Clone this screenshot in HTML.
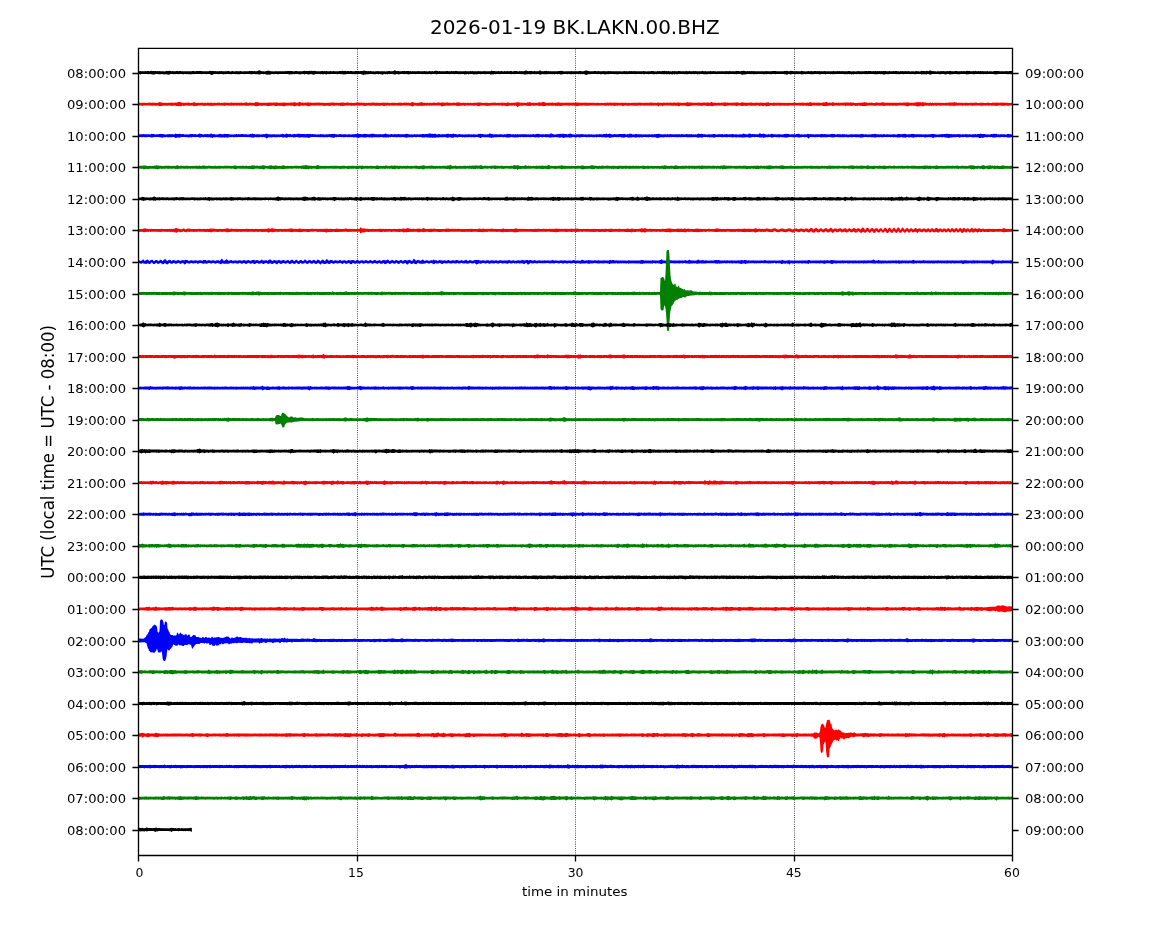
<!DOCTYPE html><html><head><meta charset="utf-8"><title>2026-01-19 BK.LAKN.00.BHZ</title><style>html,body{margin:0;padding:0;background:#fff;overflow:hidden;}svg{display:block;}text{font-family:'DejaVu Sans', 'Liberation Sans', sans-serif;fill:#000;}</style></head><body>
<svg width="1150" height="950" viewBox="0 0 1150 950">
<rect width="1150" height="950" fill="#fff"/>
<line x1="357.5" y1="855.5" x2="357.5" y2="48.4" stroke="#000" stroke-width="0.83" stroke-dasharray="0.83 1.37"/>
<line x1="575.5" y1="855.5" x2="575.5" y2="48.4" stroke="#000" stroke-width="0.83" stroke-dasharray="0.83 1.37"/>
<line x1="794.5" y1="855.5" x2="794.5" y2="48.4" stroke="#000" stroke-width="0.83" stroke-dasharray="0.83 1.37"/>
<g>
<path fill="#000000" d="M138.5 71.3l1-.1 1-.1 1 .1 1 0 1 0 1 .1 1-.2 1 .2 1-.3 1 0 1 .2 1-.2 1-.2 1 .3 1-.1 1 .1 1-.1 1 .2 1-.1 1 .2 1-.2 1 .2 1-.1 1 0 1 0 1 .2 1-.2 1-.2 1 0 1-.1 1-.1 1 .3 1 .2 1-.2 1 .1 1 0 1 .1 1-.2 1 0 1 .2 1-.2 1 0 1 .2 1 0 1 0 1-.1 1 0 1 0 1 0 1 .1 1-.1 1 0 1 0 1-.1 1 0 1 .1 1 0 1-.1 1 0 1-.1 1 0 1 .1 1 0 1 .1 1 0 1 0 1 0 1 0 1 0 1 .1 1-.3 1-.3 1 .2 1 0 1 .2 1 .1 1-.1 1 .2 1-.1 1 .1 1-.2 1 .1 1-.1 1 .1 1 .1 1-.1 1 0 1 0 1-.1 1 0 1 .2 1 .1 1-.2 1-.1 1 .1 1 .2 1-.1 1-.2 1 .2 1-.1 1 0 1-.2 1 .2 1 .2 1-.1 1-.1 1 0 1 .1 1 0 1 0 1-.2 1-.1 1 0 1 .1 1 .2 1-.2 1 .1 1 0 1-.1 1-.7 1-.1 1 .4 1 .5 1 .1 1-.1 1 .2 1-.1 1-.4 1-.2 1 .1 1 0 1 .4 1 .1 1 0 1 .1 1-.2 1 .1 1-.1 1 .1 1 0 1-.1 1 0 1 0 1 0 1 .1 1-.1 1-.2 1 .2 1-.2 1 0 1 0 1-.1 1 .2 1 0 1 .3 1-.1 1-.3 1 0 1 .3 1-.1 1 .1 1 0 1-.1 1 .1 1-.2 1-.3 1 .3 1-.2 1 0 1 .2 1-.3 1 .2 1-.2 1 .2 1-.1 1-.1 1 .3 1 .2 1 0 1-.1 1 .1 1 0 1-.2 1 0 1 .1 1-.1 1 .2 1-.4 1 .3 1 .1 1 0 1-.2 1 .1 1 .1 1-.2 1 .2 1 0 1 0 1-.1 1 0 1-.1 1-.2 1 .2 1-.4 1 .2 1 0 1-.1 1 .4 1-.1 1-.1 1 .2 1-.1 1 0 1 .2 1-.1 1 .1 1-.2 1 0 1-.1 1 .1 1 .2 1-.3 1 0 1 0 1-.3 1-.2 1 .4 1 .2 1 .1 1-.1 1 .1 1-.1 1 .2 1-.1 1 0 1 .2 1-.2 1 0 1-.1 1 .1 1 0 1 0 1 0 1 0 1 0 1 0 1 .2 1-.1 1 0 1-.2 1-.1 1 .3 1 0 1 0 1-.3 1-.7 1 .2 1 .7 1-.2 1 .1 1 .1 1 0 1 0 1-.1 1 0 1-.1 1 .2 1-.1 1-.1 1 0 1 .2 1-.1 1 .3 1-.5 1 .3 1 .1 1-.1 1 0 1 0 1-.2 1 .2 1 0 1 0 1 .1 1-.1 1-.1 1 .2 1-.1 1 .2 1-.2 1-.1 1 .1 1 0 1-.1 1 .3 1-.5 1-.2 1 .1 1 .1 1 .3 1-.1 1 .2 1-.1 1 0 1 .1 1-.1 1 .1 1-.2 1-.2 1 .4 1-.1 1 0 1-.2 1 .2 1-.2 1 .2 1-.1 1 0 1 .2 1 0 1-.1 1 0 1 0 1 0 1 .1 1-.1 1-.1 1 .1 1 0 1 0 1 0 1-.2 1 .2 1-.2 1 .2 1 0 1 .1 1 0 1 0 1-.2 1 .2 1-.1 1 0 1 .1 1-.1 1-.1 1 .1 1 0 1 0 1 .1 1-.1 1 0 1-.7 1 .6 1-.1 1-.1 1 .4 1 0 1 0 1-.4 1 .3 1 0 1-.2 1 .2 1 .2 1-.3 1 .1 1 0 1-.2 1 .2 1 .1 1-.4 1 .2 1 .3 1-.1 1-.2 1 0 1-.2 1 .3 1 .2 1-.3 1 .2 1-.2 1 .1 1 0 1-.2 1-.4 1 0 1 .5 1 .2 1-.2 1 0 1 0 1 .2 1-.1 1-.1 1 .1 1 0 1 .1 1 0 1-.9 1 .2 1 .6 1 .1 1-.1 1-.2 1-.1 1-.2 1 .5 1-.2 1 .2 1 0 1 0 1 .1 1 0 1 0 1-.1 1 .1 1-.1 1-.2 1 .1 1-.1 1-.2 1 .2 1 .2 1 .2 1-.2 1 .1 1-.1 1 0 1 .1 1-.1 1-.1 1 .1 1 0 1 .1 1 0 1-.1 1 .1 1-.1 1-.1 1 0 1 .1 1 0 1 0 1-.2 1-.6 1 .2 1 .2 1 .3 1 .1 1 0 1 .1 1-.1 1 .1 1-.3 1 0 1 .2 1 0 1-.2 1 .3 1-.1 1 0 1 .1 1-.2 1 .1 1 0 1 .1 1-.1 1-.1 1 .1 1-.1 1 .1 1 .1 1-.1 1 0 1 .1 1-.1 1 0 1 0 1 .1 1 0 1 .1 1-.1 1-.1 1-.1 1 .2 1 0 1 0 1-.1 1-.2 1 .2 1-.2 1 .2 1 0 1-.2 1 .3 1-.1 1 0 1 .1 1 0 1-.1 1 .1 1 0 1-.3 1 .2 1 0 1 .2 1-.2 1 .1 1-.1 1 0 1-.1 1 0 1-.1 1 .4 1-.2 1 .2 1-.3 1 .1 1-.1 1 .2 1-.1 1-.1 1-.2 1-.1 1 .5 1-.4 1 .3 1-.1 1 .2 1-.1 1 .2 1-.3 1 .1 1-.1 1 .1 1 0 1 .1 1-.4 1 .2 1 .2 1-.1 1 .1 1 0 1 0 1 0 1-.2 1 .2 1-.1 1-.1 1 .2 1 0 1-.1 1-.1 1 .1 1-.1 1 .2 1 0 1 0 1 0 1 0 1 0 1-.5 1 .5 1-.1 1-.1 1 .3 1-.2 1 .1 1 0 1-.3 1 .3 1-.1 1-.2 1 .3 1 0 1 .1 1-.2 1 .1 1 0 1 0 1-.1 1 .1 1-.1 1 .1 1-.1 1-.1 1 .1 1 0 1-.2 1 .2 1 0 1 .1 1 0 1 0 1 0 1-.2 1 0 1-.1 1 .2 1 .1 1-.4 1 0 1-.2 1 .2 1 .3 1 0 1-.1 1 .2 1-.2 1 .1 1-.2 1 .2 1-.2 1 .3 1-.1 1 0 1 0 1 .1 1-.1 1 0 1 0 1 .1 1-.1 1 .1 1-.1 1-.1 1 .1 1 .1 1-.1 1 0 1 0 1-.1 1-.1 1 .1 1 0 1 .1 1 0 1 0 1 0 1 0 1 .1 1 0 1-.1 1-.1 1-.1 1-.3 1 .3 1 .2 1 .1 1-.6 1 .3 1 .1 1 .2 1 0 1 0 1-.3 1 .2 1 0 1 0 1 0 1-.4 1 .1 1 .3 1 .1 1 .1 1-.1 1-.1 1-.1 1 .1 1 0 1-.1 1 .1 1 0 1-.3 1 .2 1 .1 1-.2 1 .2 1-.3 1 .4 1-.1 1 0 1 0 1-.1 1 .1 1 0 1 .1 1 0 1-.1 1 .1 1 0 1 0 1-.2 1 .1 1 0 1 0 1-.1 1 .2 1-.2 1 .1 1 .1 1-.3 1 .3 1 0 1 0 1 0 1-.1 1-.1 1 0 1 .1 1 .2 1-.2 1 0 1 .1 1 .1 1-.2 1 0 1-.1 1 .2 1-.1 1 0 1 0 1 0 1 0 1-.1 1 0 1 .1 1-.1 1 0 1 0 1 .2 1 0 1-.2 1 .1 1-.2 1 .2 1-.2 1 .3 1-.3 1 .2 1-.2 1 .3 1-.3 1 .1 1 0 1 .2 1 0 1 0 1-.3 1 .3 1-.1 1 .1 1-.3 1 .3 1-.2 1 0 1 .1 1 .1 1 .1 1-.3 1 .2 1-.2 1 .1 1 0 1-.2 1 .2 1 0 1-.1 1 .2 1 .1 1-.2 1 0 1 .1 1 .1 1-.2 1-.1 1 .1 1 0 1 .2 1-.2 1-.4 1 .2 1 .1 1 0 1 .1 1-.4 1 .2 1 .3 1-.7 1 0 1 .5 1 .1 1-.1 1 .1 1 0 1 .2 1-.2 1 0 1 0 1 0 1-.3 1 .3 1-.2 1 .3 1-.1 1 0 1-.1 1 .1 1-.3 1 .2 1 .2 1 0 1-.1 1 0 1-.2 1 0 1 .2 1 .1 1-.1 1 .1 1-.2 1 .2 1-.2 1 .1 1 0 1-.3 1-.2 1 .2 1 .2 1 .2 1 0 1-.1 1-.2 1 .3 1-.5 1 .5 1-.1 1-.2 1 .3 1-.2 1 .2 1-.2 1 .2 1 0 1 0 1 0 1-.4 1 .5 1-.1 1-.1 1 .1 1 .1 1-.2 1-.1 1-.2 1 .1 1 0 1 .1 1 .1 1 0 1 .1 1-.1 1 .1 1-.1 1 .1 1-.2 1 .2 1-.1 1-.2 1 0 1 .1 1 .1 0 2.8-1 .2-1 0-1-.2-1 .3-1 0-1-.4-1 .1-1 0-1 0-1 .1-1-.1-1 0-1 .1-1 0-1 .1-1 .1-1 .3-1-.4-1-.1-1 0-1-.1-1 0-1 .1-1-.1-1 .1-1 .1-1-.2-1 0-1 .2-1-.2-1 0-1 .2-1-.2-1 .1-1-.1-1 .1-1 0-1 .1-1 .1-1-.3-1 .1-1-.2-1 .1-1 .3-1 0-1 .2-1-.4-1 0-1 0-1-.1-1 0-1 0-1 .2-1 0-1 0-1-.2-1 0-1 0-1 0-1 .3-1-.1-1 .1-1 .2-1-.4-1-.1-1 .3-1 .1-1-.1-1-.3-1 0-1-.1-1 .3-1 0-1-.2-1 .1-1-.1-1 .1-1 0-1-.1-1 .1-1 .2-1 .4-1-.3-1-.4-1 .1-1 .4-1-.2-1-.1-1 0-1 0-1 .4-1-.5-1 0-1 0-1 0-1 0-1 .1-1 .1-1-.2-1-.1-1-.1-1 .4-1-.2-1 0-1-.2-1 .1-1 0-1-.1-1 .4-1-.2-1-.2-1 .2-1 .1-1 0-1-.2-1 .2-1-.2-1 0-1 .1-1-.1-1 .1-1-.1-1 .1-1 .2-1-.1-1-.2-1 .2-1 .3-1 .1-1-.4-1-.1-1 .1-1-.3-1 .2-1 .1-1 .1-1-.1-1 0-1-.2-1 .1-1 0-1-.1-1 0-1 0-1 .2-1-.1-1 .1-1-.1-1 0-1-.1-1 .2-1-.1-1 .1-1-.1-1 0-1 .1-1-.1-1-.1-1 .4-1-.4-1 .4-1-.3-1 .1-1-.2-1 .2-1-.1-1 .1-1 0-1-.2-1 .1-1-.1-1 .1-1-.1-1-.1-1 0-1 .1-1 .1-1 .1-1-.2-1 .2-1-.3-1 .4-1-.2-1 0-1 0-1-.1-1 .4-1-.3-1 0-1 0-1-.1-1 .2-1 .2-1-.3-1-.2-1 .2-1-.1-1 .1-1 .2-1-.1-1 0-1 0-1-.2-1 0-1 0-1 0-1 .2-1-.1-1 .2-1 0-1 .2-1-.4-1 0-1 .1-1-.2-1 .1-1 .1-1-.1-1-.1-1-.1-1 .4-1 .1-1-.3-1 0-1 .3-1 .4-1-.5-1-.1-1-.1-1 0-1-.1-1 .1-1-.1-1 0-1 .1-1-.1-1 .2-1-.1-1-.1-1 .1-1 .1-1-.3-1 .3-1-.1-1 0-1 .1-1-.1-1 .1-1 .1-1-.3-1 .1-1 0-1-.1-1 0-1 .1-1 .1-1-.2-1 .2-1 0-1-.3-1 .1-1 .2-1-.1-1-.1-1 .1-1 .2-1-.1-1 .4-1-.1-1 .2-1-.2-1-.4-1 0-1 0-1-.1-1 .2-1-.1-1 .2-1-.2-1-.1-1 .1-1 0-1 0-1 .1-1-.2-1 0-1 .2-1-.1-1 0-1-.1-1 .1-1-.1-1 .1-1-.1-1 .1-1 .1-1-.1-1 0-1 0-1 0-1 0-1 .2-1-.3-1 .1-1 .1-1 0-1 .1-1-.1-1 0-1-.3-1 .1-1 0-1 .2-1-.2-1 .4-1-.4-1 0-1 .2-1-.2-1 0-1 .2-1-.2-1 .1-1-.1-1 .2-1 .1-1-.2-1 .1-1-.2-1 .1-1-.1-1 0-1 0-1 .1-1 .1-1 .1-1-.3-1 .4-1-.4-1 .4-1-.1-1-.2-1 .3-1-.3-1 .1-1 0-1-.1-1 .2-1-.1-1-.1-1 .1-1-.2-1 0-1 0-1 0-1 .3-1-.2-1 .1-1 0-1-.2-1-.1-1 0-1 .2-1 .2-1-.2-1-.1-1 0-1 .2-1 0-1-.4-1 .4-1-.1-1-.1-1 .1-1-.1-1 .1-1 .1-1-.1-1-.1-1 .1-1 0-1-.2-1 0-1 .2-1 .1-1-.2-1 .3-1-.2-1-.1-1 .2-1-.2-1 0-1 0-1 .2-1 .1-1-.1-1-.2-1 .2-1-.2-1 .1-1-.1-1 0-1 .1-1 .1-1-.2-1 .2-1 0-1 .2-1-.4-1 .1-1 .2-1-.1-1-.1-1-.1-1 .2-1-.2-1 0-1 .1-1 0-1-.2-1 .2-1 .1-1 0-1-.2-1 .6-1 .4-1-.2-1-.5-1-.2-1 .1-1-.1-1 .1-1-.2-1 .2-1-.2-1 0-1 .1-1-.1-1 .2-1-.2-1 .2-1 0-1-.2-1 .1-1 .2-1-.2-1-.2-1 .1-1-.1-1 .4-1 .1-1 0-1-.3-1-.2-1 .3-1-.2-1 .1-1 .5-1-.7-1 .3-1-.2-1 .2-1-.1-1-.1-1 .2-1 .1-1 0-1-.1-1 .1-1-.2-1 .1-1 .5-1-.3-1-.4-1 .1-1 .1-1-.2-1 .2-1-.2-1 .1-1 .1-1 0-1 0-1-.1-1 .2-1 0-1 .2-1-.1-1-.1-1-.4-1 .3-1-.2-1 .1-1 0-1-.2-1 .1-1 0-1 .2-1-.2-1 0-1 .2-1-.1-1-.1-1 0-1 0-1 0-1 0-1 0-1 0-1 0-1 0-1-.1-1 .3-1-.1-1-.1-1-.1-1 .3-1-.1-1 .4-1-.3-1 .4-1-.2-1-.4-1 .1-1-.1-1 0-1 .2-1-.1-1 0-1 0-1 0-1 .1-1-.1-1-.1-1 .2-1 0-1 0-1 0-1 .2-1-.5-1 .1-1 0-1 .1-1 .3-1-.3-1 .1-1 0-1 .2-1-.4-1 0-1 .1-1 .1-1-.2-1 .2-1-.1-1 0-1 0-1 .2-1-.2-1-.1-1 .1-1 0-1 .1-1-.1-1 0-1-.2-1 .2-1 0-1 0-1-.2-1 .1-1 0-1 .1-1 0-1 0-1 .3-1-.3-1 0-1-.1-1 .1-1 .1-1 0-1-.1-1 0-1 .1-1-.2-1 .2-1-.1-1 0-1 .2-1-.3-1 0-1 .1-1 0-1-.1-1-.1-1 .4-1-.2-1 0-1-.1-1 .1-1 0-1 .1-1 .2-1-.1-1-.3-1-.1-1 .3-1-.1-1 0-1-.1-1 0-1 .2-1 .2-1-.4-1 0-1 .4-1 .1-1-.3-1-.1-1-.1-1-.1-1 .2-1 0-1 .3-1-.4-1 .3-1-.2-1 .1-1 .5-1-.5-1 0-1-.2-1 .2-1-.3-1 .2-1 .1-1 0-1 0-1-.2-1-.1-1 .1-1 0-1 .2-1 0-1 0-1 .2-1 0-1 .6-1-.6-1-.2-1-.1-1-.1-1 0-1 .1-1 0-1 .1-1 0-1-.1-1 .1-1-.2-1 0-1 .1-1 0-1 0-1-.1-1 .5-1-.2-1 .1-1-.2-1-.1-1 .1-1-.2-1 0-1 .2-1-.2-1 .1-1-.1-1 0-1 0-1 0-1 0-1 .2-1-.1-1-.1-1 .4-1-.2-1-.1-1 .1-1 0-1-.1-1 .1-1-.3-1 .2-1 0-1 0-1-.2-1 .5-1 .3-1-.3-1-.3-1 .2-1 0-1 .1-1-.2-1-.3-1 .2-1 .3-1-.3-1 0-1 0-1 .3-1-.2-1 .1-1-.3-1 0-1 .1-1 .1-1-.2-1 .2-1 0-1 0-1 .2-1-.1-1-.2-1 0-1-.1-1 0-1 .1-1 0-1-.1-1 0-1 0-1 .2-1 0-1-.1-1 0-1-.1-1 .2-1-.1-1 0-1 .4-1 .3-1-.2-1 .1-1-.2-1-.3-1-.1-1 .1-1-.2-1-.1-1 .3-1 .2-1 0-1-.3-1 .1-1 0-1-.1-1-.1-1 .3-1 0-1 0-1-.2-1 0-1 0-1 0-1-.1-1 .2-1-.2-1 0-1 .1-1 0-1 .2-1 0-1 0-1-.3-1 .2-1-.2-1 0-1 .1-1 .1-1-.1-1 .1-1-.2-1 0-1 0-1 .2-1-.1-1 .3-1-.3-1 0-1-.1-1 .1-1 .1-1-.2-1 .1-1-.1-1 0-1 .2-1 .5-1 .4-1-.5-1-.5-1 0-1 0-1 .1-1-.2-1-.1-1 .2-1-.1-1 .2-1-.1-1 0-1 0-1 0-1 0-1-.2-1 .2-1 .1-1-.1-1 .1-1 0-1 0-1 .1-1-.4-1 .3-1-.1-1 0-1 .1-1 .1-1-.2-1-.1-1 .1-1 .1-1-.3-1 .1-1 .2-1-.3-1 .3-1-.2-1 0-1 .1-1 .5-1 .1-1-.1-1-.4-1 0-1 .2-1-.2-1 0-1-.1-1 .2-1 0-1-.1-1-.2-1 .1-1 0-1 .4-1 .1-1-.1-1-.3-1-.2-1 .1-1 .1-1-.1-1 0-1 0-1 0-1 0-1 0-1-.1-1 .4-1-.5-1 .2z"/>
<path fill="#ff0000" d="M138.5 102.9l1-.3 1 .3 1-.2 1 0 1 .1 1 0 1-.1 1 .2 1-.2 1 .1 1-.2 1 .1 1 .1 1-.2 1 .1 1 0 1 0 1 .3 1-.3 1-.1 1-.6 1 .2 1 .4 1 .2 1-.1 1 .2 1-.1 1-.1 1 .2 1-.2 1 .1 1-.1 1-.1 1 .1 1 0 1 .1 1-.3 1 .3 1-.6 1-.1 1 0 1 .2 1 .2 1 .3 1 0 1 0 1 0 1 0 1 0 1-.4 1 .3 1 .2 1-.2 1 0 1-.3 1-.4 1 .8 1 .1 1-.1 1-.1 1 .2 1-.2 1 0 1-.1 1 .3 1-.2 1 .1 1 .1 1-.5 1 .3 1 .1 1 0 1-.2 1 .3 1-.2 1 0 1 .1 1 .1 1-.3 1 .1 1-.1 1 .3 1-.1 1 0 1 0 1-.4 1 .4 1-.1 1-.1 1 .3 1-.1 1-.1 1-.1 1 .2 1-.1 1 0 1 0 1 0 1 .1 1 0 1-.1 1 0 1-.1 1 .3 1-.1 1-.1 1-.3 1-.1 1 .5 1 .1 1-.5 1 .3 1 .1 1-.1 1 .2 1-.1 1-.7 1 .2 1-.4 1 .7 1 .1 1 .1 1 0 1 0 1-.1 1 .1 1 0 1 0 1-.1 1-.3 1 .3 1-.1 1 .2 1-.1 1-.1 1-.2 1 0 1 .1 1 0 1 .4 1-.1 1-.1 1-.3 1 .3 1-.2 1 0 1 .3 1 0 1 0 1-.1 1 .1 1-.2 1 0 1 0 1-.2 1-.4 1 .5 1 .2 1 .1 1-.4 1-.6 1 .4 1 .5 1-.2 1 .3 1-.1 1-.1 1 .1 1-.5 1 .2 1 .1 1 0 1 .2 1 .1 1 0 1-.1 1-.1 1 .2 1-.2 1 .1 1-.1 1 .1 1 .1 1 0 1 0 1 .1 1-.1 1 .1 1-.1 1-.1 1 .1 1 0 1-.2 1-.1 1 .1 1 .1 1 .1 1-.1 1 .1 1 .1 1-.2 1 0 1-.1 1 0 1-.2 1 .3 1 .2 1-.4 1 .1 1-.1 1 .4 1-.1 1-.1 1 .2 1 0 1-.2 1 .1 1-.2 1 .1 1-.1 1 0 1 .2 1-.3 1 .3 1 0 1-.1 1 .2 1-.1 1 .1 1-.1 1 0 1 0 1-.1 1-.1 1 0 1 .1 1 .1 1 0 1 0 1-.1 1 .2 1-.2 1 .1 1 0 1-.2 1 .1 1 .1 1-.1 1-.2 1 .4 1-.1 1 .1 1-.1 1 0 1-.1 1 .1 1-.1 1 .2 1 0 1-.3 1 .2 1-.2 1 .1 1 .2 1-.1 1-.3 1 .2 1-.2 1 .4 1-.3 1 .3 1-.1 1-.6 1-.1 1 .4 1 .2 1 .1 1 .1 1-.1 1-.1 1-.1 1-.2 1-.3 1 .4 1 .3 1 0 1 0 1 .1 1-.3 1 .3 1-.2 1 .1 1 .1 1-.2 1 0 1-.2 1 .2 1 .2 1-.3 1 0 1 0 1 .1 1-.1 1-.1 1 0 1 .2 1 .1 1-.6 1 .3 1 .3 1-.1 1 0 1 .2 1-.2 1 .1 1-.3 1 .4 1-.5 1-.2 1 .2 1 .1 1 .3 1 .1 1-.1 1 0 1 0 1 0 1 .1 1-.2 1 0 1 .2 1-.3 1 .3 1 0 1-.2 1 .1 1-.1 1 .1 1-.4 1 .1 1 0 1-.1 1 .4 1 0 1 .1 1-.2 1 0 1 0 1 0 1 .2 1 0 1-.2 1 .1 1-.1 1-.2 1 .3 1-.2 1 .3 1-.2 1 .1 1 0 1-.1 1 .1 1-.3 1 .2 1 .1 1-.1 1 .2 1-.6 1 .3 1 .2 1 .1 1-.1 1 0 1-.1 1 .1 1-.2 1 0 1-.4 1 0 1 .4 1 .1 1 .1 1-.1 1 0 1 0 1 .1 1 .1 1-.6 1 .2 1-.2 1-.1 1 .7 1-.1 1 0 1-.1 1 0 1 0 1 .1 1-.3 1-.3 1 .3 1 .1 1-.5 1-.1 1 .3 1 .2 1 .4 1-.1 1 0 1-.1 1 0 1 .1 1-.2 1 .1 1 .1 1-.1 1 0 1-.3 1-.1 1 .5 1-.1 1 .1 1 0 1 0 1-.1 1 0 1-.1 1 .2 1 0 1-.2 1 .1 1 0 1 .1 1-.2 1 .1 1-.2 1 0 1-.1 1 0 1 .4 1 0 1 0 1 0 1-.1 1 0 1-.1 1 .2 1-.1 1 0 1 0 1 .1 1-.1 1 0 1 0 1 0 1 .2 1-.2 1 0 1 0 1 .2 1 0 1-.2 1 .2 1 0 1-.2 1 .1 1 0 1-.2 1 .1 1 0 1-.1 1 .1 1 .1 1 0 1-.3 1 .2 1 .1 1-.1 1 0 1 .2 1-.2 1 .1 1 0 1 0 1-.1 1 .1 1-.1 1 .3 1-.2 1 0 1 .1 1-.2 1 .1 1-.1 1 0 1 .1 1 0 1 0 1 0 1-.2 1 .1 1 .1 1 0 1 .2 1-.2 1-.1 1 0 1 .1 1-.1 1 0 1-.1 1 0 1 .2 1-.1 1 .1 1 0 1 .1 1-.4 1 0 1 .2 1 .1 1 0 1 .1 1-.4 1 .3 1-.1 1 0 1-.1 1 .2 1 0 1-.2 1 .2 1-.1 1-.1 1 0 1 .2 1 0 1-.4 1 0 1 0 1 .3 1 0 1 .2 1-.1 1-.1 1 .1 1-.2 1-.5 1 .5 1-.1 1 0 1 .1 1 .1 1 .1 1 0 1 0 1-.1 1 .1 1-.2 1 .2 1 0 1-.1 1 0 1-.1 1 0 1 .2 1-.2 1-.1 1 0 1 .3 1-.4 1-.6 1 .7 1 .3 1-.2 1 .2 1 .1 1-.2 1 0 1 0 1 .2 1-.3 1 .1 1-.1 1-.1 1-.3 1 .6 1-.4 1 .4 1 0 1-.1 1 .1 1 0 1-.2 1 .1 1-.1 1-.2 1-.2 1 .5 1 .3 1-.3 1-.1 1-.3 1 .2 1 .2 1 .1 1 0 1 0 1-.1 1 0 1-.3 1 .1 1 .2 1 .2 1-.2 1 .1 1-.2 1 .2 1-.1 1 .1 1-.4 1 .4 1 0 1 0 1 .1 1-.2 1-.2 1-.1 1-.2 1 .7 1-.1 1-.1 1 .2 1-.3 1 .2 1-.1 1 .1 1 0 1 0 1 0 1 0 1-.1 1 .2 1-.1 1 0 1 .1 1-.2 1 .2 1-.2 1 .2 1-.1 1 .1 1-.2 1 .1 1-.2 1 .2 1 0 1 .1 1-.1 1-.1 1 .1 1 0 1-.3 1 .3 1-.1 1 .2 1-.1 1-.2 1 .1 1-.4 1-.1 1 .2 1 .3 1-.1 1 .2 1-.1 1 .1 1 0 1-.2 1 .2 1 0 1 0 1-.1 1-.5 1 .2 1-.2 1-.5 1 .7 1 .3 1-.2 1 .3 1 0 1-.5 1 0 1 .4 1 .2 1-.4 1 .4 1-.3 1 .2 1 0 1 0 1 0 1-.1 1-.1 1 0 1-.1 1 .1 1-.1 1 .2 1-.4 1 .4 1-.1 1 0 1 .3 1 0 1 .1 1-.1 1-.1 1-.1 1 0 1 0 1-.2 1 0 1-.4 1 .5 1-.1 1 .2 1 .2 1-.4 1 .2 1-.2 1 .3 1 .1 1 0 1-.1 1-.5 1 .4 1 0 1 .1 1 0 1-.2 1-.3 1 0 1 .5 1 0 1-.1 1 .1 1-.1 1 0 1 0 1 .1 1 0 1-.1 1 0 1 .1 1 0 1 .2 1-.2 1-.4 1 .3 1 0 1 .1 1-.2 1 0 1 0 1-.2 1-.1 1 .1 1 .3 1 .1 1 0 1-.1 1 .1 1-.2 1-.1 1-.2 1-.1 1-.3 1 .4 1 0 1 .4 1-.7 1 .3 1 .3 1 0 1 .2 1 0 1 .1 1-.1 1-.2 1 .3 1-.3 1 .3 1-.1 1-.1 1 .1 1 0 1 0 1-.1 1 0 1 0 1 .2 1-.2 1 .2 1-.2 1 0 1 .1 1 0 1-.5 1 .5 1-.2 1 0 1-.1 1-.5 1 .6 1 0 1 .3 1-.1 1 0 1-.1 1 0 1 0 1 .2 1-.2 1 .1 1-.1 1 0 1 .2 1-.2 1 0 1 .1 1-.1 1 .1 1 0 1-.2 1-.1 1 .4 1 0 1-.2 1 0 1 .1 1 0 1-.1 1 .2 1 0 1-.1 1 0 1-.2 1 .3 1 0 1 0 1-.3 1 .1 1 .1 1-.2 1 .2 1-.2 1 .2 1 0 1 0 1-.3 1 .2 1-.3 1 .4 1 0 1-.1 1 .1 1 .1 1 0 1 0 1-.2 1 .1 0 2.7-1 .1-1-.1-1 .1-1 .1-1 0-1-.1-1 0-1 .2-1 0-1 0-1 0-1-.2-1-.1-1 0-1 .3-1 .2-1-.3-1 0-1-.1-1 .1-1 0-1-.1-1 0-1 .1-1-.1-1-.1-1 .3-1-.2-1 0-1 .1-1 0-1 0-1-.1-1 0-1 0-1 0-1 0-1 .2-1-.2-1 .5-1-.5-1-.1-1 .1-1 0-1 .1-1-.2-1 .2-1-.2-1 .1-1 .1-1-.1-1 0-1-.1-1 .1-1 .2-1-.3-1 .3-1 .1-1-.1-1 0-1-.1-1 0-1 0-1-.1-1 0-1 .1-1-.2-1 .1-1 0-1 0-1 0-1 .1-1-.1-1-.1-1 0-1 .5-1-.4-1-.1-1 .2-1-.1-1 .3-1-.3-1 .1-1 0-1-.2-1 .2-1-.2-1 .3-1 .2-1 .4-1-.7-1 .1-1 .5-1 0-1 .1-1-.1-1-.6-1 0-1 .1-1-.2-1 .1-1-.1-1 .2-1 .2-1 .4-1-.5-1-.2-1-.1-1 0-1 0-1 0-1-.1-1 .1-1-.1-1 .2-1 0-1 0-1-.1-1 .1-1 .1-1-.3-1 .2-1 0-1-.1-1 .1-1-.1-1 .2-1-.1-1 .3-1-.2-1-.3-1 .2-1 0-1-.1-1-.1-1 .2-1 0-1 .1-1 0-1-.3-1 .1-1-.1-1 0-1 0-1 .3-1-.1-1 .2-1 .2-1 0-1-.1-1-.3-1 .2-1-.3-1 0-1 .3-1-.2-1 .2-1-.4-1 0-1 .2-1 .3-1-.3-1-.1-1 .2-1 0-1-.2-1 .6-1-.6-1 0-1 0-1 0-1 0-1 .1-1 0-1-.1-1-.1-1 .1-1 0-1 .4-1-.1-1-.3-1-.1-1 .2-1-.1-1 .3-1 .1-1 0-1 0-1-.1-1-.1-1-.2-1 0-1 .2-1 0-1-.2-1 .1-1-.2-1 .1-1 0-1 0-1 .3-1 .2-1-.3-1 .3-1-.5-1 .5-1-.5-1-.2-1 .3-1 0-1-.2-1 .2-1-.1-1 0-1 0-1 0-1-.1-1 .1-1 .1-1-.3-1 .1-1 .1-1-.1-1 .3-1-.1-1 0-1-.1-1 .1-1-.2-1 .2-1-.1-1 .1-1 0-1-.1-1 0-1 .2-1-.3-1 .2-1 .2-1-.4-1 0-1 .1-1 .2-1 .2-1 .1-1 .3-1-.6-1-.2-1 .4-1-.1-1-.4-1 .3-1 .1-1-.4-1 .1-1 0-1 .1-1 .1-1-.2-1 .1-1 0-1 0-1-.1-1 0-1 .1-1 0-1 .2-1-.3-1 .2-1 .3-1-.2-1-.3-1 0-1 0-1 .2-1 .5-1-.5-1-.2-1-.1-1 .3-1-.3-1 .1-1-.1-1 .1-1 .1-1 0-1 .4-1 .2-1-.6-1-.1-1-.1-1 .1-1 .1-1-.1-1-.1-1 .2-1-.1-1 .2-1-.1-1 .5-1-.1-1-.3-1 0-1 .2-1 0-1-.3-1 0-1-.1-1-.1-1 .2-1 .2-1-.4-1 .3-1-.1-1-.2-1 .1-1-.2-1 .2-1-.1-1 0-1 .2-1 0-1 .2-1 .4-1-.1-1-.2-1-.2-1-.3-1 0-1 .2-1-.2-1 .1-1 .3-1 .4-1-.5-1 0-1-.1-1-.1-1 .1-1 0-1 0-1-.1-1 0-1 0-1 0-1 0-1 0-1 0-1-.1-1 .7-1-.7-1 .3-1-.3-1 1-1-.7-1-.2-1-.1-1 .1-1 .1-1-.2-1 .2-1-.2-1 .2-1-.1-1 .1-1-.1-1-.1-1 .3-1-.3-1 0-1 .1-1 .1-1-.1-1 0-1 .1-1 0-1 0-1 .1-1-.2-1 .2-1-.3-1 .1-1 .1-1 0-1 0-1-.1-1 0-1 0-1 .3-1 0-1-.4-1 .1-1-.1-1 .1-1 .1-1-.2-1 .3-1 .1-1-.2-1-.1-1 .2-1-.4-1 .1-1 .2-1-.1-1 0-1 .4-1-.5-1 0-1 .1-1-.1-1 .1-1 0-1 .1-1-.2-1 .2-1-.1-1-.1-1 0-1 .1-1-.2-1 .2-1 0-1 .2-1 0-1 0-1 0-1-.3-1 .1-1 0-1 .1-1-.2-1 .2-1 0-1 .5-1-.2-1-.3-1 0-1-.1-1 .1-1-.1-1 0-1 .1-1 0-1-.2-1 0-1 .1-1-.1-1 .1-1 .1-1 0-1 .2-1-.2-1 0-1 .4-1-.3-1 .1-1-.3-1 .1-1 0-1 0-1-.1-1 .1-1 0-1-.1-1 0-1 .4-1 0-1 .3-1-.2-1-.4-1 .1-1 .1-1-.2-1-.1-1 0-1 0-1 .1-1 0-1-.1-1 0-1 .6-1-.4-1 .2-1-.2-1-.1-1-.2-1 .1-1 0-1 .1-1 0-1-.1-1 .2-1 .6-1 .9-1-1.3-1-.5-1 .2-1-.1-1 0-1 .1-1-.2-1 .2-1 0-1 .6-1-.4-1-.2-1 .1-1-.2-1 .3-1-.5-1 .1-1 .1-1-.1-1 .1-1 0-1 0-1-.1-1 0-1 .1-1-.1-1 .2-1 .1-1-.1-1 .2-1-.1-1-.1-1-.2-1 .1-1 0-1 0-1 0-1 .7-1-.2-1-.2-1-.3-1-.1-1 .2-1 0-1-.2-1 0-1 .1-1 0-1-.1-1 .1-1 0-1 0-1 .3-1-.3-1-.1-1 .2-1 .1-1 0-1 .1-1 0-1-.2-1-.1-1-.1-1 .1-1 0-1 0-1 .1-1-.1-1 .1-1-.1-1 0-1 .2-1 0-1 .1-1 .4-1 .2-1-.9-1 0-1 0-1 0-1 0-1 0-1 0-1-.2-1 .1-1 .3-1-.2-1 .2-1-.3-1 .1-1 .1-1-.1-1 .1-1 0-1 0-1 .4-1-.3-1-.1-1 .2-1-.2-1 0-1-.1-1 0-1 .3-1 .5-1-.3-1-.4-1 0-1-.1-1 0-1-.1-1 0-1 .1-1 0-1-.1-1 .2-1 .1-1-.2-1 .1-1-.1-1 0-1-.1-1 .2-1-.2-1 .3-1-.3-1 0-1 .2-1-.2-1 0-1 .3-1-.2-1 .3-1 0-1-.3-1 0-1 .1-1 0-1 0-1 0-1 0-1 0-1 0-1-.2-1 0-1 .2-1 0-1-.1-1 0-1-.1-1 .2-1 0-1 .3-1-.3-1-.1-1 0-1-.1-1 .2-1-.2-1 .1-1 0-1 0-1 .2-1-.1-1-.3-1 .5-1-.3-1 0-1-.1-1 .1-1-.1-1 0-1 .3-1 0-1 .3-1-.4-1 .3-1-.4-1 .1-1-.2-1 .1-1-.1-1 .3-1-.1-1-.1-1 0-1 .1-1 .2-1-.1-1-.2-1 .2-1-.1-1 0-1 .2-1-.3-1-.1-1 0-1 .1-1 0-1 0-1 0-1 0-1 .2-1-.3-1 .1-1 0-1 .2-1 .1-1 .3-1-.2-1-.3-1-.2-1 .1-1 .1-1 0-1-.1-1 .2-1 .5-1-.4-1-.3-1 .1-1 .3-1 .5-1-.5-1-.4-1 .1-1 .1-1-.2-1 0-1 .2-1-.2-1 .3-1 .3-1 .1-1-.4-1-.2-1 0-1 .2-1-.3-1 .3-1 0-1 0-1-.1-1-.3-1 .1-1 .1-1 0-1 .3-1-.1-1 0-1-.2-1-.1-1 .1-1-.1-1 .2-1-.1-1 .1-1-.3-1 .4-1 .2-1 .1-1 .1-1-.6-1-.1-1 .1-1-.2-1 0-1 0-1 .3-1-.1-1 .1-1 0-1-.2-1 0-1-.1-1 .2-1-.1-1 .2-1-.2-1-.1-1 .2-1-.2-1 .1-1 .2-1-.3-1 .3-1-.2-1 .1-1-.1-1 0-1-.1-1 0-1 .4-1-.3-1 .1-1-.2-1 .1-1-.2-1 .2-1 0-1-.1-1 0-1 .2-1 0-1 0-1 .2-1-.2-1 0-1 0-1-.1-1 .1-1-.2-1 .4-1-.2-1-.1-1 0-1 0-1-.1-1 .1-1 .1-1 .2-1-.2-1 .6-1-.3-1-.4-1 .1-1-.2-1 .2-1 .1-1-.3-1 .1-1 0-1 .1-1 .2-1-.3-1 .4-1 .2-1-.3-1 .4-1-.3-1 0-1-.3-1-.1-1 .1-1 0-1 .1-1-.1-1-.1-1 0-1 .2-1-.1-1-.2-1 .3-1-.2-1 .1-1 .2-1 .2-1-.2-1-.2-1-.1-1 .2-1-.1-1 0-1-.2-1 .2-1 .1-1-.3-1 .1-1 0-1-.1-1 .1-1 0-1 0-1-.1-1 .4-1-.3-1 0-1 0-1-.1z"/>
<path fill="#0000ff" d="M138.5 134.4l1-.2 1 .1 1 0 1-.1 1-.1 1 .2 1-.1 1 .1 1 0 1-.1 1 0 1 .2 1-.6 1 .3 1 0 1 .2 1 .1 1-.2 1 0 1 0 1-.1 1 0 1-.2 1 .2 1 .2 1-.1 1 .2 1 0 1-.2 1 0 1-.1 1 .1 1 .1 1-.3 1 .4 1-.2 1-.6 1 .3 1 .1 1-.1 1-.1 1 .3 1 .1 1-.1 1 0 1 .3 1 0 1-.1 1 .1 1 0 1-.1 1-.4 1 .2 1 0 1 .2 1-.1 1-.1 1 .3 1 0 1-.3 1-.5 1 .2 1 .3 1 .2 1 .1 1-.1 1-.2 1 .1 1-.1 1 .2 1-.1 1-.5 1-.2 1 .8 1-.3 1 .3 1 .2 1-.1 1 0 1-.1 1-.2 1-.4 1 .5 1 0 1 0 1-.5 1 .3 1 .1 1-.1 1 .1 1 .3 1-.1 1 .1 1 0 1 0 1-.1 1 0 1-.2 1 .3 1-.3 1 .1 1 .1 1-.2 1 0 1 .2 1 0 1 0 1 0 1 .1 1 0 1-.1 1-.3 1 0 1-.4 1 .3 1 .2 1 .3 1-.1 1 0 1 0 1 0 1 .1 1-.1 1 .1 1-.5 1 .4 1-.2 1-.5 1 .4 1 .3 1 0 1 0 1 .1 1-.1 1 0 1 0 1 .1 1-.1 1 .1 1-.2 1 .2 1-.2 1 .1 1-.5 1 .3 1 .3 1-.5 1-.5 1 .7 1 .2 1-.2 1 0 1 .3 1-.2 1 0 1-.5 1 .5 1 .1 1-.5 1 0 1-.1 1 .4 1 0 1-.1 1 0 1 0 1 .2 1-.1 1-.2 1 .1 1-.1 1 .2 1 .1 1-.1 1 .2 1 0 1-.1 1 .2 1 0 1-.2 1 .2 1-.3 1 .1 1 .1 1-.1 1 .2 1 0 1-.1 1 0 1-.1 1-.1 1 .2 1-.3 1 .1 1-.1 1-.2 1 .4 1 .1 1 .1 1-.2 1 .1 1-.2 1 .2 1 .1 1-.1 1-.1 1 .1 1 .1 1 0 1-.1 1 0 1 .1 1 0 1-.1 1 0 1-.1 1-.1 1-.1 1-.2 1-.1 1 .3 1 .1 1 .2 1 0 1-.2 1-.4 1 .2 1 0 1 .3 1 .1 1 0 1-.2 1-.4 1 .1 1-.1 1 .4 1 .2 1 0 1-.1 1 0 1 .1 1-.2 1 .4 1-.2 1 0 1-.2 1-.5 1 .4 1 .2 1 .1 1 .1 1-.1 1-.2 1 .2 1 .1 1-.3 1 .2 1-.1 1 .1 1-.3 1 .3 1 0 1-.1 1 0 1 .1 1-.1 1-.3 1-.2 1 .3 1 .2 1 .1 1 .2 1-.2 1 .1 1 0 1-.3 1 .3 1-.1 1 0 1 .1 1-.1 1 0 1-.1 1-.2 1 0 1 .3 1-.2 1 0 1-.1 1-.2 1-.2 1-.2 1 .4 1 0 1 .2 1-.2 1 0 1 .4 1 .2 1-.5 1 0 1 .5 1 0 1-.3 1 .2 1 0 1 0 1-.4 1-.2 1 0 1 .5 1-.2 1-.1 1 .1 1-.5 1 .6 1 0 1 .2 1 .1 1-.1 1-.2 1 .2 1 .1 1-.1 1 .1 1 0 1-.1 1 .1 1-.1 1 0 1-.1 1 .2 1-.1 1 .2 1-.2 1 0 1 .1 1 0 1 0 1-.7 1 .2 1-.1 1 .2 1 .1 1 .2 1 .2 1-.3 1 .3 1-.3 1 0 1-.6 1-.1 1 .4 1 .2 1 .3 1-.2 1 .1 1 0 1 0 1 .1 1-.1 1-.1 1 .1 1 .1 1 0 1-.1 1 0 1 0 1-.6 1 .3 1 0 1 .1 1 .4 1-.3 1 0 1 .2 1-.3 1 .3 1-.3 1 .4 1-.3 1 .1 1 0 1-.1 1 0 1 0 1 .1 1-.1 1 .2 1-.1 1 .1 1-.1 1 .1 1-.1 1-.2 1 .3 1-.1 1-.2 1-.4 1 .3 1 .1 1 .4 1-.3 1 0 1 0 1 .2 1-.3 1 .2 1 0 1 0 1 0 1-.7 1 0 1 .5 1 .1 1 .2 1 0 1-.2 1 0 1-.1 1-.2 1-.2 1 .2 1-.2 1 .1 1 .3 1-.2 1 .1 1 .4 1-.3 1-.4 1-.1 1 .5 1 .2 1 .1 1 0 1 0 1-.2 1 .1 1 0 1 0 1-.1 1-.3 1 .4 1 0 1 .1 1-.2 1 .3 1-.1 1-.2 1 .1 1 .1 1-.1 1 .1 1 0 1 0 1 0 1-.1 1 0 1 .1 1-.3 1 .2 1 0 1 .1 1-.3 1 0 1-.2 1-.3 1 .7 1-.2 1-.6 1 .5 1 .2 1 .2 1-.1 1-.2 1 .1 1 0 1 0 1 .1 1-.3 1 .1 1-.2 1 0 1 .1 1-.2 1 .4 1 .2 1-.4 1 .2 1-.4 1 0 1 0 1 .6 1-.1 1 .1 1-.4 1-.1 1 .4 1 0 1 0 1 0 1 0 1 .1 1-.1 1 .1 1-.2 1 0 1 .2 1-.2 1 .1 1 .2 1-.2 1 0 1 .1 1-.3 1 .2 1-.4 1 0 1-.2 1 .2 1 .3 1 .1 1 .2 1-.3 1 0 1 .1 1 .1 1-.3 1 .3 1-.1 1-.2 1 .1 1 .1 1 .1 1-.1 1 0 1 0 1-.1 1 .1 1 0 1 .1 1-.3 1 .1 1 .1 1 .1 1-.1 1-.2 1 .1 1 0 1 0 1 .1 1-.4 1 .5 1-.2 1 .2 1-.1 1 .2 1-.4 1-.5 1 .4 1 0 1-.2 1 .3 1 .2 1-.1 1 0 1 .2 1 .1 1-.2 1-.1 1 .2 1-.2 1 .1 1-.2 1-.2 1 .4 1 .1 1 .1 1-.4 1 .2 1 0 1-.1 1-.1 1 .3 1-.2 1 0 1-.1 1 .2 1 .1 1-.1 1-.1 1 0 1-.3 1 .4 1 .1 1-.2 1 0 1 .2 1 0 1-.1 1-.1 1 .3 1-.4 1-.7 1 .6 1 .3 1-.1 1 .2 1-.6 1-.2 1 .1 1 .5 1-.2 1 .2 1-.1 1 .2 1-.1 1 .1 1-.1 1-1 1 .3 1 .5 1 0 1-.5 1 .4 1 .4 1 .1 1 0 1-.3 1 .4 1-.2 1-.6 1 .2 1 .3 1 0 1 .1 1 .2 1-.2 1-.1 1 0 1 .1 1 .1 1 0 1-.1 1-.2 1 0 1-.3 1 .3 1-.1 1 .3 1 .1 1-.1 1 0 1 0 1 0 1 .1 1-.3 1-.1 1-.3 1 .3 1 .4 1-.2 1 .2 1 0 1-.1 1-.1 1 .3 1-.7 1 .2 1 .2 1-.2 1 .2 1 .1 1 0 1 .1 1-.1 1 0 1-.1 1 0 1 .1 1-.1 1-.3 1 .1 1 .3 1-.2 1 .1 1 .1 1 0 1 .1 1-.1 1 0 1-.4 1 0 1 .1 1 .1 1 .3 1 .1 1-.4 1 .2 1-.1 1 .1 1 .1 1-.3 1 .2 1 0 1 .1 1-.1 1 .1 1 0 1 0 1-.1 1-.1 1 .1 1 .1 1-.1 1-.1 1 0 1 .1 1 .1 1-.2 1 0 1-.2 1-.1 1 .4 1 .1 1-.2 1 .1 1 .1 1 0 1-.1 1 .1 1-.2 1-.2 1 .2 1-.4 1 .2 1 .2 1 .1 1 0 1 .1 1-.2 1 .1 1 .1 1-.4 1 .3 1 .1 1-.1 1 0 1 .1 1-.2 1 .2 1 0 1-.1 1 0 1-.1 1 .2 1 0 1-.1 1-.3 1 .1 1 .1 1 .1 1-.2 1-.2 1-.1 1 .2 1 .2 1 .2 1-.2 1 .1 1 0 1-.4 1 .1 1-.2 1 .4 1 0 1 .1 1-.1 1 0 1 .1 1-.1 1 .1 1 .1 1-.1 1 .1 1-.1 1-.1 1 .2 1-.2 1 .1 1 0 1-.3 1 0 1 .1 1 .2 1 0 1 .1 1 0 1 0 1-.1 1 0 1 0 1-.2 1 .1 1-.1 1 0 1-.3 1-.1 1 .2 1 0 1 .3 1-.2 1 .2 1 .1 1 0 1-.1 1 .1 1 0 1-.3 1 .3 1 0 1 .1 1-.1 1 0 1 .1 1-.3 1 .2 1 0 1 .1 1-.3 1 .3 1 0 1-.2 1 .1 1-.1 1-.1 1 .3 1-.3 1 0 1-.1 1-.5 1 .6 1-.1 1 0 1 0 1 .3 1 .1 1-.2 1 .2 1 .1 1-.2 1-.3 1 .2 1-.5 1 0 1 .2 1-.2 1 .7 1-.1 1 .2 1-.2 1-.1 1 .1 1-.1 1 .1 1 .1 1 0 1-.4 1-.1 1 .3 1-.1 1 .3 1 0 0 2.8-1-.1-1 .4-1-.1-1 0-1 0-1-.2-1-.1-1 .1-1 0-1-.2-1 0-1 .3-1 0-1 0-1-.2-1 .1-1 .3-1 .1-1 0-1-.2-1-.4-1 .2-1-.2-1 .1-1 .1-1 .1-1-.2-1 .1-1 .6-1 .2-1-.6-1 .7-1-.2-1-.5-1-.1-1 0-1 0-1 0-1 .1-1-.2-1 0-1-.1-1 0-1 .1-1 0-1 .2-1-.4-1 .1-1 0-1 .1-1-.2-1 .2-1 .5-1-.6-1 0-1 0-1 .1-1 0-1 .1-1 0-1 .3-1-.2-1 .4-1 .1-1-.2-1-.3-1 .1-1-.3-1-.1-1 .2-1-.1-1-.1-1 .1-1 0-1-.1-1 .1-1 .1-1-.1-1 .8-1-.3-1-.5-1 .1-1-.1-1-.1-1 .1-1 0-1 .2-1 0-1-.3-1-.1-1 .2-1-.2-1 .2-1-.1-1 0-1 .1-1 .1-1 0-1 .5-1-.4-1-.1-1-.1-1 0-1 .2-1-.4-1 .3-1 .4-1-.1-1-.1-1-.1-1-.3-1 .2-1 .2-1-.1-1 0-1-.2-1 0-1-.2-1 .4-1-.3-1 0-1 .1-1-.1-1 0-1 0-1 .1-1-.2-1 .1-1 .2-1 0-1-.1-1-.1-1 .2-1-.1-1-.2-1 .2-1 .3-1 0-1-.2-1-.1-1 0-1 0-1-.2-1 .2-1 .1-1-.2-1-.1-1 .1-1 .1-1 .3-1-.1-1 .3-1-.4-1-.1-1 0-1 0-1 .1-1-.2-1 0-1 .1-1 0-1 0-1-.2-1 .4-1-.2-1 0-1-.1-1 .1-1 .1-1-.1-1 .1-1-.1-1 .1-1 0-1-.2-1-.1-1 .1-1 .2-1 .3-1 0-1-.4-1 .1-1-.2-1-.1-1 .3-1 0-1-.1-1 .1-1 0-1 0-1 .2-1-.3-1-.1-1-.1-1 .3-1-.2-1 .1-1 0-1-.2-1 .2-1-.1-1 0-1 .3-1 1.4-1-1.2-1-.5-1 .1-1 0-1-.1-1 0-1 .1-1 .1-1 .2-1 .1-1-.4-1-.1-1 .2-1 0-1 0-1 0-1-.2-1-.1-1 .1-1 .1-1 .1-1 .4-1-.3-1 .1-1-.3-1 0-1 0-1-.1-1 .3-1-.2-1 0-1 0-1-.1-1-.1-1 .3-1 .1-1 .4-1-.7-1 0-1-.1-1 .2-1 .1-1 0-1 .1-1 .7-1-.8-1 .1-1 .2-1-.1-1-.5-1 .2-1-.2-1 .1-1 .2-1-.2-1-.1-1 .3-1 .3-1 .2-1-.3-1-.5-1 .2-1 0-1 .4-1-.1-1-.1-1 .1-1-.2-1 .1-1-.2-1 0-1 .3-1-.3-1 0-1 .1-1 .1-1-.1-1-.2-1 .1-1-.1-1 .2-1-.1-1 0-1-.1-1 .1-1 0-1 0-1-.2-1 .1-1 .2-1-.2-1 0-1 .2-1 .5-1-.3-1-.3-1 0-1 0-1 .2-1-.3-1 .1-1-.2-1 .1-1 0-1 0-1 .3-1 .3-1-.4-1 .1-1 .3-1-.3-1-.2-1-.1-1 .1-1-.2-1 .2-1 0-1 .1-1-.1-1 0-1 .1-1-.1-1-.1-1 0-1 .1-1-.1-1 .1-1 .1-1-.3-1 .3-1-.1-1 0-1-.1-1 .1-1-.1-1 0-1 .1-1-.1-1 .1-1 0-1-.1-1 .1-1-.2-1 .2-1 .2-1-.2-1 .1-1-.1-1 .4-1 .1-1 .2-1-.1-1-.5-1-.1-1 0-1 0-1 0-1-.1-1 0-1 .3-1-.3-1 .2-1-.2-1 0-1 0-1 .1-1 .2-1-.3-1 .3-1-.2-1 .1-1 .1-1 0-1 .1-1-.5-1 .2-1 .3-1-.1-1 .1-1 .2-1-.4-1-.2-1 .2-1 .1-1 .3-1-.2-1 0-1-.4-1 0-1 .1-1-.1-1 .2-1-.3-1 .1-1 .1-1 .1-1 .3-1-.2-1 .6-1-.7-1-.1-1 .4-1 0-1-.3-1 0-1-.1-1 0-1-.2-1 .2-1-.2-1 .1-1 .3-1-.3-1 .1-1 .1-1-.1-1-.2-1 .1-1 .1-1-.2-1 .2-1 0-1-.3-1 .2-1 0-1 0-1 .1-1 .1-1 .1-1-.2-1-.1-1 .3-1-.1-1-.1-1-.1-1-.1-1 .5-1 0-1 .3-1-.6-1 0-1 .2-1-.2-1 .6-1 .1-1-.3-1-.4-1 .4-1 .1-1-.4-1-.1-1 0-1-.1-1 .2-1-.1-1 .1-1 0-1 .4-1-.1-1-.4-1 .1-1-.1-1 .1-1-.3-1 .1-1 .3-1-.4-1 .1-1 .1-1 .3-1-.3-1 .1-1 .1-1-.2-1-.1-1 0-1 0-1 .1-1 0-1-.1-1 0-1 .1-1-.1-1 .1-1 .1-1-.3-1 0-1 .2-1-.1-1 .1-1 .2-1-.2-1 .2-1 0-1-.1-1-.1-1-.1-1 .1-1 .4-1-.2-1 .2-1 0-1-.3-1-.2-1 .1-1 0-1-.2-1 .1-1 .1-1-.1-1 .2-1-.1-1 0-1 0-1 .4-1 0-1 .5-1-.5-1 0-1-.3-1 0-1-.1-1 0-1 0-1 .1-1-.2-1 .3-1 .9-1-.9-1-.2-1-.1-1-.1-1 .1-1 .3-1-.2-1-.1-1 .1-1 0-1-.2-1 .2-1 0-1 .1-1-.1-1 .3-1-.4-1 .3-1-.3-1 0-1-.1-1 0-1 .4-1-.2-1 0-1-.2-1 .7-1 .1-1-.1-1-.5-1 0-1 .3-1 .3-1-.3-1-.2-1-.2-1 .2-1-.1-1 0-1 0-1 0-1 .2-1 0-1-.1-1 .4-1 0-1-.2-1 .2-1-.2-1 .2-1-.3-1 .1-1 .1-1-.3-1-.1-1 .2-1 .2-1-.1-1-.3-1-.1-1 .2-1-.2-1 0-1 .1-1 0-1-.1-1 0-1 .3-1-.2-1 0-1 0-1 0-1 .3-1 .2-1-.2-1-.3-1 0-1-.1-1 .1-1 .1-1 0-1-.2-1 .1-1 .1-1-.1-1-.1-1 .1-1-.1-1 0-1 .1-1-.1-1 .3-1-.2-1 .3-1 .1-1-.3-1 .1-1-.1-1-.3-1 .2-1 .1-1-.1-1 0-1 0-1 .1-1-.1-1 .1-1 .3-1-.2-1-.1-1 .1-1-.1-1-.3-1 .6-1-.2-1 .2-1 0-1-.4-1 0-1 0-1 .4-1 .5-1-.5-1 0-1-.4-1 .1-1 .1-1-.3-1 .1-1-.1-1 .1-1-.2-1 .2-1-.1-1 0-1 .2-1 0-1-.3-1 .2-1-.1-1 0-1 0-1 0-1 .2-1-.2-1 .5-1 .3-1-.3-1-.2-1-.1-1-.3-1 0-1 .2-1 0-1 0-1 .1-1-.1-1 .1-1-.2-1 .2-1-.1-1-.1-1 .1-1-.1-1 0-1 0-1 0-1 0-1 0-1 .1-1 .5-1 .2-1-.3-1-.2-1 .1-1 0-1-.1-1-.1-1-.1-1 .2-1 .2-1 0-1-.6-1 .1-1 .2-1 .1-1 0-1-.3-1 .1-1-.1-1 .1-1-.2-1 .4-1 .3-1-.3-1-.2-1 .3-1 .1-1-.5-1 0-1 .2-1-.2-1 .1-1 .1-1-.1-1 0-1-.1-1 .1-1 .2-1-.2-1 0-1 0-1 .8-1 .6-1-1-1-.4-1-.1-1 .1-1-.1-1 0-1 .2-1 0-1-.1-1 0-1-.1-1 .1-1 .6-1-.3-1 0-1-.3-1 0-1-.1-1 0-1 .2-1-.2-1-.1-1 .1-1-.1-1 .1-1 0-1 0-1 0-1-.1-1 .2-1-.2-1 .2-1 0-1-.1-1 .1-1-.1-1 .1-1 0-1 .5-1-.3-1-.1-1 .4-1-.4-1 .1-1 0-1 0-1-.2-1 0-1 .1-1-.2-1 .1-1 0-1 0-1 .7-1-.4-1 0-1-.3-1 0-1 0-1 .1-1-.2-1 0-1 .3-1-.3-1 .2-1 .1-1 0-1-.2-1-.1-1 0-1 .1-1-.1-1 0-1 0-1 .5-1-.4-1 .1-1 .1-1-.1-1-.2-1 .2-1-.3-1 0-1 .1-1-.1-1 .2-1 .6-1-.4-1 0-1 .3-1 .3-1-.7-1-.2-1 0-1 .1-1 0-1 0-1 0-1 0-1-.1-1 .2-1 0-1-.1-1 .5-1-.2-1-.2-1-.1-1-.1-1 0-1 0-1 0-1 0-1 .2-1 .3-1-.1-1-.3-1-.1-1-.1-1 0-1 .2-1 0-1 .1-1-.3-1 .2-1 0-1-.1-1 .2-1-.1z"/>
<path fill="#008000" d="M138.5 165.9l1-.1 1 0 1 0 1-.1 1-.2 1 0 1 .1 1 .2 1 .1 1 .1 1-.2 1 .1 1 .1 1-.2 1 .1 1-.4 1 .2 1-.5 1 .2 1 .1 1 .2 1 .1 1 0 1 .1 1 0 1-.2 1 .1 1 0 1 0 1-.1 1 0 1 .2 1 0 1-.2 1 .2 1-.1 1 .1 1-.3 1-.4 1 .5 1 .2 1-.1 1-.2 1 .3 1-.1 1 .1 1-.2 1 .1 1 0 1 .1 1 0 1 0 1 0 1 0 1-.2 1 .2 1-.1 1 0 1-.1 1 .2 1-.3 1 .3 1 0 1-.5 1 .1 1 .1 1 .3 1-.2 1 .2 1-.2 1 .1 1-.1 1 .2 1 0 1 0 1-.1 1 0 1 .1 1 .1 1-.2 1 0 1 .2 1-.3 1 .2 1 0 1-.1 1-.1 1 .1 1 0 1 0 1 .1 1-.1 1 .1 1 0 1-.2 1-.2 1 0 1 .3 1 .1 1 0 1-.1 1 0 1 .1 1-.4 1 .3 1 .1 1-.1 1-.1 1 .2 1 .1 1-.3 1 .2 1-.4 1-.3 1 .3 1 .1 1 .2 1 0 1-.2 1 .3 1-.1 1 0 1-.1 1-.5 1 0 1 .3 1 .2 1 .2 1 .1 1-.1 1-.6 1 .1 1-.2 1 .6 1-.1 1 0 1-.4 1 .4 1 0 1 .2 1-.1 1 .1 1-.1 1-.4 1-.2 1 .4 1 .3 1 0 1-.1 1 .1 1 0 1 .1 1-.2 1 .2 1-.1 1-.2 1 .1 1 0 1-.1 1 .1 1 .1 1-.2 1 .1 1-.2 1 0 1-.2 1-.5 1 .4 1 .1 1 0 1 .3 1 .1 1 0 1 .1 1 0 1-.2 1 .3 1-.6 1-.3 1 .2 1 .4 1 .1 1 .1 1 .2 1-.4 1 .2 1-.1 1 .1 1 0 1 0 1 0 1-.2 1 .1 1 .1 1-.2 1 .1 1-.1 1 0 1 .2 1-.1 1 .1 1 0 1-.2 1 0 1 .1 1 0 1 .1 1 0 1 0 1-.2 1 .1 1 .1 1-.1 1-.1 1 0 1 .2 1-.1 1 .1 1-.2 1 0 1 0 1 .1 1-.1 1-.1 1 .3 1 0 1-.1 1 .1 1-.2 1 .2 1 0 1-.1 1 0 1 .1 1 0 1 0 1 0 1-.4 1-.1 1 .4 1 .1 1-.2 1 .2 1 .1 1-.3 1 .3 1-.4 1 0 1 .4 1-.2 1 .1 1-.1 1-.2 1 .2 1 0 1-.3 1 0 1 .4 1-.3 1 .3 1-.2 1 .1 1 .2 1 0 1-.2 1 .2 1-.2 1 .1 1-.3 1 .4 1 0 1 0 1-.2 1 .1 1 .2 1-.4 1 .1 1-.2 1 .3 1 .2 1-.2 1-.1 1 0 1-.3 1-.2 1 .2 1 .4 1-.1 1 .1 1-.2 1 .1 1 0 1-.4 1 .4 1-.1 1 .2 1 0 1-.1 1 .1 1 0 1-.1 1 .1 1 0 1-.1 1-.1 1 0 1 .1 1 .1 1-.5 1 0 1 0 1-.6 1 .8 1 .3 1 0 1-.2 1-.2 1 .4 1 .1 1 0 1-.1 1-.2 1 .2 1 0 1-.1 1 0 1-.1 1 .3 1-.2 1 .1 1-.3 1 .2 1 0 1-.2 1 .2 1-.4 1 .2 1 0 1 0 1 .1 1-.3 1-.1 1-.1 1 .5 1 .2 1-.2 1-.1 1 .3 1-.1 1 .2 1-.2 1 .1 1-.4 1 .3 1 0 1-.2 1-.2 1 .3 1 0 1 .1 1 .2 1-.3 1 .1 1 0 1 .1 1 0 1-.1 1 .1 1-.1 1 .1 1 .2 1-.3 1 0 1 .1 1-.6 1-.2 1 .5 1-.1 1-.5 1 .5 1 .2 1 .2 1 0 1 0 1 0 1-.2 1-.6 1 .7 1 .1 1-.4 1 .4 1-.1 1 .1 1 0 1-.2 1 .2 1 0 1-.3 1 .4 1-.2 1 0 1 0 1-.1 1-.2 1 .2 1 .2 1-.1 1-.1 1-.3 1-.3 1 .1 1 .8 1-.2 1 .1 1 .1 1-.1 1-.2 1 .2 1 0 1-.1 1 0 1-.1 1-.4 1 .3 1 .2 1-.1 1 .1 1 .1 1 0 1-.2 1 .2 1 0 1-.1 1 .1 1 0 1 .1 1-.1 1 0 1-.1 1 0 1 .2 1-.2 1-.3 1 0 1 .1 1 .3 1 .1 1-.1 1 0 1 0 1 0 1-.4 1-.3 1 0 1 .4 1 .1 1 .1 1 0 1 .1 1 0 1-.2 1 .2 1-.1 1-.2 1 .1 1 .3 1-.3 1 0 1-.1 1 .1 1 .2 1-.1 1 .2 1-.2 1 0 1-.1 1 .2 1 0 1 0 1-.2 1 .1 1 0 1 0 1 .2 1-.2 1 0 1 0 1-.1 1 .1 1 .1 1-.1 1-.1 1 .2 1-.1 1 0 1 .1 1-.1 1 0 1 .1 1-.1 1 .1 1 0 1 0 1-.1 1-.2 1 .3 1 .1 1-.1 1-.1 1 0 1 .1 1 0 1-.1 1 .1 1 0 1 0 1 0 1 0 1-.2 1 .2 1 0 1 0 1-.2 1 0 1 .1 1-.6 1 .4 1 0 1 .3 1-.1 1 .1 1-.1 1-.1 1 .1 1 .1 1-.2 1-.4 1 .3 1 .2 1 .1 1 0 1 0 1 0 1-.1 1 0 1 .2 1-.4 1 .1 1 .2 1-.1 1-.3 1 .4 1-.1 1-.1 1 .1 1 0 1 .1 1-.1 1-.1 1 .1 1-.2 1 .3 1-.5 1 .1 1 .2 1 .1 1 0 1 0 1 0 1 0 1 0 1 0 1 .1 1-.2 1-.1 1 .3 1-.1 1 .1 1-.1 1 0 1 .1 1-.1 1-.3 1 .2 1-.4 1 0 1 .5 1-.1 1 .1 1 0 1 0 1 0 1 0 1 .1 1 0 1-.1 1 .1 1-.2 1 .3 1-.2 1 0 1 0 1 .1 1-.1 1 0 1-.1 1-.1 1 .4 1 0 1 0 1-.1 1 0 1-.1 1 .1 1-.1 1 0 1-.1 1 .1 1-.2 1 .1 1 .2 1-.3 1 .2 1 .1 1-.1 1 0 1 .1 1-.3 1 .2 1-.4 1-.1 1 .3 1 .2 1-.1 1 .2 1 0 1-.2 1 .1 1 .1 1 0 1-.1 1-.2 1-.1 1-.2 1 .1 1 .5 1 .1 1 0 1 0 1-.1 1 0 1-.3 1 .1 1 .2 1 0 1-.1 1 .1 1 0 1-.1 1 .1 1 0 1 0 1 0 1-.1 1 .2 1-.2 1 0 1 .1 1-.2 1 .3 1-.2 1-.1 1 .1 1 0 1 .1 1 .1 1-.1 1-.1 1 .1 1-.1 1 .2 1 0 1-.2 1-.1 1 .2 1-.1 1 .2 1 0 1-.1 1-.2 1-.1 1 .1 1 0 1 .1 1 0 1 .1 1-.2 1 .2 1-.2 1 .1 1 0 1 .1 1 .1 1-.2 1 0 1 .2 1-.3 1 .2 1 0 1-.1 1-.1 1-.1 1-.2 1 .2 1 0 1 .3 1-.2 1 0 1 .1 1 .1 1-.1 1-.1 1-.2 1 .3 1 0 1-.1 1 .2 1-.2 1-.5 1 .6 1 0 1 .1 1-.1 1 .1 1-.1 1 0 1 .1 1 0 1 .1 1-.1 1-.3 1 .2 1 .1 1-.1 1-.1 1-.3 1 .4 1 .2 1-.1 1-.2 1 0 1 .1 1 .1 1 0 1-.1 1-.2 1 .3 1 .1 1-.1 1-.1 1 0 1 .1 1-.2 1 0 1 .2 1 0 1 0 1-.2 1 .1 1 0 1 .2 1-.1 1-.1 1-.1 1 .1 1 0 1-.1 1 .2 1 0 1 0 1 0 1 0 1-.1 1 .1 1-.1 1-.2 1 0 1 .1 1-.1 1 .3 1-.3 1 .2 1 .1 1-.1 1 .1 1-.2 1 0 1-.3 1 0 1 .5 1 0 1 .1 1-.2 1 .1 1 0 1 .1 1-.1 1-.2 1 .1 1 0 1 0 1 .1 1-.1 1-.1 1 .1 1 .1 1-.2 1 .1 1-.2 1 .3 1 0 1 0 1-.1 1 0 1-.1 1 .2 1-.1 1 .1 1 0 1-.1 1-.2 1-.3 1 .1 1-.2 1 .3 1 .2 1 .3 1-.1 1-.1 1 0 1 .1 1 .1 1-.4 1-.1 1-.6 1 .5 1 .5 1-.1 1 0 1-.2 1-.1 1-.2 1 .5 1-.3 1 .4 1-.4 1 .3 1 .2 1-.4 1 .3 1 0 1 0 1-.3 1-.1 1 .1 1 .2 1 0 1 .1 1-.1 1 .1 1 .1 1-.2 1-.1 1 .3 0 2.8-1 0-1 .1-1-.2-1 .1-1-.1-1 0-1 0-1 .1-1 .1-1 .1-1-.1-1 0-1 0-1 .1-1-.2-1-.1-1 .2-1 .3-1-.4-1-.2-1 .2-1 .3-1 0-1 .3-1-.4-1-.4-1 .2-1 .2-1 .5-1-.6-1-.1-1 0-1-.1-1-.1-1 .4-1-.2-1-.1-1 .3-1 .5-1-.4-1 .5-1-.8-1 0-1-.2-1 .1-1 0-1 0-1 .1-1 0-1-.2-1 .2-1 0-1-.2-1 .3-1-.1-1-.1-1-.1-1 .2-1-.2-1 .1-1 0-1-.1-1 .2-1 0-1-.3-1 .2-1 .1-1-.1-1 0-1 .1-1-.2-1 .2-1-.1-1 .1-1 .2-1 .2-1-.2-1-.2-1 0-1-.2-1 .1-1 .2-1-.2-1 .3-1-.2-1 0-1 .3-1 .1-1-.2-1-.2-1-.1-1 0-1 0-1 .3-1-.2-1-.1-1 0-1 .1-1-.1-1 0-1 .1-1-.2-1 0-1 .2-1 0-1-.2-1 0-1 .1-1 0-1 .1-1-.2-1 .1-1-.1-1 .1-1-.1-1 .1-1-.1-1 .2-1-.1-1-.1-1 .1-1-.1-1 0-1 .1-1-.1-1 .2-1 .2-1 .3-1-.3-1-.2-1-.1-1 0-1 .1-1-.1-1 .1-1-.2-1-.1-1 .5-1-.1-1 0-1-.2-1 0-1 .1-1 .2-1-.1-1-.1-1 0-1-.2-1 .2-1-.1-1 .2-1-.1-1-.1-1 0-1 0-1 0-1-.1-1 .1-1 .3-1 .2-1-.4-1-.1-1 .1-1 0-1-.2-1-.1-1 .2-1 .1-1 0-1-.2-1 0-1 0-1 0-1 .2-1-.1-1 0-1-.2-1 .2-1 0-1 .1-1-.1-1 .2-1-.2-1 0-1 .2-1-.2-1-.1-1 .1-1-.1-1 .1-1-.1-1 .1-1 .2-1-.1-1-.1-1 0-1 0-1 .1-1-.1-1 .1-1 .1-1-.2-1-.2-1 0-1 .3-1-.1-1-.1-1 0-1 .1-1 .1-1-.1-1 0-1 0-1 0-1 0-1 .1-1-.1-1 .1-1-.1-1 .1-1-.1-1 .1-1-.1-1 .1-1 0-1-.1-1 .2-1-.2-1 .4-1 .1-1-.1-1-.4-1 0-1 0-1-.1-1 .1-1-.1-1 .1-1 0-1 .1-1 0-1 .5-1 0-1-.1-1 0-1-.5-1 .1-1 .1-1-.3-1 .2-1-.3-1 .3-1-.1-1 .2-1 .1-1 0-1-.1-1-.3-1 .3-1-.3-1 0-1 .3-1-.2-1 .1-1 .1-1 0-1-.2-1 .1-1-.1-1 0-1 0-1 .1-1-.2-1 .1-1 .1-1-.1-1 .1-1 0-1-.2-1 0-1 0-1 .1-1-.2-1 .3-1-.1-1 0-1 .2-1 .1-1 .1-1 .4-1-.9-1 .4-1-.3-1 .1-1-.2-1 .3-1-.3-1 .2-1 0-1 0-1 0-1 0-1-.2-1 .2-1 0-1 0-1-.1-1 .1-1-.1-1 .2-1 .2-1-.3-1 .2-1-.4-1 .1-1 .1-1 0-1 .1-1-.2-1 .1-1-.1-1-.1-1 .4-1-.2-1-.2-1 .1-1 0-1 0-1 .2-1-.2-1 .2-1-.1-1-.1-1 0-1 .2-1 .1-1 0-1 0-1-.1-1-.3-1 .3-1-.3-1 .3-1-.2-1 0-1 .1-1 .4-1-.1-1-.2-1-.2-1 0-1 .1-1 .1-1-.3-1 .1-1 0-1-.1-1 .2-1 0-1 0-1-.2-1 .2-1-.2-1 .3-1-.2-1 0-1 0-1 .2-1 0-1-.2-1-.1-1 0-1 .2-1 0-1-.1-1 .1-1 0-1-.1-1 .1-1 0-1-.1-1 0-1 .2-1-.1-1-.2-1 .2-1 .1-1-.3-1 .1-1 .2-1-.2-1-.1-1 .1-1 .2-1 .1-1-.3-1 0-1 .1-1 .3-1-.3-1 .1-1-.3-1 .2-1 0-1-.1-1 .1-1-.2-1 .2-1 0-1-.1-1 .2-1-.2-1 0-1 .2-1-.1-1-.1-1-.1-1 .4-1 0-1 .2-1-.1-1-.3-1 0-1-.1-1 0-1 .2-1-.2-1 .2-1 .3-1 .2-1-.1-1-.6-1-.1-1 .1-1 .1-1-.1-1 0-1 .1-1-.2-1 .2-1-.1-1 .1-1-.1-1 .1-1-.1-1 0-1 .1-1 .2-1-.3-1 .3-1 .2-1-.4-1 0-1-.2-1 .2-1-.1-1 .2-1-.2-1 0-1-.1-1 0-1 .1-1 .3-1 .5-1-.4-1 .1-1-.4-1-.1-1 .2-1 .2-1-.1-1-.2-1-.1-1 .1-1-.1-1 .2-1-.2-1 0-1-.1-1 0-1 .2-1 0-1 0-1-.1-1 .1-1 0-1 .1-1-.1-1-.1-1 0-1 0-1 .3-1-.1-1 .2-1 .8-1-1.2-1 .4-1-.1-1-.1-1-.3-1 .1-1 .1-1 0-1-.1-1-.1-1 0-1 0-1 .2-1 .1-1-.2-1 .1-1-.2-1 .1-1-.1-1 .1-1 .1-1 .2-1-.1-1-.3-1 0-1 .4-1-.4-1 0-1 0-1 .2-1-.1-1-.1-1 0-1 .1-1 .2-1 0-1 .2-1-.3-1-.2-1 .3-1-.3-1 .4-1 0-1-.1-1-.2-1 .2-1-.1-1-.1-1 .1-1-.3-1 .1-1 .3-1-.2-1 0-1 .1-1 0-1-.1-1 0-1 0-1 .1-1 .2-1-.3-1-.1-1 .1-1 .1-1 0-1 .8-1-.2-1-.6-1 .1-1 0-1-.1-1 0-1-.1-1-.1-1 .2-1 0-1-.1-1-.1-1 .2-1-.2-1 .3-1-.2-1 .1-1-.1-1 .1-1 0-1 0-1-.2-1 .1-1 0-1-.2-1 .4-1 .7-1-.3-1-.5-1-.1-1 .2-1 .1-1-.2-1-.1-1 0-1-.2-1 .1-1 .1-1 .1-1 0-1 0-1-.2-1 .1-1 .1-1-.1-1 .1-1-.2-1 .2-1-.1-1-.1-1 .3-1 .1-1-.2-1-.2-1 .4-1 .2-1-.3-1 .1-1-.3-1-.1-1 .3-1-.3-1 .2-1-.2-1 .2-1 .1-1-.4-1 .4-1-.3-1 .1-1 .1-1 .3-1 0-1 0-1-.3-1-.1-1-.1-1 .1-1 .1-1-.1-1-.1-1 .1-1 0-1 0-1-.2-1 .2-1 0-1 .2-1 .5-1-.8-1-.1-1 .4-1-.2-1 .2-1-.2-1-.2-1 .3-1-.1-1 0-1 .1-1 0-1 .1-1 0-1-.4-1 .1-1 .1-1 0-1 0-1 0-1 .2-1-.2-1 0-1-.1-1 .1-1 0-1 0-1 0-1 .1-1-.2-1 .2-1-.2-1 .1-1-.1-1 .1-1 .1-1-.1-1 0-1 .1-1 0-1 0-1 0-1 .4-1-.2-1 0-1-.2-1-.1-1-.1-1 .1-1 .2-1-.2-1 .1-1 .6-1-.4-1 .2-1 0-1-.2-1 .1-1-.3-1 .1-1-.3-1 0-1 .2-1-.2-1 .1-1-.1-1 0-1 0-1 .1-1 0-1 .1-1-.2-1 .1-1 .1-1-.1-1 0-1 .2-1 .1-1 .1-1-.2-1-.1-1 0-1 .1-1-.1-1 .1-1 .4-1 .1-1-.5-1-.1-1 .4-1 0-1-.2-1-.3-1 0-1-.1-1 0-1 .6-1 .2-1-.3-1-.2-1-.2-1 .2-1-.2-1-.1-1 .1-1-.1-1 .4-1 .2-1 0-1-.1-1-.1-1-.3-1 .2-1-.1-1-.1-1 .1-1-.1-1 .1-1 0-1-.1-1 .1-1 0-1-.2-1 0-1 .6-1 0-1-.2-1-.3-1-.1-1 .1-1 0-1-.1-1-.1-1 .1-1 .1-1-.1-1 0-1 .2-1-.2-1 0-1 .2-1 0-1-.1-1 .1-1 0-1 0-1 0-1-.1-1 0-1 0-1 0-1-.1-1 0-1 .2-1-.1-1 0-1 .2-1-.1-1 0-1 .1-1-.2-1 .1-1 .3-1-.3-1-.1-1 0-1-.1-1 .1-1 0-1-.1-1 .4-1-.5-1 .3-1-.1-1 .1-1 0-1-.1-1 0-1-.1-1 .2-1-.1-1 .1-1 0-1 .5-1-.5-1 .1-1-.2-1-.1-1 .1-1 0-1 .1-1-.3-1 .4-1-.2-1-.2-1 .2-1 0-1 0-1 0-1 .3-1-.4-1 .1-1 .2-1 .5-1-.5-1 0-1-.2-1 0-1 0-1 0-1 0-1 0-1 .2-1 0-1-.2-1 .2-1 .3-1 0-1-.4-1-.1-1 .1-1-.2-1 .3z"/>
<path fill="#000000" d="M138.5 197.5l1-.1 1 0 1-.1 1-.6 1 .2 1 .4 1 .1 1-.1 1 .1 1 0 1 0 1-.2 1 .3 1-.3 1-.5 1-.1 1 .4 1 .4 1-.1 1 .1 1-.4 1 .4 1-.1 1 0 1 0 1 .3 1-.1 1-.2 1 0 1 .2 1-.1 1 .2 1-.2 1-.2 1 .3 1-.3 1 .1 1-.2 1 .2 1 .1 1-.1 1 0 1-.2 1 .2 1-.2 1 .3 1 .1 1-.1 1 .1 1-.1 1 .1 1 0 1-.2 1 0 1 .1 1-.2 1 .3 1-.1 1 .1 1-.1 1 0 1-.2 1 .3 1-.1 1-.1 1 .1 1-.3 1 .3 1 0 1-.4 1 0 1 .4 1-.1 1 .2 1-.1 1 .1 1-.1 1-.1 1 .1 1 0 1-.1 1 .1 1 .1 1 0 1-.2 1 .3 1-.3 1 0 1 .1 1 0 1 0 1-.4 1-.1 1 .3 1 0 1 .3 1-.3 1 .2 1-.2 1 0 1 .1 1 0 1 .1 1 .1 1-.1 1 .1 1-.3 1 .2 1-.1 1-.3 1 .3 1 .1 1 0 1 0 1-.1 1 0 1 0 1 .1 1-.1 1 .2 1-.1 1 .1 1-.1 1 0 1 0 1 .1 1-.2 1 .2 1-.1 1 .1 1 0 1-.2 1 .1 1 0 1 0 1 .1 1-.1 1-.3 1-.3 1-.2 1 .4 1 .3 1-.1 1 .1 1 .1 1 0 1-.1 1 .1 1 0 1-.1 1 .1 1-.1 1 .1 1 0 1 0 1 0 1 0 1-.2 1 .2 1 .1 1 0 1 0 1-.1 1-.3 1-.4 1 0 1-.2 1 .6 1-.1 1 .5 1-.1 1 0 1-.2 1-.1 1-.3 1 0 1 .4 1 .2 1 0 1-.4 1 .2 1 .1 1 .1 1-.1 1-.1 1 .3 1-.2 1 .2 1-.1 1 0 1 0 1-.1 1 .1 1-.1 1-.2 1-.1 1-.1 1 .4 1 .1 1-.2 1 .2 1 0 1-.1 1 .1 1 0 1 0 1-.2 1 .2 1-.2 1 .2 1-.3 1 .2 1 0 1 .2 1-.1 1 0 1-.3 1-.1 1 .3 1 .1 1 0 1-.6 1 .2 1 .4 1-.1 1 .1 1-.1 1-.1 1 .2 1-.3 1 .3 1-.1 1-.3 1 .1 1-.1 1 .1 1 .1 1 .1 1 0 1 .2 1-.2 1 .1 1-.3 1 .3 1 0 1-.1 1 .1 1 0 1 0 1 .1 1-.1 1 .1 1-.2 1 .1 1-.4 1 0 1 .2 1 .1 1 .2 1-.3 1 .2 1-.6 1 .3 1-.1 1 0 1-.2 1 .3 1 .3 1 0 1-.1 1 0 1 .1 1 0 1 0 1 0 1 0 1-.1 1 .1 1-.1 1 .1 1-.1 1 .1 1-.1 1 .2 1-.3 1 .2 1 .1 1-.4 1-.3 1 .4 1 0 1 .2 1-.1 1-.1 1 .2 1 .2 1-.3 1 .1 1 .1 1-.1 1 0 1 0 1 0 1-.2 1-.1 1 .3 1 0 1-.1 1 .1 1 0 1 0 1-.1 1-.1 1-.6 1 .5 1 .1 1 .2 1 0 1-.2 1-.2 1 .1 1 0 1 .2 1 .2 1-.1 1 .1 1-.1 1 0 1 0 1-.2 1 .2 1 .1 1-.1 1 0 1 0 1-.1 1-.1 1 .2 1 0 1 .1 1-.2 1 0 1 .1 1 0 1-.3 1 0 1 .1 1 .2 1-.2 1-.5 1 .6 1 .1 1 0 1 .1 1-.1 1 .1 1-.1 1 .1 1 0 1 0 1 0 1 0 1 0 1-.1 1 .2 1-.1 1-.4 1-.3 1 0 1 .6 1-.1 1 0 1 0 1 .1 1-.3 1 .1 1 0 1 .3 1-.3 1 .2 1-.2 1 .3 1-.3 1 0 1 .4 1-.3 1 .1 1 .1 1-.3 1-.7 1 .5 1 .1 1-.3 1 .3 1 .3 1 .1 1-.2 1 0 1 0 1 .1 1 0 1 .1 1-.2 1 .2 1-.3 1 .3 1-.2 1 .1 1 .1 1-.1 1 .2 1-.4 1 0 1-.2 1-.2 1 .4 1-.1 1 .3 1-.5 1 .2 1 0 1 .2 1 .3 1-.4 1 .3 1 0 1-.2 1 .2 1-.2 1 0 1 .2 1-.1 1-.1 1 .1 1 0 1-.1 1 .2 1-.2 1 .2 1-.1 1 0 1-.5 1 .2 1-.4 1 .4 1 .4 1-.2 1 .2 1-.1 1 0 1-.6 1 .3 1-.1 1 .5 1-.1 1 .1 1 0 1-.2 1 .1 1-.2 1 .3 1-.1 1 0 1 .1 1-.2 1 .1 1 0 1 .1 1 0 1 .1 1-.1 1-.1 1 .1 1-.1 1-.1 1 .1 1-.2 1-.4 1 .2 1 .1 1 .1 1 .2 1-.1 1 0 1 .3 1-.2 1 .1 1 0 1-.1 1 0 1 0 1-.4 1 0 1-.3 1 .3 1 .4 1 0 1-.2 1-.6 1 .4 1 .4 1 .1 1-.3 1 .1 1 .1 1-.3 1 0 1-.5 1-.2 1 .5 1 0 1 .5 1 0 1-.1 1 0 1 .2 1-.1 1-.1 1 .1 1 0 1-.1 1 0 1 .1 1 0 1-.1 1 0 1 .1 1 .1 1-.2 1 0 1 .2 1-.1 1 0 1-.4 1 .4 1-.1 1 0 1 .1 1-.9 1 .8 1 0 1 .1 1-.2 1 .3 1-.1 1-.2 1 .1 1 .1 1 .2 1-.3 1 .1 1 .1 1-.1 1 0 1 0 1 .1 1 0 1-.1 1-.2 1 .2 1 .1 1 0 1-.2 1 .2 1-.2 1 .1 1 0 1 .1 1 0 1-.3 1 .2 1 0 1-.1 1-.2 1-.1 1 .2 1-.1 1-.1 1-.3 1 .6 1 .2 1-.2 1 0 1 0 1 .2 1-.7 1 .5 1-.3 1 .3 1-.3 1 .3 1 .1 1 .1 1-.2 1-.4 1 .1 1-.1 1 .6 1-.1 1 0 1 0 1-.2 1 .2 1 0 1-.3 1-.2 1-.2 1 .6 1 .2 1-.2 1-.4 1 .4 1-.1 1 .2 1 0 1 0 1 .1 1-.3 1-.2 1-.3 1 .3 1 .4 1-.1 1 .1 1-.3 1-.1 1 .3 1 .1 1-.1 1 .1 1 0 1 .1 1 0 1-.3 1 .2 1-.1 1-.2 1-.4 1 .3 1 .1 1 .1 1 .3 1-.1 1-.1 1 .1 1 .1 1-.2 1 .1 1-.1 1-.1 1 .1 1 .1 1-.4 1-.1 1 .4 1 .2 1-.1 1 0 1 0 1 .1 1-.2 1 0 1 0 1 .2 1-.1 1 0 1 0 1-.1 1 0 1 0 1-.1 1 .2 1-.2 1 0 1 0 1-.1 1-.1 1 .1 1 .3 1 0 1 0 1 0 1 0 1 0 1-.5 1 .4 1-.1 1 .3 1 .1 1-.3 1-.1 1-.3 1 .4 1-.1 1 .1 1 .2 1-.1 1-.2 1-.2 1 0 1 .3 1 0 1 .2 1-.1 1 0 1-.3 1-.3 1 .5 1-.1 1 .2 1 0 1-.3 1-.6 1 .4 1 .5 1-.1 1 0 1 .1 1 .1 1-.1 1 0 1 0 1 0 1 0 1-.1 1 0 1-.1 1 .2 1 0 1-.2 1 .3 1 0 1-.3 1 .2 1-.1 1 0 1 .1 1 .1 1-.2 1 .2 1-.1 1-.1 1 0 1 .2 1-.2 1 .1 1-.2 1 .3 1-.1 1-.4 1 .5 1-.2 1-.2 1 0 1 .4 1-.1 1-.1 1 0 1-.1 1-.1 1-.4 1 .4 1-.5 1 .4 1 .4 1-.2 1 0 1-.6 1 .4 1 .2 1 .2 1-.1 1 0 1 .2 1 .1 1-.2 1 0 1-.2 1 0 1-.5 1-.1 1 .3 1 .3 1 .2 1-.1 1 0 1 .2 1-.1 1-1 1 .4 1 .3 1 .2 1-.1 1 .1 1 .1 1 0 1-.2 1-.2 1 .1 1 0 1 .2 1 0 1 .2 1-.2 1 .1 1 0 1 0 1 .1 1-.1 1-.3 1 .3 1-.3 1 .4 1-.2 1-.3 1-.1 1 .2 1 .3 1-.2 1-.2 1 0 1 .4 1-.1 1 0 1 0 1-.4 1 0 1 .6 1-.4 1-.1 1 .5 1-.1 1 .1 1-.2 1-.5 1 .2 1 .2 1 .1 1-.1 1 .2 1 0 1-.3 1 .5 1-.2 1 0 1 0 1-.2 1 .2 1 .1 1-.1 1-.2 1 0 1 .3 1-.2 1 .1 1 0 1-.2 1 .3 1 0 1-.3 1 .1 1 .1 1-.1 1 0 1 0 1 0 1 .1 1-.1 1 .1 1-.1 1 .2 1-.3 1 .3 1-.1 0 2.8-1 .3-1-.2-1 0-1-.2-1 .1-1 .3-1-.1-1-.1-1-.1-1 .2-1-.2-1 0-1 .1-1 .1-1-.1-1-.1-1 0-1 .4-1-.4-1 0-1 .1-1 0-1-.1-1-.2-1 .2-1 .1-1-.1-1 .5-1-.4-1-.1-1 .2-1 0-1-.3-1 .1-1 .2-1 0-1 .3-1 .1-1 .7-1-1.2-1-.1-1 .2-1-.1-1 .1-1 .2-1-.2-1-.2-1 .5-1-.2-1-.2-1-.2-1 .1-1 .1-1 .2-1-.1-1-.1-1 .3-1-.2-1 .1-1-.1-1-.1-1-.1-1 .1-1-.1-1 .3-1-.3-1 .1-1-.1-1 0-1 0-1 .1-1 0-1-.1-1 .4-1 .1-1 .8-1-1.1-1-.2-1 .1-1-.1-1 0-1 .1-1 .5-1 .5-1-.5-1-.3-1-.4-1 .4-1 0-1-.3-1 .2-1 .1-1 .7-1-.2-1-.3-1-.4-1-.2-1 .2-1 0-1-.1-1 0-1 .1-1-.1-1 0-1 .4-1-.2-1 .2-1-.3-1 .1-1 .3-1-.2-1 .1-1 .2-1-.3-1-.1-1-.2-1 .2-1 .1-1 .2-1-.1-1 .4-1-.4-1-.4-1 .2-1-.2-1 .1-1 .1-1-.2-1-.1-1 0-1 .3-1-.2-1 0-1 .1-1 0-1-.2-1 .1-1 .1-1 .1-1-.1-1-.2-1 .3-1 0-1-.1-1 .2-1-.3-1 0-1 .1-1 .1-1-.1-1 0-1-.2-1 .2-1-.1-1 0-1 0-1 .2-1-.2-1 .2-1 .2-1 .1-1-.4-1-.1-1 0-1 .1-1-.1-1 .9-1-.3-1-.6-1-.1-1 .2-1 .1-1 0-1 .1-1 0-1 0-1-.1-1-.2-1 .1-1 .2-1-.1-1 0-1 0-1-.2-1 .2-1-.2-1 .2-1-.3-1 .2-1-.2-1 .4-1-.3-1 0-1 0-1 0-1 .1-1 .3-1 0-1-.2-1-.3-1 .1-1 0-1 .3-1-.3-1 0-1-.1-1 0-1 .1-1 .3-1-.1-1-.1-1-.1-1 .1-1 .1-1-.2-1 0-1 0-1 .1-1 .2-1 .2-1-.2-1-.1-1-.2-1-.1-1 .2-1 .1-1-.1-1-.1-1 .2-1 .1-1-.3-1-.1-1 .2-1-.1-1 .5-1-.2-1 0-1-.3-1 .1-1-.1-1 0-1 .1-1-.1-1 .1-1-.1-1 .3-1-.3-1 .1-1 .2-1-.3-1 0-1 .2-1 .1-1 .1-1 .1-1-.1-1-.3-1 0-1 0-1 .1-1 .1-1-.1-1 .1-1-.2-1-.2-1 .2-1 .1-1 .2-1-.4-1 .1-1 0-1 0-1-.1-1 .1-1 0-1 0-1 .3-1 .5-1-.4-1-.1-1-.5-1 .2-1 .1-1 .4-1-.4-1-.2-1 .1-1-.1-1 .1-1-.2-1 .4-1-.3-1 .3-1-.2-1 .3-1 .4-1-.7-1 .1-1 .6-1-.2-1-.4-1-.2-1 .1-1 .1-1-.1-1-.1-1 .1-1 0-1 .1-1-.2-1 0-1 .2-1 0-1-.2-1 .1-1 0-1 0-1 0-1 .1-1 0-1-.2-1 .2-1-.3-1 .1-1 .1-1-.1-1 0-1-.1-1 .1-1-.1-1 .1-1 0-1 .3-1 .2-1 .3-1-.5-1-.1-1-.2-1-.1-1 .2-1 0-1 .3-1-.4-1 .1-1 .1-1-.2-1 .1-1 0-1-.2-1 .2-1-.1-1 .2-1-.1-1 0-1-.1-1 0-1 0-1 0-1 .1-1-.1-1 .1-1 .2-1 .1-1 0-1 .3-1 .1-1-.5-1-.3-1 .1-1-.1-1 0-1-.1-1 .2-1 .4-1 .1-1-.4-1-.2-1 .1-1 .2-1 .3-1-.2-1-.3-1-.1-1-.1-1 .3-1-.1-1 0-1-.2-1 .1-1 0-1-.1-1 .2-1-.1-1 .2-1 .7-1-.3-1-.1-1-.4-1 0-1-.1-1 .1-1 .2-1-.1-1 .3-1-.5-1 .1-1-.2-1 .2-1-.1-1 0-1 0-1 0-1 0-1 .1-1 .1-1 .1-1-.4-1 .4-1-.1-1 .1-1-.3-1 .6-1-.5-1-.1-1 0-1-.1-1 .2-1-.2-1 .5-1 .1-1-.1-1 0-1-.3-1-.1-1 .1-1 0-1 0-1-.1-1 .1-1 0-1 .1-1-.1-1 0-1 0-1 0-1 0-1 0-1 0-1 .1-1-.2-1 .1-1 0-1 .4-1 .2-1-.4-1-.1-1 0-1 .2-1 .3-1-.2-1-.5-1 .3-1-.4-1 .4-1-.4-1 .1-1 0-1 .1-1 0-1-.2-1 .1-1 .1-1-.2-1 .3-1-.1-1-.1-1 .2-1-.1-1 0-1 .3-1 .2-1-.2-1 0-1 .2-1-.1-1-.5-1 0-1 0-1 0-1-.1-1 .2-1 0-1-.1-1 .1-1-.1-1 .1-1 0-1 .1-1 .3-1-.1-1-.4-1 0-1 0-1 .2-1 .1-1 .3-1-.2-1-.2-1-.3-1 .2-1-.2-1 .3-1-.2-1-.1-1 .2-1 0-1-.1-1 .1-1-.2-1 .2-1 .1-1-.1-1 .1-1 .3-1-.4-1-.1-1 0-1-.1-1 .1-1 0-1 0-1-.1-1 0-1 .2-1 0-1-.2-1 .1-1 .1-1-.1-1 0-1 .1-1-.2-1 .1-1 0-1 .1-1 .2-1-.2-1-.1-1 .2-1-.2-1 .1-1 .2-1 .3-1 .1-1-.3-1-.3-1-.1-1 .5-1 .5-1 .1-1-.9-1-.1-1 0-1 .1-1-.1-1-.2-1 .3-1-.2-1 0-1 0-1 .1-1 .2-1-.4-1 0-1 .2-1 .1-1-.2-1 .1-1-.2-1 .1-1 .4-1-.3-1 0-1-.1-1 .8-1-.7-1-.1-1 .1-1 0-1 .1-1-.1-1-.2-1 .2-1-.1-1 0-1-.1-1 .2-1-.2-1 .1-1 .1-1 .1-1 0-1-.4-1 .6-1-.3-1 .1-1-.2-1 .3-1-.1-1-.1-1 .4-1-.2-1-.1-1-.1-1-.1-1 .1-1 .6-1-.3-1 0-1-.4-1 .1-1-.2-1 .3-1-.2-1 .2-1 .1-1-.2-1 .1-1 0-1-.2-1 0-1 0-1 0-1 0-1 .1-1 .1-1-.2-1 .3-1 .4-1-.2-1-.1-1-.4-1 .1-1-.1-1 .1-1-.2-1 .2-1 0-1 0-1-.1-1 .6-1 .1-1-.4-1 0-1-.3-1 .8-1-.5-1-.1-1-.1-1-.1-1 0-1-.1-1 0-1 .4-1-.3-1 .1-1 0-1 .1-1 0-1 0-1-.1-1-.1-1 0-1 .1-1-.2-1 .1-1 .2-1 .8-1-.6-1-.3-1-.1-1 .1-1-.2-1 .1-1 .2-1-.2-1 0-1-.1-1 .1-1-.1-1 .3-1 .2-1 .1-1-.1-1-.1-1-.4-1 .5-1 .2-1-.2-1 0-1-.2-1-.2-1 0-1 .4-1-.2-1 .2-1 .1-1 .2-1-.2-1-.3-1-.2-1 0-1 0-1 .2-1-.2-1 .1-1 0-1 0-1 .1-1-.2-1 0-1 .2-1-.3-1 .2-1-.1-1 .1-1-.1-1 .4-1-.4-1-.1-1 .2-1 .1-1 .1-1 .4-1-.2-1-.2-1-.1-1-.2-1 0-1 0-1-.1-1 .1-1-.1-1 .3-1-.3-1 0-1 .1-1 0-1-.1-1 .2-1-.1-1 .3-1-.3-1 .1-1 0-1 0-1 .1-1-.2-1 .1-1 0-1 0-1-.1-1 .1-1 0-1 .1-1-.3-1 .1-1 .1-1 0-1 .1-1-.2-1 .1-1-.2-1 .1-1 .2-1-.3-1 .2-1-.1-1 .2-1 .1-1 .2-1-.1-1-.4-1 0-1 0-1 .1-1 .1-1-.2-1 0-1 0-1 .2-1 0-1-.1-1 0-1 0-1 .2-1-.4-1 .1-1 .2-1 0-1 0-1-.1-1 .6-1-.3-1 0-1-.4-1 .1-1 0-1 0-1-.2-1 .2-1 0-1 .1-1-.2-1 .2-1-.1-1-.1-1 .3-1-.3-1-.1-1 0-1 .2-1 0-1 0-1 0-1-.1-1 0-1 .1-1 0-1 .1-1-.2-1 .1-1 .1-1-.1-1-.2-1 .2-1-.1-1 .4-1-.2-1-.2-1 0-1 0-1 0-1 .3-1-.4-1 .2-1-.1-1 0-1 0-1 0-1-.1-1 .1-1 .2-1-.1-1 0-1 0-1 .4-1-.3-1 .3-1-.4-1-.1-1 .3-1-.1-1-.1-1-.2-1 .2-1 .1-1 .1-1 .4-1-.5-1 .2-1-.5-1 .2-1-.2z"/>
<path fill="#ff0000" d="M138.5 228.8l1 .3 1-.1 1 0 1 0 1-.6 1 0 1-.1 1 .5 1 .1 1 .1 1 0 1 0 1-.3 1 .2 1 0 1 .1 1-.1 1 .1 1 0 1-.1 1 .1 1-.1 1-.1 1 .1 1 0 1 0 1 0 1 .1 1 0 1 0 1-.3 1 .2 1-.1 1 .1 1-.2 1 0 1-.7 1 .1 .5 0 .5 .6 .5 0 .5 .1 .5-.1 .5 .2 .5 .1 .5 .3 .5-.1 .5 0 .5-.3 .5-.2 .5-.3 .5 0 .5 .2 .5 .2 .5 .4 .5 .2 .5-.1 .5-.3 .5-.1 .5-.5 .5 0 .5 .2 .5 0 .5 .1 .5 0 .5 .1 .5 .4 .5-.3 .5 0 .5 .1 .5-.1 .5 0 .5 .2 1-.2 1 0 1 0 1 0 1-.1 1 0 1 .2 1-.1 1 0 1-.1 1 .2 1-.1 1-.1 1 .2 1-.1 1-.3 1-.2 1 .2 1 .1 1-.2 1 .6 1-.2 1 .1 1 0 1-.1 1-.1 1 .2 1-.1 1 0 1 0 1-.1 1 0 1-.5 1 .1 1 .4 1 .2 1-.3 1-.1 1 .4 1-.1 1 0 1-.1 1 .1 1 0 1 .1 1-.1 1 0 1 .1 1-.1 1 0 1 0 1-.1 1 0 1 .2 1-.2 1 .1 1 .2 1-.3 1 .1 1 .2 1-.2 1-.2 1 .3 1 .1 1-.1 1 0 1 0 1-.3 1 .2 1 .1 1-.2 1 .1 1-.1 1-.3 1-.3 1 .5 1 0 1-.6 1 .5 1 .2 1-.1 1 .3 1 0 1 0 1 0 1 0 1-.2 1 .2 1-.1 1 0 1-.1 1 .2 1-.1 1-.1 1 0 1-.3 1 .1 1-.1 1 .2 1 .3 1-.3 1 .3 1 0 1-.1 1-.4 1 0 1 .4 1-.1 1 .1 1-.2 1 .2 1 .1 1 0 1 0 1 0 1-.1 1-.1 1-.1 1 .1 1 .1 1-.1 1 .2 1-.2 1 .3 1 0 1-.3 1 .1 1-.1 1 .2 1-.2 1-.1 1 0 1 .1 1-.1 1 .2 1-.2 1 .1 1 .1 1 0 1 .1 1-.1 1-.1 1-.4 1 .5 1-.1 1 .3 1-.1 1-.1 1 0 1 .2 1-.5 1 0 1 .2 1 .1 1 .1 1-.2 1 .2 1-.3 1 .2 1 .2 1-.1 1 0 1 0 1-.2 1 .1 .5 0 .5-1.4 .5 0 .5 0 .5 .4 .5 .6 .5 0 .5 0 .5 0 .5 0 1-.1 1 .4 1 0 1 0 1 .1 1 .1 1 0 1-.1 1-.1 1 .1 1 .1 1 0 1-.1 1 0 1-.1 1-.1 1 .1 1 .1 1-.1 1 .1 1 0 1-.1 1 .2 1 0 1-.2 1 .1 1 .1 1-.1 1 0 1-.1 1 .3 1-.1 1 0 1-.1 1-.2 1 0 1 .3 1-.2 1-.4 1 .2 1 .3 1-.2 1-.5 1-.1 1 .7 1-.2 1 .4 1-.1 1-.1 1 0 1 .1 1 .2 1-.3 1-.1 1-.2 1 .2 1 .3 1-.1 1-.9 1 .2 1 .6 1 .2 1-.1 1 0 1 0 1-.1 1-.1 1 0 1 .3 1-.4 1 .1 1 .3 1 0 1-.1 1 .2 1-.1 1 0 1 0 1-.1 1 0 1 .1 1-.5 1 .3 1-.4 1 .3 1 .1 1 .2 1-.2 1-.1 1 .2 1-.1 1 .2 1-.1 1-.1 1 0 1 .1 1 .1 1-.1 1 0 1 0 1 .1 1 0 1-.1 1 0 1-.1 1 .1 1-.1 1-.1 1 .3 1 0 1 0 1-.1 1 .1 1-.1 1-.4 1 .2 1 .1 1 .2 1-.5 1 .2 1 .3 1-.1 1-.1 1 .2 1-.2 1 .1 1-.3 1 .2 1 0 1 .2 1-.1 1 .1 1 0 1 0 1-.1 1 0 1 .1 1 0 1-.8 1 .5 1 .2 1-.2 1 .3 1 0 1 0 1-.1 1-.2 1 .2 1 .1 1-.1 1-.3 1-.4 1 .5 1 .1 1 .1 1-.1 1 .1 1-.1 1 .3 1-.3 1 .1 1 .1 1-.1 1 .1 1-.1 1 0 1 0 1 0 1 0 1 .1 1-.2 1 0 1 .2 1-.3 1 .1 1 .2 1-.1 1 .1 1-.2 1 0 1 .2 1-.2 1 .1 1 0 1-.1 1 0 1 .1 1 0 1-.1 1 .2 1-.3 1-.1 1 .1 1 0 1 .1 1 .2 1 0 1-.2 1 .1 1 .2 1-.5 1 .5 1-.3 1 .2 1 0 1-.2 1 0 1-.1 1 .1 1 .2 1-.2 1 0 1-.2 1 .2 1 .3 1-.1 1 0 1 0 1-.1 1-.1 1 .1 1 .1 1-.3 1 .3 1 0 1-.1 1 0 1 0 1-.2 1 .2 1-.1 1 .1 1 0 1 0 1 .1 1-.1 1 .2 1-.3 1 .1 1 .1 1-.3 1 .1 1 .2 1-.1 1-.1 1 .2 1-.5 1 .3 1 .1 1 .1 1-.1 1-.1 1 .2 1-.1 1-.1 1 0 1 .3 1-.1 1 .1 1-.3 1 .2 1-.1 1-.3 1 .2 1 0 1 .1 1-.2 1-.3 1 .4 1 .3 1-.1 1 0 1 .1 1-.2 1-.1 1 0 1-.3 1-.6 1 .8 1-.3 1-.4 1 .7 1 0 1 .2 1 .1 1-.4 1 .3 1 .1 1-.1 1 .1 1 0 1-.1 1 .1 1-.1 1 .1 1 .1 1 .1 1-.5 1 0 1 .2 1 .2 1-.2 1-.4 1 .2 1-.4 1 .2 1 .2 1 .1 1 .1 1 0 1 .1 1-.1 1-.2 1 .1 1-.2 1 .3 1-.4 1 .2 1 .3 1-.2 1-.5 1 .7 1 0 1-.4 1 .1 1 .3 1 0 1 0 1 0 1-.1 1 .1 1-.4 1 .2 1-.2 1 .3 1-.1 1 .1 1 0 1 0 1 0 1 .1 1 0 1-.1 1 .2 1-.5 1 .4 1-.1 1 .1 1 0 1 0 1 0 1-.7 1 .2 1 .1 1 .2 1 0 1 .2 1 0 1 0 1 0 1 .1 1-.2 1-.1 1 .2 1-.2 1 .1 1 0 1 .1 1-.1 1 .1 1 .1 1-.1 1 0 1-.2 1 0 1 .1 1 .1 1-.2 1 .1 1-.3 1 .2 1 0 1 .1 1-.1 1 0 1 0 1 .1 1-.1 1 .1 1-.2 1-.2 1-.6 1 1 1 .1 1-.2 1-.1 1 .2 .5 0 .5-.1 .5 0 .5 .1 .5 .2 .5-.3 .5 .1 .5 0 .5-.1 .5-.2 .5 0 .5 0 .5-.1 .5 .2 .5 0 .5 .4 .5 0 .5 0 .5 .2 .5 .1 .5-.3 .5 0 .5-.4 .5 0 .5-.5 .5 0 .5 .1 .5 .1 .5-.1 .5 .3 .5 .3 .5 .1 .5 .4 .5 .1 .5 0 .5-.2 .5-.1 .5-.1 .5-.3 .5-.2 .5-.1 .5-.1 .5 0 .5 .3 .5 .1 .5 .1 .5 0 .5 .5 .5-.2 .5 0 .5-.2 .5 0 .5-.2 .5-.2 .5-.1 .5-.3 .5 .3 .5 0 .5 0 .5 .3 .5 .4 .5 0 .5 .3 .5 0 .5-.4 .5 0 .5-.4 .5 0 .5-.1 .5-.1 .5 0 .5 .2 .5 .4 .5 .1 .5 0 .5-.1 .5-.1 .5-.4 .5 0 .5-.1 .5 0 .5 .2 .5 .1 .5 .3 .5 0 .5 .3 .5-.1 .5-.7 .5-.2 .5 0 .5 .1 .5 0 .5 .3 .5 .4 .5 .4 .5-.3 .5-.3 .5-.4 .5-.7 .5 0 .5 .2 .5 0 .5 .3 .5 .8 .5 .4 .5-.5 .5-.3 .5-.3 .5-.6 .5-.1 .5 .1 .5 .5 .5 .4 .5 .5 .5 .3 .5-.3 .5-.4 .5-.3 .5-.3 .5-.1 .5 0 .5 .6 .5 .5 .5 .2 .5 0 .5-.2 .5-.5 .5-.5 .5 0 .5 0 .5 0 .5 0 .5 1 .5 .2 .5-.2 .5-.2 .5-.6 .5-.3 .5-.4 .5 0 .5 .1 .5 .7 .5 .5 .5 .4 .5-.3 .5-.3 .5-.4 .5-.2 .5 .1 .5 .2 .5 0 .5 .6 .5 .3 .5-.4 .5-.3 .5-.2 .5-.1 .5-.4 .5 0 .5 .7 .5 0 .5 .8 .5-.2 .5-.4 .5-.3 .5-.3 .5 0 .5-.2 .5 0 .5 .4 .5 .5 .5 .3 .5 0 .5-.5 .5-.4 .5-.2 .5 0 .5 .3 .5 .2 .5 .5 .5 .3 .5-.4 .5-.5 .5-.2 .5-.6 .5 0 .5 .1 .5 .4 .5 .6 .5 .3 .5-.1 .5-.3 .5-.6 .5-.1 .5 0 .5 0 .5 .6 .5 .4 .5 .3 .5-.6 .5-.3 .5-.5 .5-.5 .5 0 .5 .1 .5 .5 .5 1 .5 .6 .5-.1 .5-.7 .5-.9 .5-.4 .5 0 .5 .2 .5 .1 .5 1.2 .5 .6 .5-.1 .5-.7 .5-.6 .5-.5 .5 0 .5 .1 .5 .4 .5 .3 .5 .9 .5-.3 .5-.6 .5-.4 .5-.1 .5 0 .5 0 .5 .4 .5 .4 .5 .9 .5-.7 .5-.3 .5-.6 .5 0 .5-.1 .5 0 .5 .7 .5 .8 .5 .2 .5-.5 .5-.7 .5-.7 .5-.3 .5 0 .5 .1 .5 .9 .5 .6 .5 .7 .5-.7 .5-1 .5-.4 .5-.2 .5 .2 .5 .4 .5 .6 .5 .9 .5 .1 .5-.9 .5-.6 .5-.4 .5-.2 .5 0 .5 .6 .5 .8 .5 .5 .5-.2 .5-.8 .5-.7 .5-.4 .5 0 .5 0 .5 1 .5 1 .5 .5 .5-.8 .5-.9 .5-.6 .5-.2 .5 0 .5 .8 .5 .4 .5 .9 .5 0 .5-.7 .5-.5 .5-.2 .5-.2 .5 0 .5 .4 .5 .5 .5 .6 .5-.4 .5-.4 .5-.3 .5-.2 .5 0 .5 .1 .5 .6 .5 .4 .5 0 .5-.4 .5-.2 .5-.5 .5-.3 .5 0 .5 .3 .5 .6 .5 0 .5 0 .5-.4 .5-.1 .5-.1 .5 .1 .5 .2 .5 .4 .5 .4 .5 0 .5-.3 .5-.4 .5-.3 .5-.1 .5 0 .5 .8 .5 .2 .5 .2 .5-.3 .5-.4 .5-.3 .5-.3 .5 0 .5 .5 .5 .5 .5 .3 .5-.2 .5-.5 .5-.5 .5-.1 .5 0 .5 .4 .5 .5 .5 .2 .5 .1 .5-.7 .5-.6 .5-.1 .5 0 .5 .1 .5 .4 .5 .3 .5 .5 .5-.5 .5-.4 .5 0 .5 0 .5 .2 .5 .4 .5 .3 .5 .2 .5-.4 .5-.5 .5-.1 .5-.1 .5 0 .5 .5 .5 .6 .5-.2 .5-.2 .5-.6 .5-.3 .5 0 .5 .4 .5 .4 .5 .4 .5 .2 .5-.6 .5-1 .5 0 .5 .2 .5 .4 .5 .3 .5 .7 .5-.3 .5-.4 .5-.7 .5-.2 .5 0 .5 .3 .5 .4 .5 1.2 .5-.7 .5-.5 .5-.4 .5-.2 .5 0 .5 .2 .5 .7 .5 .6 .5-.7 .5-.6 .5-.4 .5 0 .5 .4 .5 .2 .5 .6 .5 .5 .5-.5 .5-.6 .5-.2 .5 0 .5 .2 .5 .5 .5 .6 .5 0 .5-.8 .5-.4 .5-.7 .5 0 .5 .4 .5 .7 .5 .4 .5-.2 .5-.5 .5-.1 .5-.3 .5 .5 .5 .2 .5 .1 .5-.2 .5-.2 .5 0 .5-.3 .5 0 .5 .5 .5 .1 .5 .2 .5 0 .5 0 .5-.3 .5-.1 .5 0 .5 .5 .5 0 .5 .1 .5-.1 .5-.2 .5 .1 .5 0 .5 0 .5-.2 .5 0 .5 .1 .5 0 .5-.1 1 .2 1-.1 1-.1 1 .2 1 0 1 .1 1-.2 1 0 1-.2 1 .3 1 0 1-.1 1-.7 1 0 1 .2 1 .5 1 .2 1-.2 1 0 1 .1 1-.2 1 .2 .5 0 0 2.8-.5 0-1 0-1 0-1 .2-1-.3-1 .3-1-.1-1 .2-1 .3-1-.3-1 0-1-.5-1 .2-1-.1-1 .1-1 0-1-.1-1 .1-1 .1-1 .1-1-.3-1 0-1 0-.5 0-.5 .2-.5 0-.5 0-.5 0-.5 0-.5-.1-.5 0-.5 .2-.5 0-.5 0-.5 0-.5-.3-.5-.2-.5 .1-.5 .3-.5 0-.5 .3-.5 0-.5-.5-.5-.1-.5 .3-.5 .2-.5 .2-.5 .2-.5 0-.5-.5-.5-.3-.5-.2-.5 .1-.5 .5-.5 .5-.5-.1-.5 0-.5-.2-.5-.2-.5-.8-.5 .5-.5 .7-.5 .1-.5 0-.5-.4-.5-.6-.5-.4-.5 0-.5 .9-.5 .3-.5 0-.5 0-.5-.3-.5-.5-.5 .2-.5 .1-.5 .8-.5 .2-.5 0-.5-.1-.5-.7-.5-.6-.5-.5-.5 .5-.5 .6-.5 .4-.5 0-.5 0-.5-.7-.5-.7-.5 .1-.5 .4-.5 .7-.5 .2-.5 0-.5-.3-.5-.2-.5-.8-.5 0-.5 .3-.5 .8-.5 .2-.5 0-.5-.4-.5-.2-.5-.6-.5-.1-.5 .4-.5 .5-.5 .2-.5 .1-.5-.2-.5-.4-.5-.5-.5-.2-.5 .8-.5 .4-.5 0-.5 0-.5-.2-.5 0-.5-.8-.5-.1-.5 .5-.5 .6-.5 .2-.5 .2-.5-.2-.5-.4-.5 0-.5-.6-.5 .4-.5 .2-.5 .3-.5-.1-.5-.1-.5-.2-.5-.5-.5-.3-.5 .3-.5 .7-.5 .1-.5 .1-.5-.1-.5-.2-.5-.5-.5-.3-.5 .7-.5 .2-.5 .1-.5 .1-.5 0-.5-.4-.5-.4-.5-.3-.5 .1-.5 .4-.5 .3-.5 .2-.5 0-.5-.2-.5-.2-.5-.4-.5-.3-.5 .4-.5 .3-.5 .5-.5 .6-.5 0-.5-.8-.5-.3-.5 0-.5-.4-.5 .5-.5 .1-.5 .2-.5 .1-.5 0-.5-.3-.5-.8-.5-.2-.5 .6-.5 .4-.5 .7-.5 0-.5-.3-.5-.4-.5-.5-.5-.4-.5 0-.5 .9-.5 .4-.5 .2-.5 0-.5-.2-.5-.6-.5-.6-.5-.4-.5 .5-.5 .9-.5 .5-.5 0-.5 0-.5-.4-.5-.5-.5-.9-.5 .6-.5 .5-.5 .4-.5 .4-.5 0-.5-.4-.5-.6-.5-.4-.5-.7-.5 .5-.5 .8-.5 .6-.5 .4-.5 0-.5-.5-.5-.6-.5-.5-.5-.8-.5 1-.5 .9-.5 .3-.5 0-.5 0-.5-.5-.5-.2-.5-1-.5-.5-.5 .9-.5 .6-.5 .4-.5 0-.5-.1-.5-.1-.5-.8-.5-.5-.5 0-.5 .6-.5 .8-.5 .1-.5 0-.5-.1-.5-.4-.5-.6-.5-.5-.5 0-.5 .9-.5 .6-.5 .2-.5 .3-.5-.1-.5-.8-.5-.5-.5-.5-.5-.1-.5 .8-.5 .8-.5 .2-.5 0-.5-.2-.5-.5-.5-.6-.5-.7-.5 .7-.5 .4-.5 .7-.5 .1-.5 0-.5-.1-.5-.4-.5-.5-.5 .3-.5 0-.5 .6-.5 .2-.5 0-.5-.1-.5-.2-.5-.4-.5-.7-.5-.2-.5 0-.5 .5-.5 .6-.5 .1-.5 .4-.5 0-.5-.4-.5-.4-.5-.4-.5-.3-.5 .7-.5 0-.5 .2-.5 .1-.5 .1-.5-.3-.5-.4-.5-.6-.5 .2-.5 .4-.5 .4-.5 .1-.5 .2-.5 0-.5-.2-.5-.3-.5 0-.5-.2-.5-.3-.5 .7-.5 0-.5 .1-.5 .2-.5 0-.5-.3-.5-.6-.5-.3-.5 .1-.5 .4-.5 .4-.5 .2-.5 0-.5 0-.5-.2-.5-.5-.5-.3-.5 0-.5 .1-.5 .5-.5 .4-.5 .6-.5 0-.5-.6-.5-.5-.5 0-.5-.4-.5 0-.5 .4-.5 .3-.5 .3-.5 0-.5 0-.5-.4-.5-.4-.5-.4-.5 .2-.5 .1-.5 .4-.5 .5-.5 0-.5-.1-.5-.1-.5-.3-.5-.4-.5-.4-.5 .2-.5 .5-.5 .2-.5 .3-.5 .1-.5 0-.5 0-.5-.6-.5-.3-.5-.1-.5 0-.5 .4-.5 .9-.5 0-.5-.2-.5 0-.5 0-.5-.5-.5-.6-.5-.1-.5 .2-.5 .6-.5 .2-.5 .2-.5 0-.5-.3-.5-.2-.5-.1-.5-.5-.5-.1-.5 .1-.5 .4-.5 .4-.5 0-.5 .1-.5-.2-.5-.4-.5-.2-.5-.1-.5-.1-.5 .3-.5 .3-.5 .1-.5 .3-.5 0-.5 0-.5-.4-.5-.3-.5-.1-.5-.2-.5 .1-.5 .2-.5 .2-.5 .1-.5 .5-.5 .1-.5 .1-.5 0-.5-.4-.5-.3-.5-.1-.5-.4-.5 .1-.5 0-.5-.2-.5 .3-.5 .1-.5 .4-.5 0-.5 .1-.5 0-.5 0-.5-.2-.5-.1-.5 0-.5-.1-.5-.4-.5 0-.5 0-.5 0-.5 .2-.5 .2-.5 .2-.5 .3-.5 0-.5 0-.5-.2-.5 0-.5-.2-.5-.3-.5-.3-.5 0-.5 0-.5-.2-.5 .4-.5 .2-.5 .3-.5 0-.5 .1-.5 .1-.5 0-.5-.1-.5 0-.5 0-.5-.4-.5 0-.5-.2-.5 0-.5-.1-.5 .3-.5 0-.5 0-.5 .1-.5 .1-.5 0-.5-.1-.5 0-.5 0-.5 .1-.5 0-1-.1-1-.2-1 .5-1-.1-1 .4-1 0-1-.5-1-.2-1 0-1 .2-1 0-1 0-1 0-1-.2-1 .4-1 .1-1-.3-1 .2-1 0-1-.3-1-.1-1 .1-1 .1-1-.3-1 .2-1 .1-1-.1-1 .1-1-.1-1 .2-1-.2-1-.1-1-.1-1 .1-1 0-1 .2-1-.1-1 0-1 .2-1-.3-1 .1-1 0-1 .1-1 .1-1 .1-1-.1-1-.3-1 0-1 0-1-.1-1 .2-1 0-1-.2-1 0-1 .3-1 0-1-.3-1 .2-1 .2-1-.3-1 .3-1 .2-1-.3-1 .3-1-.1-1-.1-1-.1-1 .1-1-.2-1 0-1 0-1 .1-1-.1-1 0-1 .5-1 .1-1-.3-1-.2-1 .1-1-.1-1 .2-1 .2-1-.2-1-.1-1-.2-1 .1-1-.1-1 .2-1-.3-1 .7-1-.1-1-.2-1 0-1 .1-1-.1-1-.1-1-.3-1 .1-1-.1-1 0-1 .2-1-.2-1-.1-1 .3-1-.2-1 .1-1 0-1-.2-1 .4-1-.2-1 0-1-.1-1 0-1 0-1 .3-1 .8-1-.5-1-.3-1 .4-1-.2-1-.6-1 .1-1 .1-1-.2-1 .4-1-.1-1 0-1-.1-1 .6-1-.1-1-.2-1-.2-1 .1-1 0-1-.1-1 0-1-.2-1 .1-1 0-1 0-1 0-1 .2-1-.2-1 0-1 0-1-.1-1 .1-1-.1-1 .4-1-.1-1 .1-1-.1-1-.4-1 .2-1 0-1 .1-1 .1-1-.3-1 .1-1 .1-1 0-1 .1-1-.2-1-.2-1 .4-1-.3-1 .2-1 0-1-.1-1 .2-1-.3-1 .1-1 0-1-.1-1 .1-1-.1-1-.1-1 .1-1 .2-1-.3-1 .2-1 0-1 0-1 .3-1 0-1-.4-1 .1-1 0-1 .1-1 0-1-.2-1 0-1 .1-1 .1-1 .1-1-.3-1 0-1 .1-1-.1-1 .1-1-.1-1 0-1 .3-1 0-1 .4-1-.5-1 .1-1-.1-1-.2-1 .2-1-.2-1-.1-1 .2-1-.2-1 .4-1-.2-1 0-1-.1-1 .1-1 0-1 0-1 0-1 0-1 .1-1-.1-1 .1-1 .1-1-.2-1 .2-1-.2-1 0-1 0-1 0-1-.1-1 0-1 0-1 0-1 .1-1-.1-1 .1-1-.1-1 .1-1 .3-1 .1-1 0-1 .1-1 .1-1-.6-1 .1-1-.1-1 .1-1-.1-1 .1-1 .1-1 0-1-.2-1 .4-1 0-1 0-1-.3-1-.1-1-.1-1 .1-1 .2-1-.2-1-.1-1 0-1 .1-1-.1-1 0-1 .1-1-.2-1 .2-1 .2-1-.2-1 .1-1-.1-1 .6-1-.5-1 0-1 .2-1-.1-1 .1-1-.4-1 0-1 .1-1-.1-1 .1-1 .3-1-.1-1-.2-1 0-1 .1-1-.1-1-.1-1 .2-1-.2-1 .2-1 0-1-.2-1 .1-1 0-1 0-1-.1-1 0-1 0-1 .1-1-.1-1 0-1 .1-1 0-1 .2-1-.2-1 .3-1-.2-1-.1-1 0-1 0-1 0-1 .2-1-.1-1 0-1 0-1-.2-1 0-1 0-1 .1-1 0-1 .2-1 .2-1-.2-1-.1-1-.1-1 0-1 0-1 .2-1 .2-1-.1-1-.4-1 0-1 .5-1 0-1 0-1-.5-1 0-1 .1-1 0-1 .2-1-.2-1 .1-1-.1-1 .1-1 .2-1 .2-1-.1-1-.3-1 .5-1-.2-1-.5-1 0-1 .3-1 0-1-.2-1 .2-1-.2-1 0-1 0-1-.2-1 .3-1 .1-1-.4-1 .2-1 0-1-.1-1 0-1 .2-1-.2-1-.1-1 .6-1-.2-1-.1-1-.2-1 .1-1 0-1-.1-1 .1-1 .2-1-.4-1 .4-1-.2-1 0-1 .1-1 0-1-.2-1 .1-1 .4-1 .3-.5-.2-.5 .1-.5 0-.5-.1-.5 .7-.5 .3-.5 0-.5 0-.5-1.7-.5 .2-1 0-1-.1-1 0-1 0-1 .1-1 0-1-.2-1 .4-1-.2-1 .1-1-.1-1 .1-1-.3-1 .2-1 0-1-.1-1 0-1 .3-1-.2-1 .1-1 0-1 .2-1-.1-1-.1-1-.1-1-.1-1 .4-1-.1-1-.1-1 0-1 .1-1 .5-1-.1-1-.3-1-.2-1 0-1-.1-1 .2-1-.3-1 .1-1 .2-1-.3-1-.1-1 0-1 0-1 .2-1-.1-1-.1-1 .2-1 .1-1 0-1 0-1-.2-1 .1-1 0-1 0-1 .1-1 0-1 .3-1-.3-1 0-1-.1-1 .2-1-.3-1 .1-1 .2-1 .2-1-.1-1-.2-1-.2-1 0-1 .1-1 .2-1-.2-1-.1-1 0-1 .2-1-.2-1-.1-1 .4-1-.3-1 .1-1 0-1 0-1 .1-1 .4-1-.1-1-.4-1 .2-1 .5-1-.1-1-.7-1 0-1 .2-1-.1-1 .1-1 0-1-.1-1-.1-1 .1-1 .2-1-.2-1-.1-1 .1-1 .1-1-.1-1 0-1 0-1 0-1-.1-1 .2-1-.2-1 .1-1 0-1-.1-1 0-1 0-1 .2-1-.2-1 .1-1 0-1 .1-1-.1-1-.1-1 .1-1-.2-1 .1-1 .1-1 .1-1 .1-1 .3-1 .1-1-.7-1 .1-1-.1-1 .1-1 .3-1-.4-1 0-1 0-1 .4-1-.2-1-.1-1-.1-1 0-1 0-1 .3-1 .6-1-.5-1-.2-1 0-1-.1-1 .1-1 0-1-.1-1-.1-1 .1-1 0-1 0-1 0-1-.2-1 .3-1-.1-1-.1-1 .2-.5 0-.5-.2-.5 .1-.5-.1-.5 .1-.5 0-.5 0-.5 0-.5 .2-.5 0-.5-.2-.5-.2-.5 0-.5 .3-.5 .3-.5 0-.5-.1-.5-.2-.5 0-.5-.3-.5-.3-.5 0-.5 .6-.5 .1-.5 0-.5-.1-.5 .3-.5 0-.5-.3-.5-.3-.5 .2-.5 .1-.5 .3-.5 0-.5 .8-1-.7-1 .1-1-.7-1 .2-1-.1-1 .1-1-.2-1 .1-1 .2-1-.2-1-.1-1 0-1-.1-1 .2-1 0-1 .2-1-.2-1 .3-1-.4-1 .1-1 0-1 0-1-.1-1 0-1 0-1 .2-1-.3-1 .3-1-.1-1 0-1 .3-1 .1-1 0-1-.4-1-.1-1 .1-1 .2-1-.3z"/>
<path fill="#0000ff" d="M138.5 259.9l.5 0 .5 .4 .5 .4 .5 .1 .5 .1 .5-.4 .5-.1 .5-.6 .5-.2 .5 0 .5 .4 .5 .7 .5 .2 .5-.1 .5-.7 .5-.1 .5-.5 .5 0 .5 .3 .5 .4 .5 .5 .5 .2 .5 0 .5-.8 .5 0 .5-.4 .5 .1 .5 0 .5 .5 .5 .8 .5 .2 .5-.4 .5-.4 .5-.6 .5 0 .5 0 .5 .1 .5 .4 .5 .6 .5 .1 .5-.4 .5-.4 .5-.3 .5-.3 .5 0 .5 .4 .5 .5 .5 .4 .5-.1 .5-.6 .5-.8 .5-.1 .5-.3 .5 .4 .5 0 .5 .7 .5 .7 .5 0 .5-.4 .5-.3 .5-.4 .5 0 .5 .1 .5 .2 .5 .4 .5 .7 .5-.5 .5-.1 .5-.5 .5 0 .5 .1 .5 0 .5 0 .5 .5 .5 .4 .5-.6 .5-.1 .5-.2 .5-.1 .5 0 .5 .1 .5 .4 .5 .2 .5 .1 .5-.5 .5-.1 .5-.1 .5-.1 .5 .1 .5 .1 .5 0 .5 .1 .5-.4 .5 0 .5 .1 .5-.1 .5 0 .5 .1 .5 .3 .5 .3 .5 .2 .5-.1 .5-.4 .5-.2 .5 0 .5 0 .5 0 .5 .2 .5 .3 .5 .1 .5-.2 .5-.1 .5-.3 .5 0 .5 .2 .5 .1 .5 0 .5 0 .5 .2 .5-.2 .5-.2 .5 0 .5 .1 .5-.1 .5 0 .5 .2 .5 .2 .5 0 .5-.5 .5-.3 .5 0 .5 0 .5 0 .5 .1 .5 .1 .5 .7 .5-.1 .5-.2 .5-.1 .5-.4 .5 .2 .5 .1 .5 .1 .5 .2 .5 .2 .5-.3 .5-.1 .5-.1 .5 0 .5 0 .5 0 .5 .4 .5 0 .5 0 .5 .1 .5-.5 .5 0 .5-.1 .5 0 .5 .1 .5 .3 .5 .2 .5-.1 .5-.6 .5-.5 .5-.8 .5 0 .5 .5 .5 1 .5 .1 .5 .5 .5-.3 .5-.2 .5-.5 .5-.3 .5-.4 .5 0 .5 .9 .5 0 .5 .6 .5 0 .5-.1 .5-.4 .5 0 .5-.1 .5 0 .5 .4 .5 .2 .5 0 .5-.1 .5-.1 .5-.1 .5 0 .5-.2 .5 .2 .5 .1 .5 .2 .5 0 .5-.1 .5-.2 .5-.2 .5 0 .5 0 .5 .2 .5 .2 .5 .1 .5-.1 .5-.2 .5 0 .5-.2 .5-.2 .5 0 .5 .4 .5 .1 .5 .3 .5-.2 .5-.2 .5-.1 .5-.3 .5 0 .5 .3 .5 .1 .5 .3 .5 0 .5 0 .5-.1 .5-.5 .5-.2 .5 0 .5-.1 .5 0 .5 .5 .5 .3 .5-.1 .5-.2 .5-.3 .5 0 .5 0 .5 .5 .5 .1 .5 .2 .5 .1 .5-.2 .5-.2 .5-.4 .5-.3 .5 0 .5 .1 .5 .5 .5 0 .5 0 .5 .1 .5-.2 .5-.1 .5 0 .5 .1 .5 .1 .5 .4 .5 0 .5-.8 .5-.2 .5-.2 .5 0 .5 0 .5 .1 .5 .8 .5 .1 .5 .5 .5-.4 .5-.5 .5-.2 .5 0 .5 .1 .5 .3 .5 .2 .5 0 .5 0 .5-.2 .5-.2 .5-.2 .5 0 .5 .1 .5 .3 .5 .4 .5-.2 .5 0 .5-.1 .5-.3 .5-.2 .5 0 .5 0 .5 .5 .5 .3 .5 .1 .5-.1 .5-.2 .5-.4 .5-.3 .5 0 .5 .1 .5 .7 .5 .3 .5 0 .5-.4 .5-.5 .5-.4 .5 0 .5 .1 .5 .4 .5 .5 .5 .3 .5 .2 .5-.6 .5-.7 .5-.1 .5 0 .5 .1 .5 .5 .5 .5 .5 .3 .5-.2 .5-.6 .5-.4 .5-.1 .5 0 .5 0 .5 .5 .5 .5 .5 .2 .5-.4 .5-.3 .5-.7 .5-.1 .5 0 .5 .7 .5 .3 .5 .3 .5 0 .5-.1 .5-.6 .5-.2 .5-.1 .5 0 .5 .4 .5 .3 .5 .4 .5-.1 .5-.5 .5-.3 .5-.2 .5 0 .5 .2 .5 .4 .5 .3 .5 .3 .5-.2 .5-.8 .5-.3 .5 0 .5 0 .5 0 .5 .6 .5 .5 .5 .3 .5-.4 .5-.6 .5-.4 .5-.3 .5 .2 .5 .1 .5 .6 .5 .5 .5 .1 .5-.8 .5-.4 .5-.9 .5 0 .5 .9 .5 .4 .5 .3 .5 .1 .5 0 .5-.4 .5-.1 .5-.1 .5 0 .5 .3 .5 0 .5 .5 .5 .2 .5-.4 .5-.1 .5-.3 .5 0 .5 0 .5 .2 .5 .2 .5 0 .5 .4 .5-.3 .5-.4 .5-.4 .5 0 .5 .2 .5 .4 .5 .2 .5 .4 .5-.5 .5 0 .5-.3 .5-.1 .5 0 .5 .1 .5 .3 .5 .1 .5 .2 .5-.1 .5-.3 .5-.3 .5-.1 .5 0 .5 .2 .5 .2 .5 .1 .5-.1 .5-.4 .5 0 .5-.1 .5 .1 .5 0 .5 .2 .5 .3 .5 .4 .5 0 .5-.6 .5-.2 .5-.1 .5-.1 .5 0 .5 .4 .5 .4 .5 .2 .5-.3 .5-.2 .5-.3 .5 0 .5 0 .5 0 .5 .3 .5 .3 .5 0 .5 0 .5-.2 .5-.5 .5-.2 .5 .4 .5 0 .5 .5 .5 .1 .5 0 .5-.2 .5-.4 .5-.2 .5 0 .5 .1 .5 .4 .5 .1 .5 .2 .5-.2 .5-.3 .5-.3 .5 0 .5 0 .5 0 .5 .3 .5 .4 .5 .1 .5-.2 .5-.2 .5-.1 .5-.3 .5 0 .5 .3 .5 .1 .5 .4 .5 0 .5-.3 .5-.4 .5-.2 .5 0 .5 0 .5 0 .5 .5 .5-.2 .5-.1 .5 0 .5-.1 .5-.5 .5 0 .5 .4 .5 .5 .5 .4 .5 0 .5-.1 .5-.3 .5-.6 .5 0 .5 .2 .5 0 .5 .5 .5 .3 .5 .2 .5-.6 .5-.3 .5-.2 .5 .1 .5 0 .5 .3 .5 .3 .5 .1 .5 .1 .5-.3 .5-.3 .5-.4 .5 0 .5 .1 .5 .5 .5 .4 .5 .2 .5-.4 .5-.4 .5-.2 .5 0 .5 0 .5 0 .5 .3 .5 .2 .5 0 .5-.3 .5 0 .5-.6 .5 0 .5 .3 .5 .2 .5 .6 .5 .1 .5 .1 .5-.6 .5-.3 .5-1 .5-.1 .5 0 .5 .8 .5 .4 .5 .5 .5-.1 .5-.3 .5-.2 .5 0 .5 0 .5 .2 .5 0 .5 .5 .5 0 .5-.3 .5-.3 .5-.3 .5-.4 .5 0 .5 .5 .5 .6 .5 .1 .5 .3 .5-.5 .5-.3 .5 0 .5 .1 .5-.1 .5 .4 .5 .2 .5 .1 .5-.2 .5-.1 .5-.2 .5-.1 .5 0 .5 0 .5 .2 .5-.2 .5-.9 .5 0 .5 .8 .5 0 .5 .1 .5 0 .5 0 .5 .2 .5 .4 .5-.2 .5-.1 .5-.4 .5-.1 .5 0 .5 .2 .5-.1 .5 .2 .5 .1 .5 0 .5 0 .5-.1 .5-.2 .5 0 .5 0 .5 .2 .5 .3 .5 0 .5 0 .5-.4 .5-.2 .5 0 .5 .1 .5 .3 .5 .1 .5 .2 .5 0 .5-.2 .5-.2 .5-.3 .5 .2 .5 0 .5 .3 .5 0 .5 0 .5 0 .5-.5 .5 0 .5-.1 .5 .1 .5 .3 .5 .2 .5 0 .5 .1 .5 0 .5-.3 .5-.2 .5-.1 .5 .2 .5 .2 .5 .3 .5 .1 .5-.4 .5-.1 .5-.2 .5-.3 .5-.1 .5 0 .5 .6 .5 .3 .5 .2 .5-.1 .5-.3 .5-.5 .5 0 .5 .3 .5 .2 .5 .1 .5 .2 .5-.1 .5 0 .5-.3 .5-.2 .5 0 .5-.1 .5 0 .5-.2 .5 0 .5 .2 .5-.1 .5 0 .5-.2 .5 .5 .5 0 .5 .3 .5 0 .5 0 .5 0 .5-.2 .5-.1 .5 0 .5-.1 .5 .2 .5 .1 .5 .3 .5 0 .5-.2 .5-.3 .5 0 .5-.1 .5 0 .5 .1 .5 .2 .5 .3 .5 0 .5-.2 .5-.3 .5 0 .5-.1 .5 0 .5 .3 .5 0 .5 0 .5 .3 .5-.3 .5-.2 .5 0 .5 0 .5 .1 .5 .2 .5 .3 .5-.1 .5-.3 .5-.3 .5 0 .5 .1 .5 0 .5 .2 .5 0 .5 .1 .5 .1 .5-.2 .5-.2 .5 .1 .5 0 .5 0 .5 .2 .5-.2 .5 0 .5 .2 .5-.2 .5-.3 .5 0 .5 .2 .5 0 .5 .1 .5 .4 .5 0 .5-.3 .5 0 .5-.3 .5 0 .5 .3 .5 0 .5 .2 .5 0 .5 0 .5-.3 .5 0 .5-.1 .5 0 .5 0 .5 .3 .5 0 .5 0 .5-.1 .5-.1 .5-.3 .5 0 .5 0 .5 0 .5 .1 .5 .2 .5 0 .5 .1 .5-.2 .5-.2 .5 0 .5-.1 .5-.1 .5 .4 .5 .2 .5-.2 .5-.4 .5 0 .5 .2 .5 0 .5 .2 .5 .2 .5 .2 .5-.2 .5-.1 .5 0 .5-.3 .5 0 .5 .3 .5 .1 .5 .2 .5 0 .5-.2 .5 0 .5-.1 .5-.2 .5 0 .5 .2 .5 .1 .5 .2 .5-.1 .5-.1 .5 0 .5 0 .5 0 .5-.1 .5-.1 .5 0 .5 .3 .5-.2 .5 0 .5 .1 .5-.1 .5-.1 .5 .2 .5 .1 .5 .2 .5-.2 .5-.1 .5-.1 .5 0 .5-.4 .5 0 .5 .3 .5 .1 .5 .2 .5 0 .5-.1 .5-.2 .5 .1 .5 0 .5 .2 .5 0 .5 .1 .5 0 .5 0 .5-.3 .5 .1 .5 0 .5-.2 .5 0 .5 .3 .5 0 .5 0 .5-.1 .5 0 .5-.2 .5 0 .5 .1 .5 0 .5 0 .5 .3 .5 0 .5-.2 .5 0 .5-.1 .5 0 .5 0 .5 .2 .5 .2 .5-.1 .5-.2 .5-.1 .5-.4 .5-.1 .5 0 .5 .4 .5 .1 .5 .3 .5 0 .5-.1 .5-.1 .5 0 .5-.1 .5 0 .5 .1 .5 0 .5 .2 .5 0 .5-.4 .5-.3 .5-.2 .5 0 .5 .2 .5 .2 .5 .3 .5 .2 .5-.2 .5 0 .5-.1 .5-.1 .5 0 .5 .1 .5 0 .5-.4 .5 0 .5 .2 .5 .2 .5-.1 .5-.1 .5 .2 .5 0 .5 0 .5 0 .5 .3 .5-.4 .5 0 .5-.1 .5 0 .5 .4 .5 0 .5 0 .5-.1 .5-.2 .5-.1 .5 0 .5 .3 .5 0 .5 0 .5 0 .5 .1 .5 0 .5-.1 .5-.1 .5 0 .5-.1 .5 0 .5 .3 .5-.1 .5 0 .5-.1 .5 0 .5 .1 .5 0 .5-.1 .5 0 .5-.3 .5 0 .5 0 .5 .2 .5 0 .5-.1 .5-.2 .5 0 .5 .1 .5 0 .5 .3 .5 0 .5 0 .5 0 .5-.2 .5 0 .5 .4 .5 0 .5-.1 .5 0 .5 0 .5-.1 .5 0 .5 .1 .5 .1 .5 0 .5-.2 .5 0 .5 .1 .5 .1 .5-.2 .5 0 .5 .1 .5 0 .5 .2 .5-.2 .5 .2 .5-.2 .5-.2 .5 0 .5 .1 .5 .1 .5 0 .5 .1 .5 0 .5 0 .5 0 .5 0 .5-.1 .5 0 .5-.1 .5 0 .5 .1 .5 .1 .5 0 .5 0 .5 0 .5-.1 .5 0 .5 0 .5-.1 .5 0 .5-.2 .5 0 .5-.2 .5 0 .5 0 .5 .1 .5 .2 .5 .2 .5-.1 .5 0 .5 .1 .5 0 .5 0 .5 .1 .5 0 .5 0 .5 0 .5-.1 .5 0 .5 .1 .5-.2 .5 0 .5 .1 .5 .2 .5-.6 .5 0 .5 .3 .5 0 .5 .1 .5-.2 .5 .3 .5-.1 .5 0 .5 0 .5 0 .5 .1 .5-.1 .5-.1 .5-.1 .5-.2 .5 0 .5-.1 .5-.8 .5 0 .5 1 .5 0 .5 .3 .5 0 .5 0 .5 0 .5 .1 .5-.1 .5-.1 .5 0 .5 0 .5 0 .5-.1 .5-.4 .5 .4 .5-.1 .5 0 .5 .1 .5 0 .5 .2 .5 0 .5 0 .5 0 .5-.2 .5 .1 .5 .1 .5 0 .5-.1 .5 0 .5 .1 .5 0 .5 0 .5 0 .5-.2 .5 .1 .5 0 .5 0 .5 0 .5 .1 .5-.1 .5 0 .5 .2 .5-.2 .5 0 .5 0 .5-.3 .5 0 .5 .4 .5 0 .5 0 .5 .2 .5-.3 .5-.1 .5-.5 .5 0 .5 .4 .5 0 .5 0 .5 .3 .5 0 .5 0 .5 0 .5 0 .5-.1 .5 0 .5 .3 .5-.2 .5 0 .5 0 .5-.2 .5-.4 .5-.3 .5 0 .5 .6 .5 0 .5 0 .5 .4 .5-.3 .5-.1 .5 0 .5-.3 .5 .1 .5 .3 .5 .1 .5 .1 .5 0 .5-.3 .5 0 .5 0 .5 .2 .5 0 .5 .2 .5 0 .5 .1 .5-.2 .5 0 .5 .1 .5 0 .5-.1 .5 0 .5 .1 .5 0 .5-.2 .5 0 .5-.1 .5-.2 .5 0 .5 .1 .5-.1 .5-.1 .5 .2 .5-.2 .5 0 .5 0 .5 .3 .5 .1 .5 0 .5 .1 .5 .1 .5 0 .5 0 .5-.2 .5 0 .5-.1 .5 0 .5 .2 .5 0 .5 .1 .5 0 .5-.3 .5 0 .5 .1 .5 .2 .5-.1 .5 0 .5 0 .5 0 .5-.1 .5-.1 .5 0 .5 .1 .5 0 .5 .1 .5 0 .5 0 .5 0 .5 .1 .5 0 .5-.1 .5-.1 .5 0 .5 .1 .5-.3 .5 0 .5 .2 .5 0 .5-.2 .5 0 .5-.3 .5 0 .5 .4 .5 .2 .5-.1 .5-.3 .5 0 .5 0 .5 0 .5 .2 .5 0 .5 .3 .5 0 .5-.1 .5-.2 .5 0 .5 .1 .5 0 .5 0 .5 0 .5 .1 .5 0 .5 0 .5-.2 .5 0 .5 .1 .5 .2 .5-.1 .5 0 .5 0 .5 0 .5 0 .5 0 .5 0 .5 0 .5 .1 .5-.1 .5 0 .5 0 .5-.2 .5 .1 .5 .1 .5 .1 .5-.2 .5 0 .5 .2 .5-.5 .5 0 .5 .1 .5 .2 .5 0 .5 0 .5 0 .5 .1 .5-.1 .5 .1 .5 0 .5 0 .5 0 .5 0 .5 0 .5 0 .5-.1 .5 0 .5 .2 .5 0 .5-.2 .5 .2 .5 0 .5 0 .5 0 .5 .1 .5-.1 .5-.2 .5 0 .5 .2 .5 0 .5 0 .5-.1 .5 0 .5-.3 .5-.1 .5 0 .5 .1 .5 .3 .5-.1 .5 0 .5 .3 .5 0 .5 0 .5-.1 .5-.1 .5-.1 .5-.1 .5 0 .5-.3 .5 .2 .5 .2 .5 .1 .5-.1 .5 0 .5 0 .5 .1 .5 .1 .5 .1 .5-.1 .5-.1 .5 0 .5-.1 .5 0 .5 .1 .5 0 .5 0 .5 .2 .5-.1 .5 0 .5 0 .5 0 .5 0 .5 0 .5 0 .5 0 .5-.2 .5 0 .5 .1 .5 0 .5 .1 .5-.2 .5-.1 .5 .3 .5-.1 .5-.1 .5 0 .5-.4 .5 0 .5 .1 .5 0 .5 .4 .5 .1 .5 0 .5 .1 .5-.2 .5 0 .5 0 .5 0 .5 0 .5-.1 .5 0 .5 0 .5-.1 .5 .2 .5 0 .5-.1 .5 .1 .5 0 .5 0 .5 .1 .5 0 .5-.3 .5 0 .5 .2 .5-.1 .5 0 .5 .2 .5-.1 .5-.3 .5 0 .5 0 .5 .2 .5 0 .5 .1 .5-.4 .5 0 .5 .4 .5 0 .5-.1 .5 0 .5 .2 .5-.3 .5-.2 .5-.1 .5 0 .5 .2 .5-.1 .5 0 .5 .3 .5-.2 .5 0 .5 .3 .5 0 .5 .1 .5-.2 .5 0 .5 .1 .5-.1 .5 0 .5 .2 .5-.1 .5 .1 .5-.1 .5 .1 .5 0 .5-.3 .5 0 .5 .1 .5 .2 .5-.2 .5 0 .5 .1 .5-.1 .5 0 .5 .2 .5-.2 .5 0 .5 .1 .5 0 .5 .1 .5-.1 .5 0 .5 0 .5-.1 .5 .1 .5 0 .5 0 .5 .1 .5-.1 .5-.1 .5 0 .5-.1 .5 .1 .5 .1 .5 .2 .5-.1 .5-.1 .5 0 .5 0 .5 0 .5 0 .5 0 .5 .1 .5 0 .5 0 .5-.1 .5-.1 .5 0 .5-.1 .5 0 .5 .1 .5 .2 .5 0 .5 0 .5-.1 .5 0 .5-.2 .5 0 .5 .3 .5 0 .5 0 .5 0 .5-.3 .5 0 .5 .1 .5-.3 .5-.5 .5 0 .5 .3 .5 0 .5 .5 .5 .1 .5-.1 .5 0 .5 0 .5 0 .5-.2 .5-.1 .5 0 .5 .4 .5 0 .5 .1 .5-.1 .5-.1 .5 0 .5 0 .5 0 .5 .1 .5-.1 .5 0 .5 0 .5 .1 .5 .1 .5 .1 .5 0 .5 0 .5-.1 .5-.1 .5 0 .5 0 .5 0 .5 0 .5 0 .5 0 .5 0 .5-.1 .5-.1 .5 .2 .5 0 .5-.1 .5 0 .5-.1 .5 0 .5 .2 .5-.1 .5 0 .5 0 .5-.2 .5 0 .5 .2 .5 0 .5 0 .5 0 .5 0 .5 0 .5-.1 .5 .2 .5 .1 .5 0 .5-.1 .5-.1 .5 0 .5 0 .5 .1 .5-.1 .5 0 .5 .3 .5-.1 .5 0 .5 0 .5 0 .5-.1 .5-.1 .5 0 .5 0 .5-.4 .5-.1 .5 .1 .5 0 .5 .2 .5 .2 .5 0 .5 .2 .5 0 .5 .1 .5-.1 .5 0 .5-.1 .5 .1 .5-.1 .5 0 .5 0 .5 .1 .5-.1 .5 0 .5 .1 .5-.2 .5-.3 .5 0 .5 .4 .5 0 .5 0 .5 0 .5 0 .5 0 .5 0 .5 0 .5 0 .5-.1 .5 0 .5 0 .5 0 .5 .1 .5 0 .5-.1 .5 0 .5 .1 .5 0 .5 0 .5 .1 .5-.1 .5 0 .5 0 .5 0 .5 0 .5 .1 .5-.3 .5 0 .5 .2 .5 0 .5-.1 .5 0 .5 0 .5 0 .5 0 .5 .1 .5 0 .5 0 .5 0 .5 0 .5 .1 .5 0 .5-.1 .5 0 .5 0 .5-.2 .5 .3 .5-.2 .5 0 .5 .1 .5-.1 .5 .2 .5 0 .5-.1 .5 0 .5-.2 .5 .1 .5 .2 .5-.1 .5 0 .5 .1 .5-.2 .5 0 .5 .1 .5 0 .5 0 .5 .1 .5 .1 .5-.1 .5 0 .5-.1 .5 0 .5 .1 .5-.3 .5 0 .5 .2 .5-.1 .5 0 .5-.2 .5 0 .5 .1 .5 0 .5 0 .5 0 .5 .2 .5 0 .5 0 .5 0 .5 .1 .5-.1 .5 0 .5 0 .5-.1 .5 .2 .5 0 .5-.1 .5-.2 .5 0 .5-.1 .5 0 .5 .4 .5-.1 .5 0 .5 0 .5-.2 .5 0 .5 .1 .5 .1 .5-.1 .5 0 .5 .1 .5 .2 .5-.1 .5 0 .5-.2 .5 0 .5 .1 .5 0 .5 0 .5 .1 .5 0 .5-.1 .5-.1 .5 0 .5 .2 .5 0 .5 0 .5 0 .5 0 .5 0 .5-.2 .5 0 .5 0 .5 .1 .5-.3 .5-.8 .5 0 .5 .6 .5 0 .5 .5 .5-.1 .5 0 .5 0 .5 .1 .5 .1 .5 0 .5-.1 .5 0 .5 0 .5 0 .5 .1 .5 .1 .5 0 .5-.2 .5 0 .5-.3 .5 0 .5 .4 .5 0 .5-.1 .5 0 .5 .1 .5-.1 .5-.1 .5 0 .5 .1 .5 0 .5 0 .5 0 .5-.1 .5 0 .5-.2 .5 0 .5 0 .5 .2 .5 .2 0 2.7-.5 .2-.5 0-.5 .1-.5 0-.5 0-.5-.3-.5 0-.5 0-.5 0-.5 0-.5-.1-.5 0-.5 .1-.5 0-.5 0-.5 0-.5 0-.5-.1-.5 0-.5 .1-.5 .3-.5 0-.5-.2-.5 0-.5-.3-.5 .2-.5 0-.5 .1-.5 0-.5-.1-.5 .1-.5 0-.5-.1-.5-.1-.5 0-.5 .1-.5 .3-.5 .1-.5 .5-.5 .2-.5 0-.5-.6-.5-.3-.5-.1-.5 0-.5-.1-.5 0-.5 0-.5 0-.5 0-.5 .1-.5 0-.5-.2-.5 0-.5 .4-.5 0-.5-.3-.5 0-.5 .1-.5-.1-.5 0-.5-.1-.5 0-.5 .1-.5 0-.5 0-.5 0-.5 0-.5 0-.5 .1-.5 0-.5-.2-.5 .1-.5 0-.5 .1-.5 0-.5 0-.5-.2-.5 .2-.5 0-.5 0-.5 0-.5 0-.5-.1-.5-.2-.5 .1-.5 .3-.5 0-.5-.2-.5 .1-.5 0-.5 0-.5-.1-.5 .1-.5 .2-.5 0-.5 0-.5 .3-.5 0-.5-.2-.5 0-.5-.5-.5 .1-.5 0-.5-.1-.5 .1-.5 .1-.5-.1-.5 0-.5-.1-.5 0-.5 .1-.5 0-.5 .1-.5 0-.5 0-.5 0-.5-.1-.5-.1-.5-.1-.5 .4-.5 0-.5 0-.5 0-.5-.2-.5-.1-.5 0-.5 0-.5 .2-.5 0-.5-.1-.5 .3-.5 0-.5-.4-.5 0-.5 .2-.5 0-.5-.1-.5 0-.5 0-.5 .1-.5 0-.5-.2-.5 0-.5 .1-.5 0-.5-.1-.5 .1-.5 0-.5 .1-.5 0-.5-.2-.5 0-.5 .1-.5 0-.5 .3-.5 0-.5-.2-.5 0-.5 .1-.5-.2-.5 0-.5-.1-.5 .2-.5 0-.5-.1-.5 0-.5 .1-.5 .1-.5 0-.5-.2-.5-.1-.5 .1-.5 0-.5 0-.5 .1-.5-.1-.5 0-.5-.1-.5 0-.5 0-.5 .1-.5 .1-.5 0-.5-.1-.5 0-.5 0-.5 0-.5 0-.5-.2-.5 .2-.5 .2-.5 0-.5-.2-.5-.2-.5 .4-.5 .3-.5 0-.5-.2-.5-.1-.5-.1-.5-.1-.5 0-.5 0-.5 0-.5 0-.5-.1-.5 .2-.5 0-.5 0-.5-.1-.5 0-.5 .2-.5 0-.5-.2-.5 0-.5 0-.5 0-.5 0-.5 0-.5 .2-.5 0-.5-.1-.5 .1-.5 0-.5 .2-.5 0-.5-.2-.5 0-.5-.2-.5-.1-.5 .3-.5 0-.5-.2-.5 0-.5 0-.5-.1-.5 0-.5 0-.5 .1-.5 0-.5-.1-.5 .1-.5 .3-.5 0-.5-.3-.5 0-.5 0-.5 .1-.5 0-.5-.2-.5 .2-.5 0-.5-.2-.5 0-.5 .1-.5 .1-.5 0-.5 .1-.5 0-.5-.2-.5 .4-.5 0-.5-.4-.5 .2-.5 0-.5 .1-.5 0-.5-.1-.5 0-.5-.2-.5 0-.5 .2-.5 0-.5-.1-.5 0-.5 .2-.5 0-.5 0-.5-.2-.5-.1-.5 0-.5 0-.5 0-.5-.1-.5 .1-.5 0-.5-.1-.5 0-.5 0-.5 .1-.5 .2-.5-.1-.5 0-.5-.1-.5 0-.5 .1-.5 0-.5 0-.5-.1-.5 0-.5 0-.5 .1-.5-.2-.5 .1-.5 .1-.5 .1-.5 0-.5-.2-.5 0-.5 0-.5 .2-.5 0-.5-.2-.5 0-.5 0-.5 .2-.5 0-.5-.1-.5 0-.5-.1-.5-.1-.5 .1-.5-.1-.5 0-.5 .2-.5 .1-.5 0-.5-.1-.5 0-.5-.2-.5-.1-.5 .2-.5 0-.5 0-.5 0-.5 0-.5 .2-.5 0-.5-.3-.5 .1-.5 0-.5 0-.5 .1-.5 0-.5-.1-.5 0-.5-.1-.5 .1-.5 0-.5 .2-.5 0-.5-.1-.5 0-.5-.1-.5-.1-.5 .1-.5 .3-.5 0-.5 .5-.5 0-.5-.2-.5-.3-.5-.1-.5-.1-.5-.1-.5 0-.5 0-.5 0-.5 0-.5-.1-.5 0-.5 .1-.5 .3-.5 .1-.5 0-.5 .4-.5-.6-.5-.1-.5-.2-.5 0-.5 0-.5 0-.5 .1-.5 .1-.5 .2-.5 0-.5-.3-.5-.1-.5 0-.5 .1-.5 .1-.5 0-.5-.1-.5-.1-.5 .1-.5 0-.5 0-.5 0-.5-.1-.5 0-.5 .1-.5 0-.5 .1-.5-.2-.5 .1-.5 0-.5 .6-.5 0-.5-.5-.5 0-.5 0-.5 0-.5 0-.5 0-.5-.1-.5 0-.5 0-.5 .1-.5 0-.5 0-.5 0-.5 0-.5-.3-.5 .1-.5 .1-.5 .2-.5-.1-.5-.1-.5-.1-.5 .1-.5 0-.5 0-.5 0-.5-.1-.5 .2-.5 0-.5 .1-.5 0-.5-.1-.5 0-.5-.3-.5 .2-.5 .1-.5 .3-.5 .7-.5 0-.5-.9-.5 .2-.5 0-.5-.4-.5 0-.5 .3-.5 .2-.5 0-.5-.4-.5 .1-.5 0-.5-.2-.5 .6-.5 0-.5 0-.5 0-.5-.6-.5 0-.5 0-.5 0-.5 0-.5-.1-.5 .1-.5 0-.5 .1-.5 0-.5 0-.5-.3-.5 0-.5 0-.5 .2-.5 0-.5 0-.5 0-.5 0-.5-.1-.5 .2-.5 0-.5-.2-.5 .2-.5 0-.5 0-.5-.1-.5-.1-.5 .1-.5 0-.5 0-.5 0-.5-.1-.5 .1-.5 0-.5 0-.5 0-.5-.2-.5 0-.5 .1-.5 0-.5 .2-.5-.2-.5 0-.5 0-.5 .1-.5 0-.5-.1-.5 .4-.5 0-.5-.3-.5-.1-.5 .2-.5 0-.5-.1-.5-.2-.5 .1-.5 0-.5 0-.5 0-.5 .1-.5 0-.5 0-.5 0-.5 0-.5 .2-.5 0-.5-.2-.5 .1-.5 .5-.5 0-.5-.2-.5-.1-.5 0-.5-.2-.5-.1-.5 .5-.5 0-.5 .1-.5 0-.5-.1-.5 0-.5-.2-.5 0-.5-.3-.5 .1-.5-.1-.5 0-.5 .1-.5 .1-.5 0-.5-.2-.5 0-.5 0-.5 0-.5 .1-.5 0-.5 0-.5-.2-.5 .1-.5 0-.5 0-.5 .2-.5 0-.5-.4-.5 0-.5 .1-.5 .2-.5 0-.5-.1-.5 .1-.5-.1-.5-.2-.5 .2-.5 0-.5 0-.5 0-.5 .1-.5 0-.5 0-.5-.1-.5 .4-.5 0-.5-.4-.5 .3-.5 0-.5 .2-.5 0-.5-.3-.5 .1-.5 0-.5-.2-.5-.1-.5 0-.5 0-.5 0-.5 0-.5 0-.5 0-.5 0-.5-.1-.5 0-.5 .1-.5 0-.5 0-.5 0-.5-.1-.5 .1-.5 0-.5 .1-.5 0-.5 0-.5 .1-.5-.1-.5 0-.5 .1-.5 .1-.5-.1-.5 0-.5-.1-.5-.2-.5 .3-.5 0-.5 .1-.5-.1-.5 .2-.5 0-.5 0-.5 0-.5-.4-.5 0-.5 .1-.5 0-.5-.2-.5 0-.5 .2-.5 0-.5 0-.5 .2-.5 0-.5-.1-.5 .3-.5 0-.5 0-.5-.2-.5 0-.5-.1-.5 0-.5 0-.5-.3-.5 .2-.5-.2-.5-.1-.5 0-.5 .2-.5 .1-.5 0-.5-.1-.5 0-.5 0-.5 0-.5 0-.5 .1-.5 0-.5 0-.5-.1-.5 0-.5-.1-.5 0-.5 .2-.5 0-.5-.1-.5 .2-.5 0-.5-.2-.5 0-.5 0-.5-.1-.5 .1-.5 0-.5 0-.5 .3-.5 .2-.5 0-.5 0-.5-.3-.5-.1-.5-.1-.5 0-.5 0-.5 .1-.5 0-.5-.2-.5 .1-.5 0-.5 0-.5 .3-.5 .3-.5 .2-.5-.2-.5 0-.5-.4-.5 0-.5-.1-.5 0-.5-.2-.5 0-.5 0-.5 0-.5 .2-.5 0-.5 0-.5-.3-.5 .2-.5-.2-.5 .3-.5 .1-.5 0-.5-.1-.5 0-.5 .1-.5 0-.5-.2-.5 .1-.5 0-.5-.1-.5 0-.5 .2-.5 0-.5-.2-.5 0-.5 .1-.5 0-.5 0-.5 0-.5 .4-.5 0-.5-.1-.5 0-.5 0-.5 .1-.5 0-.5-.2-.5-.4-.5 .3-.5 0-.5-.1-.5 0-.5 0-.5-.1-.5 .1-.5 0-.5-.1-.5 .1-.5 0-.5-.2-.5 .1-.5 .1-.5-.1-.5 .2-.5 0-.5-.2-.5 0-.5 .4-.5 0-.5-.4-.5 0-.5 .1-.5 0-.5 0-.5 0-.5-.1-.5 0-.5 .2-.5 0-.5-.2-.5 0-.5 0-.5 .2-.5 0-.5-.3-.5 .1-.5 .1-.5 0-.5 0-.5 0-.5 0-.5 0-.5-.3-.5 .1-.5 .4-.5 0-.5 0-.5-.3-.5 .1-.5 0-.5-.1-.5 .1-.5 0-.5 0-.5 .1-.5 .4-.5 0-.5-.2-.5-.3-.5 .2-.5 0-.5-.3-.5 0-.5 0-.5 0-.5 0-.5 0-.5 .2-.5 0-.5-.3-.5 .3-.5 0-.5-.3-.5 0-.5 0-.5 .2-.5 0-.5 .1-.5 .1-.5-.1-.5 0-.5 0-.5-.2-.5-.2-.5 .2-.5 0-.5-.2-.5 .1-.5 .1-.5 0-.5 .1-.5 .1-.5 0-.5-.3-.5 .1-.5 .5-.5 0-.5 0-.5 0-.5 0-.5-.2-.5-.3-.5 0-.5-.2-.5 .3-.5 0-.5 .1-.5 0-.5-.1-.5 .2-.5-.1-.5 0-.5 .1-.5 0-.5 .1-.5 0-.5-.1-.5-.3-.5 0-.5-.1-.5 0-.5 0-.5 .3-.5 .1-.5-.2-.5 0-.5-.2-.5-.1-.5 0-.5 0-.5 .2-.5 .1-.5 .1-.5 .1-.5 0-.5-.3-.5-.2-.5 0-.5 .2-.5 .1-.5 0-.5 .1-.5 0-.5-.3-.5 0-.5-.1-.5 .2-.5 .2-.5 .1-.5 0-.5-.2-.5 0-.5-.3-.5 0-.5 0-.5 .1-.5 .2-.5 0-.5 0-.5-.1-.5 0-.5-.2-.5 0-.5 0-.5 0-.5 .2-.5 .2-.5 0-.5-.1-.5-.2-.5 0-.5 0-.5 .1-.5 0-.5 .1-.5 0-.5 0-.5-.1-.5 0-.5-.2-.5 0-.5 0-.5 .1-.5 .1-.5 0-.5 0-.5-.1-.5 0-.5 0-.5 0-.5 .2-.5-.1-.5 0-.5 0-.5-.1-.5 .1-.5-.1-.5-.2-.5 .2-.5 0-.5 .3-.5 0-.5 0-.5-.2-.5 0-.5-.1-.5-.1-.5 .1-.5 .2-.5 0-.5 .1-.5 0-.5-.3-.5-.1-.5 0-.5 .4-.5 .3-.5 .1-.5 .5-.5 0-.5 0-.5-.8-.5-.6-.5 0-.5 .1-.5 .5-.5 .3-.5 0-.5 0-.5-.3-.5-.2-.5-.2-.5 0-.5 .1-.5 .2-.5 0-.5 0-.5-.1-.5-.1-.5-.2-.5 .2-.5 .2-.5 0-.5-.1-.5-.1-.5 .3-.5 0-.5-.4-.5-.2-.5 0-.5 .3-.5 .1-.5 0-.5 .1-.5-.1-.5-.2-.5-.1-.5 0-.5 .3-.5 .2-.5 .1-.5 0-.5-.1-.5-.1-.5-.3-.5 0-.5 0-.5 0-.5 .3-.5 0-.5 0-.5 0-.5-.2-.5-.3-.5-.1-.5 .2-.5 .1-.5 .3-.5 .2-.5-.1-.5-.1-.5 0-.5-.3-.5-.2-.5-.1-.5 .4-.5 .2-.5 .1-.5 0-.5-.1-.5-.3-.5 .1-.5-.1-.5 .1-.5 .2-.5 .1-.5 .1-.5 0-.5-.3-.5-.3-.5-.2-.5 .4-.5 0-.5 .2-.5 0-.5-.1-.5-.1-.5-.1-.5-.1-.5 0-.5 0-.5 .2-.5 .2-.5 .3-.5 0-.5 0-.5-.6-.5 .1-.5 .1-.5 .6-.5 0-.5 .4-.5 0-.5-.4-.5-.2-.5-.5-.5-.2-.5 0-.5 .3-.5 0-.5 .2-.5 0-.5-.1-.5-.2-.5-.4-.5 .2-.5 .2-.5 0-.5 .3-.5 .1-.5 0-.5-.3-.5 0-.5 0-.5-.1-.5 0-.5 .3-.5 0-.5 0-.5 0-.5-.3-.5-.3-.5 0-.5 0-.5 .3-.5 .1-.5 .1-.5 .1-.5-.2-.5 0-.5-.4-.5-.1-.5 .5-.5 0-.5 0-.5 0-.5 0-.5-.1-.5-.2-.5 .1-.5 0-.5 .2-.5 .1-.5 .1-.5 0-.5-.2-.5-.2-.5 0-.5-.1-.5 .2-.5 0-.5 .1-.5 .1-.5 0-.5 .1-.5-.4-.5-.1-.5 .1-.5 0-.5 .5-.5 .4-.5 0-.5-.1-.5-.4-.5-.3-.5-.2-.5-.1-.5 .3-.5 .1-.5 .1-.5 0-.5 0-.5-.1-.5-.2-.5-.3-.5 .8-.5 0-.5 .6-.5 0-.5-.5-.5-.2-.5-.4-.5-.1-.5 0-.5 0-.5 .5-.5 0-.5 0-.5 0-.5-.2-.5-.3-.5 0-.5-.3-.5 .4-.5 .2-.5 .2-.5 0-.5-.1-.5 .2-.5 0-.5 0-.5 .1-.5 0-.5 0-.5 0-.5-.1-.5-.2-.5 0-.5-.7-.5 0-.5 .4-.5 .3-.5 .7-.5 0-.5-.2-.5 0-.5-.3-.5-.1-.5-.5-.5 .1-.5 .6-.5 .1-.5 .1-.5 0-.5-.6-.5-.4-.5-.1-.5 .1-.5 .8-.5 .7-.5 0-.5-.3-.5 0-.5-.7-.5-.5-.5-.1-.5 .3-.5 .2-.5 .4-.5 0-.5-.1-.5-.1-.5-.5-.5-.3-.5 0-.5 .3-.5 .6-.5 .2-.5 0-.5-.1-.5-.4-.5-.3-.5-.4-.5 .3-.5 .4-.5 .4-.5 0-.5-.1-.5-.2-.5-.2-.5-.2-.5-.4-.5 .6-.5 .2-.5 .3-.5 .2-.5 0-.5-.4-.5-.4-.5-.5-.5 .3-.5 .3-.5 .5-.5 .1-.5 .4-.5-.3-.5-.1-.5-.5-.5-.4-.5 0-.5 .7-.5 0-.5 .1-.5 0-.5-.1-.5-.3-.5-.4-.5-.2-.5 .4-.5 .3-.5 .2-.5 0-.5-.1-.5-.2-.5-.2-.5-.2-.5 0-.5 .3-.5 .1-.5 .1-.5 .2-.5 0-.5-.5-.5 0-.5-.2-.5 0-.5 .3-.5 .3-.5 0-.5-.1-.5 0-.5-.1-.5-.4-.5 0-.5 .1-.5 .2-.5 .3-.5 0-.5 .2-.5 0-.5-.5-.5-.3-.5-.2-.5 .2-.5 .3-.5 .4-.5 .1-.5 0-.5-.3-.5-.5-.5-.2-.5 .1-.5 .3-.5 .5-.5 .1-.5 0-.5 0-.5-.6-.5-.3-.5 0-.5 .3-.5 .7-.5 0-.5 .4-.5 0-.5-.6-.5-.3-.5-.5-.5 0-.5 .4-.5 .2-.5 .2-.5 .1-.5 0-.5-.1-.5-.4-.5-.5-.5 .4-.5 .1-.5 .2-.5 .6-.5 0-.5-.6-.5-.2-.5-.2-.5-.2-.5 .2-.5 .2-.5 .2-.5 .1-.5 0-.5-.2-.5-.1-.5-.2-.5-.1-.5 .3-.5 .1-.5 .4-.5 0-.5-.1-.5-.3-.5-.1-.5-.2-.5 0-.5 .5-.5 .2-.5 .2-.5 .1-.5 0-.5-.6-.5-.2-.5 .2-.5 0-.5 0-.5 .4-.5 .2-.5 0-.5-.1-.5-.3-.5-.3-.5 0-.5-.5-.5 .7-.5 1-.5 0-.5-.4-.5-.4-.5-.3-.5-.5-.5-.3-.5 .5-.5 .4-.5 .3-.5 0-.5 0-.5-.3-.5-.2-.5-.7-.5 .2-.5 .4-.5 .5-.5 0-.5 0-.5 0-.5-.6-.5-.1-.5-.4-.5 .1-.5 .6-.5 .3-.5 .2-.5 0-.5-.2-.5-.3-.5-.7-.5-.1-.5 .6-.5 .3-.5 .1-.5 .2-.5 0-.5 0-.5 0-.5-1-.5 .1-.5 .1-.5 .9-.5 0-.5 .1-.5 .1-.5-.5-.5-.5-.5-.5-.5 .4-.5 .5-.5 .2-.5 .2-.5 0-.5-.1-.5-.4-.5-.5-.5 0-.5 .3-.5 .6-.5 0-.5 .2-.5 0-.5-.3-.5-.5-.5-.3-.5-.1-.5 .1-.5 .7-.5 .1-.5 0-.5-.1-.5 0-.5-.4-.5-.2-.5-.1-.5 .4-.5 .4-.5 .1-.5 .1-.5 0-.5-.5-.5 0-.5-.7-.5 .4-.5 .2-.5 .9-.5 .1-.5 0-.5-.4-.5-.5-.5-.4-.5 0-.5 0-.5 .4-.5 .3-.5 .2-.5 0-.5-.2-.5 0-.5-.8-.5 .5-.5 0-.5 .2-.5 .4-.5 0-.5-.4-.5-.1-.5-.5-.5 0-.5 0-.5 .3-.5 .2-.5 .5-.5 0-.5 0-.5-.5-.5-.1-.5-.3-.5 .1-.5 .2-.5 0-.5 .3-.5 0-.5 0-.5-.4-.5-.2-.5-.1-.5 0-.5 .5-.5 .3-.5 .3-.5 0-.5-.2-.5-.3-.5 0-.5-.7-.5 .4-.5 .1-.5 .3-.5 0-.5-.1-.5-.1-.5-.4-.5-.3-.5 .2-.5 .2-.5 .3-.5 .4-.5 0-.5-.1-.5 0-.5-.7-.5-.2-.5 .2-.5 .2-.5 .4-.5 0-.5 0-.5-.1-.5-.3-.5-.3-.5-.2-.5 .6-.5 0-.5 .2-.5 .1-.5-.2-.5-.1-.5 0-.5-.3-.5-.2-.5 .4-.5 .2-.5 0-.5 .1-.5-.1-.5-.2-.5-.1-.5-.2-.5 0-.5 .2-.5 .2-.5 .1-.5 .2-.5 0-.5 0-.5 0-.5 0-.5-.2-.5 .3-.5 0-.5 0-.5-.1-.5-.1-.5-.2-.5-.1-.5 .3-.5 .1-.5 .5-.5 0-.5-.5-.5-.1-.5-.1-.5-.1-.5-.5-.5 .1-.5 .2-.5 .1-.5 .4-.5 0-.5-.1-.5-.1-.5-.3-.5-.2-.5 .1-.5 0-.5 .3-.5 .1-.5 0-.5-.1-.5-.1-.5-.2-.5 0-.5 0-.5 .2-.5 .2-.5 .2-.5 0-.5-.1-.5-.2-.5 .1-.5 .1-.5 0-.5 .1-.5 0-.5-.1-.5 0-.5-.3-.5-.2-.5 0-.5-.1-.5 0-.5 .4-.5 .2-.5 .2-.5 0-.5-.3-.5-.4-.5-.1-.5 .3-.5 0-.5 0-.5 .3-.5 0-.5-.1-.5-.1-.5-.3-.5-.1-.5-.1-.5 .3-.5 .2-.5 .3-.5-.1-.5 0-.5-.2-.5-.3-.5 0-.5 0-.5 .6-.5 .2-.5 .5-.5 0-.5-.4-.5-.6-.5-.3-.5 0-.5 .2-.5 .2-.5 .1-.5 .5-.5 0-.5-.6-.5-.4-.5-.2-.5-.1-.5 .4-.5 .2-.5 .3-.5 0-.5 0-.5-.2-.5-.3-.5-.1-.5-.2-.5 .3-.5 .5-.5 0-.5 .1-.5 0-.5-.4-.5-.4-.5 0-.5 0-.5 .7-.5 0-.5 .8-.5 0-.5-.4-.5-.3-.5-.3-.5-.5-.5 .2-.5 .9-.5 0-.5 .2-.5 0-.5-.3-.5-.5-.5-.4-.5-.2-.5 .1-.5 .4-.5 .2-.5 .4-.5 0-.5-.3-.5-.5-.5-.5-.5 .2-.5 .3-.5 .5-.5 .3-.5 .1-.5 0-.5-.4-.5-.6-.5-.5-.5 0-.5 .6-.5 .4-.5 .5-.5 0-.5-.1-.5-.6-.5 0-.5-.2-.5 .3-.5 .5-.5 0-.5-.2-.5 0-.5-.1-.5-.1-.5 0-.5-.4-.5 0-.5 .1-.5 .4-.5 0-.5 0-.5-.3-.5-.1-.5-.3-.5 0z"/>
<path fill="#008000" d="M138.5 291.8l1 .2 1-.1 1 0 1 .1 1 0 1 0 1 0 1 0 1 0 1 .1 1 0 1-.2 1 0 1 .2 1-.1 1-.2 1 .2 1 0 1 0 1 0 1-.1 1 .3 1-.3 1 0 1 .1 1 0 1 .1 1-.1 1 0 1-.1 1 .1 1 0 1 0 1 0 1-.5 1 .1 1 .1 1 .3 1-.1 1 .1 1 0 1 .1 1 0 1-.1 1-.4 1-.2 1 .4 1 .1 1 .1 1-.1 1 .1 1-.1 1 .1 1 0 1 .2 1-.1 1-.2 1 0 1 .2 1 0 1 0 1-.4 1 .4 1 .1 1-.2 1-.1 1 .2 1-.1 1-.1 1 0 1 .1 1-.1 1-.1 1 .3 1 0 1-.2 1 .1 1 0 1 0 1-.2 1 .2 1 0 1 0 1 .1 1-.1 1 .1 1-.2 1 .3 1-.2 1-.2 1 .1 1 .2 1-.3 1 .2 1-.1 1 0 1 .1 1 .1 1-.1 1 0 1 0 1 0 1-.1 1 .1 1-.2 1 .2 1-.1 1 .2 1-.1 1-.1 1-.1 1 .2 1-.2 1-.2 1 0 1 .3 1 .2 1-.5 1 .1 1-.5 1 .6 1 0 1 .2 1 0 1 0 1-.1 1 .1 1 0 1 .1 1-.2 1 .3 1-.1 1-.1 1-.1 1 .2 1-.1 1 0 1-.1 1 .2 1-.1 1 .1 1-.3 1 .3 1-.1 1 .2 1-.1 1-.1 1 0 1 .1 1-.2 1 .1 1 0 1 0 1 0 1 0 1 .2 1-.3 1-.1 1 0 1 .1 1 .2 1 0 1 0 1 0 1-.2 1 .2 1-.1 1 0 1-.3 1 .5 1-.2 1 .1 1 0 1-.1 1 0 1 .1 1-.1 1 .1 1-.3 1 .3 1-.1 1-.1 1 0 1 .1 1 .1 1-.1 1 .1 1-.1 1-.1 1 .1 1 .1 1-.1 1 .2 1-.9 1 .8 1 0 1 .1 1-.1 1-.2 1 .2 1-.2 1-.1 1 .1 1 .2 1-.1 1-.2 1-.4 1-.1 1 .6 1 .1 1-.1 1 .1 1 0 1 0 1 .1 1-.3 1 .2 1 .1 1-.2 1 0 1 0 1 0 1 0 1 .3 1-.1 1-.1 1 0 1 .1 1 0 1-.3 1 .3 1-.1 1-.2 1 .3 1-.2 1 .2 1 0 1 0 1-.1 1 0 1 .2 1-.2 1-.3 1-.3 1 .6 1-.2 1 .1 1 .1 1 0 1-.2 1 .2 1-.2 1 .3 1 0 1 0 1-.2 1-.1 1 .1 1 .1 1 .1 1 0 1-.1 1 0 1 .1 1-.4 1 .3 1 .1 1 0 1 0 1-.2 1 .1 1 0 1-.1 1 .2 1-.2 1-.1 1 .1 1 .2 1 0 1 0 1-.1 1-.1 1 .3 1-.2 1 0 1 0 1 .1 1-.3 1 0 1-.1 1 .4 1-.2 1 .3 1-.2 1 .1 1-.2 1 0 1 .1 1 0 1-.3 1 .4 1-.5 1-.3 1 0 1 .5 1 0 1 .1 1-.1 1 .3 1 0 1 0 1 0 1-.1 1 0 1 .1 1-.1 1 .1 1-.1 1 0 1-.1 1 0 1 .3 1-.1 1-.2 1 0 1 0 1 .2 1 0 1-.1 1 0 1 .1 1-.2 1 .1 1 0 1 .1 1 0 1-.1 1 0 1-.1 1 .1 1 0 1 .1 1 0 1-.1 1-.3 1 .3 1 .1 1-.1 1 .1 1 0 1-.1 1 .1 1-.1 1 .1 1-.1 1 .1 1-.1 1 0 1 .1 1-.3 1 .2 1 0 1 0 1-.1 1 0 1 .2 1 0 1-.1 1 0 1 0 1 .1 1 0 1-.1 1-.1 1 .1 1 0 1 .2 1-.2 1 .1 1-.1 1 .1 1-.3 1 .2 1 0 1 0 1-.2 1 .1 1 0 1 .1 1 0 1 .1 1 0 1-.1 1 .1 1-.2 1 .2 1-.2 1 .2 1 0 1 0 1-.2 1 .2 1 .1 1-.1 1-.1 1-.2 1 .3 1-.3 1 .3 1 0 1 0 1 0 1-.1 1-.2 1 .2 1 .1 1-.3 1 .3 1-.2 1 .2 1-.1 1 .1 1-.2 1 .2 1 0 1-.1 1 0 1 0 1-.2 1 .1 1 .2 1-.1 1-.1 1 0 1-.1 1-.6 1 0 1 .8 1 .1 1-.3 1 .3 1 0 1 0 1-.1 1 .1 1 0 1-.1 1 .1 1-.2 1 0 1 .1 1 .1 1-.2 1-.1 1 .2 1 .1 1-.1 1 .1 1 0 1 0 1-.1 1-.2 1 .1 1 .2 1-.3 1 .3 1-.1 1 .1 1-.2 1 .1 1 .1 1-.1 1 .1 1-.1 1 .1 1-.2 1 .1 1 .2 1-.3 1 .2 1-.2 1 0 1-.2 1 .3 1-.1 1 .1 1-.1 1 .1 1-.3 1 .3 1 .1 1 0 1-.1 1-.2 1-.1 1-.3 1 .6 1-.1 1 .2 1-.2 1-.1 1 .1 1 .3 1-.4 1 .3 1-.2 1 .1 1-.1 1 .1 1-.1 1-.1 1 .4 1-.1 1 0 1-.1 1-.2 1 .3 1-.1 1 .1 1 0 .5-.1 .5 0 .5-.1 .5-13.8 .5-.1 .5-.3 .5-.7 .5 0 .5 0 .5 .5 .5 .6 .5 1.5 .5 1.8 .5-7.6 .5-11.4 .5-11.3 .5-.6 .5-.4 .5-.1 .5 0 .5 0 .5 6.2 .5 11 .5 7.9 .5 4.1 .5 1.8 .5 2 .5 .6 .5 .7 .5 .5 .5 .4 .5-1.4 .5 0 .5 0 .5 2.6 .5 .2 .5 0 .5 .8 .5-1.7 .5 0 .5 0 .5 2 .5 0 .5 0 .5 .3 .5 .3 .5 .6 .5 .2 .5 0 .5 .7 .5-.6 .5 0 .5 0 .5 1 .5 .3 .5 0 .5-.2 .5 0 .5 0 .5 .2 .5 .1 .5 0 .5 0 .5-.3 .5 0 .5 0 .5 .8 .5 0 .5 .1 .5 .2 .5 0 .5 0 .5 .2 .5 0 .5 0 .5 .1 .5 0 .5 0 .5 .3 .5 .1 .5 0 .5-.6 .5 .3 .5 0 .5 0 .5 .2 1 .1 1-.2 1 .1 1 0 1-.1 1 0 1 .1 1-.4 1 .1 1 0 1 .5 1-.2 1 .1 1-.1 1 0 1 0 1 .2 1-.1 1-.1 1-.1 1 .1 1-.1 1 0 1 .2 1-.1 1 .1 1-.1 1 .2 1-.1 1-.2 1 .2 1 0 1-.2 1 .1 1 .1 1-.3 1 .2 1 0 1-.1 1 0 1-.1 1 .3 1-.1 1 .1 1-.1 1 0 1 .1 1 0 1-.2 1 0 1 .1 1 .1 1-.1 1-.1 1-.1 1 .4 1-.2 1 0 1 .1 1-.1 1-.1 1 .1 1 0 1 0 1-.1 1 .2 1-.1 1 .1 1-.1 1 0 1 0 1 0 1 .1 1-.1 1 0 1 0 1-.1 1 0 1 .1 1-.1 1 0 1 0 1-.1 1 .2 1 .1 1 0 1-.1 1 0 1-.3 1 .2 1-.1 1 .3 1 0 1-.1 1-.1 1 .2 1-.2 1 .2 1-.1 1 .2 1 0 1-.2 1 0 1-.1 1 0 1 .1 1 0 1-.2 1 .1 1 .1 1-.1 1 0 1 .1 1 .2 1-.2 1 0 1 .1 1-.1 1-.1 1 .2 1-.2 1 .2 1 0 1-.1 1 0 1 0 1-.1 1 .2 1 0 1-.3 1 .3 1 0 1-.1 1 .1 1 0 1-.1 1 .1 1 0 1-.1 1-.4 1-.3 1 .3 1 .4 1 0 1 0 1-.4 1-.3 1 0 1 .5 1-.1 1-.1 1 .3 1 .3 1-.2 1-.1 1 0 1 0 1 .1 1 0 1 0 1 .1 1-.2 1 .1 1-.1 1 .2 1-.2 1 .1 1 .2 1 0 1-.3 1 .2 1-.2 1 0 1 0 1 .2 1 0 1-.1 1 0 1 .1 1 0 1-.1 1-.3 1 .4 1-.4 1 .1 1 .2 1 0 1 0 1 .1 1-.2 1 .1 1-.1 1 .2 1-.1 1 0 1 .2 1-.2 1 0 1-.2 1 .2 1 0 1 0 1 0 1 0 1 .1 1-.1 1 0 1 .2 1-.3 1 .1 1 0 1 0 1 0 1 0 1-.2 1-.2 1 .3 1 .3 1-.2 1 0 1-.1 1 .1 1 0 1 .1 1 0 1 0 1-.1 1 0 1-.1 1-.6 1 .6 1 0 1 .1 1-.5 1 .2 1 .4 1-.4 1 .2 1 0 1 .3 1-.2 1-.3 1 .4 1 .1 1-.3 1 .1 1-.1 1 .2 1-.2 1 .1 1-.1 1 .2 1-.4 1 0 1 .2 1-.2 1 .4 1 .2 1-.3 1 .1 1-.1 1 0 1 .1 1-.1 1 .1 1 0 1-.3 1 .3 1 0 1-.1 1 .1 1 0 1 .1 1-.2 1 0 1 .1 1 0 1-.3 1 .2 1 0 1-.1 1 .2 1 0 1-.2 1 .3 1-.1 1-.1 1 .1 1-.1 1 .1 1 0 1 0 1-.1 1-.1 1-.1 1 .2 1-.1 1-.2 1 .3 1-.2 1 .1 1-.1 1 .3 1-.1 1 0 1 .1 1-.1 1 .1 1-.1 1 0 1 0 0 2.8-1 0-1 .1-1-.1-1 0-1 .1-1-.1-1 .1-1 0-1 .1-1-.2-1 .1-1 0-1 .2-1 .4-1-.6-1 0-1 0-1 0-1 .1-1 0-1-.3-1 .2-1 0-1-.1-1 .1-1-.2-1 .3-1-.1-1-.2-1 .1-1-.1-1 .1-1 0-1 .2-1-.3-1 .2-1-.1-1-.1-1 .1-1 0-1 0-1 .1-1 .1-1-.1-1 0-1-.2-1 .3-1-.1-1 0-1-.1-1 .1-1 .1-1-.1-1 0-1-.1-1 .1-1 0-1 0-1-.1-1-.1-1 .2-1-.2-1 .3-1-.1-1 0-1-.2-1 .1-1 .2-1-.2-1 .1-1-.1-1 .3-1-.3-1 .1-1-.2-1 .4-1-.2-1-.1-1 0-1 .4-1 .1-1-.3-1-.2-1 0-1 0-1 .1-1 .1-1 .1-1-.1-1-.2-1 .1-1 .1-1 .1-1-.2-1 0-1-.2-1 .2-1 0-1-.1-1 .2-1-.3-1 .2-1 .1-1-.2-1 .1-1 .1-1 0-1-.2-1 0-1 0-1 0-1 0-1 .1-1 .3-1-.2-1-.1-1-.1-1 .1-1-.1-1 .1-1-.2-1 .2-1-.1-1 .1-1-.1-1 .3-1-.2-1 .1-1-.2-1 .1-1-.1-1 .1-1 0-1-.1-1 .2-1-.2-1 .1-1 .2-1-.3-1 .1-1-.1-1 .2-1-.2-1 .1-1-.1-1-.1-1 .2-1 .1-1-.2-1 .2-1-.2-1 0-1 0-1 .1-1-.1-1 .1-1 .1-1-.1-1 .6-1 0-1-.4-1 .2-1 .3-1 .1-1-.6-1-.1-1-.1-1 .1-1 .5-1 .2-1-.5-1-.4-1 .1-1 .2-1-.4-1 .2-1 0-1-.1-1 .1-1-.1-1 .2-1-.3-1 .4-1-.3-1-.1-1 .2-1 0-1-.1-1 .2-1-.1-1-.1-1 0-1 0-1 .1-1 .1-1-.3-1 .3-1-.1-1-.1-1 0-1 0-1 0-1 .3-1-.2-1-.1-1 0-1 .2-1-.1-1 .1-1-.1-1-.2-1 .2-1 0-1 0-1 0-1 0-1-.1-1 .3-1-.2-1-.1-1-.2-1 .4-1-.2-1 .1-1 .1-1-.1-1 0-1-.1-1-.1-1 .1-1 .2-1-.1-1-.1-1 .1-1 .1-1 .1-1-.3-1 .1-1 .3-1-.5-1 .1-1 0-1 .1-1-.1-1 0-1 0-1 .1-1-.2-1 .2-1 0-1-.1-1 .3-1-.3-1 0-1 .3-1-.2-1 0-1-.2-1 .4-1-.3-1 .1-1-.2-1 .2-1-.3-1 .4-1-.3-1 .3-1 0-1-.1-1 0-1 .1-1-.1-1-.1-1 0-1 0-1 .1-1 0-1-.2-1 .2-1-.1-1 0-1 .1-1 0-1 0-1-.1-1 0-1 .1-1 0-1 .2-1-.1-1-.1-1 0-1 .1-1-.1-1 0-1 .1-1-.1-1 0-1-.1-1 .3-1 .1-1 .2-1-.4-1 .2-1-.4-1 .2-1-.1-1 .1-1 0-1-.1-1 .2-.5-.2-.5 0-.5-.1-.5 .4-.5 0-.5 0-.5-.4-.5 0-.5 0-.5 .1-.5 0-.5 .1-.5 0-.5 .2-.5 0-.5 0-.5 .2-.5 .2-.5 0-.5 0-.5 0-.5 0-.5 .2-.5 0-.5 .1-.5 0-.5 .2-.5 0-.5 0-.5 .4-.5 .2-.5 .9-.5 0-.5 0-.5-.6-.5 .1-.5 0-.5 .2-.5 .3-.5 .5-.5 0-.5 0-.5 .2-.5 0-.5 .5-.5 0-.5 .8-.5 .1-.5 0-.5 .1-.5 .5-.5 .2-.5 .5-.5 .7-.5 0-.5 2.3-.5 0-.5 1.6-.5 0-.5 .3-.5 3.1-.5 1.7-.5 3.4-.5 8.1-.5 7.5-.5 1.4-.5 0-.5 0-.5-1-.5-10.2-.5-7.2-.5-4.3-.5-2.3-.5-.9-.5 1.6-.5 3.4-.5 0-.5 .2-.5 0-.5 0-.5-.5-.5-1.1-.5-13.7-.5-.3-.5 0-.5 0-1 0-1 .1-1 .1-1 0-1 0-1-.1-1 .1-1-.2-1 .3-1-.2-1-.1-1 .1-1-.1-1 .2-1-.1-1-.1-1 0-1 .1-1 .1-1-.1-1-.1-1 .1-1 .2-1 0-1 .2-1-.3-1 .1-1-.3-1 .1-1 .1-1 0-1-.1-1 .1-1-.1-1 .4-1-.3-1-.3-1 .5-1-.5-1 .3-1-.1-1 0-1 .2-1-.3-1 .2-1 .2-1-.4-1-.1-1 .1-1 0-1 .1-1 0-1 .2-1-.4-1 0-1 .1-1 .1-1 0-1 0-1 .1-1-.1-1 .3-1-.5-1 .2-1 0-1-.2-1 0-1 .1-1 0-1-.1-1 .2-1 0-1-.1-1 0-1 0-1 .1-1 0-1 0-1 .1-1-.1-1 0-1 .1-1 .3-1-.2-1-.1-1-.3-1 .2-1-.1-1 0-1 .1-1-.1-1 0-1 .1-1 .1-1 .1-1-.1-1-.1-1 .1-1 0-1-.2-1 .1-1-.1-1 .4-1-.2-1 .1-1 0-1-.1-1-.2-1 0-1-.1-1 .4-1-.2-1-.3-1 .1-1 .4-1-.3-1 .2-1-.2-1 0-1 .2-1 .1-1-.4-1 .2-1-.1-1 .2-1-.2-1 0-1 .2-1-.1-1 .1-1-.2-1 .1-1 0-1 .1-1-.3-1 .4-1 .1-1-.4-1 0-1 .2-1 0-1-.1-1 0-1-.2-1 .2-1 0-1 .1-1 0-1-.1-1 .3-1-.4-1 0-1 .1-1 0-1 0-1 0-1 0-1-.1-1 .2-1-.3-1 .1-1 0-1 .6-1-.5-1 0-1-.1-1 0-1 0-1-.1-1 .2-1 0-1 .1-1-.2-1 .2-1 .3-1 0-1-.3-1-.2-1-.1-1 .1-1 .2-1-.1-1 0-1 0-1 .2-1-.2-1 0-1 .2-1-.1-1-.1-1 .1-1-.1-1 0-1 .3-1-.3-1-.1-1 0-1 .2-1-.3-1 .1-1 0-1-.1-1 .3-1 0-1 .3-1-.6-1 .2-1-.1-1 .2-1-.1-1-.1-1 .1-1-.1-1 .2-1 .1-1 .1-1 .2-1-.3-1-.2-1-.1-1 .2-1 .1-1-.4-1 .1-1 .2-1-.1-1-.1-1 .1-1 0-1 .3-1 0-1-.1-1 .1-1-.2-1 0-1-.1-1-.1-1 .1-1 0-1 0-1-.1-1 .1-1 .3-1-.2-1 .1-1-.1-1-.1-1 0-1-.1-1-.2-1 .3-1-.1-1 0-1 .1-1-.1-1 0-1 0-1 .2-1-.2-1 .1-1-.1-1-.1-1 .3-1-.1-1-.1-1 .1-1 0-1-.2-1 0-1 0-1 .1-1-.1-1 .4-1-.3-1 0-1 .5-1 0-1-.3-1-.2-1 0-1 .1-1 0-1 .1-1-.3-1 .1-1 0-1 .2-1-.2-1 0-1 .1-1-.1-1 0-1 0-1 0-1 0-1 .1-1-.1-1 0-1 0-1 .3-1-.3-1 0-1 .2-1 0-1 0-1-.2-1 .2-1-.2-1 .1-1 .2-1 0-1 0-1 0-1-.1-1-.1-1 0-1 0-1 0-1-.1-1 .1-1 .1-1 .1-1-.3-1 0-1 .4-1-.4-1 .1-1-.1-1 .1-1 0-1 0-1-.1-1 .2-1-.1-1 0-1 0-1 .2-1-.2-1 0-1-.1-1 .3-1-.5-1 .3-1 0-1-.2-1 0-1 .5-1-.2-1-.1-1 0-1 .1-1-.1-1-.1-1 .1-1-.2-1 .1-1 .1-1-.2-1 .3-1-.1-1-.1-1 .2-1-.1-1 0-1 0-1 0-1 0-1-.1-1 .1-1 .1-1-.2-1 .2-1-.2-1-.1-1 .2-1-.2-1 .1-1 .1-1 0-1-.1-1 .1-1-.1-1 .2-1 0-1-.1-1 0-1 .1-1-.2-1 .1-1 .3-1-.2-1 .1-1-.4-1 .2-1 .1-1 0-1-.1-1 .1-1 .5-1 0-1-.4-1 0-1-.1-1 .1-1 .1-1 .1-1-.1-1 0-1-.4-1 .1-1 0-1-.1-1 .1-1-.2-1 .1-1 .2-1-.2-1-.1-1 .4-1-.1-1 0-1 0-1-.1-1 0-1 .2-1-.2-1 .2-1-.3-1 0-1 .2-1-.1-1-.1-1 0-1 .1-1 .1-1-.2-1 .1-1 .2-1-.2-1 .1-1 .1-1-.4-1 .4-1-.3-1-.1-1 .3-1-.1-1 0-1-.1-1 .5-1-.5-1 0-1 .1-1-.2-1 0-1 .2-1 .1-1-.1-1-.1-1 .2-1 0-1 0-1 0-1-.1-1 .2-1-.2-1 0-1-.1-1 .1-1-.1-1 0-1 0-1 .5-1 .1-1-.2-1-.1-1 0-1-.3-1 .3-1-.2-1 0-1-.1-1 .1-1 .4-1 .2-1-.5-1-.3-1 .2-1 0-1-.2-1 .2-1 0-1 0-1 0-1 .2-1-.1-1-.1-1-.1-1 .1-1 .1-1-.1-1 .1-1-.2-1-.1-1 .3-1-.2-1 .2-1-.2-1 .2-1-.2-1 .3-1-.2-1-.2-1 .1-1 .1-1-.1-1 .1-1 0-1-.1-1 .1z"/>
<path fill="#000000" d="M138.5 323.7l1 0 1-.2 1-.1 1-.6 1-.6 1 1.1 1-.2 1 .7 1 0 1-.2 1-.2 1 .2 1 0 1 .1 1 0 1-.1 1 .2 1-.2 1 0 1-.2 1-1 1 .8 1 .4 1 .2 1-.5 1-.2 1-.1 1 .4 1 .3 1-.1 1 0 1 0 1-.2 1 .3 1 .1 1-.1 1 0 1-.1 1 .1 1 0 1 .1 1-.1 1 0 1-.1 1 .3 1-.3 1 .1 1-.1 1-.2 1 .2 1-.1 1 .1 1 .1 1 0 1-.1 1-.2 1-.1 1 0 1 .2 1 .2 1-.2 1 .3 1-.1 1-.1 1 .1 1 0 1 0 1-.2 1 .1 1 0 1 0 1-.4 1-.1 1 0 1 .6 1-.3 1-.6 1 0 1-.4 1 .7 1 .2 1 .5 1-.2 1 .1 1-.1 1 .2 1-.1 1 0 1-.4 1 0 1 .4 1-.1 1 0 1-.5 1-.6 1 .7 1 .3 1 0 1 .2 1-.3 1 0 1-.2 1-.2 1 .7 1-.2 1 .2 1 0 1 0 1 0 1-.1 1-.5 1 .1 1 .4 1 .1 1-.2 1 .3 1-.2 1 0 1 .1 1 0 1-.1 1-.1 1-.5 1 .2 1-.6 1 .3 1 .2 1 .2 1-.4 1 .4 1 .3 1-.1 1 .2 1-.1 1 .2 1-.2 1 0 1 0 1 .1 1-.1 1 .1 1-.1 1 0 1 0 1-.5 1 0 1 .1 1 .3 1 .1 1 .1 1-.2 1-.1 1-.5 1 .4 1 .1 1 .3 1-.1 1 .2 1-.2 1 .1 1 0 1 .1 1-.2 1 .1 1 0 1 0 1-.3 1-.3 1 .3 1 .2 1 .1 1-.2 1 .3 1 0 1-.1 1 0 1-.2 1 .3 1-.1 1-.1 1 .1 1-.1 1-.1 1 .1 1-.8 1 0 1-.3 1 .9 1 .3 1-.1 1 .1 1 0 1 0 1 .1 1-.5 1 .2 1 .2 1 0 1-.6 1-.1 1 .4 1 .2 1-.1 1 0 1-.5 1 .2 1 0 1 .4 1-.4 1-.3 1 .6 1 0 1-.3 1-.3 1 .6 1 .2 1-.1 1 .1 1 0 1 .1 1 0 1-.2 1 0 1 .2 1-.1 1-.5 1-.9 1 .9 1 .4 1-.2 1 .2 1 0 1 .1 1 .1 1-.2 1 0 1 0 1 .1 1 0 1 0 1 0 1 0 1-.2 1-.6 1-.1 1 .8 1 .1 1 0 1-.2 1 .2 1 .1 1-.4 1 .3 1 .1 1-.2 1 .1 1 0 1 0 1 0 1 0 1-.1 1-.1 1 .1 1 .1 1 0 1 .1 1-.3 1-.1 1 .3 1-.3 1 .2 1 .1 1-.1 1-.3 1 0 1 .3 1-.1 1-.1 1 0 1 .2 1-.3 1 0 1-.1 1 .3 1 .2 1 0 1-.2 1 .2 1-.1 1 .1 1-.1 1 .2 1-.2 1-.1 1 .2 1-.2 1 .1 1 0 1 .1 1-.1 1 .1 1 0 1 .1 1-.2 1 .2 1-.1 1 .1 1-.2 1 .1 1-.1 1 .1 1 0 1-.1 1 0 1 .1 1 0 1 .1 1-.2 1 .1 1-.1 1 .1 1-.3 1 .3 1 0 1-.1 1 .1 1-.5 1-.1 1-.1 1 .5 1-.5 1-.2 1 0 1 .6 1-.2 1-.2 1-.6 1 .7 1 0 1 .5 1-.1 1 .2 1 0 1 .1 1-.1 1 0 1 0 1-.2 1-.2 1 .4 1 0 1-.1 1-.6 1-.4 1 .1 1 .7 1 0 1 .3 1-.1 1-.2 1-.2 1 .3 1 .1 1 0 1 .2 1-.2 1 0 1 0 1-.1 1 .1 1-.2 1 .3 1-.2 1-.1 1-.2 1 .2 1 .3 1-.1 1 .1 1 0 1-.1 1 0 1 0 1-.1 1-.3 1 .1 1 .1 1-1.2 1 .8 1 .2 1-.3 1 0 1 .5 1 .3 1 0 1-.5 1-.2 1-.2 1 .8 1 0 1-.4 1-.5 1 .9 1 0 1-.6 1 .3 1 .1 1 .1 1-.7 1 .7 1 .2 1 .1 1-.2 1 .1 1-.3 1-.5 1 .4 1 .3 1 0 1 .1 1 0 1 0 1 0 1 .1 1-.1 1-.1 1-.5 1 .1 1 .5 1 0 1-.2 1 .1 1-.5 1-.5 1 .3 1 .6 1-.2 1-.2 1 .4 1 .2 1-.7 1 .1 1-.2 1 0 1 .5 1 .3 1 0 1 0 1 .1 1-.1 1-.1 1 .1 1-.6 1-.3 1-.4 1 .6 1 .5 1 .1 1 0 1 .1 1-.2 1 .1 1 .1 1 .1 1-.4 1-.5 1-.1 1 .4 1 .5 1-.2 1-.1 1-.9 1 .6 1 .6 1-.1 1 0 1 0 1-.1 1 .2 1 0 1 0 1-.1 1 0 1-.4 1-.8 1 .8 1 .4 1 0 1 0 1 0 1 .1 1 0 1 0 1 0 1-.4 1-.4 1 .6 1 .2 1 0 1-.3 1 .3 1 0 1 0 1 0 1 0 1 0 1 .1 1-.5 1 .3 1 0 1-.1 1-.1 1 .2 1 .1 1 0 1 0 1-.1 1 .1 1 0 1-.1 1-.5 1-.2 1 .1 1 .4 1 .2 1 .2 1-.1 1-.3 1-.1 1-.2 1 .1 1 0 1 .2 1 .1 1-.4 1 .3 1 .3 1-.1 1 .1 1 0 1 0 1 0 1-.3 1-.2 1 .3 1 .1 1 .1 1-.1 1 .1 1 0 1 0 1 0 1-.2 1 .1 1 .1 1 0 1-.2 1 .2 1-.1 1-.8 1-.1 1 .2 1 .4 1 .3 1-.5 1 0 1 .2 1 .3 1 0 1 .1 1 .1 1-.2 1 .1 1-.1 1 .2 1-.1 1-.1 1-.1 1 .1 1 .2 1-.1 1-.6 1 .1 1-.6 1 .6 1 0 1-.7 1 .2 1 .7 1 .1 1 .1 1 0 1-.1 1 .2 1-.2 1 .1 1 .1 1-.3 1-.5 1 .4 1 .3 1-.1 1 .3 1-.1 1 .1 1-.1 1-.1 1-.2 1-.1 1-.6 1 .5 1 .3 1-1.2 1 .8 1-.3 1 .1 1 .8 1-.1 1 .1 1 0 1 .1 1 0 1-.2 1 .2 1-.2 1 0 1-1.1 1 .5 1 .7 1 0 1 0 1-.1 1 .1 1 0 1 0 1-.2 1 .2 1 .1 1-.2 1 .1 1 0 1 0 1-.1 1 .1 1 .1 1-.2 1 0 1 .1 1-.1 1-.2 1 .3 1 .1 1-.2 1-1.1 1 .5 1 .7 1 0 1-.2 1 .2 1-.1 1 .2 1-.2 1 .1 1 0 1 .1 1-.2 1 0 1 .1 1 0 1-.1 1-.1 1-.7 1-.4 1 1.3 1 0 1-.1 1 0 1 .1 1 0 1 0 1 .1 1-.6 1-.7 1 .4 1 .2 1 .1 1-.2 1 .5 1 .2 1 0 1-.1 1 0 1 .1 1 0 1 0 1 0 1-.1 1 .1 1-.3 1-.3 1-.1 1 .2 1 .4 1 0 1 .1 1-.2 1 .2 1 0 1-.1 1 .1 1 0 1-.1 1-.4 1-.2 1-.1 1 .6 1-.2 1-.5 1 .4 1 .1 1-.9 1 .2 1 1.1 1-.1 1-.3 1 .3 1 0 1 0 1 0 1 .1 1-.2 1 .3 1-.4 1-.4 1 .2 1 .4 1 .2 1-.1 1-.1 1 .1 1-.1 1 .2 1-.1 1-.1 1 .2 1-.1 1-.1 1 .1 1 0 1-.2 1 .1 1-.1 1-1 1 .3 1-.1 1-.2 1 .8 1 .3 1-.6 1 .2 1 .1 1 .3 1 0 1 0 1-.3 1-.2 1 .5 1 .2 1 0 1-.1 1 0 1 0 1 .1 1-.2 1 .1 1 0 1 .1 1 0 1 0 1-.1 1 0 1-.1 1-.1 1 .1 1 0 1 .1 1 0 1-.2 1-.6 1 .5 1 .3 1-.1 1 0 1 .1 1-.1 1 .2 1 0 1-.3 1 .2 1-.1 1 .2 1-.2 1-.1 1 .3 1-.2 1 .1 1-.1 1 .1 1-.2 1 .2 1 0 1 .1 1-.1 1 0 1-.2 1-.3 1-.4 1 .6 1 .3 1-.1 1 .1 1-.2 1 .2 1-.1 1 .2 1-.1 1-.1 1 .2 1-.2 1 0 1 .1 1-.1 1-.4 1-.3 1 .1 1 .4 1 .2 1 .1 1 0 1-.1 1 0 1 .1 1-.2 1 0 1 .3 1-.5 1-.3 1 .5 1 .1 1 .1 1-.2 1 .2 1 0 1-.1 1-.4 1 .2 1 .3 1 0 1 0 1 0 1-.1 1 .2 1-.1 1 0 1 0 1 .1 1-.3 1 .1 1 .1 1 0 1-.2 1-.4 1-.3 1 .5 0 3.6-1-.4-1 .5-1-.5-1-.2-1-.1-1 .1-1 .1-1-.1-1 0-1 .1-1-.1-1 .3-1-.3-1 .1-1-.1-1 0-1 0-1 .4-1-.1-1-.3-1 .2-1-.2-1 0-1 .1-1-.1-1 .2-1 .1-1 0-1-.3-1-.1-1 .3-1-.2-1 .1-1 .1-1-.3-1 0-1 .3-1 .2-1 .1-1 .3-1-.4-1-.3-1-.1-1 0-1 .1-1-.2-1 .2-1 0-1-.1-1 0-1-.1-1 .1-1 0-1 0-1 .1-1 .2-1 .4-1-.4-1-.1-1-.2-1 0-1 0-1 0-1 0-1 0-1-.1-1 .2-1 0-1-.1-1 .1-1-.2-1 .1-1-.1-1 .1-1 0-1 .1-1 0-1-.2-1 0-1 .3-1-.3-1 .1-1 .1-1 .4-1 .3-1-.7-1-.1-1-.1-1 .1-1 0-1 0-1 0-1 .1-1 0-1 .1-1-.1-1-.1-1 .2-1-.1-1-.2-1 0-1 .2-1 0-1-.1-1 0-1 0-1-.2-1 .6-1 .2-1-.7-1 .3-1-.1-1 .3-1 0-1 0-1-.3-1 .8-1-.1-1-.3-1 .2-1 .3-1-.8-1-.1-1-.2-1 .1-1 0-1 0-1 .4-1-.4-1 .2-1-.3-1 .1-1-.1-1 .1-1 0-1 .1-1 .2-1-.3-1 .4-1 .2-1-.4-1-.2-1 .1-1-.1-1 0-1 0-1 0-1 .1-1-.2-1 .1-1 .2-1 1.1-1-.6-1-.2-1 .3-1 .2-1-.4-1 0-1 .1-1 0-1 .6-1-1.2-1-.1-1 0-1-.1-1 0-1-.1-1 .3-1-.1-1 0-1 0-1 .4-1 .1-1-.1-1-.3-1-.1-1-.1-1 0-1 0-1 .1-1 .2-1-.1-1-.1-1-.1-1 .1-1 .3-1-.1-1 .3-1 .2-1 .4-1 .4-1-.6-1-.8-1-.1-1 0-1 .1-1 0-1-.2-1 0-1 .1-1 .8-1-.1-1-.5-1-.2-1 0-1 0-1 .1-1 0-1-.2-1 .1-1 0-1 0-1 .1-1 0-1 0-1 .2-1-.4-1 .1-1 .3-1 .3-1-.3-1-.2-1-.2-1 .3-1-.3-1 0-1 .2-1-.2-1 .2-1-.2-1 .1-1-.1-1 0-1 .2-1 0-1 0-1-.1-1 .1-1 0-1-.2-1 .1-1 0-1 .1-1-.2-1 .3-1 .8-1 .2-1-.6-1-.6-1-.1-1 .1-1 0-1 .2-1-.3-1 .1-1 0-1-.2-1 .5-1 .2-1 .9-1-.8-1-.4-1 .4-1 .3-1-.2-1-.5-1-.3-1 .1-1 0-1 0-1 .1-1 0-1-.1-1 .6-1 .4-1-.7-1-.3-1 .2-1-.3-1 .1-1 0-1 .1-1-.1-1 .1-1 .5-1 .1-1 .1-1-.6-1 0-1 1-1-.3-1-.2-1-.8-1 .1-1 .1-1-.1-1 .1-1-.1-1-.1-1 .1-1-.1-1 .2-1 0-1-.1-1-.1-1 .2-1 .2-1 .2-1 .1-1 0-1-.3-1 .1-1 .7-1-.1-1-.7-1-.3-1 0-1 0-1 .2-1 0-1-.3-1 .2-1-.1-1 0-1 0-1 0-1-.1-1 .2-1 .2-1 .1-1-.2-1-.2-1 0-1 0-1-.1-1 .2-1 0-1 .3-1 .1-1 .1-1-.3-1 .4-1 .2-1-.7-1 .3-1-.1-1-.2-1 0-1-.1-1 .5-1-.1-1 .8-1-1.1-1-.3-1 .1-1-.2-1 .2-1-.1-1 .3-1-.3-1 0-1 0-1 0-1 .1-1 .5-1 0-1-.4-1-.1-1 0-1 0-1 0-1-.1-1 0-1 0-1 .1-1 0-1 0-1 .4-1 0-1-.5-1 .2-1-.1-1 .1-1-.2-1 .1-1-.1-1 .2-1 .6-1-.1-1-.1-1-.4-1-.2-1 0-1 .1-1 0-1 0-1 .1-1-.2-1 .1-1 .2-1 .2-1 .1-1 .6-1-1-1-.2-1 .3-1 .3-1 0-1 .2-1-.6-1-.2-1 .1-1 .1-1-.1-1-.1-1 .1-1 .2-1 .2-1 .6-1 .2-1-.6-1-.4-1-.2-1-.1-1 .2-1 0-1 0-1-.1-1 .3-1 .5-1-.4-1 .3-1-.6-1-.1-1 .1-1 .2-1 .3-1 .2-1-.1-1-.3-1 .4-1-.8-1 0-1-.1-1 .4-1 .4-1-.3-1-.3-1-.1-1 .1-1 0-1 0-1-.1-1 0-1 0-1 .3-1 .3-1 .9-1-1.3-1-.2-1 .3-1-.2-1-.2-1 .2-1 .1-1-.1-1 .3-1 .2-1-.2-1-.3-1 .2-1 .4-1-.2-1-.4-1 .1-1 .7-1 .3-1-.6-1-.4-1-.1-1 .5-1-.2-1 .3-1 0-1 .3-1-.4-1-.2-1 0-1-.1-1-.3-1 .1-1 0-1-.2-1 0-1 .1-1 0-1 .2-1 .2-1 .1-1 .8-1-1.3-1 .2-1 0-1-.2-1 0-1-.1-1 0-1 .2-1-.1-1 0-1 .1-1 .2-1 .6-1-.7-1-.1-1-.1-1-.1-1 .1-1 .7-1 .4-1-.4-1-.8-1 .2-1 0-1 .3-1 0-1-.4-1 0-1-.1-1 0-1 0-1 .2-1-.2-1 .2-1 0-1 .9-1-.2-1 .1-1-.6-1-.2-1 .9-1 .1-1-.4-1 .1-1-.1-1-.1-1-.4-1-.3-1 0-1 .1-1-.1-1 .3-1-.2-1 .1-1-.1-1 0-1 0-1-.1-1 .1-1 .1-1-.1-1 0-1-.1-1 0-1 .1-1 0-1 .1-1-.1-1-.1-1 .1-1 0-1 .1-1-.1-1 0-1-.1-1 0-1 .1-1 0-1 0-1 .1-1 0-1-.1-1 .1-1-.1-1-.1-1 .1-1-.1-1 .1-1 .1-1-.2-1 .3-1 .4-1 .1-1-.5-1 .3-1-.2-1 .2-1-.6-1 .7-1 .3-1-.5-1-.4-1-.1-1 .1-1 .1-1-.2-1 0-1 .1-1 0-1 0-1 .1-1-.2-1 .3-1-.1-1-.2-1 .2-1-.1-1-.1-1 .1-1 .2-1-.2-1 0-1-.1-1 .1-1 0-1 0-1-.1-1 .2-1 .7-1-.3-1-.4-1-.1-1-.1-1 .1-1 0-1-.1-1 0-1 .3-1-.2-1-.1-1 .2-1-.2-1 .2-1-.1-1 .1-1 .4-1 .5-1-.8-1-.1-1 0-1-.2-1 .1-1-.1-1 .2-1-.2-1 .1-1-.1-1 .2-1 0-1 .4-1-.1-1-.1-1-.2-1 .8-1-.4-1-.2-1 0-1 .6-1-.5-1 0-1-.4-1-.1-1 .3-1 .5-1-.2-1-.5-1-.1-1 .2-1-.1-1 0-1 .1-1 0-1-.2-1 .1-1 .1-1 .4-1 .6-1-.3-1 0-1-.7-1 0-1-.2-1 .2-1-.1-1 .1-1 .2-1-.3-1 .1-1 0-1-.2-1 .5-1-.3-1 0-1-.1-1 .6-1 .1-1-.6-1-.2-1 .1-1-.1-1 0-1 .1-1-.1-1 .1-1-.1-1 .1-1 .2-1-.1-1 .1-1 .6-1 .2-1-.3-1-.5-1-.3-1 .3-1-.1-1 .5-1-.2-1 .2-1-.4-1-.1-1-.1-1 0-1-.1-1 .1-1-.1-1 .1-1 .1-1-.1-1 0-1 .1-1 .1-1-.1-1 0-1 .7-1 .3-1-.4-1-.1-1 .1-1-.3-1 .2-1 0-1-.4-1-.2-1 0-1 0-1-.1-1 .1-1-.1-1 .1-1 0-1 .3-1 .4-1-.6-1 0-1-.1-1 0-1 .1-1 0-1-.2-1 .3-1 .2-1 .3-1-.5-1-.1-1-.2-1 .2-1 .4-1 0-1 .2-1-.6-1-.2-1 .1-1 .6-1 .1-1-.7-1 .2-1-.3-1 .2-1 0-1 .1-1-.2-1 .1-1 .6-1 .6-1-.5-1-.2-1-.5-1 0-1 .6-1-.5-1 .2-1-.3-1 0-1-.2-1 0-1 .2-1 0-1-.1-1 0-1 .2-1-.3-1 .1-1 0-1 0-1 .5-1 .1-1-.3-1-.2-1 0-1 0-1-.1-1 0-1-.1-1 .1-1 .1-1-.1-1 0-1 .1-1 0-1-.1-1-.1-1 .1-1 0-1 .2-1-.3-1 .1-1 0-1 .1-1-.2-1 .3-1-.3-1 .1-1 .1-1-.1-1 .2-1 .6-1-.4-1-.1-1-.3-1 0-1 .4-1 .3-1-.5-1-.1-1 0-1-.1-1-.1-1 .4-1-.3-1 0-1 0-1 0-1 0-1 0-1-.1-1 .2-1 .6-1 .4-1-.3-1-.5-1-.2-1-.1-1 0z"/>
<path fill="#ff0000" d="M138.5 355.2l1-.1 1-.2 1 .3 1-.2 1 .1 1 .1 1-.1 1-.1 1-.1 1 .2 1 0 1 0 1 0 1 0 1 .1 1 .1 1-.3 1 0 1-.1 1 0 1 .3 1 0 1-.1 1-.1 1-.3 1 .4 1 0 1-.1 1 .2 1-.1 1-.2 1 .2 1-.2 1 0 1 .1 1-.1 1 .2 1-.1 1 0 1 .1 1-.1 1 .1 1-.1 1 .1 1-.2 1 .2 1 0 1 .1 1-.2 1 .1 1 0 1 0 1 .1 1-.1 1 0 1-.1 1 .1 1-.3 1 .3 1 0 1 .1 1 .1 1-.1 1-.1 1-.1 1 .1 1 0 1 .1 1-.1 1 0 1-.1 1 .1 1 0 1 .1 1 0 1-.6 1 .4 1 .1 1 .1 1-.3 1 .1 1-.1 1 .2 1 0 1 0 1 0 1-.1 1 .3 1-.4 1-.1 1 .3 1-.2 1 0 1 0 1 .2 1-.1 1 .1 1-.1 1 .2 1-.1 1-.2 1 0 1 .3 1 0 1-.1 1 .1 1-.1 1 .1 1-.1 1-.1 1 0 1 .1 1 0 1-.1 1 0 1 0 1 .1 1 0 1-.2 1 .2 1-.1 1 .2 1-.1 1 0 1 0 1 0 1-.1 1 .2 1-.2 1-.1 1 .3 1-.4 1-.1 1 .3 1 .2 1-.1 1 .1 1 0 1-.1 1 0 1-.2 1 .1 1 0 1 0 1 .2 1-.1 1 0 1-.1 1-.1 1 0 1 .1 1 .2 1-.2 1 0 1 .1 1 0 1 0 1 0 1-.4 1 0 1 .1 1 0 1 .1 1-.1 1 .1 1 .2 1 0 1-.2 1 .3 1-.2 1 0 1 .2 1-.2 1-.2 1-.2 1 .7 1-.3 1 .2 1-.3 1 .2 1 0 1 0 1-.2 1-.2 1-.9 1 .9 1 .4 1 .1 1-.1 1 .1 1-.2 1 0 1 .1 1 0 1 .1 1-.1 1 .1 1-.1 1-.1 1 .2 1-.2 1 .2 1 0 1 0 1-.1 1 .1 1 0 1-.2 1 0 1 .1 1 .1 1-.1 1 .1 1-.5 1 .2 1 .2 1 0 1 .2 1-.3 1-.1 1 .3 1 0 1-.2 1 0 1-.1 1 .2 1 .1 1 0 1-.1 1-.1 1 .2 1-.1 1-.1 1 .1 1 0 1 .1 1-.2 1 .2 1-.3 1 .2 1 0 1 .1 1-.1 1 .1 1-.2 1 .1 1 0 1-.1 1-.2 1 .2 1 .3 1-.2 1 0 1-.4 1 .3 1 .2 1-.2 1-.1 1 0 1 0 1 .3 1-.3 1 .2 1-.1 1 .2 1-.1 1 0 1 .2 1-.1 1 0 1-.3 1 .2 1 .1 1-.2 1-.1 1 .2 1-.2 1 .3 1-.1 1 .1 1-.2 1 0 1 .1 1-.4 1 .1 1 .4 1-.1 1 0 1 0 1-.3 1 .4 1 0 1 0 1-.1 1 0 1-.1 1 .1 1 0 1 0 1 0 1-.1 1 0 1 .1 1-.1 1 .2 1 0 1 .1 1-.2 1-.2 1 .2 1-.2 1 .1 1 .1 1-.2 1 .3 1-.1 1 .1 1-.1 1 0 1-.1 1-.1 1 .3 1-.1 1 .1 1-.2 1 .3 1-.3 1 .2 1-.2 1 .2 1 .1 1-.1 1-.2 1-.1 1-.1 1 .3 1 .1 1-.2 1 .1 1-.2 1 .2 1-.2 1 .2 1-.3 1 .2 1 0 1 .1 1 .1 1-.4 1 .3 1-.1 1 0 1 .2 1-.2 1 .1 1-.1 1 .1 1 0 1-.1 1-.1 1 .3 1 0 1-.1 1-.1 1 .1 1 .1 1-.2 1 .2 1-.1 1 .1 1-.2 1 .2 1-.3 1 .2 1-.1 1 0 1 .2 1-.1 1 0 1 0 1-.1 1-.1 1 .3 1-.1 1-.1 1 .1 1 0 1-.1 1 .2 1-.1 1 .1 1-.1 1-.1 1 .2 1-.1 1 0 1-.2 1-.3 1 0 1-.1 1 .5 1 0 1 .1 1-.2 1 0 1 0 1 .3 1-.1 1-.9 1 .6 1 .3 1 0 1 0 1-.1 1 .1 1 0 1-.1 1 0 1 .2 1-.1 1 .1 1 0 1 0 1-.1 1 .1 1-.1 1-.3 1-.1 1 0 1 0 1 .1 1 .3 1 0 1 .1 1-.1 1-.2 1 .2 1 .1 1-.1 1-.5 1 .2 1-.2 1 .3 1 .2 1-.1 1 .2 1-.1 1-.2 1 .3 1 0 1-.1 1 0 1 0 1-.1 1 .1 1 0 1 .1 1 0 1-.3 1 0 1 .1 1 .1 1-.1 1 .2 1-.1 1 0 1 0 1 0 1 .1 1-.5 1-.1 1-.1 1 .2 1 .4 1-.2 1 .1 1 0 1 0 1-.2 1 .3 1 0 1 0 1 0 1-.3 1-.2 1-.2 1 .5 1 .3 1-.3 1 0 1 .4 1-.3 1 0 1 .1 1 .1 1-.2 1 .1 1 0 1-.1 1 .2 1-.2 1 .1 1 .1 1-.2 1 .1 1 .1 1-.1 1 .1 1-.1 1 .2 1-.3 1 0 1 0 1 .1 1-.2 1 .2 1 0 1 .1 1-.1 1-.2 1 .1 1 .1 1 0 1 .1 1-.1 1 .1 1-.2 1 .2 1-.3 1 .1 1-.1 1 .3 1-.1 1 .1 1-.2 1 0 1 0 1-.2 1 .3 1 .1 1-.1 1 0 1-.2 1 .2 1-.5 1 .1 1 .4 1 0 1-.1 1 .1 1-.1 1 .2 1-.1 1-.1 1 .3 1-.4 1 .2 1 0 1 0 1-.1 1 .1 1 0 1-.1 1-.3 1 .2 1 .1 1 0 1 .3 1-.4 1 .3 1 0 1-.4 1 .3 1-.1 1 .1 1-.2 1-.2 1 .4 1 0 1 0 1-.3 1 .4 1-.2 1 .1 1 0 1-.2 1 .3 1-.1 1-.1 1 .1 1 .1 1-.1 1 0 1 0 1-.4 1 .4 1 0 1 0 1 0 1-.2 1 0 1 .4 1-.2 1 0 1-.1 1 .2 1-.1 1 .1 1-.3 1 .1 1 .1 1 0 1 0 1-.2 1 .1 1 0 1 .1 1-.4 1 .4 1-.2 1 0 1 .3 1 0 1-.2 1 0 1 0 1 .1 1-.1 1 .1 1 .1 1-.2 1 .1 1-.1 1 .1 1-.1 1 .2 1-.1 1 0 1 .1 1-.1 1 .1 1-.3 1 .3 1-.1 1-.4 1 0 1-.1 1 .2 1 .2 1 0 1 .1 1-.1 1 .1 1 0 1 .1 1 0 1-.5 1-.4 1 .4 1 .2 1 .1 1 .2 1-.3 1 0 1 .2 1-.1 1-.2 1 .2 1 0 1 .2 1-.1 1 0 1 .1 1 0 1-.1 1-.1 1 0 1 .1 1 0 1-.1 1 .2 1 .1 1-.2 1 .1 1-.1 1-.1 1 .1 1 .1 1 0 1-.1 1 .1 1-.1 1 .1 1 0 1-.1 1 0 1 0 1-.2 1-.1 1 .1 1 0 1 0 1 .3 1-.2 1 0 1 .2 1 0 1-.1 1 .1 1-.3 1 .1 1 .2 1 .1 1-.3 1 .2 1-.1 1-.2 1 .1 1-.1 1 .2 1-.2 1 .2 1 0 1-.1 1-.1 1 0 1 0 1 .1 1 .1 1 0 1 .1 1-.2 1 .3 1-.4 1 .2 1-.1 1 0 1 0 1-.2 1 .2 1 .1 1 .2 1-.3 1 .1 1 0 1 0 1 0 1 .1 1-.1 1 0 1 .1 1-.2 1 .2 1 0 1-.1 1-.2 1-.7 1 .4 1 .2 1 .1 1 .2 1-.1 1-.2 1 .3 1 0 1-.2 1 0 1 .3 1 0 1-.3 1-.6 1 .4 1 .2 1 .2 1-.3 1 .2 1 .2 1-.1 1 .1 1-.2 1 .1 1 0 1 0 1-.1 1 .2 1-.1 1-.1 1 .1 1 0 1-.1 1 .1 1-.1 1 0 1 .1 1 0 1 .1 1-.2 1 0 1 .3 1-.2 1-.2 1 .2 1 0 1-.1 1 .1 1 0 1 0 1 0 1 0 1 .1 1-.1 1 .1 1-.1 1 .1 1-.1 1 .1 1-.1 1-.1 1 .1 1-.3 1 0 1 .1 1 .2 1-.2 1 .3 1-.1 1 .2 1-.1 1 0 1-.2 1 0 1 .2 1-.1 1 .1 1-.1 1-.1 1 0 1 .1 1 0 1 .1 1-.1 1 0 1 0 1-.1 1 0 1 .2 1-.3 1 .4 1-.4 1 .3 1-.2 1 .2 1-.1 1 .1 1-.3 1 .2 1-.1 1 .1 1 0 1 .1 1-.1 1-.2 1 .1 1 0 1 0 1 .1 1-.1 1 .1 1-.4 1 .5 1-.1 1 0 1-.1 1 .2 0 2.8-1-.1-1 0-1-.1-1 .1-1 .2-1-.1-1-.1-1 .1-1 0-1 .1-1-.1-1-.1-1 .2-1-.1-1 .1-1-.2-1 0-1 .1-1-.1-1 .2-1-.2-1 0-1 .1-1 .1-1 0-1 0-1-.1-1 .1-1-.3-1 .2-1-.1-1 0-1 .1-1-.2-1 .2-1-.1-1 0-1 .1-1 .1-1-.2-1 .2-1 0-1 .1-1-.4-1 .1-1 .2-1-.3-1 .1-1-.1-1 0-1 .2-1 .2-1-.1-1 .3-1 0-1-.5-1 .2-1-.2-1 .1-1 0-1 .1-1-.2-1 .2-1-.2-1 .2-1-.2-1 0-1 .1-1 .1-1-.2-1 .1-1 0-1 0-1-.1-1 0-1 .1-1 0-1 .1-1 0-1-.2-1 .2-1-.2-1 .1-1-.1-1 .1-1 .1-1 0-1-.2-1 0-1 .1-1 0-1-.2-1 .1-1-.1-1 .1-1 .4-1-.4-1 0-1 .2-1-.1-1 .2-1 .2-1 .1-1-.1-1-.1-1-.4-1 0-1 0-1 .1-1-.1-1 .2-1-.1-1 0-1-.1-1 .4-1 .2-1-.2-1-.3-1-.1-1 0-1 .2-1 .2-1-.2-1-.3-1 .1-1 .1-1 0-1-.1-1 0-1 0-1 0-1 .1-1 .3-1 0-1-.2-1 .1-1-.3-1 .1-1 0-1 0-1 0-1-.1-1 .3-1-.2-1 .1-1-.2-1 .1-1-.1-1 .1-1 .1-1-.1-1 0-1 .1-1-.1-1 0-1 .2-1-.1-1-.1-1-.1-1 .1-1-.2-1 .1-1 0-1 .1-1 0-1 0-1 0-1-.1-1 0-1 .1-1-.1-1 .3-1-.3-1 .7-1-.3-1-.2-1 0-1 0-1 .3-1-.4-1 0-1-.2-1 .2-1 .3-1-.2-1-.1-1-.1-1 .2-1-.1-1 0-1-.1-1 0-1 .1-1 .1-1-.3-1 0-1 0-1 .2-1 0-1 0-1-.1-1 0-1 0-1 .2-1-.2-1 .2-1-.1-1 0-1-.1-1 .1-1 0-1-.1-1 .2-1 .3-1 .2-1-.3-1-.1-1-.2-1 .1-1 0-1-.2-1 0-1 0-1 0-1 .4-1-.2-1 .2-1 .1-1-.4-1 0-1 .1-1-.2-1 .3-1 0-1-.1-1-.2-1 0-1 .1-1-.1-1 .1-1-.1-1 0-1 .2-1-.1-1-.1-1 0-1 .2-1-.2-1-.1-1 .2-1-.1-1 0-1 0-1 .1-1-.1-1 .1-1 .2-1-.3-1 .1-1 0-1-.1-1 0-1 .1-1-.1-1 .1-1-.1-1 .1-1 .1-1-.2-1 .1-1 0-1-.1-1 .1-1-.1-1 .1-1-.2-1 .3-1 0-1 0-1-.3-1 .1-1 .1-1 0-1 .3-1-.5-1 .4-1-.2-1 0-1-.1-1 0-1 .1-1-.1-1 0-1 .2-1-.1-1 0-1 0-1-.1-1 0-1 0-1 0-1 .1-1 0-1 0-1 0-1 0-1 0-1 .4-1-.1-1 .1-1-.5-1 .3-1-.1-1-.1-1-.2-1 .2-1-.2-1 .1-1 .1-1 0-1 0-1-.2-1 .1-1 0-1 0-1 0-1 .3-1 .5-1-.6-1-.2-1 0-1 .2-1-.2-1 0-1 0-1 0-1 0-1 0-1 .1-1 .1-1-.3-1 .2-1-.1-1 0-1 .1-1-.1-1 0-1 .1-1-.1-1 .4-1-.4-1 .1-1-.1-1-.1-1 .1-1-.1-1 .1-1 0-1 .1-1-.2-1 .3-1 0-1 0-1-.2-1 .1-1 .1-1-.2-1 .3-1-.3-1 0-1 0-1 .2-1-.1-1 .1-1-.1-1 0-1 0-1 0-1 .1-1 .1-1-.3-1 .2-1-.1-1 0-1-.1-1 .1-1 .1-1 .4-1 .1-1-.4-1-.2-1-.1-1 .1-1 0-1 0-1-.1-1 .3-1-.3-1-.1-1 .2-1 .2-1 .4-1-.4-1-.2-1 0-1 .1-1-.3-1 .1-1 .2-1-.2-1 .2-1 .1-1-.1-1-.2-1 .1-1 0-1-.2-1 .4-1-.2-1 0-1 0-1 0-1 0-1-.1-1-.1-1 .2-1 0-1 0-1 0-1-.1-1 .2-1 .5-1 0-1 .2-1-.5-1-.5-1 .3-1-.2-1 .3-1-.4-1 .3-1-.1-1 .5-1-.3-1 .2-1-.1-1-.4-1 .1-1-.1-1 .1-1-.1-1 0-1 0-1 .2-1-.2-1 0-1 .1-1-.2-1 .2-1-.2-1 .2-1 0-1 0-1 .1-1 .3-1-.3-1-.2-1 .3-1-.3-1 .1-1-.2-1 .3-1 .2-1-.3-1 .5-1-.5-1 .4-1-.2-1-.2-1-.1-1 0-1 0-1 .1-1 .1-1-.1-1-.1-1 .1-1 .1-1-.2-1 .2-1-.1-1-.1-1 .2-1 0-1-.1-1 .2-1-.2-1-.2-1 .4-1-.2-1-.1-1 .2-1-.1-1-.1-1 0-1 0-1-.1-1 0-1 .1-1 .4-1-.1-1-.2-1-.2-1 .3-1-.2-1 .1-1 .1-1-.3-1 .3-1-.2-1 0-1 .5-1-.6-1 .1-1 .1-1 0-1-.1-1-.1-1 .1-1 .1-1-.1-1 .1-1 .1-1 .1-1-.4-1 .3-1-.1-1-.1-1 .4-1-.1-1-.1-1-.2-1 .1-1 0-1 .1-1 0-1-.1-1-.1-1 0-1 0-1 0-1 .1-1 .3-1-.3-1-.1-1-.1-1 .1-1 0-1 .2-1-.1-1 .1-1-.1-1 0-1-.1-1 .1-1 0-1 0-1-.1-1-.2-1 .3-1-.1-1-.1-1 .1-1 .1-1-.1-1 0-1 0-1 .2-1-.2-1 0-1 .1-1-.1-1 .2-1-.1-1 0-1-.1-1 .2-1-.2-1 .5-1 .1-1-.2-1-.4-1 0-1 .1-1 .1-1-.2-1 .1-1 0-1 .1-1-.2-1 .2-1 .1-1-.2-1 0-1 0-1 .1-1-.3-1 .2-1-.1-1 .1-1 0-1 0-1 .1-1-.1-1 0-1 .1-1-.1-1 0-1-.2-1 0-1 .2-1 .1-1-.2-1 .1-1 .6-1-.6-1-.2-1 .2-1 .2-1 0-1-.1-1 .2-1-.3-1-.1-1 .2-1 .1-1 0-1-.2-1 0-1 0-1 0-1 0-1-.1-1 0-1 0-1 .3-1-.3-1 .2-1-.2-1 .1-1-.1-1 .1-1 0-1 0-1-.1-1 .3-1-.3-1 0-1 .3-1 0-1-.2-1-.1-1 0-1 .2-1-.1-1-.1-1 .1-1-.1-1 0-1 0-1 0-1 .1-1-.1-1 0-1 .2-1-.2-1-.1-1 .1-1 .2-1-.1-1 0-1 .1-1 0-1-.1-1-.1-1 .1-1-.2-1 .9-1-.2-1-.2-1-.3-1-.1-1 .2-1-.2-1 0-1 .4-1-.4-1 .1-1 .5-1-.2-1-.2-1 0-1-.3-1 .1-1-.1-1 .1-1 0-1 .2-1-.1-1 .6-1-.5-1-.1-1 .2-1 .4-1-.7-1 .2-1-.1-1 0-1-.1-1 .1-1 0-1 0-1 .1-1-.2-1 0-1-.1-1 .2-1 .1-1-.2-1 0-1 .1-1 .1-1-.3-1 .1-1 .1-1-.3-1 .2-1 .2-1-.1-1 .1-1 .2-1-.1-1-.3-1 .3-1-.2-1-.1-1 .1-1-.1-1 .1-1 .3-1-.2-1-.3-1 0-1 .1-1 .1-1 .2-1-.3-1 .1-1-.1-1 .1-1 0-1-.1-1 .1-1 0-1-.1-1 0-1 .1-1-.1-1 0-1 0-1 0-1-.1-1 .1-1 0-1-.1-1 .2-1-.2-1 .2-1 0-1 0-1 0-1-.2-1 .1-1 0-1 .3-1-.3-1 .2-1-.2-1 0-1 .1-1 0-1-.1-1 .1-1-.1-1 0-1 .2-1 .1-1-.3-1 0-1 0-1 0-1 .1-1 0-1 .1-1-.2-1 .1-1-.2-1 .2-1 .3-1-.4-1 .1-1 0-1 0-1 .1-1-.3-1 .1-1 0-1 .1-1-.1-1 .1-1-.1-1-.1-1 .1-1-.1-1 .4-1-.3-1 0-1 .3-1-.3-1 .2-1 .1-1 0-1-.4-1 .1-1 0-1 .1-1 .6-1 .2-1-.2-1-.6-1 0-1-.1-1-.1-1 .2-1 0-1 .1-1 .1-1-.2-1-.2-1 .2-1-.1-1 .2-1-.2-1 .1-1 .1-1-.1-1 .1-1-.1-1 .2-1-.4-1 .2-1-.1-1 0-1-.1-1 .2-1 0-1 0-1-.2-1 .2-1 .1-1 .1-1-.1-1-.1-1-.2z"/>
<path fill="#0000ff" d="M138.5 386.6l1 .1 1-.1 1 .1 1 .1 1-.1 1-.1 1 0 1 0 1-.1 1-.1 1 0 1-.4 1 .6 1 0 1 .1 1 0 1 0 1 .1 1-.2 1 .1 1-.1 1 0 1 .1 1-.1 1 0 1-.1 1 .1 1 0 1-.3 1 .1 1 .2 1 .1 1-.1 1-.1 1 .2 1 0 1-.1 1-.1 1 .2 1-.3 1 0 1-.2 1 .1 1 .2 1 .2 1-.1 1-.1 1 .2 1-.1 1-.2 1 0 1-.1 1 .4 1 .1 1-.3 1 .1 1 .1 1 .1 1-.4 1 .3 1 0 1 0 1-.2 1 .2 1-.1 1-.1 1 .1 1 .1 1-.2 1 .1 1 0 1-.2 1 .2 1 .1 1 .1 1-.2 1 .1 1 0 1-.1 1 .1 1 .1 1-.1 1 .1 1-.2 1 .1 1-.1 1 0 1-.2 1 .3 1 .1 1-.1 1-.1 1 0 1 .1 1-.1 1 .2 1-.1 1-.2 1 .2 1 0 1 0 1 0 1-.3 1 .4 1-.2 1 .1 1-.3 1 .3 1-.1 1 .1 1 0 1-.2 1-.1 1 .1 1-.6 1 .5 1 .2 1-.1 1 .1 1-.1 1 .3 1-.2 1-.3 1-.7 1 1 1 0 1 .1 1-.1 1-.3 1 .1 1 .3 1 0 1 0 1-.2 1 .1 1 .2 1 0 1-.3 1-.1 1-.2 1 0 1 .5 1 0 1-.1 1-.3 1 .3 1 .1 1 .1 1 0 1-.4 1 .2 1 .1 1-.1 1 0 1 .2 1-.3 1 .3 1-.2 1 0 1-.1 1 0 1 .1 1 .1 1-.1 1 0 1 0 1 0 1-.1 1 0 1-.3 1 .2 1-.3 1 .5 1 .1 1 0 1-.1 1 .2 1-.3 1 .2 1 0 1 0 1-.1 1-.2 1 .2 1 .1 1-.2 1 0 1-.3 1 .4 1-.1 1 .1 1 .1 1-.1 1-.1 1 0 1 .1 1 0 1 0 1 .1 1-.2 1 0 1 .2 1-.1 1 .2 1-.3 1 0 1 .1 1-.1 1-.5 1 0 1 .1 1 .3 1 .3 1 0 1 .1 1-.1 1 .1 1 0 1-.3 1 .1 1-.6 1-.1 1 .3 1 .3 1 0 1 0 1 .2 1 0 1-.2 1 .1 1 .1 1 0 1-.2 1 .2 1-.1 1-.1 1-.2 1 .1 1 .3 1-.2 1 .3 1-.1 1 0 1-.3 1-.2 1 .6 1-.1 1 0 1 0 1-.2 1 .3 1-.2 1 .2 1-.3 1 0 1 .3 1-.2 1 .2 1-.3 1 .1 1 0 1 0 1 0 1 .1 1-.2 1 .2 1-.1 1 0 1 0 1 .1 1 0 1-.4 1-.1 1-.1 1 .2 1 .4 1 0 1 0 1-.1 1 0 1 .1 1-.2 1-.1 1 .1 1 .2 1-.2 1 .2 1-.2 1 .1 1-.1 1 .2 1-.1 1 0 1 .1 1-.3 1 .2 1-.1 1 .2 1 0 1-.1 1 .1 1-.2 1 0 1 .2 1-.1 1 .1 1 0 1 .1 1-.2 1 .1 1 0 1 0 1-.1 1-.1 1 .3 1 0 1-.1 1-.2 1 .2 1-.1 1-.1 1 .3 1 0 1-.3 1 0 1 0 1 .1 1 .1 1-.1 1-.6 1 .1 1 .3 1 .2 1 0 1 0 1 .1 1-.1 1 .1 1-.1 1 0 1-.1 1 .1 1 .1 1-.1 1 .1 1 .1 1-.2 1 0 1 .1 1 0 1 0 1-.2 1 .2 1-.3 1 .3 1 0 1-.1 1-.1 1 .2 1-.1 1 0 1 0 1 .2 1-.1 1-.3 1 .2 1 0 1 .1 1-.1 1 .1 1-.1 1 .2 1-.1 1-.1 1 .1 1 0 1-.1 1 .1 1-.1 1 .1 1-.1 1-.1 1-.2 1 .4 1-.1 1 0 1 0 1 .2 1-.2 1 .1 1 0 1-.2 1 .2 1-.1 1 .1 1-.1 1 0 1 0 1 0 1 .1 1-.1 1 .1 1-.1 1 0 1-.1 1 .3 1-.2 1 .1 1-.1 1 0 1-.5 1-.1 1 .2 1 .4 1 0 1-.4 1 .5 1-.1 1 0 1 0 1 .1 1-.1 1 .1 1-.1 1 0 1 0 1-.3 1-.2 1 .3 1 0 1 .2 1 .1 1-.1 1 .1 1-.1 1 .1 1-.2 1 .3 1-.2 1-.1 1 .2 1 0 1-.1 1 0 1 0 1 0 1 0 1-.1 1 0 1-.3 1 .1 1 .1 1 .2 1 0 1 0 1 .1 1 0 1 0 1-.1 1-.1 1 .1 1 0 1 .1 1-.1 1 .1 1 0 1 0 1-.3 1 .2 1-.2 1 .1 1-.4 1 .1 1-.2 1 .6 1 .1 1-.1 1-.3 1 .2 1 0 1 .2 1 0 1-.1 1 0 1 .1 1 0 1-.1 1 0 1 .1 1-.1 1 .2 1-.2 1-.3 1-.2 1 .1 1 .2 1 .3 1 0 1-.2 1 .2 1-.2 1 .2 1-.2 1-.1 1 .2 1-.1 1-.3 1 .1 1 .2 1 .3 1-.1 1-.1 1 .1 1-.5 1-.1 1 .2 1 0 1-.2 1 .1 1 .1 1 .2 1 .2 1 0 1-.1 1 0 1 0 1 .2 1 0 1-.4 1 .2 1 .1 1 .1 1-.1 1-.3 1 .2 1 .1 1-.2 1-.1 1-.1 1 .3 1 .1 1 0 1 0 1-.1 1 0 1 .1 1-.3 1 .3 1 0 1 .1 1-.4 1 .2 1 .1 1-.1 1 0 1-.1 1-.2 1 .1 1 .4 1-.1 1-.1 1-.2 1-.2 1 0 1-.1 1 .4 1 .2 1-.3 1 .1 1-.1 1 .3 1-.1 1-.1 1 .2 1 0 1 .1 1-.1 1-.1 1 0 1 .1 1 0 1-.1 1-.2 1 0 1 .2 1 0 1 .1 1 0 1 0 1-.2 1 .3 1 0 1-.3 1 .1 1-.2 1-.3 1 0 1 .1 1 .2 1 .3 1-.1 1 .1 1-.1 1 .1 1-.1 1-.4 1-.5 1 .5 1 .4 1 .1 1 .1 1-.2 1-.1 1 0 1-.4 1 .5 1-.2 1 .2 1-.3 1-.1 1 .2 1 .1 1 .1 1 0 1-.1 1 0 1 .1 1 0 1 0 1 .1 1-.1 1 0 1 0 1 .1 1-.3 1 .1 1-.5 1 .7 1-.1 1 .1 1-.2 1 0 1-.3 1-.1 1 .4 1 0 1 .1 1 0 1 .2 1-.2 1-.2 1-.4 1 .8 1-.4 1 .1 1 .1 1-.1 1 .3 1-.2 1 0 1 0 1 0 1 0 1 .1 1-.7 1 .2 1 .4 1 0 1 0 1 0 1 .2 1-.1 1 0 1-.3 1 .2 1 .1 1 0 1 0 1-.1 1 .1 1 0 1-.1 1 .1 1-.2 1-.1 1-.1 1-.3 1 .3 1 .3 1 .1 1-.1 1 .1 1-.2 1 .2 1 .1 1-.1 1 0 1-.1 1 0 1 0 1 0 1 0 1-.2 1-.6 1 1 1-.1 1 0 1-.1 1 .2 1-.2 1 0 1 .1 1 0 1-.2 1 0 1-.3 1 0 1 0 1 0 1 .2 1-.3 1 .6 1 0 1 0 1-.1 1 0 1-.2 1 .3 1 0 1-.3 1-.3 1 .3 1 .1 1 .2 1-.1 1 0 1 0 1-.3 1-1 1 .8 1 .4 1 .1 1 .1 1 0 1-.1 1-.5 1 0 1 .3 1-.1 1-.1 1 .2 1 .1 1-.1 1-.1 1 .1 1-.1 1 .3 1-.2 1 .3 1-.1 1-.1 1 .2 1-.3 1 .4 1-.1 1 0 1-.1 1 0 1 .2 1-.3 1-.1 1 .2 1 .2 1-.3 1 .2 1-.2 1 .2 1-.2 1 0 1 .1 1 0 1 0 1-.1 1-.1 1-.2 1 .4 1-.1 1-.3 1-.1 1 .4 1 .2 1-.1 1-.3 1 0 1-.7 1 .4 1 .4 1 .2 1-.3 1 .4 1-.6 1 .1 1 .4 1 .1 1 0 1 0 1-.3 1 .3 1 0 1-.1 1-.1 1 0 1 .3 1-.1 1-.2 1 .2 1-.1 1-.1 1 .1 1 0 1 0 1 .1 1 0 1-.1 1 0 1 0 1 .1 1-.1 1 .2 1-.2 1-.2 1-.3 1 .2 1 .5 1-.1 1-.1 1 .1 1 0 1 0 1-.2 1 .1 1-.1 1 0 1-.1 1-.2 1 .1 1-.3 1 .1 1 .5 1-.1 1-.1 1 .2 1-.1 1 .2 1 0 1-.2 1 .1 1 .1 1-.1 1 .1 1 0 1-.1 1-.1 1-.3 1-.1 1 .1 1 .1 1 .2 1 .1 1 .1 1-.1 1-.1 1-.2 1 .4 0 2.8-1 0-1 0-1 0-1-.1-1 0-1 .1-1 .3-1 0-1-.1-1-.2-1 .2-1-.3-1 .2-1 .2-1-.3-1 0-1 0-1 0-1-.1-1 .1-1 .1-1 .1-1-.1-1 .1-1 0-1-.2-1 .3-1 .2-1-.1-1-.4-1-.1-1 0-1 .2-1-.2-1 .2-1 .1-1-.2-1 0-1 0-1-.1-1 .3-1 .2-1-.4-1 0-1 0-1 .2-1-.2-1 .1-1-.1-1 .3-1-.4-1 0-1 .1-1-.1-1 .1-1 .1-1 .1-1-.3-1 .1-1 0-1 .1-1-.1-1 0-1-.2-1 .2-1 0-1-.1-1 0-1 .1-1 .1-1 .2-1 .1-1 0-1-.3-1-.1-1 .1-1 .1-1 .7-1-.1-1-.3-1 0-1-.5-1 0-1 .1-1 .5-1-.2-1-.1-1-.2-1 .2-1 .2-1-.2-1-.3-1 0-1 .1-1-.1-1-.1-1 .1-1-.1-1 .1-1 0-1 .4-1-.4-1 .1-1 .1-1-.4-1 .2-1-.1-1 .3-1-.2-1-.1-1 .1-1-.1-1 .2-1-.2-1 0-1 0-1 .2-1 .1-1 .2-1-.2-1 .2-1-.4-1 .2-1 .7-1-.7-1 .2-1 .3-1-.1-1-.5-1-.1-1 0-1 0-1 .3-1 .4-1-.2-1-.4-1-.2-1 .3-1 0-1-.1-1 0-1 .3-1 0-1-.2-1-.2-1 0-1 .1-1-.2-1 .2-1-.1-1 .1-1 0-1 .4-1 0-1 .1-1-.3-1 .2-1-.2-1-.1-1-.2-1 0-1 0-1 .1-1-.1-1 .1-1 .1-1-.1-1-.1-1 .2-1 .6-1-.4-1-.1-1-.3-1-.1-1 .1-1 .1-1-.2-1 .2-1-.1-1 0-1 .2-1-.1-1 0-1-.1-1 0-1 .2-1 0-1 .3-1-.1-1-.3-1 .1-1 0-1-.2-1 .1-1-.2-1 .1-1 .1-1-.2-1 .3-1-.2-1-.1-1 .3-1-.3-1 .4-1-.3-1 .1-1-.2-1 .2-1 .2-1-.3-1-.1-1 .2-1-.2-1 .3-1-.3-1 .3-1-.1-1 0-1-.2-1 .2-1 0-1 .2-1 0-1-.2-1 0-1-.1-1 0-1-.1-1 .4-1 .5-1-.1-1-.5-1-.3-1 .2-1-.1-1 0-1 .8-1-.7-1 .3-1-.4-1 .1-1-.2-1 .2-1-.1-1-.1-1 .1-1 .1-1-.1-1-.1-1 .4-1-.3-1 .1-1 0-1 .5-1-.2-1-.3-1 0-1-.1-1 .3-1 .3-1-.5-1-.2-1 .4-1-.4-1 .1-1 .2-1 .5-1-.4-1-.1-1-.2-1 .2-1-.3-1 0-1 0-1 .1-1 .1-1 .5-1-.1-1-.2-1-.4-1 0-1 .1-1 0-1 .1-1 .1-1-.1-1-.2-1 .1-1-.1-1 .1-1 0-1 .1-1-.1-1 .3-1-.3-1 0-1 .2-1-.2-1 0-1 .2-1 0-1-.2-1 .1-1-.1-1 .1-1-.2-1 .3-1-.1-1 .3-1 .4-1-.3-1-.1-1-.5-1 .1-1 .1-1 .1-1 0-1-.1-1-.1-1-.1-1 0-1 .1-1 0-1-.1-1 0-1 0-1 0-1 .1-1 0-1 .1-1 0-1-.1-1 0-1-.1-1 0-1 .1-1-.1-1 .1-1-.1-1 0-1 .2-1 0-1 0-1-.2-1 0-1 .2-1 0-1-.1-1 0-1-.1-1 .2-1-.1-1-.1-1 .9-1-.5-1 0-1 0-1-.3-1 .5-1-.2-1-.2-1 .1-1-.2-1-.1-1 .1-1 .4-1 .1-1-.3-1-.1-1-.1-1 .1-1-.2-1 .2-1 .2-1-.4-1 .3-1-.1-1 .3-1 0-1 0-1-.2-1 0-1-.3-1 0-1 .1-1 0-1 0-1 .4-1-.5-1 0-1 .3-1-.2-1 0-1 0-1 .1-1 .3-1-.5-1 .2-1 0-1 .2-1 0-1 .8-1-1-1-.2-1 .2-1-.1-1-.1-1 .3-1-.1-1-.2-1 0-1 .1-1 0-1-.1-1 .1-1 .1-1 .1-1-.1-1-.1-1 0-1 .4-1 .5-1-.2-1-.3-1-.2-1-.3-1 .1-1-.1-1 .3-1 .1-1-.5-1 .3-1-.2-1 .2-1 0-1-.3-1 .2-1 0-1 0-1 .1-1-.1-1 0-1 0-1 .1-1 .3-1 .1-1-.2-1-.4-1 0-1 .1-1 .1-1 0-1-.2-1 0-1 .1-1-.1-1 0-1 .4-1-.4-1 .2-1 .3-1-.2-1 0-1-.2-1 0-1 0-1 0-1 .2-1-.2-1 0-1 0-1-.1-1 .2-1-.2-1 0-1 .1-1 0-1 0-1 .1-1 0-1-.2-1 .1-1 .1-1 0-1-.2-1 .1-1-.1-1 .1-1-.1-1 .2-1 0-1 0-1-.2-1 .2-1-.1-1-.1-1 .2-1-.3-1 .1-1 .1-1 0-1 0-1 .1-1-.1-1 0-1 0-1 0-1 0-1 0-1 .1-1-.1-1 0-1-.1-1 .3-1-.2-1 .1-1 0-1 .1-1-.3-1 .5-1-.4-1 .1-1-.2-1 .1-1 0-1 .1-1-.2-1 .1-1 .1-1 .1-1-.3-1 .2-1 0-1 0-1-.2-1 0-1 .2-1 0-1-.1-1-.1-1 .1-1 0-1 .3-1 .1-1-.3-1-.1-1 0-1 0-1-.1-1 .3-1 0-1-.2-1 0-1 0-1 0-1 0-1-.1-1 .1-1 .2-1-.4-1 .3-1-.1-1-.1-1 .1-1 0-1-.1-1 0-1 0-1 .1-1-.1-1 .2-1 .1-1 0-1-.1-1-.1-1-.1-1 0-1 .1-1 0-1 0-1-.3-1 .2-1 .1-1-.1-1 0-1 0-1 .1-1 0-1 0-1 .1-1 .2-1-.3-1-.1-1 .1-1-.1-1-.1-1 .3-1 0-1 .2-1 .1-1 0-1-.4-1 0-1 .1-1 0-1-.1-1-.2-1 0-1 .1-1 0-1 0-1 .3-1 0-1-.3-1 0-1 .2-1-.2-1 .1-1-.1-1 .1-1 0-1 0-1 .1-1 .2-1-.2-1-.1-1-.3-1 .5-1-.2-1 0-1 .1-1-.1-1 0-1 .2-1-.3-1 .3-1 0-1 .1-1-.4-1 .2-1-.1-1-.1-1 .1-1-.1-1 .2-1-.1-1-.1-1 .1-1 .1-1 0-1 .4-1 .3-1-.8-1 0-1 .1-1-.3-1 .3-1 0-1 0-1 0-1 0-1 .1-1 .6-1-.3-1-.1-1-.4-1 0-1-.1-1 0-1 .1-1 0-1 0-1-.1-1 .1-1 .1-1-.1-1 0-1 .1-1-.1-1-.2-1 0-1 .4-1 .1-1 .2-1-.4-1 .2-1-.2-1-.2-1 .1-1-.1-1 .1-1 0-1-.1-1 .2-1 0-1-.1-1-.1-1 .2-1-.3-1 .3-1-.1-1 .3-1 .8-1-.7-1-.3-1-.1-1 0-1 .1-1-.1-1 .3-1-.1-1-.3-1 .2-1-.1-1 0-1 0-1-.1-1 .2-1-.1-1-.1-1 .1-1-.2-1 .3-1 .1-1-.2-1 0-1 .3-1-.3-1 .1-1-.1-1-.1-1 .1-1 .4-1-.2-1 0-1-.2-1-.1-1 .2-1-.2-1 0-1 0-1 .1-1 .4-1 0-1 .1-1-.1-1-.4-1 .1-1 .3-1 .5-1-.8-1-.2-1 .2-1 0-1-.1-1-.1-1 .3-1 .3-1-.2-1-.1-1-.1-1 .1-1-.2-1 0-1-.1-1 .1-1-.1-1 .2-1-.1-1 0-1-.1-1 .2-1 0-1-.1-1 .1-1 .1-1-.1-1-.1-1-.1-1 0-1 .1-1 .1-1-.2-1 .2-1-.2-1 .1-1 .1-1-.1-1 .1-1 0-1-.1-1-.1-1 .1-1 0-1-.1-1 .1-1 0-1 .2-1-.2-1-.1-1 .2-1-.1-1 .1-1-.1-1 .1-1-.1-1-.1-1 .2-1-.2-1 .2-1-.2-1 .1-1 0-1 .1-1-.1-1 0-1 .1-1 0-1 0-1-.1-1 0-1 .1-1 0-1-.1-1-.1-1 .1-1-.2-1 .3-1 0-1 .1-1 0-1 .2-1 0-1-.5-1 .2-1-.1-1 .2-1-.2-1 0-1-.1-1 0-1 .1-1 0-1 0-1-.1-1 .2-1-.1-1-.2-1 .2-1 .3-1-.3-1 0-1 0-1 0-1 0-1 .1-1 .1-1-.3-1 .1-1 0-1 0-1 .1-1 .5-1-.3-1-.2-1 0-1-.2-1 .1-1 .1-1-.3-1 .1-1 .2-1-.1-1-.1z"/>
<path fill="#008000" d="M138.5 418.2l1-.1 1 0 1 0 1 0 1 0 1 .1 1 0 1 .1 1-.5 1 .1 1 0 1 .4 1-.4 1 .2 1 0 1 .1 1 .1 1-.2 1 0 1 .1 1 .1 1-.5 1 .4 1-.1 1 .1 1-.1 1 .1 1 0 1 0 1 0 1-.1 1 .1 1 0 1-.1 1 0 1 .2 1-.3 1 .1 1 .2 1-.1 1-.1 1-.1 1 0 1 .2 1 0 1-.1 1 0 1 .2 1-.2 1 0 1 0 1 0 1 .1 1-.1 1 .2 1-.1 1 0 1 .1 1-.3 1 .1 1 .2 1-.1 1-.2 1 .2 1 0 1 0 1-.1 1 .2 1-.1 1-.2 1 .2 1-.2 1 .2 1-.2 1 .1 1-.2 1 .2 1-.1 1 .2 1-.1 1 .2 1-.2 1 .3 1-.3 1 .1 1-.4 1 .4 1-.1 1-.3 1-.3 1 .4 1 .1 1 .2 1-.1 1 0 1 0 1-.3 1 .5 1-.2 1-.2 1 .1 1 .2 1 .1 1-.3 1 0 1 .2 1 .1 1-.2 1 .1 1 0 1 0 1 0 1-.1 1-.1 1 .2 1 0 1 0 1 0 1-.1 1 0 1 .1 1 0 1 0 1 0 1-.3 1 .3 1 0 1 .1 1-.1 1 .1 1-.4 1 .2 1-.4 1 .1 1 .2 1 .1 .5-.1 .5-1.8 .5-.7 .5-.3 .5-.1 .5-.1 .5 0 .5 0 .5 .1 .5 .3 .5 .3 .5 .3 .5-.1 .5-1.7 .5-.9 .5-.5 .5 0 .5 0 .5 .4 .5 .2 .5 .3 .5 .5 .5 .5 .5 .7 .5 .7 .5 .4 .5 .3 .5 .4 .5 .2 .5-.1 .5-.3 .5-.5 .5 0 .5 0 .5 0 .5 .3 .5 .4 .5 .2 .5 0 .5 0 .5-.1 .5 0 .5 0 .5 .5 .5 .1 .5-.1 .5-.1 .5 0 .5 0 .5-.1 .5-.1 .5-.1 .5 0 .5 0 .5 0 .5 0 .5 .2 .5 .2 .5 .2 .5 .2 .5 0 .5 0 .5-.1 1 .1 1 0 1 .1 1-.1 1 .1 1-.2 1 0 1 .1 1 .1 1-.1 1-.1 1 0 1 .2 1-.1 1 .1 1-.1 1 .1 1-.1 1 .1 1-.2 1 .1 1 0 1-.1 1 .1 1-.1 1 .2 1-.2 1-.1 1 .2 1 0 1-.3 1 .4 1-.2 1 .2 1 0 1-.1 1 0 1-.2 1-.7 1 .1 1 .7 1 .1 1 0 1-.2 1 .1 1 0 1 .1 1 0 1 0 1 0 1 0 1 .1 1 0 1-.1 1 .1 1-.1 1 0 1-.1 1 0 1-.1 1-.7 1 .5 1 .2 1 .1 1-.4 1 .2 1 .2 1 0 1 0 1 0 1 0 1 .1 1 0 1-.1 1 .1 1 .1 1-.1 1 0 1 .1 1 0 1-.1 1 0 1 0 1-.2 1 .2 1-.2 1 .2 1 0 1 .1 1-.1 1 .1 1-.1 1 0 1 0 1-.1 1 .1 1-.1 1-.1 1 .2 1-.1 1 0 1 .1 1 0 1-.2 1 .3 1-.1 1 0 1 0 1-.1 1 0 1 0 1-.7 1 .8 1 0 1 0 1-.2 1 .2 1 .1 1-.1 1 .1 1-.5 1 .1 1 .1 1 .2 1 0 1-.1 1 .1 1-.1 1 .2 1-.1 1 0 1 0 1 0 1-.1 1-.1 1 .1 1 .2 1-.2 1 .2 1-.3 1 .2 1-.1 1 .2 1-.1 1 .1 1-.1 1-.1 1 .1 1-.1 1 .1 1 .1 1 0 1-.2 1 .1 1 0 1 .1 1-.3 1-.1 1 .4 1-.4 1 .4 1 0 1-.1 1 .1 1 0 1-.2 1 .1 1-.3 1 .3 1-.2 1 0 1 .2 1 .1 1 0 1-.2 1 .2 1-.2 1-.1 1 .3 1 0 1-.1 1-.3 1 .4 1-.2 1-.1 1 .1 1 .1 1 0 1 0 1 0 1 .1 1-.2 1 0 1 .1 1-.1 1-.1 1 .1 1 .1 1-.1 1 .2 1-.1 1 .1 1 0 1-.1 1-.1 1 .1 1 .1 1 0 1-.3 1 .2 1 .1 1-.1 1 0 1-.1 1 .1 1 0 1 .2 1-.3 1 .1 1 0 1 .2 1-.2 1-.1 1 .1 1-.1 1 0 1 .2 1-.3 1 .3 1-.3 1 0 1 .3 1 0 1 0 1-.2 1-.2 1 .3 1 .1 1-.2 1 .4 1-.6 1 .3 1-.2 1-.6 1 .3 1 .1 1 .3 1 0 1 .1 1 0 1 0 1 .1 1-.1 1-.1 1 .1 1-.2 1-.2 1-1 1 .8 1 .5 1 .2 1-.1 1-.1 1 .1 1 .1 1-.1 1 0 1 .1 1-.2 1 .1 1 0 1 .1 1-.2 1 .1 1 .1 1 0 1-.3 1 .3 1-.1 1-.1 1 .1 1 0 1 0 1-.3 1 .3 1 0 1 .1 1-.1 1 .1 1-.1 1-.1 1 .2 1-.1 1-.1 1 .1 1 0 1 0 1-.1 1 .2 1-.1 1-.2 1 .1 1 .1 1 0 1-.2 1 .3 1-.2 1 .2 1 0 1-.1 1 0 1 0 1-.2 1 .2 1 0 1-.1 1-.2 1 0 1-.2 1 .3 1 .3 1-.2 1 .1 1 .1 1 0 1-.3 1 0 1 .1 1 0 1-.2 1 .3 1 .1 1-.2 1 .2 1-.2 1 .1 1-.1 1 0 1 .2 1-.2 1 .1 1 0 1-.1 1 0 1 .1 1 0 1-.1 1 .1 1 .1 1-.2 1 .1 1-.3 1 .3 1 0 1-.2 1 .2 1-.1 1-.2 1 .3 1 0 1-.1 1 0 1-.1 1 .3 1-.3 1 .1 1 0 1 0 1 .1 1-.1 1 .1 1-.3 1 .2 1 .2 1-.1 1-.1 1 .1 1-.1 1 0 1 .2 1-.4 1 .4 1-.2 1 .1 1 .1 1-.2 1 .2 1-.4 1 .3 1-.1 1 0 1 0 1-.2 1 .3 1-.2 1 .2 1 0 1 0 1 0 1 .1 1-.3 1 .3 1-.1 1 0 1-.1 1 .2 1 0 1-.1 1 0 1-.2 1 .3 1-.2 1 .1 1 0 1-.1 1-.2 1 0 1 .2 1 0 1 .1 1 0 1 .1 1 0 1 0 1 0 1-.2 1-.1 1 .1 1 .1 1-.1 1 0 1 0 1-.1 1 0 1 .2 1-.1 1 .1 1-.1 1-.1 1 .1 1 .1 1 .1 1-.2 1-.3 1 .3 1 0 1 .2 1-.1 1-.2 1 .1 1-.3 1 .3 1-.2 1 0 1 .1 1 .1 1 0 1 0 1 .1 1-.2 1 .1 1 .1 1 0 1-.1 1 0 1 0 1 .1 1 0 1 .1 1-.2 1-.2 1 .3 1 .1 1-.2 1 .2 1-.1 1 0 1-.2 1 .2 1 0 1-.2 1-.1 1 .1 1 .2 1-.1 1-.2 1 .3 1 .1 1-.1 1-.4 1 .3 1 .3 1-.3 1 .1 1-.3 1 .3 1 0 1 .1 1-.5 1 .3 1 .2 1-.1 1 0 1-.1 1 .1 1 0 1 0 1 0 1-.2 1 0 1 .3 1 0 1-.2 1-.1 1 .2 1 0 1-.1 1-.1 1 0 1 0 1 .1 1-.3 1 .1 1 .2 1 .1 1 0 1-.1 1-.1 1 .3 1-.3 1 .3 1-.3 1 .3 1-.2 1 .1 1-.2 1 .1 1 0 1-.1 1 0 1 0 1-.2 1-.1 1 .5 1-.2 1 .2 1 0 1 0 1 0 1 0 1 0 1 .1 1-.2 1 .1 1-.3 1 .2 1 .1 1 .1 1 0 1 0 1-.2 1 0 1 0 1 .2 1-.3 1 .2 1 .1 1-.2 1 0 1-.2 1 .4 1-.4 1 0 1-.2 1 .4 1-.1 1-.2 1 .4 1-.1 1 .2 1 0 1-.1 1-.1 1 .1 1-.2 1 .2 1-.1 1 .1 1 .1 1-.2 1 .1 1-.5 1-.2 1-.2 1 .9 1 0 1-.2 1 .2 1 0 1 .1 1-.4 1 .1 1 .2 1 0 1 0 1-.2 1 .3 1 0 1-.1 1-.1 1 0 1 .1 1 0 1 0 1 0 1-.1 1 .1 1-.1 1 .2 1-.1 1 .1 1 0 1-.2 1 .1 1 0 1-.4 1-.1 1-.4 1 .9 1-.1 1 0 1 0 1 .1 1 .1 1-.1 1-.1 1 .1 1-.1 1 .1 1 0 1 .1 1-.2 1 .1 1 0 1 .1 1 .1 1-.2 1-.3 1-.3 1 .4 1-.2 1 .1 1 .1 1-.5 1 .4 1 .1 1 .3 1-.3 1 .1 1 0 1-.3 1-.1 1 .3 1 .2 1 .1 1-.1 1-.5 1 .1 1 0 1 .3 1 .1 1 .2 1-.1 1-.1 1-.1 1 0 1 0 1 .1 1 .1 1-.2 1 .2 1-.1 1 .1 1-.2 1-.2 1 .4 1-.1 1 .2 1-.3 1 .2 1-.1 1-.1 1 .1 1 .1 1 0 1-.2 1 0 1 .1 1 0 1 0 1-.2 1 0 1-.2 1 .4 1 .1 1 0 .5 0 0 2.6-.5 .2-1 .2-1-.2-1 .2-1-.1-1 0-1-.1-1-.2-1 .4-1-.3-1 .2-1-.2-1 0-1 .1-1 0-1 0-1-.1-1 .1-1-.2-1 .2-1 .1-1-.2-1 0-1 .1-1 0-1-.1-1 .3-1-.1-1-.1-1 .1-1-.1-1-.1-1 .2-1-.2-1 .3-1-.3-1 .1-1 .4-1-.2-1-.3-1 .2-1-.3-1 .2-1 .3-1 .4-1-.6-1 0-1-.3-1 0-1 .2-1 .2-1 0-1 .7-1-.8-1 .2-1 0-1 .3-1 .1-1-.3-1-.4-1 0-1-.1-1 0-1 .1-1-.3-1 .3-1 0-1 .2-1-.3-1 .1-1-.2-1 .1-1 0-1 0-1 .2-1-.2-1-.1-1 .6-1-.1-1 .3-1-.5-1-.2-1 .1-1-.2-1 .1-1 .1-1-.1-1 0-1 .2-1-.2-1 .1-1 0-1 0-1-.2-1 .3-1 0-1-.1-1 0-1-.1-1 0-1 .1-1-.2-1 .3-1-.2-1-.1-1 .2-1-.1-1 0-1 0-1 0-1 .4-1 0-1 .2-1-.1-1-.4-1 0-1 0-1 0-1 .2-1 0-1-.3-1 0-1 .1-1 .2-1-.2-1 0-1-.1-1 .4-1-.4-1 0-1 0-1 0-1 .3-1 .1-1-.2-1-.1-1 0-1 .1-1-.2-1 .1-1-.2-1 .1-1-.1-1 .1-1-.1-1 .2-1-.1-1-.1-1 .1-1 .4-1-.3-1-.2-1 .4-1-.4-1 .3-1-.1-1-.1-1 .1-1-.1-1-.1-1 .1-1 0-1 0-1 .4-1 0-1 0-1-.4-1-.1-1 0-1 .1-1 0-1 0-1-.1-1 .1-1-.1-1 .2-1 0-1 .1-1-.1-1 .1-1-.3-1 .1-1 0-1 0-1 0-1 .1-1 .2-1-.2-1-.1-1-.1-1 .1-1 0-1-.1-1 0-1 .1-1 .1-1-.1-1 .1-1-.1-1 .1-1-.1-1 .1-1 .1-1 0-1-.3-1 .2-1 0-1 .1-1-.3-1-.1-1 .3-1 0-1 0-1 .1-1-.1-1 .1-1 .1-1 0-1-.2-1 .2-1-.3-1-.1-1-.1-1 .3-1 0-1 .2-1-.2-1-.1-1 0-1 .2-1 0-1-.3-1 .1-1 .2-1-.2-1 .1-1 0-1 0-1-.1-1 .2-1-.1-1-.1-1 .1-1-.1-1 0-1 0-1 .1-1 0-1 0-1-.1-1 0-1 .3-1 .1-1 .4-1-.6-1 .1-1 0-1-.3-1 .1-1 .1-1 0-1-.2-1 .2-1-.2-1-.1-1 .2-1-.2-1 0-1 .2-1-.2-1 .1-1 0-1 .1-1-.1-1 0-1 0-1 0-1 .3-1-.2-1-.2-1 .1-1 .1-1-.1-1 .1-1 0-1 0-1 0-1-.2-1 .3-1-.1-1 .5-1-.3-1 0-1-.3-1 .2-1-.2-1 .1-1 0-1 0-1 0-1 0-1 .2-1-.2-1 .1-1-.1-1 .1-1-.3-1 .1-1 .1-1 0-1 0-1-.1-1 .2-1-.1-1 0-1 0-1 0-1-.2-1 .1-1 .1-1-.2-1 .1-1 .1-1 .2-1-.1-1-.1-1 .1-1-.3-1 .3-1-.1-1 0-1-.1-1 0-1 .4-1-.2-1-.1-1-.1-1 .1-1-.1-1-.1-1 0-1 .1-1 0-1 .2-1-.1-1 .1-1-.1-1 .1-1 0-1-.2-1 .1-1 0-1-.1-1-.1-1 .2-1-.2-1 0-1 .5-1-.1-1-.3-1-.1-1 .3-1-.3-1 .3-1-.2-1 0-1 0-1-.1-1 .1-1 .1-1 .1-1 .1-1-.3-1 .1-1-.2-1 .1-1-.1-1 0-1 .2-1 0-1 0-1-.2-1 .2-1 0-1-.1-1 .4-1-.3-1 .2-1 .4-1-.2-1-.4-1 0-1-.1-1 0-1 0-1 .2-1-.2-1 .2-1 0-1-.2-1 .1-1-.1-1 0-1 0-1 0-1 0-1 .1-1-.1-1 0-1 0-1 0-1 .1-1 0-1 0-1-.1-1-.1-1 .1-1 .2-1-.1-1 0-1 .3-1-.4-1-.1-1 .2-1 0-1-.1-1 .2-1-.2-1 0-1-.1-1 .2-1-.1-1 .3-1-.3-1 0-1 0-1-.1-1 .2-1-.1-1 0-1 .3-1-.1-1-.1-1-.1-1 .1-1 0-1 .3-1 .3-1 .1-1-.4-1-.3-1 .2-1-.1-1-.2-1-.1-1 .1-1 .4-1-.2-1-.1-1 0-1 .2-1 .3-1 0-1 0-1-.5-1 0-1 0-1-.1-1 0-1-.1-1 .3-1 0-1-.1-1 .1-1-.2-1 .1-1 .2-1-.3-1 0-1 0-1-.1-1 .1-1 .1-1-.1-1-.1-1 .3-1-.2-1 .1-1-.1-1 0-1 .2-1-.1-1 .3-1-.5-1 .2-1-.2-1 .1-1 0-1 .1-1-.3-1 .2-1 .2-1-.2-1 .1-1-.1-1-.1-1 .3-1-.2-1 .2-1-.2-1 0-1 0-1-.1-1 .2-1 .1-1-.3-1 0-1 .1-1 .3-1-.4-1 .2-1-.1-1 0-1 .1-1 .2-1-.1-1-.2-1 .1-1-.2-1 .1-1 0-1 .1-1-.1-1 .1-1-.2-1 .1-1 0-1 0-1-.1-1 0-1 .2-1-.1-1 .1-1 0-1 0-1-.2-1 0-1 .2-1 0-1 0-1 0-1-.1-1 .1-1-.1-1 .1-1-.2-1 .3-1-.1-1 .1-1-.1-1-.1-1 .2-1 .1-1-.3-1 0-1 0-1 .1-1 0-1-.1-1 .3-1-.4-1 .2-1 .1-1-.2-1 0-1 .2-1-.2-1 .2-1-.2-1-.1-1 0-1 .1-1 .1-1 .1-1 .2-1 .4-1-.9-1 .1-1 0-1 .3-1-.1-1-.2-1 .1-1 0-1 .4-1-.1-1-.4-1 0-1 0-1 .1-1-.1-1 0-1-.1-1 .1-1 .1-1 0-1 0-1-.3-1 .6-1-.4-1 0-1-.1-1 0-1 .2-1-.1-1 0-1 .4-1-.4-1 .1-1 .1-1-.2-1 0-1 0-1 .1-1 .1-1-.3-1 .2-1-.2-1 0-1 .1-1 0-1 .2-1-.2-1 .2-1-.1-1-.1-1 0-1 0-1 .1-1-.1-1 .2-1 0-1 0-1 .3-1 0-1 .7-1-.5-1-.3-1-.5-1 .3-1-.2-1 .1-1 0-1 .1-1-.2-1 .1-1 0-1-.1-1 .1-1-.1-1 0-1-.1-1 .2-1 .2-1-.3-1 0-1 .4-1 0-1-.1-1-.3-1 0-1 .1-1 .1-1-.2-1 .3-1-.2-1-.1-1 .1-1-.2-1 .2-1-.1-1-.1-1 0-1 .1-1 .1-1-.2-1 .2-1-.1-1-.1-1 .4-1-.3-1 0-1 0-1-.1-1 .1-1-.1-1 .2-1-.1-1 .1-1 .3-1-.3-1 .2-1-.3-1 .2-1-.1-1-.1-1 0-.5 0-.5 0-.5 0-.5 .1-.5 0-.5 .1-.5 0-.5 0-.5-.1-.5 0-.5 .1-.5 .1-.5 0-.5 .1-.5 .1-.5 0-.5 0-.5 .1-.5 .1-.5 0-.5 0-.5 0-.5 .1-.5 0-.5 .1-.5 .2-.5 .2-.5 .2-.5 .1-.5 0-.5 0-.5-.1-.5 0-.5 0-.5-.1-.5 .1-.5 .1-.5 .2-.5 .1-.5 .5-.5 .5-.5 .5-.5 1.8-.5 1-.5 .4-.5 0-.5 0-.5-1.4-.5-1.5-.5-.7-.5-.4-.5 .1-.5 .3-.5 .1-.5 .1-.5 .1-.5 .1-.5 0-.5 0-.5-.1-.5-.4-.5-2.9-.5 0-1 0-1 .4-1-.1-1 0-1-.1-1-.1-1 0-1 0-1 .2-1-.2-1-.1-1 .2-1-.2-1 0-1 0-1-.1-1 .3-1-.2-1 .1-1-.1-1 .2-1-.1-1-.2-1 0-1 0-1 .1-1 0-1 .2-1-.2-1 0-1 0-1 .1-1-.1-1 .1-1 .1-1-.2-1 0-1 .1-1-.1-1 .1-1-.1-1 .1-1-.1-1 0-1 .2-1 .6-1-.2-1 0-1-.5-1-.1-1 0-1 .1-1-.2-1 .2-1 0-1-.1-1 0-1-.2-1 .2-1 .1-1 .2-1-.3-1 0-1 .1-1 0-1 .1-1 0-1-.3-1 .2-1-.1-1 .1-1 .2-1 0-1-.1-1-.2-1 0-1 .2-1-.1-1 .1-1 .1-1-.4-1 .2-1-.1-1 .2-1-.1-1-.2-1 .3-1-.2-1 0-1 .2-1-.1-1 .1-1-.1-1-.1-1 .1-1-.1-1 .1-1 0-1-.1-1 .1-1-.1-1 .2-1-.2-1 0-1 .1-1-.2-1 0-1 .2-1-.2-1 .1-1 .1-1-.1-1-.1-1 .1-1 0-1 .1-1 0-1-.2-1 .1-1-.1-1 .1-1 0-1 0-1 0-1 .3-1 .3-1-.6-1 .2-1-.2-1 .1-1 0-1-.1-1 .2-1-.2-1 .1-1-.2z"/>
<path fill="#000000" d="M138.5 449.9l1-.4 1-.3 1 .1 1-.6 1 .7 1-.3 1 .3 1-.1 1 .2 1-.2 1-.1 1 .2 1 0 1 0 1 .2 1 0 1-.2 1 0 1 .1 1 .1 1 0 1 .2 1-.2 1 .2 1 0 1-.1 1-.1 1-.1 1 .2 1 .2 1-.3 1 .2 1-.3 1-.3 1 0 1 .1 1 .1 1 .4 1 0 1-.2 1 0 1 0 1 0 1 0 1 .3 1-.1 1-.2 1 .2 1-.1 1 .1 1-.1 1 .1 1-.1 1 0 1 0 1-.1 1 .2 1-.3 1-.4 1-.1 1-.4 1 .3 1 .7 1 0 1-.4 1 .1 1 .4 1-.2 1 .1 1 .1 1 .1 1-.2 1 .1 1-.5 1 .3 1 .3 1-.1 1 .1 1-.1 1 0 1 .1 1 0 1-.2 1 0 1 .1 1 0 1-.1 1 .2 1-.2 1 .1 1 0 1 0 1 0 1 .1 1-.2 1 .1 1 0 1-.2 1-.1 1 0 1 .5 1-.2 1 .1 1-.1 1 0 1 .1 1-.1 1 0 1-.1 1 .2 1 .1 1-.1 1 0 1-.3 1 .1 1-.2 1 .2 1-.1 1 .2 1 0 1 0 1 .1 1-.3 1 .3 1 0 1-.1 1 .1 1 0 1-.2 1 .1 1-.1 1-.4 1 .3 1-.1 1 .4 1-.2 1 .1 1 .1 1 0 1-.2 1 .2 1-.1 1 0 1 0 1 .1 1-.2 1 .2 1-.2 1 .3 1-.5 1 .3 1-.4 1-.3 1 .1 1 .6 1 0 1 .1 1 0 1-.1 1 0 1-.1 1 0 1 .2 1-.1 1 .1 1-.1 1 .1 1 0 1-.2 1 .2 1 0 1-.1 1-.1 1 .2 1-.2 1 0 1 0 1-.1 1-.3 1 .3 1 0 1-.4 1 .7 1 0 1-.1 1 .1 1-.2 1 .2 1-.1 1 .1 1-.1 1-.2 1 .1 1-.4 1-.2 1 .2 1 .2 1 .1 1 .1 1-.1 1 .2 1 .1 1 0 1-.3 1 .4 1-.2 1 .1 1-.2 1-.3 1 .1 1 .3 1 0 1 0 1 .1 1-.4 1 .4 1 0 1 .1 1-.2 1 .2 1-.3 1 .1 1 .2 1-.4 1 .3 1 0 1 0 1-.1 1 .1 1 0 1 0 1-.1 1-.2 1 .3 1 0 1-.2 1-.2 1 0 1 .3 1-.2 1 .1 1 .1 1 0 1 0 1-.1 1-.1 1-.5 1-.2 1 .5 1-.2 1 .5 1 0 1 0 1-.6 1 .1 1 .1 1 .4 1 .1 1 0 1-.3 1-.2 1 .3 1 .2 1-.1 1 .2 1 0 1-.1 1-.2 1 .2 1 .1 1 .1 1-.2 1 .1 1-.1 1 0 1 0 1 0 1 0 1 .1 1 0 1 0 1-.1 1-.1 1 .1 1 0 1-.2 1 .3 1-.1 1 0 1 .1 1-.9 1 .5 1-.1 1 .1 1 .1 1-.1 1 .2 1 0 1 0 1 .1 1-.1 1-.1 1 .2 1 .1 1-.2 1 .2 1 0 1 0 1-.1 1 0 1 0 1 .1 1-.1 1 .1 1-.3 1 .1 1 0 1 0 1 .2 1-.1 1-.1 1-.2 1-.1 1 .1 1 .2 1 0 1 .1 1 0 1-.1 1-.1 1 .2 1-.3 1 .4 1-.1 1 0 1 .2 1-.3 1 0 1 .2 1 0 1 .1 1-.1 1-.2 1 0 1-.1 1 .3 1-.2 1-.2 1 .3 1-.1 1 .2 1-.1 1-.1 1 .2 1-.1 1 0 1-.4 1 .1 1 .2 1-.1 1 0 1 .2 1-.1 1 .1 1 0 1 .1 1-.1 1 0 1 .1 1-.2 1 0 1-.2 1 .3 1 .1 1-.2 1 0 1 .2 1-.3 1 .2 1 .1 1 .1 1-.1 1 0 1 0 1-.2 1 0 1 .3 1-.1 1 0 1 0 1-.1 1-.2 1 .3 1 0 1-.1 1 .1 1-.2 1 .2 1-.2 1 .1 1 0 1-.2 1 .2 1 0 1 .1 1-.1 1-.1 1 .1 1-.1 1 .1 1 .1 1-.1 1-.2 1 .3 1-.3 1 .2 1 0 1-.1 1-.2 1 .5 1-.4 1-.1 1-.5 1 .5 1 .4 1-.1 1 0 1 0 1-.1 1 .1 1-.4 1 0 1 .3 1-.4 1 .1 1-.1 1-.1 1 .5 1-.5 1 .2 1 .2 1 0 1 .2 1-.1 1 .1 1 .1 1-.1 1 .1 1-.2 1 0 1 .1 1 0 1 .1 1-.2 1-.3 1-.3 1 .2 1 .5 1 .2 1-.2 1 .1 1-.1 1 0 1-.1 1 .1 1 .2 1-.1 1-.1 1-.3 1 0 1-.1 1 .3 1 .2 1-.3 1 .4 1-.1 1-.2 1 .1 1-.1 1-.2 1 .3 1 .1 1-.4 1-.2 1 .5 1-.1 1 0 1 .1 1 0 1 0 1-.2 1 .2 1-.5 1 0 1 .5 1 .1 1-.1 1-.1 1 0 1 .1 1 0 1 .1 1-.2 1 0 1 .2 1-.4 1 .1 1 0 1 .2 1-.4 1-.3 1-.1 1 .6 1 .1 1 0 1 0 1 .1 1 .1 1-.1 1-.1 1 .1 1 0 1 .1 1 0 1-.1 1 .1 1-.2 1 0 1 .2 1-.1 1 0 1 0 1-.1 1 0 1 .1 1-.1 1-.2 1 .1 1 .2 1 .1 1-.2 1 .2 1 0 1-.1 1 0 1-.1 1 0 1 0 1 0 1 .2 1-.3 1 .1 1 .3 1-.1 1 0 1-.2 1 .2 1-.2 1-.4 1 .5 1 0 1 .2 1-.1 1 0 1 0 1-.5 1 .5 1-.1 1-.1 1 .1 1 .1 1-.2 1-.5 1 .3 1 .1 1 .3 1-.1 1-.1 1 .2 1-.3 1 .2 1 .1 1 0 1 0 1-.2 1 .2 1-.1 1 0 1-.3 1-.1 1 0 1 .3 1 0 1 .2 1 .1 1-.1 1-.2 1 0 1 .2 1-.2 1 .2 1 0 1 0 1 0 1-.1 1 0 1 .1 1-.1 1 .1 1 0 1-.1 1 0 1 .2 1-.1 1 .1 1-.1 1-.2 1 .2 1 0 1-.2 1 .2 1-.1 1-.1 1-.1 1 .2 1 .2 1 0 1-.2 1-.4 1-.2 1 .3 1 .2 1 .1 1 0 1 .1 1-.4 1 .5 1-.3 1 0 1 0 1 .1 1-.1 1 .1 1 .1 1-.1 1 0 1-.1 1 .2 1-.2 1 .3 1-.1 1 0 1 0 1 0 1 0 1 0 1 0 1-.1 1 0 1 .1 1-.1 1-.1 1 .1 1 0 1 .1 1 0 1 .1 1-.1 1-.1 1-.2 1 .3 1-.1 1 0 1-.3 1 .2 1 .1 1 .1 1 0 1 0 1 0 1-.2 1 .1 1 .1 1 0 1-.3 1 .3 1-.3 1 .2 1-.1 1 0 1 .2 1-.2 1-.1 1-.4 1 .5 1-.2 1 .2 1 .1 1 .1 1 0 1 0 1 .1 1-.2 1-.1 1 0 1 .1 1 0 1 .1 1-.4 1 .3 1 0 1 0 1 0 1-.2 1 .3 1 0 1-.1 1 .1 1-.3 1 .1 1 .1 1 .1 1-.2 1 .1 1-.1 1 .1 1-.2 1 0 1-.4 1 .3 1 .2 1-.1 1 .4 1-.3 1 .2 1-.2 1 0 1 .2 1 0 1-.1 1 0 1 0 1 0 1 0 1-.1 1 .2 1 0 1-.4 1 .3 1 .1 1 0 1-.2 1 .2 1-.1 1-.1 1 .1 1-.1 1-.1 1 .3 1-.1 1-.2 1 .2 1-.1 1 .2 1-.2 1 .1 1 .1 1 0 1 0 1-.1 1 .1 1-.2 1 .2 1 0 1-.1 1-.2 1 .2 1-.1 1-.3 1 .2 1 .1 1 0 1 .1 1-.3 1 .2 1 .2 1 0 1-.1 1 0 1 .1 1-.1 1-.2 1 .4 1-.3 1 .2 1-.1 1 0 1 0 1-.3 1 0 1 0 1 .2 1 .3 1-.4 1 .3 1 0 1 0 1 0 1-.7 1 .5 1-.2 1 .2 1 .2 1-.1 1-.1 1 .1 1-.1 1 0 1 .3 1-.2 1 .1 1 .1 1-.3 1 .1 1-.2 1-.2 1 0 1 .4 1 0 1-.1 1 .1 1-.1 1-.1 1 .3 1-.3 1-.5 1-.5 1 1.1 1 .1 1 .1 1-.2 1-.5 1 .3 1 0 1 .2 1-.2 1 .2 1 .1 1-.1 1 .2 1-.3 1 .2 1 .2 1-.3 1 .1 1 .1 1-.2 1-.2 1 .4 1 0 1 0 1 0 1-.1 1 0 1 0 1 0 1 0 1-.1 1-.3 1 0 1 .1 1-.3 1 .3 1 .2 0 2.8-1 .7-1 0-1 0-1-.1-1-.1-1-.3-1 .1-1 0-1-.1-1-.1-1 .1-1 0-1 .2-1-.3-1 .2-1-.2-1 .1-1-.1-1 0-1 .3-1-.4-1 .1-1 0-1 .1-1 0-1-.1-1 0-1 .4-1-.1-1 .1-1 0-1-.2-1 .1-1-.2-1 0-1 .5-1-.2-1 0-1 .2-1-.6-1 .2-1-.1-1-.1-1-.1-1 .1-1 .3-1 .5-1-.4-1-.1-1-.2-1-.1-1 0-1 .2-1 0-1-.1-1 .1-1 .1-1-.3-1 .3-1-.3-1 .2-1-.2-1 .2-1 .5-1-.4-1-.3-1 0-1 .1-1-.1-1 0-1 .2-1-.1-1 .2-1 .5-1-.1-1-.5-1-.2-1-.1-1 .2-1 0-1 0-1 0-1-.1-1 .1-1-.1-1 .1-1-.2-1 .1-1 .2-1 0-1-.2-1 0-1 .1-1 .2-1 0-1-.1-1-.2-1 0-1 .4-1-.2-1 0-1 .1-1-.3-1 .1-1 0-1 0-1-.2-1 .1-1 .1-1 0-1-.1-1 .2-1 0-1-.2-1 .1-1 0-1 0-1 .1-1-.2-1 .1-1 .1-1 0-1-.1-1-.1-1 .2-1-.2-1 .1-1-.1-1 .1-1 0-1-.1-1 .2-1-.1-1-.1-1 .1-1 .2-1-.1-1-.1-1 0-1-.1-1 0-1 .1-1 .2-1 .1-1 .4-1-.3-1-.5-1 0-1 0-1-.1-1 .2-1 .2-1-.3-1 .1-1 .1-1-.1-1 0-1 .1-1-.1-1-.1-1 .4-1-.2-1 .1-1-.2-1 .1-1-.2-1 .1-1-.1-1 .1-1 .3-1-.2-1 .1-1-.1-1 .2-1-.3-1-.1-1 0-1 .2-1 .2-1-.1-1-.1-1-.2-1 0-1 0-1 .3-1 .3-1-.1-1-.4-1 .1-1 0-1-.1-1 0-1 0-1 0-1 0-1 0-1-.1-1 .1-1-.2-1 .1-1 .1-1 0-1 0-1-.1-1 .3-1-.3-1 0-1 .1-1-.2-1 .1-1 0-1 .1-1 .1-1-.2-1 .1-1-.1-1 .1-1-.2-1 .2-1-.1-1 .1-1 .1-1 0-1-.2-1 .4-1-.3-1 0-1 0-1 0-1 0-1 .2-1-.2-1 .1-1-.1-1 .2-1-.2-1 0-1-.1-1 0-1 .1-1-.1-1 .3-1 .1-1 .1-1-.1-1 0-1-.4-1 .1-1 0-1 0-1 .2-1-.2-1-.1-1 0-1 0-1 .1-1-.1-1 .1-1-.2-1 .1-1 .2-1-.2-1 .1-1 0-1-.1-1 0-1-.1-1 .3-1 0-1-.2-1 0-1 .1-1 0-1 0-1 0-1 0-1 0-1 0-1 .1-1 0-1-.1-1-.2-1 .2-1 .3-1-.4-1 0-1 .1-1-.1-1 .1-1 0-1-.1-1 .2-1-.3-1 .3-1-.3-1 .2-1 0-1 .1-1 .3-1-.1-1 .1-1-.3-1-.2-1 .1-1 0-1 0-1 0-1 0-1 .1-1 0-1-.1-1 0-1-.1-1 0-1 .2-1-.2-1 .1-1 .1-1 .1-1-.2-1-.1-1-.1-1 .3-1-.1-1 .1-1 0-1 .1-1-.1-1 0-1 0-1-.1-1 .3-1-.4-1 .2-1 0-1 .2-1 .1-1-.4-1-.1-1 0-1 .1-1 0-1 .2-1-.2-1 .3-1-.3-1 .1-1-.2-1 .2-1-.1-1-.1-1 .3-1 0-1-.1-1 0-1-.1-1 .1-1-.1-1 .2-1-.3-1 .5-1 .2-1-.1-1-.2-1-.3-1 .1-1 .3-1-.2-1 .1-1-.3-1 0-1 .1-1-.1-1 0-1 0-1 .1-1-.3-1 .4-1-.1-1 .5-1-.1-1-.6-1 0-1 .1-1-.1-1 0-1 .3-1-.2-1 .2-1 .1-1 .2-1-.4-1 .1-1-.2-1 0-1 .1-1-.1-1 0-1 0-1-.1-1 0-1 .1-1 .2-1 .5-1-.5-1-.1-1 0-1-.2-1 0-1 0-1 .1-1 .1-1-.3-1 .1-1 .1-1 0-1 .3-1 .2-1-.4-1 0-1-.1-1 0-1 0-1 0-1 .1-1 0-1-.2-1 .1-1-.1-1 0-1-.1-1 .4-1 0-1 .6-1-.3-1-.2-1 0-1 .1-1 0-1-.2-1 .4-1-.3-1 .3-1-.7-1 .3-1 0-1-.3-1 0-1 0-1 .3-1 .3-1-.3-1-.3-1 0-1 0-1 0-1 .2-1-.1-1 .1-1-.2-1 .1-1-.1-1 .2-1-.1-1 0-1 .2-1-.4-1 .1-1 .3-1-.3-1 0-1 .1-1 0-1 0-1 0-1 .1-1-.1-1-.2-1 .3-1 .1-1-.1-1-.1-1-.1-1 .2-1-.1-1-.1-1 .3-1-.3-1 .1-1 0-1 .1-1 .2-1 0-1-.5-1 .3-1-.1-1-.1-1 .1-1-.2-1 .1-1 0-1 0-1 .2-1 .1-1-.3-1 .3-1-.3-1-.1-1 .2-1-.1-1 .2-1-.1-1 .1-1-.3-1 .6-1 0-1 0-1-.1-1-.3-1-.2-1 .2-1 0-1-.1-1 .1-1-.1-1 .1-1 .1-1-.1-1 .1-1 .1-1-.3-1 .2-1-.2-1-.1-1 .1-1 .4-1-.4-1 0-1 0-1 .2-1-.2-1 .1-1-.1-1 0-1 .2-1-.2-1 .3-1 .1-1-.1-1 .1-1-.1-1-.1-1-.2-1 .1-1-.1-1 0-1 .5-1-.4-1 .1-1-.1-1-.1-1 .2-1 0-1 0-1-.2-1 .1-1 0-1 0-1 .1-1-.3-1 .2-1-.1-1 .2-1-.2-1 .1-1-.1-1 .1-1 0-1-.1-1 .4-1-.2-1 .8-1-.3-1-.7-1 .2-1-.1-1 0-1 0-1 .1-1-.2-1 0-1 .1-1 .3-1-.3-1 0-1-.1-1 0-1 .1-1 0-1-.1-1 .2-1-.1-1 .1-1-.2-1 .2-1 0-1-.2-1 0-1 .1-1 .1-1-.2-1 .4-1 .1-1-.1-1-.2-1-.1-1 0-1 .3-1 .1-1 0-1 .1-1-.5-1 .2-1 .2-1 0-1 .5-1-.5-1-.3-1 0-1 0-1-.1-1-.2-1 .2-1-.2-1 .2-1 .6-1 .2-1-.7-1-.1-1 .2-1-.4-1 .2-1 .1-1-.2-1 .2-1-.2-1 0-1 .2-1-.2-1 .2-1 .1-1-.2-1 0-1 .2-1-.1-1 .1-1-.1-1 0-1-.2-1 .1-1 .1-1-.2-1 0-1 .2-1-.1-1 .1-1 .1-1-.2-1 .2-1-.2-1-.1-1 0-1 .2-1-.1-1 .6-1-.5-1 0-1 .2-1 .8-1-.8-1-.4-1 .1-1-.2-1 .1-1 .1-1-.1-1 .3-1-.2-1 0-1 0-1-.1-1 .7-1-.4-1 .3-1-.1-1-.2-1-.3-1 .1-1-.2-1 .1-1 .1-1 .1-1 0-1-.1-1-.1-1 0-1 .1-1 0-1-.1-1 0-1 0-1-.1-1 .1-1 .1-1-.1-1 0-1 .2-1 .1-1 .1-1-.2-1 .3-1 .4-1-.7-1 0-1-.1-1 0-1 0-1 0-1-.1-1 .1-1-.2-1 .3-1-.3-1 .2-1 0-1-.1-1 0-1 .3-1 0-1 .1-1-.1-1 .4-1-.3-1-.1-1-.1-1 .1-1-.3-1 0-1 .1-1-.1-1 0-1 0-1 .2-1-.1-1 .2-1 .2-1-.1-1 .3-1-.3-1-.2-1-.1-1-.1-1 0-1 .3-1-.3-1-.1-1 .3-1-.1-1 0-1 .1-1-.2-1 0-1 .1-1-.1-1 .2-1-.3-1 .3-1-.2-1 0-1 .1-1-.2-1 .2-1-.1-1 .2-1 0-1-.2-1 0-1 .2-1 0-1-.1-1-.2-1 .2-1 .2-1-.4-1 .2-1 0-1-.2-1 .3-1 .2-1-.2-1-.2-1 0-1 .1-1 .3-1-.5-1 .1-1 .2-1 .6-1-.5-1-.2-1 .2-1 .1-1 .7-1-.8-1 .3-1-.5-1 0-1-.1-1 .2-1-.2-1-.1-1 .1-1 .2-1-.2-1 .2-1-.2-1 .1-1 .1-1 .1-1-.3-1 .1-1 0-1 0-1 .1-1-.2-1-.1-1 .4-1 .1-1 .3-1-.1-1 .2-1-.5-1-.2-1 0-1 0-1 0-1 .1-1-.1-1 0-1-.1-1 0-1 0-1 .3-1 .2-1-.4-1 .2-1-.4-1 .2-1 0-1 0-1 0-1 .1-1 .5-1-.4-1 .1-1-.1-1 .8-1-.9-1 .1-1 .3-1 .5-1-.6-1-.2-1-.4z"/>
<path fill="#ff0000" d="M138.5 481.4l1-.1 1 0 1-.2 1 .3 1-.2 1 0 1 0 1 .2 1-.2 1 .2 1-.2 1-.4 1 .1 1-.1 1-.1 1 .7 1-.3 1-.1 1 .4 1 0 1-.1 1 0 1-.2 1-.6 1 .6 1 .1 1-.1 1 0 1-.1 1 .3 1 0 1-.1 1 0 1-.4 1-.1 1 .4 1 .1 1 0 1-.1 1 .1 1 .1 1 0 1-.2 1 .1 1-.2 1 .3 1 0 1 .1 1-.1 1 0 1 0 1-.1 1 0 1 .2 1-.2 1 0 1 .1 1-.1 1 0 1 .2 1-.1 1-.2 1 .2 1-.2 1 0 1 .3 1-.2 1 .2 1-.3 1 .2 1 .1 1-.1 1 0 1-.1 1 0 1 0 1 .2 1 0 1-.1 1-.1 1-.1 1-.3 1 0 1 .3 1 .2 1-.3 1 .2 1-.1 1 .3 1-.3 1 .2 1-.2 1 .3 1-.2 1-.1 1 0 1 .3 1-.1 1 0 1-.2 1 0 1 .2 1 0 1-.3 1 .2 1 .1 1-.3 1-.1 1 0 1 .2 1 .1 1 0 1 .1 1 0 1 0 1 0 1 .1 1-.2 1-.5 1 .3 1 .3 1-.4 1 .1 1-.1 1-.2 1 .4 1 0 1-.2 1 .5 1-.3 1-.4 1 .4 1 0 1-.5 1 .1 1 .5 1 .1 1 0 1-.1 1-.1 1 .1 1 .1 1 0 1 .1 1-.8 1 .2 1 .4 1 .1 1 0 1-.1 1 .1 1 0 1-.3 1-.3 1 .3 1 0 1 .2 1 .1 1-.1 1 0 1 .2 1-.2 1-.1 1 .3 1-.4 1-.1 1-.3 1 .3 1 .3 1 0 1 .1 1 0 1 .1 1-.2 1 0 1 .1 1 0 1-.2 1 .1 1 .1 1 .1 1-.1 1 0 1-.4 1-.2 1 0 1 .4 1-.2 1 .2 1 .1 1-.1 1 .2 1-.2 1-.3 1-.1 1 .5 1 .1 1-.1 1-.9 1 .5 1 .6 1-.4 1 .1 1 0 1-.1 1 .4 1 0 1-.2 1-.1 1 .2 1 0 1-.1 1 0 1-.1 1-.1 1 0 1 .1 1 .1 1 0 1 0 1-.4 1 .2 1 .2 1 0 1 0 1 0 1-.1 1-.5 1 .2 1-.1 1 .5 1-.1 1 .1 1-.1 1 .3 1-.4 1 .2 1-.1 1 .3 1-.1 1-.1 1 .1 1 0 1-.1 1-.3 1-.6 1 .8 1 0 1 .1 1 0 1 0 1-.3 1 .3 1-.2 1 .4 1-.2 1 0 1-.1 1 .2 1-.2 1 .1 1 0 1 .1 1 0 1 .1 1-.3 1 .3 1-.1 1 0 1-.2 1 .1 1 0 1 0 1 .1 1 0 1 0 1 0 1-.1 1 .2 1-.2 1 .1 1-.1 1-.2 1-.2 1 .5 1 0 1-.5 1 .1 1 .1 1 .3 1-.1 1 .2 1-.1 1-.4 1 .5 1-.3 1 .1 1 0 1 .1 1 0 1-.1 1-.1 1 .1 1 .2 1-.3 1-.2 1 .2 1 0 1 .3 1-.1 1-.1 1 .2 1-.2 1-.1 1 0 1 .3 1 0 1-.3 1 .1 1 .1 1-.1 1 .2 1-.2 1-.1 1-.1 1 .1 1 0 1 .1 1-.1 1 .3 1-.2 1 .1 1-.3 1-.1 1 .1 1 .4 1-.1 1-.1 1 0 1 0 1 .1 1-.1 1 .2 1 0 1-.1 1-.1 1 0 1 .1 1 .1 1 0 1-.2 1 .1 1 .1 1-.2 1 0 1 0 1 .1 1-.5 1 0 1 .3 1 .3 1-.1 1 0 1-.4 1-.3 1 .1 1 .6 1 0 1-.2 1 .3 1 0 1-.2 1 0 1 0 1 .2 1-.2 1-.1 1 0 1 .3 1-.2 1 .2 1-.1 1-.1 1 .2 1-.1 1 0 1 .1 1-.2 1 .1 1-.2 1 .3 1-.2 1 .1 1-.2 1 0 1 .2 1 0 1-.3 1 .2 1 .1 1-.1 1 .1 1-.1 1 0 1-.1 1 .2 1-.1 1 0 1 0 1-.1 1-.1 1-.4 1-.3 1 .8 1 0 1 0 1 .1 1 0 1 0 1-.2 1 .4 1-.3 1 .2 1-.5 1-.3 1-.4 1 .8 1 .4 1 0 1 0 1 0 1 0 1 0 1-.3 1 .1 1 .1 1 0 1 .1 1 0 1 0 1 0 1 0 1-.1 1-.4 1 0 1-.3 1 .2 1 .3 1 .2 1 .1 1 0 1-.1 1 0 1 .2 1-.2 1-.1 1 .1 1 .2 1 0 1-.2 1 .1 1 0 1-.1 1 0 1-.3 1-.1 1 .2 1 .3 1-.1 1 .2 1-.3 1 .1 1 .1 1 .1 1-.1 1 0 1-.1 1 .2 1-.2 1 0 1 0 1 0 1 .1 1-.1 1 0 1 .1 1 .1 1-.3 1 .3 1 0 1-.1 1-.2 1 .1 1 .1 1-.1 1-.5 1 .6 1 0 1-.1 1 0 1 0 1 0 1 .2 1-.3 1 .1 1 .1 1-.1 1 0 1 .1 1 .1 1-.2 1 0 1 .1 1-.1 1-.3 1-.3 1 .4 1-.1 1 .5 1-.2 1 .1 1-.2 1 0 1 .2 1-.1 1 .1 1 0 1 0 1 0 1-.3 1 .4 1-.1 1 0 1-.1 1-.3 1-.3 1 .4 1 0 1 .2 1-.1 1-.1 1-.1 1 .1 1-.1 1 .2 1 .3 1-.2 1-.2 1 .2 1-.4 1 .1 1 .2 1 .2 1-.2 1 .2 1-.1 1 .1 1 0 1 0 1-.1 1-.1 1 .2 1-.2 1 .1 1 .1 1-1 1 .1 1 .6 1 0 1 .1 1-.8 1 .5 1 .2 1 .2 1-.7 1-.1 1 .1 1 .5 1 .1 1 .2 1-.3 1-.2 1-.1 1 0 1 .4 1 .1 1 0 1-.3 1 .4 1-.1 1 0 1-.1 1 .1 1 .2 1-.1 1-.1 1-.4 1 0 1 .3 1 .2 1-.1 1 .1 1-.1 1 .1 1 .1 1-.1 1-.1 1 0 1-.1 1 .1 1-.4 1 .3 1 .2 1 0 1 0 1-.1 1 0 1 .1 1-.2 1 .2 1-.2 1 .1 1 0 1 .1 1 0 1-.1 1-.2 1 .3 1-.1 1 0 1 .2 1-.1 1-.1 1 .1 1 0 1-.1 1 .2 1-.1 1 .1 1-.3 1 .3 1-.1 1-.1 1 .1 1-.1 1 .1 1 .1 1-.3 1 .2 1 0 1 0 1-.1 1-.2 1-.1 1-.1 1 .5 1 0 1 0 1 .1 1-.1 1-.1 1 .2 1 0 1-.1 1 .1 1-.1 1-.2 1 .1 1 .2 1-.4 1 .3 1-.1 1 0 1 0 1 .2 1-.2 1 0 1 .1 1-.1 1-.2 1 .2 1-.2 1 .1 1 0 1-.3 1 .3 1 0 1 .2 1 0 1-.1 1-.1 1 0 1-.4 1 .2 1 .4 1-.1 1 0 1 0 1 .1 1-.1 1 .1 1 0 1-.1 1-.1 1-.2 1 .5 1-.1 1-.1 1 0 1 .2 1-.3 1 .3 1-.2 1 0 1 0 1-.2 1 .3 1-.2 1 0 1 .2 1-.1 1-.1 1 .1 1 0 1 .1 1 0 1-.2 1 .2 1 .1 1-.3 1-.1 1 .2 1-.3 1-.2 1 .1 1 .2 1 .2 1 0 1 .1 1 0 1 0 1-.2 1 .2 1-.1 1 .1 1 0 1-.1 1-.1 1 .2 1-.2 1 .2 1-.1 1-.7 1 .4 1 .3 1 0 1-.6 1-.3 1 .8 1 .2 1 .1 1-.1 1-.1 1-.2 1 .2 1 .1 1 0 1-.1 1 .1 1 .1 1-.3 1 0 1 .2 1-.2 1 .1 1-.4 1-.3 1 .8 1 0 1 0 1 .1 1-.2 1 0 1-.1 1-.2 1 .1 1 .2 1 0 1-.1 1 .1 1 .1 1 0 1-.1 1 0 1 .1 1-.1 1-.1 1 .2 1-.2 1 0 1 .2 1-.2 1 .3 1-.1 1-.2 1 .2 1 0 1 0 1-.2 1 .3 1-.2 1 .1 1-.1 1 .1 1 0 1-.1 1 .1 1 .1 1 0 1-.1 1 0 1-.1 1 0 1 .2 1-.1 1-.2 1-.1 1 .1 1 0 1 .3 1-.2 1 .1 1-.1 1-.1 1 .2 1 0 1 0 1 0 1-.3 1-.2 1 .4 1 0 1 0 1 .1 1 .1 1-.4 1 .1 1-.1 1 .2 1-.2 1 .3 1-.2 1 .2 1-.2 1 .3 1-.1 1-.2 1 .2 1 .1 1 0 1 0 1-.1 1 0 1-.1 1-.2 1 .3 1 0 1 0 1-.2 1 .2 1 0 1-.3 1 .4 1 .1 0 2.5-1 .2-1 0-1 0-1 0-1-.1-1 .1-1 0-1 .1-1-.2-1 .1-1-.2-1 .4-1-.2-1 .1-1-.3-1 .1-1-.1-1 .3-1-.1-1 .1-1-.2-1 .3-1-.2-1 .1-1-.2-1 .2-1 .1-1-.3-1 .1-1-.1-1 .2-1-.2-1 .3-1 .2-1-.3-1-.2-1 .2-1-.1-1 .1-1-.2-1 0-1 .2-1-.2-1 .1-1-.2-1 .8-1-.1-1-.5-1 0-1-.1-1 0-1 .1-1-.2-1 0-1 .1-1-.1-1 .1-1-.1-1 .1-1 .1-1 0-1 0-1-.2-1 .4-1-.4-1 .3-1-.1-1-.2-1 .1-1 .1-1-.1-1-.1-1 .3-1-.2-1 0-1 .1-1 0-1 .1-1-.1-1-.1-1-.1-1 .2-1-.2-1 .3-1-.2-1 0-1 .4-1 0-1-.3-1-.2-1 0-1 .1-1 0-1-.1-1 .1-1 0-1 .6-1 0-1-.4-1 0-1-.3-1 .1-1 0-1 0-1 .1-1 0-1 0-1-.1-1-.1-1 .2-1 0-1-.1-1 0-1 .2-1 .2-1-.2-1 0-1 0-1 .1-1 .6-1-.6-1-.2-1 0-1-.2-1 .1-1 0-1 .1-1-.1-1 0-1 .1-1 0-1-.2-1 .1-1 .3-1-.2-1-.1-1 .4-1 .2-1 .2-1-.2-1-.4-1 .1-1-.4-1 .1-1 .1-1-.1-1 0-1 0-1-.1-1 .2-1-.2-1 .1-1 0-1-.2-1 .4-1-.1-1 0-1 0-1-.2-1 0-1 .3-1-.3-1 .1-1 0-1-.1-1 .1-1 0-1 .1-1-.1-1 0-1 .1-1-.2-1 .2-1 0-1 .1-1-.1-1 0-1-.2-1 0-1 .5-1 .3-1-.4-1-.2-1-.3-1 .3-1-.3-1 .2-1 .3-1 .1-1-.4-1 0-1 .2-1 .1-1-.2-1-.1-1 0-1-.1-1 .1-1 0-1-.1-1 .1-1 0-1 .3-1-.2-1-.1-1 .2-1-.3-1 .1-1 0-1 0-1-.1-1 .1-1-.1-1 .1-1-.1-1 .1-1 0-1 .1-1 .3-1 .4-1-.6-1-.1-1 0-1 0-1-.2-1 .2-1-.1-1-.1-1 .1-1-.1-1 .2-1 .1-1-.2-1 .2-1-.3-1 .1-1-.1-1 .1-1 0-1 0-1 .2-1-.2-1 .2-1-.2-1 .1-1 0-1-.1-1-.1-1 .1-1 .1-1 0-1-.1-1 0-1 .1-1-.1-1 0-1 0-1 .1-1-.2-1 .2-1-.1-1 .2-1 0-1-.1-1-.1-1 .2-1-.3-1 .2-1-.1-1 .3-1-.2-1-.2-1 .1-1 .1-1 .2-1 .3-1-.3-1-.2-1 .2-1-.3-1 .3-1-.2-1 .1-1-.3-1 .2-1-.1-1 .1-1 0-1 0-1 .1-1 .2-1 0-1 .2-1-.5-1 .1-1 .1-1 .2-1-.2-1-.1-1 .3-1-.1-1-.3-1 .2-1 .5-1-.5-1-.3-1 .5-1-.2-1-.1-1-.2-1-.2-1 .1-1 .1-1-.1-1 .1-1 .1-1-.1-1-.1-1 0-1 .1-1-.1-1 .2-1 0-1 .1-1-.2-1-.1-1 .2-1 .3-1-.4-1 0-1 .5-1 0-1 .1-1-.2-1-.4-1 .1-1 .1-1 .4-1-.3-1-.3-1 .2-1-.2-1 0-1-.1-1 .1-1-.1-1 .3-1-.2-1 0-1 .2-1-.2-1 .1-1-.1-1 .1-1 0-1-.1-1 .9-1-.6-1 .3-1-.4-1-.1-1-.1-1 0-1 .1-1-.1-1 .1-1 0-1 0-1-.1-1 0-1 .1-1-.1-1 .2-1-.3-1 .2-1-.3-1 .4-1 .2-1 0-1-.2-1-.1-1-.2-1 0-1 .1-1 0-1 0-1-.1-1 .2-1 0-1-.2-1 0-1 .2-1 0-1 0-1-.1-1 0-1 .1-1 0-1-.1-1 .2-1 0-1-.3-1 .2-1-.2-1 .3-1 0-1 .3-1-.5-1 .4-1-.3-1-.1-1 .1-1 0-1-.1-1 .1-1-.1-1 0-1-.1-1 0-1 .1-1 .1-1 0-1-.1-1 .3-1-.3-1 .2-1 .3-1 0-1-.1-1-.2-1 .2-1-.3-1-.1-1-.2-1 .3-1-.1-1-.2-1 .5-1-.4-1 .3-1-.1-1 0-1-.1-1 0-1 0-1 .1-1 .4-1 0-1-.4-1 0-1-.1-1 .1-1 .1-1 .2-1-.2-1-.1-1-.2-1 .1-1 0-1 .4-1-.1-1 .2-1-.1-1-.4-1 0-1-.1-1 .2-1-.1-1 .2-1 0-1-.2-1 .1-1-.1-1 0-1 0-1 0-1 .1-1 0-1 .1-1-.3-1 .1-1-.1-1 .1-1 .1-1-.2-1 .2-1-.2-1 .1-1 .3-1-.2-1 0-1-.1-1-.1-1 .1-1 0-1 .1-1 .1-1-.2-1-.1-1 0-1 .3-1-.2-1 .1-1 0-1-.2-1 .2-1 0-1 .2-1 .6-1-.6-1-.3-1-.1-1 .5-1-.4-1 .3-1 .4-1-.5-1-.2-1-.1-1 .2-1 .1-1-.3-1 .3-1-.2-1-.1-1 .1-1 0-1 .1-1-.1-1 0-1 .1-1-.2-1 0-1 .1-1 .2-1-.1-1-.1-1 0-1 .1-1 .3-1-.4-1 .1-1-.1-1 0-1 .1-1-.2-1 .1-1 .2-1-.2-1 0-1-.1-1 0-1 .1-1 0-1 0-1 .2-1-.1-1-.2-1 .3-1 .3-1-.4-1 0-1 0-1-.1-1 0-1 .2-1 .1-1 .5-1-.5-1-.1-1-.2-1 .2-1-.1-1 0-1-.1-1 0-1 0-1-.1-1 .3-1 0-1-.3-1-.1-1 .1-1 .1-1 .1-1 .5-1-.5-1-.2-1 .1-1 0-1 .4-1-.3-1 0-1-.2-1 .2-1-.1-1 0-1-.1-1 .1-1 .2-1-.2-1-.1-1-.1-1 .2-1 .1-1 .1-1-.2-1 .5-1-.5-1-.2-1 .2-1-.1-1 .1-1-.1-1 0-1 .3-1-.2-1-.1-1 0-1 .2-1 .2-1 .2-1-.3-1-.1-1 0-1 0-1 .2-1 .5-1-.2-1-.5-1-.1-1-.1-1 .1-1 .1-1 .1-1 0-1-.4-1 .2-1 0-1-.1-1 .1-1 0-1 .3-1 0-1 .9-1-.5-1-.5-1-.1-1 0-1-.1-1 .2-1 .1-1-.1-1-.1-1 0-1-.1-1 .1-1 .4-1-.2-1-.1-1 .2-1-.3-1 0-1-.2-1 .1-1 0-1 0-1-.1-1 .4-1 .3-1-.4-1-.3-1 .3-1 0-1 .1-1-.1-1-.2-1 .2-1 .3-1 .2-1 .1-1-.7-1-.2-1 0-1 .2-1 0-1 .1-1 .2-1 .1-1-.2-1-.3-1 0-1 0-1 0-1 0-1 .1-1 .1-1-.1-1-.1-1 .1-1-.1-1-.1-1 .2-1-.1-1 .1-1 .4-1 .3-1 0-1-.3-1-.3-1-.2-1 0-1 .4-1-.5-1 .4-1-.2-1-.3-1 .5-1 .1-1-.3-1 .1-1-.2-1 .1-1 .1-1-.2-1 0-1 .1-1 .2-1 .3-1-.3-1-.2-1 0-1-.1-1 0-1 .1-1 0-1 0-1 .3-1 0-1 0-1-.1-1-.2-1 .2-1-.1-1-.3-1 .2-1-.2-1 .3-1 .1-1 .5-1-.3-1-.4-1-.1-1 .1-1 .2-1-.3-1 0-1 .1-1-.1-1 .2-1-.2-1-.1-1 .4-1 0-1 .1-1-.1-1 .1-1-.3-1-.2-1 .1-1 .1-1 0-1-.1-1 0-1 .1-1-.1-1 .1-1 .1-1 0-1-.3-1 .2-1 .2-1-.3-1 0-1 .1-1 .1-1-.2-1-.1-1 .2-1 0-1 .1-1 .3-1-.2-1-.3-1 .2-1-.3-1 .2-1 0-1-.1-1 .1-1-.1-1 .1-1 0-1 0-1-.2-1 0-1 .2-1 .1-1-.1-1-.1-1 0-1 .1-1 0-1-.1-1 .1-1-.2-1 .1-1 0-1 .3-1-.2-1 .1-1-.1-1-.1-1 0-1 0-1 0-1-.2-1 .2-1 0-1 .1-1-.1-1 0-1 .2-1-.3-1 .1-1 .1-1-.2-1 .4-1 .2-1 .1-1-.4-1-.2-1-.1-1 .2-1-.1-1 .6-1-.3-1-.1-1 .2-1 .2-1 0-1-.5-1-.1-1 .2-1 0-1-.2-1 .2-1-.2-1 0-1 .2-1 .4-1-.4-1-.1-1 0-1-.1-1 0-1-.1-1 .1-1-.1-1 .2-1 .1-1-.2-1-.1-1 .3z"/>
<path fill="#0000ff" d="M138.5 513l1-.1 1-.2 1 .1 1-.1 1-.4 1 .5 1-.1 1 0 1 .1 1 0 1-.2 1 .1 1 0 1 .2 1-.2 1 .2 1-.2 1 .1 1 .1 1 0 1-.1 1 0 1-.2 1 .1 1 0 1 .1 1-.1 1 0 1 .2 1-.1 1 0 1 .1 1-.1 1 0 1-.3 1-.2 1 .1 1 .5 1-.1 1 .1 1-.1 1 .1 1-.3 1 .3 1-.3 1 .3 1-.3 1 .2 1 .1 1 0 1-.1 1 .1 1-.7 1 .2 1 .2 1 .3 1-.2 1-.2 1 .2 1 0 1 0 1 0 1 .1 1 0 1 .1 1-.2 1 .1 1 0 1 .1 1-.3 1 .2 1 0 1-.1 1 .1 1 0 1 .1 1 0 1-.1 1-.1 1 0 1 0 1 0 1-.2 1 .3 1-.2 1 .3 1-.1 1-.1 1 .3 1-.3 1 .1 1 0 1-.2 1 .1 1 .1 1 0 1 0 1 0 1-.1 1 0 1-.6 1 .6 1 0 1 0 1-.2 1 0 1 .2 1 0 1 0 1-.3 1 .2 1 .1 1 0 1 .2 1-.1 1-.1 1 .3 1-.2 1 0 1-.1 1 0 1 .2 1 0 1 .1 1-.2 1-.2 1 .1 1 0 1 .1 1 .1 1-.1 1 0 1-.2 1 .2 1 0 1 0 1 .1 1 .1 1-.2 1-.2 1 .2 1 .1 1-.1 1 0 1 .1 1-.2 1 .1 1 .1 1-.3 1 .3 1-.1 1-.2 1 .3 1 0 1-.2 1 0 1 .1 1 .1 1 0 1-.2 1 0 1-.1 1 .1 1 .1 1 0 1 0 1 0 1 .1 1-.1 1 0 1-.1 1 .1 1-.1 1 .1 1-.1 1 .1 1-.1 1 .1 1 0 1 .1 1-.1 1-.1 1 .2 1 0 1-.1 1 0 1 0 1-.2 1 .3 1-.3 1 .2 1 .1 1 0 1-.1 1 0 1 0 1 0 1 .2 1-.4 1 .3 1-.2 1 0 1 .2 1-.1 1 0 1 0 1 .2 1-.4 1 0 1-.1 1 0 1 .4 1-.1 1 0 1 0 1-.5 1-.3 1 .8 1 .1 1 0 1-.2 1 .2 1-.3 1 .2 1 .1 1-.3 1 .3 1-.1 1 0 1 0 1 .1 1-.2 1 .2 1-.2 1 .1 1 0 1 .1 1-.1 1 0 1 .1 1-.2 1 0 1 .1 1-.3 1 .1 1 .2 1-.1 1 0 1 .2 1-.1 1-.1 1 .2 1-.1 1 0 1 .1 1 0 1-.6 1 .6 1-.1 1 0 1 0 1 0 1 0 1 0 1 0 1 0 1 .2 1-.2 1 0 1 .1 1-.1 1-.1 1 .1 1 .2 1-.7 1 0 1 0 1 0 1 .3 1 .3 1-.2 1 .2 1-.2 1 0 1-.1 1 .2 1-.1 1-.1 1 .2 1 0 1 .1 1 0 1-.1 1 0 1 .2 1-.5 1-.1 1-.3 1 .6 1 .1 1 .1 1-.1 1 0 1 0 1 .1 1-.5 1 .1 1 0 1-.2 1 .2 1 .2 1-.1 1 .3 1-.1 1 .1 1-.1 1 .1 1-.3 1 .3 1-.2 1 0 1 0 1 0 1 .3 1-.2 1-.1 1 .2 1 0 1-.2 1 .2 1-.1 1 .1 1-.1 1 .1 1-.1 1 0 1 0 1-.1 1 .1 1 .1 1-.4 1 .3 1-.2 1 .2 1 .1 1-.2 1 0 1 .1 1 .2 1-.4 1 .2 1-.2 1 .2 1 0 1-.1 1 .2 1-.1 1 0 1 0 1 .2 1-.1 1-.1 1 .1 1 0 1-.1 1-.1 1 .1 1 .1 1-.1 1 0 1-.1 1 .1 1-.2 1 .1 1-.1 1 0 1 .2 1 .1 1-.3 1 .1 1-.2 1 .3 1 .1 1 0 1 0 1-.1 1 0 1 0 1 0 1 .1 1 0 1-.3 1 .2 1-.1 1 .1 1 0 1 .1 1-.2 1 .2 1-.1 1-.4 1 .1 1 .3 1 0 1 .1 1-.1 1-.1 1 .1 1-.1 1 .1 1-.2 1 .1 1 .1 1-.4 1 0 1 0 1-.1 1 .5 1-.1 1 .1 1 0 1-.2 1 .3 1-.1 1 0 1 .1 1-.2 1 .2 1 0 1-.1 1 0 1-.2 1-.2 1 .1 1-.2 1 .4 1-.1 1 .2 1-.1 1 .2 1-.1 1 0 1 0 1-.7 1 .3 1 .3 1 .2 1-.2 1 .1 1-.3 1 .2 1 0 1 .1 1-.2 1 .3 1-.1 1-.3 1 .3 1 .1 1 0 1-.2 1 0 1 .2 1-.1 1-.5 1 0 1 .3 1 0 1 0 1 .3 1-.2 1 .1 1 .1 1-.1 1-.1 1 .2 1 .1 1-.2 1-.1 1 .1 1 .1 1-.1 1 .2 1-.2 1-.3 1 .2 1 .2 1-.2 1 .2 1-.2 1-.1 1 .2 1 0 1-.1 1 .1 1 0 1 .1 1-.1 1 0 1-.2 1 0 1 .2 1-.2 1 .3 1-.1 1-.2 1 .2 1 0 1 0 1-.2 1 0 1 0 1 .3 1-.1 1 0 1 0 1 0 1 0 1 .2 1-.3 1-.3 1-.2 1 .6 1-.2 1 .3 1-.2 1 .1 1 .1 1-.1 1-.1 1-.1 1 .2 1 0 1-.1 1 0 1 .2 1-.1 1 .2 1-.3 1 .1 1 0 1 0 1 0 1 0 1 0 1 0 1 0 1 .1 1 0 1-.2 1 .2 1-.1 1 .1 1 .1 1 0 1-.3 1 .2 1 0 1-.1 1 0 1 0 1-.1 1 .2 1 0 1-.1 1-.5 1 .6 1 0 1-.2 1 0 1 .2 1-.1 1-.1 1 .1 1 .2 1-.2 1-.2 1-.2 1 .5 1 0 1-.1 1-.2 1 .1 1 .1 1-.2 1 .3 1-.2 1-.3 1 .3 1 .2 1-.1 1 0 1 0 1 0 1 0 1 0 1 .2 1-.1 1-.3 1 0 1 .4 1-.5 1-.3 1 .6 1 .1 1-.1 1-.1 1 .2 1-.1 1-.1 1 .2 1-.4 1 .3 1 0 1-.1 1 .1 1-.2 1 0 1-.4 1 .4 1 .2 1 0 1 .2 1-.2 1-.2 1 .2 1-.1 1 0 1 .1 1 0 1 0 1 0 1 .2 1-.2 1-.2 1 0 1 .4 1-.1 1-.1 1-.1 1 .3 1 0 1-.3 1 .2 1 0 1-.2 1 0 1 0 1 .1 1-.2 1 .2 1 .1 1-.3 1 .3 1-.1 1-.4 1-.1 1 .2 1-.1 1 .2 1 .2 1-.3 1 .4 1 0 1-.1 1 0 1 0 1-.1 1 .1 1 0 1 0 1-.1 1 0 1 0 1 0 1 .2 1-.1 1 0 1 .1 1-.2 1-.1 1 .2 1-.1 1 0 1 .1 1 .1 1-.1 1 0 1 .1 1-.1 1-.1 1 .1 1-.1 1 .2 1-.1 1-.2 1 0 1 .1 1 0 1 .2 1 0 1-.3 1-.3 1 .4 1 .1 1 .2 1-.1 1-.1 1 .1 1 0 1-.4 1 0 1 .2 1-.1 1 .1 1 .1 1 .2 1-.3 1 .2 1 0 1 .1 1-.4 1 .2 1 0 1-.1 1 .1 1-.2 1 .2 1-.1 1 .1 1 0 1 0 1-.1 1-.1 1 .1 1-.1 1 .2 1-.2 1 .2 1-.2 1 .1 1 .2 1-.1 1 0 1 .1 1 0 1-.1 1-.2 1 .4 1-.4 1 0 1 .2 1 .1 1 0 1 0 1-.4 1 .4 1-.2 1-.1 1 .2 1 .1 1 0 1-.2 1 0 1 0 1 .2 1-.1 1 0 1 0 1 0 1 0 1 0 1 0 1-.1 1 .1 1 0 1-.2 1 .1 1-.3 1 .3 1-.8 1 .1 1 .6 1 .2 1-.2 1 .1 1 0 1 .1 1-.1 1 .3 1-.2 1-.1 1 .2 1-.4 1 .2 1 .2 1-.3 1 .1 1-.1 1 0 1 .1 1 .1 1 0 1 0 1 0 1-.1 1 .2 1-.3 1-.6 1 .6 1 .1 1-.1 1 0 1 0 1-.2 1 0 1 .3 1 .1 1-.1 1 .3 1-.2 1 0 1 0 1 0 1 0 1 0 1 0 1 0 1 0 1 .1 1-.1 1 0 1-.3 1 .4 1-.1 1 .2 1-.3 1 .1 1 .2 1-.4 1 .2 1 .2 1-.2 1 0 1 .1 1 .1 1-.1 1-.1 1-.1 1-.1 1 .2 1 .2 1-.1 1-.1 1-.1 1 0 1-.1 1 .1 1 .3 1-.2 1 .1 1 0 1-.1 1-.1 1 .2 1 0 1-.1 1-.1 1-.1 1 .2 1-.1 1 .1 1 .1 1 0 0 2.9-1-.1-1 .1-1-.2-1 .2-1-.2-1 .1-1 0-1 0-1 0-1-.2-1 .3-1 0-1-.2-1 .2-1 0-1-.1-1 0-1 .1-1 0-1-.1-1-.1-1 .3-1-.2-1 .1-1-.2-1 .1-1 .1-1 0-1 0-1-.2-1 .1-1 0-1 .1-1 .1-1-.2-1 .2-1-.2-1 .1-1-.2-1 .1-1 0-1 0-1 .3-1-.4-1 .2-1 .1-1-.3-1 0-1 .1-1 0-1 0-1-.1-1 .2-1-.2-1 .1-1 0-1 .4-1 0-1-.4-1 0-1 .2-1 .1-1-.2-1 .3-1-.1-1 .1-1-.3-1-.3-1 .2-1 0-1 .2-1-.1-1-.2-1 0-1 .2-1-.1-1 0-1 .1-1-.1-1 0-1 0-1 0-1-.1-1 .2-1 0-1-.1-1-.1-1-.1-1 .1-1 .2-1 .3-1 .4-1-.5-1-.3-1 .2-1 0-1 .1-1-.3-1-.1-1 .3-1-.1-1-.2-1 .1-1-.1-1 .2-1-.3-1 .2-1 .3-1-.3-1-.1-1 0-1 .1-1-.2-1 .1-1 .1-1-.1-1 0-1 0-1 .1-1-.1-1 .1-1 .2-1-.2-1-.1-1 .2-1-.2-1 .1-1-.1-1-.1-1 .2-1 0-1 0-1 .2-1-.1-1 .1-1-.2-1 0-1-.1-1-.1-1 .2-1 0-1-.1-1 0-1 0-1 .1-1 .2-1-.3-1 0-1-.1-1 0-1 .1-1 .1-1 0-1 0-1 .1-1-.1-1-.1-1 .1-1-.1-1-.1-1 .1-1 .2-1-.2-1 0-1-.1-1 0-1 .4-1 0-1-.3-1 .2-1 .2-1-.2-1-.3-1 .2-1 0-1-.2-1 .2-1-.1-1 .1-1-.2-1 .2-1 0-1 0-1-.1-1 .3-1-.3-1 .1-1-.1-1 0-1-.1-1 .3-1-.1-1 .1-1-.1-1-.1-1 .2-1-.1-1-.1-1 .3-1-.3-1 .1-1 0-1 0-1-.1-1 0-1 .1-1 0-1-.1-1 .1-1 0-1 0-1 .1-1-.3-1 .2-1 .3-1 .3-1-.2-1-.4-1-.2-1 .1-1 .1-1 0-1-.2-1 .3-1 0-1-.1-1 0-1-.1-1 .1-1 .2-1-.3-1 .2-1-.2-1 0-1 .1-1-.1-1 .1-1 .1-1-.3-1 .1-1 0-1 .1-1-.2-1 .2-1-.2-1 .1-1 .2-1-.1-1 0-1 0-1 .3-1-.5-1 .2-1 .5-1-.1-1-.2-1-.1-1-.2-1 .1-1-.1-1-.1-1 .1-1 .1-1-.1-1 .1-1 .2-1-.2-1 .2-1-.3-1 .1-1 .3-1 0-1-.2-1-.1-1-.2-1 .1-1 .1-1 0-1 .1-1 0-1 .1-1-.2-1 .1-1 0-1 0-1 .4-1-.4-1 0-1-.1-1 0-1 .2-1-.2-1-.1-1 .4-1-.4-1 0-1 0-1 0-1 .1-1 0-1 0-1-.1-1 0-1 .1-1 .1-1-.2-1 .1-1 0-1 0-1 .1-1-.2-1 .1-1-.1-1 .1-1 .1-1-.1-1-.1-1-.1-1 .1-1 .2-1-.3-1 .3-1-.3-1 .1-1 .2-1 0-1-.2-1 .2-1 0-1 .1-1-.2-1 0-1 .1-1 0-1-.2-1 0-1 .1-1 0-1 0-1-.1-1 .1-1-.1-1 0-1-.1-1 .2-1-.2-1 .2-1 0-1 0-1-.2-1 .3-1 .6-1-.6-1-.1-1 0-1 0-1 0-1-.1-1 .1-1 0-1 .1-1-.1-1-.2-1 .2-1-.2-1 .2-1 0-1 0-1 .1-1-.2-1 0-1 .1-1 .2-1 .3-1-.3-1-.1-1 0-1-.3-1 .3-1-.2-1-.1-1 .1-1 .1-1 0-1 .1-1-.1-1 0-1-.2-1 .2-1 0-1-.1-1 .1-1 0-1 .1-1 0-1-.1-1-.1-1 0-1 0-1 0-1 .1-1 .1-1-.2-1 0-1 .2-1 0-1 .3-1 0-1-.4-1 0-1-.1-1 0-1 .3-1-.2-1 0-1-.1-1 .4-1-.4-1 0-1 .1-1 0-1 0-1 0-1-.1-1-.1-1 .2-1 0-1-.1-1 .4-1 .4-1-.8-1 0-1 .2-1-.1-1-.1-1 .2-1 .1-1-.1-1 .3-1 .6-1-.8-1-.1-1 0-1-.2-1 .2-1-.2-1 0-1 .1-1 0-1 .3-1-.4-1 .1-1 0-1 .1-1 0-1-.1-1 .4-1-.1-1 0-1-.1-1 0-1-.3-1 .2-1-.3-1 .3-1-.1-1 0-1 0-1-.1-1 .2-1-.2-1 .7-1 0-1-.7-1 0-1 .1-1 0-1-.1-1 0-1 0-1 .1-1-.1-1 0-1 0-1 0-1 .1-1-.2-1 .1-1 .2-1-.2-1 .1-1-.1-1 .1-1 0-1-.2-1 .1-1 .1-1 .1-1-.2-1-.1-1 0-1 0-1 .2-1-.2-1 .2-1 0-1 0-1-.1-1 .2-1-.1-1-.1-1 .1-1 0-1 0-1 .1-1-.2-1 0-1 .1-1-.1-1-.1-1 .3-1-.2-1 0-1 .1-1-.1-1 0-1-.1-1 0-1 .2-1 .1-1-.2-1-.1-1 .1-1 .3-1-.1-1 .1-1-.2-1 0-1 0-1 0-1 .1-1-.2-1 0-1 .2-1-.2-1 .2-1-.3-1 .2-1 0-1-.2-1 .1-1 .4-1-.3-1 0-1-.1-1 .1-1 0-1 .1-1 .2-1-.3-1-.2-1 .1-1 .2-1 0-1 .5-1-.2-1-.1-1 .1-1-.5-1 .1-1 0-1 0-1 0-1 .2-1-.4-1 .8-1 .1-1-.8-1 .1-1 .1-1-.3-1 .1-1 .2-1 0-1-.1-1-.2-1 .4-1 0-1-.3-1 .2-1-.1-1 0-1-.1-1 0-1-.1-1 .7-1 0-1-.1-1-.4-1 .1-1-.2-1 .2-1-.2-1-.1-1 .3-1-.2-1-.1-1 .1-1 0-1 .1-1-.2-1 .2-1-.2-1 .1-1 .1-1 0-1 0-1-.1-1 .1-1 .1-1-.1-1-.2-1 .2-1-.2-1 .1-1 .2-1-.2-1 0-1 .2-1-.2-1 .2-1 0-1-.2-1 .1-1 0-1 0-1-.1-1 .1-1-.1-1 .1-1-.2-1 .3-1-.2-1 0-1 .1-1-.3-1 .2-1 .1-1 .1-1-.2-1 .3-1-.3-1 .1-1-.1-1 .2-1-.2-1 .8-1-.3-1-.4-1 .2-1-.3-1 .2-1 .2-1 .1-1-.3-1-.2-1 .1-1 0-1-.1-1 .1-1 .1-1 0-1 0-1-.1-1 0-1-.2-1 .2-1-.1-1 .2-1-.3-1 0-1 .2-1-.1-1 .2-1-.2-1 .1-1 0-1-.1-1 .1-1 .3-1-.5-1 .2-1 .2-1 0-1-.3-1 0-1 0-1 0-1 0-1 .2-1 0-1 .1-1-.3-1 .1-1 0-1-.2-1 0-1 .1-1 .1-1 .2-1-.4-1 .2-1-.1-1-.1-1 .2-1-.1-1 .2-1-.3-1 0-1 .2-1-.1-1 0-1 .2-1-.2-1 .3-1-.2-1-.2-1 .2-1 .1-1-.1-1-.1-1 .1-1 0-1-.1-1 .1-1 0-1 0-1-.1-1-.1-1 .5-1-.2-1-.3-1 .3-1 0-1 0-1 0-1 0-1 0-1-.2-1 .1-1 .1-1-.2-1 .3-1-.3-1 0-1 .3-1-.1-1-.3-1 .2-1 .1-1 .2-1-.2-1 .1-1 .2-1-.3-1-.1-1 .3-1 .1-1 0-1-.2-1-.1-1 .1-1 .4-1-.4-1-.3-1 0-1 0-1 .3-1 .1-1-.4-1 .3-1-.2-1-.1-1 .4-1-.2-1-.1-1-.1-1 0-1 .2-1-.1-1-.1-1 0-1 .2-1-.1-1 .2-1-.3-1 .3-1-.3-1-.1-1 .1-1 .1-1 .3-1-.3-1-.1-1 0-1 0-1 .1-1-.1-1 .2-1-.2-1 .1-1 0-1 0-1 .1-1 .1-1-.1-1 0-1-.1-1 .1-1 0-1 .4-1 0-1 0-1-.3-1-.4-1 0-1 .1-1 .2-1-.1-1 .1-1-.1-1 0-1-.1-1 0-1 .1-1-.1-1 .4-1 .2-1-.1-1-.2-1-.1-1-.1-1-.1-1 .1-1 .1-1-.2-1 .2-1-.2-1 0-1 .2-1-.2-1 .1-1 .2-1-.2-1 .1-1-.1-1 .3-1-.4-1 .1-1 .1-1-.3-1 .2-1 0-1-.1-1 .2-1 0-1-.2-1 .2-1 .1-1-.1-1-.1-1 .1-1-.1-1-.1z"/>
<path fill="#008000" d="M138.5 544l1 .1 1 .2 1-.3 1-.6 1 .7 1 .1 1 .1 1 0 1 .1 1-.1 1-.4 1 .3 1-.2 1 .1 1 .2 1 0 1-.2 1-.2 1 .2 1-.2 1 .3 1 0 1 .2 1 0 1 .1 1-.2 1 .2 1-.5 1 .3 1-.7 1 .2 1 .2 1 .3 1 .1 1-.2 1 .1 1 .2 1-.1 1-.1 1-.2 1 .4 1-.1 1-.7 1 .2 1 .2 1 .1 1-.4 1 .3 1 .3 1-.1 1 .1 1 0 1 0 1 0 1-.1 1 .2 1-.3 1 .1 1-.2 1 0 1 .3 1-.1 1 .1 1-.2 1 .2 1-.1 1 .1 1 0 1 0 1 .1 1-.2 1-.1 1 0 1 .2 1 0 1-.4 1 .2 1 .1 1 0 1 .2 1-.1 1 0 1-.2 1 .3 1-.3 1 .2 1 0 1 0 1-.1 1-.1 1 0 1 0 1 .1 1-.1 1 .2 1 .1 1-.4 1 0 1 .2 1-.1 1-.1 1-.3 1 .7 1-.1 1 0 1 0 1-.1 1 .2 1-.2 1 0 1 .1 1 0 1 .1 1-.3 1-.3 1-.2 1 .6 1-.3 1 .3 1 .2 1-.2 1-.2 1 .2 1 0 1-.1 1 .1 1-.5 1 .3 1 .3 1 .1 1-.1 1 0 1 0 1-.3 1 .1 1-.2 1 .1 1 .2 1 0 1 .1 1 0 1 0 1-.2 1-.5 1 0 1 .3 1 .4 1-.2 1 .2 1-.1 1 .1 1-.1 1 0 1 .1 1 0 1 0 1-.1 1-.5 1 .2 1-.5 1 .6 1 0 1 0 1 .1 1-.3 1-.3 1 .5 1 0 1-.6 1 .5 1-.1 1 .2 1-.2 1-.2 1 .2 1 .4 1 0 1-.2 1 .1 1 .1 1-.1 1-.1 1-.4 1 0 1 .4 1 .2 1 .1 1 0 1 0 1-.3 1 0 1-.2 1 .2 1 .3 1 .1 1-.1 1 .1 1-.2 1-.4 1 .1 1-.1 1-.6 1 .8 1-.3 1 .1 1 .3 1 .1 1 0 1 .1 1 0 1-.3 1 .2 1 0 1 .1 1 0 1 0 1-.1 1 0 1-.1 1-.3 1 0 1 0 1-.3 1 .7 1-.2 1 0 1 0 1 .1 1 0 1 .1 1 0 1 .1 1 .1 1-.2 1 .2 1-.2 1 .2 1-.4 1 .2 1 0 1 .1 1 0 1 0 1-.2 1-.1 1 .3 1 0 1-.1 1 .1 1-.3 1 0 1-.2 1 .5 1-.2 1 .1 1 0 1 .2 1-.2 1 .2 1-.2 1 0 1 .1 1-.1 1-.4 1 0 1 .1 1 .4 1 0 1 0 1 0 1 .1 1-.1 1-.2 1-.2 1-.1 1 .2 1 .1 1-.2 1 .2 1 .3 1-.1 1-.2 1 .1 1 .1 1-.3 1 .1 1 .3 1-.1 1-.1 1 .2 1-.4 1 .4 1-.2 1 .2 1-.2 1 0 1-.1 1 .1 1 0 1-.2 1-.3 1 .4 1 .2 1-.1 1 .2 1-.2 1-.1 1 .1 1-.2 1 .1 1 .1 1-.4 1-.1 1 .3 1 .3 1 .1 1-.3 1 .1 1 0 1-.6 1 .3 1 .2 1 0 1 .2 1 0 1 0 1-.2 1 .1 1-.2 1 0 1-.2 1 .4 1 .1 1 0 1-.1 1 0 1 .1 1 .1 1 0 1-.1 1-.2 1 0 1 .2 1-.1 1-.2 1 .2 1 0 1-.2 1-.2 1 .2 1-.1 1 .4 1-.1 1 .1 1-.2 1 .1 1 .1 1-.6 1 .3 1 0 1 .3 1-.2 1 0 1 .2 1-.2 1 .1 1 .1 1 .1 1-.1 1 .1 1-.3 1 .3 1-.1 1-.3 1 .4 1-.2 1-.1 1 .2 1 0 1 .1 1-.1 1-.2 1 .3 1-.3 1 .1 1 .2 1-.1 1-.1 1-.1 1-.4 1-.3 1 .2 1 .4 1 .1 1 .3 1-.2 1 .1 1-.2 1 0 1 0 1-.1 1-.2 1-.1 1 .6 1 .1 1-.1 1-.4 1 0 1 .1 1-.1 1 .4 1-.1 1 0 1 0 1-.2 1 .2 1 .2 1-.4 1 .1 1 .1 1-.1 1 0 1 .2 1-.2 1-.3 1 .3 1 0 1 .2 1-.1 1-.1 1-.1 1 .2 1-.3 1 .4 1 0 1-.1 1 .1 1-.1 1 .1 1-.4 1 .1 1 .1 1 .1 1-.1 1-.3 1 .5 1 0 1-.1 1 .1 1 .1 1 0 1-.1 1 0 1-.3 1 .3 1 0 1-.1 1-.3 1 .3 1 0 1 .1 1-.2 1-.2 1 .2 1 0 1 .2 1-.2 1 .2 1 0 1-.1 1 .1 1 .1 1-.4 1 .3 1 0 1-.1 1 0 1-.1 1-.5 1 .1 1 .1 1 .5 1-.1 1 .1 1-.5 1 .2 1 .2 1-.2 1-.5 1 .1 1 .6 1 0 1-.1 1 .1 1 0 1-.2 1 .2 1 .1 1-.1 1-.1 1 .2 1-.1 1-.1 1-.9 1 .5 1 .3 1 .3 1-.8 1 .6 1 0 1 .2 1-.2 1 .1 1 .1 1-.1 1 0 1 .1 1-.1 1-.5 1 .2 1 .4 1-.2 1-.5 1 .2 1 .4 1 .2 1-.1 1-.2 1 0 1-.6 1 .6 1 .1 1 .1 1-.2 1 .2 1-.3 1 .1 1-.2 1-.1 1 .4 1 .1 1-.2 1 .4 1-.3 1-.1 1-.1 1-.4 1 .5 1-.1 1 .1 1 .1 1 .1 1-.1 1 .1 1 .1 1 0 1-.2 1 0 1 .1 1-.5 1 .5 1-.1 1-.1 1 .2 1-.2 1-.1 1 .2 1 .1 1 0 1 0 1-.2 1-.2 1 0 1 .1 1 .4 1-.1 1-.2 1 .1 1-.1 1 .1 1 .1 1 0 1 0 1 .1 1-.3 1 .1 1 .1 1-.1 1 .1 1-.2 1 .1 1-.6 1 .3 1 .4 1-.1 1 .2 1-.2 1 .1 1-.2 1 .2 1-.3 1 .4 1-.1 1-.2 1-.1 1-.3 1 .6 1 0 1 0 1-.6 1-.5 1 .8 1-.2 1 0 1 .2 1 .3 1-.2 1 0 1 .1 1-.1 1 .2 1-.2 1 .1 1 0 1-.1 1-.5 1-.3 1 .7 1 .2 1 0 1 0 1 .1 1-.2 1-.1 1 .2 1-.2 1-.1 1-.5 1 .2 1 .2 1 .2 1 .2 1-.1 1 0 1-.2 1-.4 1 .3 1 .3 1 .2 1 .1 1 0 1-.1 1 0 1 0 1 .1 1-.1 1 .1 1 0 1-.1 1 0 1 .1 1 0 1-.3 1 .2 1-.1 1-.9 1 .5 1 .3 1 .1 1 0 1-.1 1 0 1 .2 1-.1 1 .1 1-.4 1-.2 1-.1 1 .1 1 .4 1 0 1 .1 1 .1 1 .1 1-.2 1 0 1-.2 1 .2 1 0 1 0 1 .1 1-.3 1 .2 1 .1 1 0 1 0 1-.1 1 .1 1-.2 1 .1 1 .1 1-.1 1-.1 1-.2 1-.2 1 .5 1-.1 1 0 1-.2 1-.2 1-.1 1 .3 1 .3 1 .1 1-.4 1 .1 1 .1 1-.5 1 .2 1 .1 1-.2 1 .3 1 .2 1 .1 1-.4 1 .3 1-.1 1 0 1-.2 1 .1 1-.1 1 0 1 .2 1 .2 1-.1 1 .1 1 0 1 0 1 0 1-.2 1 .1 1-.2 1 .3 1-.4 1 .4 1-.1 1 .1 1-.1 1-.1 1 .1 1-.2 1-.3 1 .3 1 .1 1 .2 1-.3 1 .1 1 .1 1-.1 1 .3 1-.1 1 0 1-.1 1 0 1 0 1-.1 1 0 1 0 1 .1 1-.8 1 .1 1 .4 1 0 1 .2 1-.1 1 .2 1-.5 1 .3 1-.1 1 .1 1 .3 1-.2 1 .2 1-.2 1 .1 1 .1 1 0 1 0 1 0 1-.2 1 .1 1-.3 1 .3 1-.1 1 0 1 .1 1-.1 1 0 1-.2 1 .3 1 .2 1-.2 1 .2 1-.4 1 0 1 0 1-.2 1 .4 1 .2 1-.2 1-.1 1 .1 1-.1 1 .3 1-.1 1-.1 1 .1 1-.1 1-.1 1 0 1 0 1 .1 1-.2 1 .2 1 .1 1-.2 1 .1 1-.2 1-.4 1 .5 1-.1 1 0 1 .1 1-.1 1 .2 1-.2 1 .4 1-.1 1-.1 1 0 1 0 1 .1 1 0 1 0 1 0 1 0 1 0 1 0 1 .1 1-.1 1-.1 1-.3 1 .3 1 0 1 0 1-.5 1-.2 1 .5 1-.5 1 .3 1 .2 1 .3 1 .1 1-.1 1-.1 1 .1 1 0 1-.3 1 .4 1-.2 1 0 1-.2 1 .1 1 .3 0 2.8-1 .4-1-.2-1-.2-1-.1-1 0-1 .1-1 0-1-.3-1 .1-1 .1-1 0-1 .2-1 .1-1 0-1 .2-1 0-1 .1-1 .1-1-.6-1 .2-1-.4-1 .2-1 .2-1-.2-1-.1-1-.1-1 .1-1-.1-1 .1-1-.1-1 .1-1 0-1 0-1 .2-1-.3-1 .3-1-.2-1 0-1 0-1 .1-1 .1-1 .5-1-.4-1 .1-1 .4-1-.3-1-.3-1 0-1 .1-1-.3-1 0-1 0-1-.1-1-.1-1 .1-1-.1-1 .1-1 .1-1 .3-1-.4-1 .3-1-.2-1 0-1 .1-1 0-1 .2-1-.1-1 .2-1-.4-1-.1-1 .2-1 .1-1-.2-1 .1-1 .5-1 .1-1-.6-1 0-1-.2-1 .2-1-.2-1-.1-1 .5-1-.4-1-.1-1 .6-1-.5-1 0-1 .1-1 .1-1-.2-1 0-1 .1-1 0-1 0-1 .4-1 .1-1-.2-1-.3-1 .2-1 .5-1 0-1 .3-1-.8-1-.2-1 .1-1 0-1-.1-1 0-1 0-1-.1-1 .1-1 0-1-.1-1 0-1 .1-1 .2-1-.2-1 0-1 .2-1 .1-1 .3-1 0-1-.4-1-.1-1-.1-1 .6-1-.4-1 0-1-.2-1-.1-1 .2-1-.2-1 0-1 .2-1-.1-1 0-1 .2-1-.1-1-.1-1 .2-1 .2-1 .3-1-.4-1 .3-1-.4-1-.2-1 .2-1-.3-1 .1-1 .1-1 .4-1 .1-1-.4-1 .3-1-.2-1-.1-1-.3-1 .3-1-.1-1 .1-1 .4-1 .1-1 .1-1-.5-1-.2-1 0-1 .2-1 .5-1-.2-1-.3-1-.2-1-.1-1 0-1 0-1-.2-1 .1-1 0-1 .1-1 .1-1-.1-1-.1-1 .2-1-.2-1-.1-1 .3-1-.1-1 .1-1 0-1 0-1-.1-1 .1-1 .1-1 0-1 .3-1-.1-1 .3-1-.4-1-.2-1-.1-1 0-1-.1-1 .1-1 0-1 0-1 .2-1 .2-1 .4-1-.2-1-.2-1-.3-1-.1-1 0-1-.1-1 .3-1-.3-1 .1-1 0-1 0-1 .1-1-.1-1 .2-1-.1-1-.1-1 .1-1 0-1 .5-1 .1-1-.4-1-.1-1-.3-1 .2-1-.1-1 .1-1 .3-1 .2-1 0-1-.4-1 0-1-.4-1 .3-1-.2-1 0-1 .2-1 .2-1 .1-1 .1-1-.1-1-.1-1-.2-1 .1-1-.3-1 .1-1 0-1-.2-1 .1-1 .2-1 .3-1 0-1-.1-1 .1-1 .1-1-.2-1 0-1-.2-1-.1-1 0-1 .2-1 .2-1-.5-1 0-1 .1-1 .1-1 .3-1-.4-1 0-1 .1-1-.3-1 .3-1-.1-1 .3-1-.2-1-.2-1 0-1 0-1 .2-1 .1-1-.2-1-.1-1 .1-1 .1-1-.1-1 0-1-.1-1 .2-1-.1-1 0-1-.1-1 .3-1 .1-1 .2-1-.1-1-.3-1 .1-1-.2-1 0-1-.1-1 .2-1-.1-1-.1-1 .1-1 .1-1-.2-1 .1-1 0-1 .1-1 .1-1-.2-1 .2-1-.2-1-.1-1 .2-1-.2-1 .4-1-.1-1-.2-1 .4-1 0-1-.4-1 .1-1 .2-1-.2-1-.1-1 .2-1 .2-1-.3-1-.2-1 0-1 0-1 .1-1 .1-1 .2-1-.1-1 .5-1-.4-1 .1-1 0-1-.4-1 .2-1 .1-1 0-1-.3-1 0-1 .3-1 .1-1-.4-1 0-1 0-1 .3-1-.1-1-.3-1 0-1 .1-1 0-1 .4-1 0-1-.5-1 .3-1 .4-1 .2-1-.6-1 0-1-.1-1 .1-1-.1-1 0-1-.1-1 .1-1-.1-1 0-1-.2-1 .2-1 .2-1 .2-1 .3-1-.2-1-.5-1 .4-1 0-1-.2-1-.2-1 0-1 0-1 .5-1 .2-1-.4-1-.2-1 0-1-.2-1 .2-1 0-1-.2-1 0-1 .2-1 .1-1-.3-1 0-1 .1-1 0-1 .1-1 .1-1 .1-1-.2-1 .2-1-.3-1 0-1-.1-1 .3-1-.2-1 0-1 .1-1-.2-1 .1-1-.1-1 .1-1 0-1-.1-1 0-1 .3-1 .1-1-.2-1 .1-1 0-1 .4-1-.6-1-.1-1 .1-1 0-1 .1-1 .1-1 0-1 .1-1-.1-1 .2-1-.1-1-.4-1 .4-1-.1-1 .5-1-.5-1 0-1-.2-1 0-1 0-1 0-1 0-1 .1-1-.1-1 .2-1 0-1-.3-1 .1-1 0-1-.1-1 .3-1 .6-1-.5-1-.3-1 .2-1-.1-1 .2-1 .1-1-.1-1-.4-1 .1-1 .2-1 .1-1-.4-1 .1-1 .2-1 .1-1 .1-1 .8-1-.8-1-.1-1-.1-1-.2-1-.1-1 0-1 .2-1 .4-1-.4-1-.2-1 .2-1-.3-1 .3-1-.1-1 .1-1-.1-1 .1-1 0-1 0-1-.1-1-.1-1 .1-1-.1-1 .2-1-.2-1 .2-1-.1-1 0-1 0-1 .2-1 .2-1 .1-1-.1-1-.4-1 0-1 0-1 .1-1-.1-1 0-1 .1-1 .3-1 .4-1-.6-1-.1-1 .2-1-.2-1 .1-1-.3-1 .4-1-.3-1 0-1-.2-1 .2-1-.1-1 .4-1-.2-1-.1-1 .2-1-.1-1 .5-1 .1-1-.7-1-.1-1 .1-1 0-1 .1-1 0-1 0-1 .4-1-.2-1 .4-1-.7-1-.1-1 .1-1 .1-1-.1-1 .2-1 0-1 0-1 .1-1-.2-1-.1-1 .1-1 0-1-.1-1 0-1 .2-1-.3-1 .3-1 .1-1 .1-1-.2-1-.2-1 .1-1-.1-1 0-1 0-1 .1-1-.2-1 .1-1-.2-1 .1-1-.1-1 .4-1-.2-1 .1-1-.3-1 .3-1-.1-1-.1-1 .1-1 .1-1 0-1 .1-1-.1-1 .2-1 0-1-.1-1-.1-1-.1-1 0-1-.1-1 .2-1-.2-1 .1-1 .7-1-.4-1-.1-1-.1-1-.2-1 .1-1 0-1-.1-1 .2-1-.1-1-.2-1 .3-1 0-1 .1-1 .1-1-.4-1 .3-1 0-1-.2-1 .1-1-.2-1 .1-1-.1-1 .1-1 0-1 .1-1-.1-1 .3-1-.2-1 .2-1-.2-1-.1-1-.1-1 .1-1-.1-1 .1-1 .2-1 .1-1 .1-1-.2-1-.2-1 0-1 .8-1-.1-1-.4-1 .5-1-.6-1-.3-1 .1-1 0-1 0-1 .1-1 0-1 .2-1 0-1-.1-1-.2-1 0-1 0-1 .4-1 .4-1-.2-1-.3-1 0-1 .3-1-.1-1-.3-1-.2-1-.1-1 .2-1 0-1-.1-1 .1-1 0-1 .4-1-.6-1 0-1 .1-1 0-1 0-1 .2-1 .9-1-.3-1-.7-1 .2-1 .2-1-.2-1-.2-1-.2-1 .2-1 .2-1 .1-1 .1-1 .1-1 .1-1-.3-1 .2-1 0-1-.4-1 .4-1-.1-1-.3-1 .2-1 .2-1-.1-1-.3-1 .4-1-.3-1-.2-1-.2-1 .1-1 .1-1-.2-1 .2-1-.1-1 0-1-.1-1 .1-1 0-1 .5-1 0-1 .1-1-.5-1-.1-1 0-1 0-1 .2-1 0-1-.1-1 0-1 .1-1-.2-1 .3-1-.4-1 .2-1-.2-1 .2-1 .3-1 .5-1-.7-1 .1-1-.1-1-.1-1-.1-1-.2-1 .2-1 .1-1-.1-1 0-1 .8-1-.3-1-.3-1 0-1-.2-1 0-1-.1-1 0-1 .1-1-.2-1 .3-1 0-1-.1-1 .1-1 .3-1 .1-1-.2-1-.1-1 .3-1-.3-1-.1-1-.2-1 .3-1-.2-1 .1-1 0-1-.2-1 .2-1-.2-1 .1-1 .1-1-.1-1 0-1 .2-1-.1-1-.2-1 .2-1-.1-1 .1-1-.1-1 0-1 .1-1 0-1 0-1-.1-1 0-1 .1-1-.1-1 .2-1-.3-1 .1-1 .1-1-.2-1 0-1 .3-1-.1-1 0-1 .3-1-.3-1 .1-1 0-1-.4-1 .2-1 .1-1 .1-1-.3-1 .3-1-.2-1 .4-1 0-1-.1-1-.1-1 .1-1 0-1-.1-1-.2-1 .1-1-.1-1 0-1 0-1 .2-1-.1-1 0-1 .2-1 .3-1 .1-1-.3-1-.1-1-.3-1-.1-1 .1-1 0-1-.1-1 .1-1 0-1 .2-1 .1-1 0-1 .4-1-.6-1 .1-1-.1-1 .2-1 .1-1-.3-1 .5-1-.5-1 0-1-.1-1 .2-1 .2-1 0-1 .1-1-.3-1 .1-1 .3-1-.3z"/>
<path fill="#000000" d="M138.5 575.7l1 0 1 0 1 0 1 .1 1-.2 1 0 1 .2 1 0 1-.1 1-.1 1 .2 1-.1 1-.1 1 .1 1-.1 1 .1 1-.2 1 0 1 .3 1-.2 1 .2 1-.2 1 .2 1 0 1-.3 1 0 1 .4 1-.4 1 .3 1 .2 1-.4 1 .1 1-.1 1 .2 1 0 1-.1 1 .1 1 0 1-.1 1-.2 1 .1 1 .2 1-.2 1 0 1 .1 1-.2 1-.1 1 .2 1 .2 1-.4 1 .5 1-.1 1 0 1 .1 1-.4 1 .3 1 0 1-.3 1 .1 1 .2 1-.1 1 0 1 0 1 0 1-.1 1 .2 1 0 1-.1 1 .1 1-.3 1 .4 1-.1 1-.3 1 .2 1 .1 1-.1 1 0 1 0 1 .1 1-.1 1-.2 1-.1 1 .2 1 .2 1-.3 1 .2 1-.1 1 .2 1-.2 1 .2 1 0 1-.2 1 .3 1 0 1-.2 1 0 1 0 1 0 1-.1 1 .1 1-.1 1 .2 1 0 1 0 1 0 1-.2 1 0 1-.2 1 .3 1 0 1-.2 1-.1 1 .1 1 .5 1-.3 1 0 1 .1 1-.1 1 0 1 .1 1-.2 1 0 1 0 1 .1 1-.1 1 0 1-.1 1 .3 1-.2 1-.1 1 .4 1-.3 1 .2 1-.1 1 .1 1-.1 1 .1 1-.2 1 .2 1 0 1-.3 1 .3 1-.2 1 .2 1 .2 1-.2 1-.2 1 .2 1-.4 1 .3 1 .1 1-.2 1 .3 1-.1 1-.1 1 .1 1-.2 1 .2 1-.3 1 .3 1-.2 1 .1 1 .1 1 .1 1-.2 1 .1 1 0 1 .1 1-.3 1 .2 1 0 1-.1 1 .1 1 .1 1-.1 1-.2 1 0 1 .1 1 .1 1 0 1 0 1 .1 1-.1 1-.4 1 .1 1-.1 1 .1 1 .1 1-.1 1 .3 1 .2 1-.3 1-.2 1 .2 1-.2 1-.3 1 .6 1-.1 1 .1 1-.2 1 .2 1-.3 1-.3 1 .5 1-.1 1-.3 1 .2 1 0 1 .2 1 .2 1-.4 1 .3 1 .2 1-.2 1-.1 1 .2 1-.4 1 .1 1 .1 1-.3 1 .4 1 .2 1-.2 1-.1 1-.3 1 .2 1 .1 1-.1 1 .3 1-.3 1 .1 1 .3 1-.2 1 .2 1-.4 1-.2 1 .3 1 0 1-.1 1 .1 1 .1 1-.2 1 .2 1 0 1 .1 1-.3 1 .1 1 .1 1 .1 1-.4 1 .1 1 .2 1 .1 1-.2 1-.1 1 .1 1-.3 1 .5 1 0 1-.2 1-.1 1 0 1-.2 1-.3 1 .8 1-.2 1 .2 1-.1 1 0 1 .1 1-.6 1 .4 1 0 1 .1 1-.2 1 .1 1 .2 1-.4 1 .3 1-.2 1-.2 1 .2 1 .3 1 0 1-.2 1-.1 1 .2 1-.1 1 .2 1-.3 1 0 1 .1 1 0 1-.1 1 .1 1-.2 1 .1 1 .3 1-.4 1 .3 1 0 1 0 1 .1 1 0 1-.2 1 .1 1 0 1-.1 1 0 1 .1 1 0 1-.1 1-.3 1 .2 1 .2 1 0 1-.2 1 .2 1 0 1-.2 1 0 1 .1 1-.1 1 0 1 .1 1-.3 1 .4 1-.2 1 .2 1-.1 1-.1 1 0 1-.2 1 .5 1-.2 1-.1 1 0 1 0 1 0 1-.6 1 .8 1-.1 1-.2 1 0 1 .3 1 0 1 .1 1-.1 1 .1 1-.3 1 0 1 0 1-.1 1 .1 1 0 1 .3 1-.1 1-.2 1 .1 1 .1 1-.2 1 0 1 0 1 0 1 .1 1 0 1 .1 1 0 1-.2 1 .1 1-.1 1-.1 1 .3 1-.1 1 .1 1 0 1-.3 1 0 1 .4 1-.3 1-.2 1 .3 1 .2 1-.2 1 .1 1-.2 1 0 1 0 1 .3 1-.2 1 0 1 .2 1-.2 1-.1 1 0 1 0 1-.1 1 0 1 .2 1 0 1-.2 1 .1 1 0 1 .2 1 0 1 0 1-.1 1 .1 1-.3 1-.1 1 0 1 .4 1-.1 1-.1 1-.1 1-.2 1 .1 1 .3 1 0 1 0 1 0 1-.1 1 .3 1-.2 1 0 1-.1 1 .1 1-.2 1 .1 1 .2 1-.2 1 0 1 0 1-.1 1 .2 1 .1 1-.5 1 .6 1-.3 1 .1 1-.2 1-.1 1 .4 1-.1 1 .1 1-.3 1 .1 1 .3 1 0 1 0 1-.6 1 .3 1 .2 1-.1 1 .2 1-.3 1 .1 1-.2 1 .1 1-.2 1 .5 1 0 1-.2 1 0 1 .1 1 .1 1-.1 1-.1 1 .1 1 0 1-.2 1 .1 1-.3 1 .2 1 .2 1 .1 1-.5 1 .3 1-.2 1 0 1 .1 1 .1 1 .1 1-.1 1-.1 1 .3 1 0 1-.3 1-.2 1 .4 1-.2 1 .1 1-.3 1 .1 1 .1 1 0 1 .1 1-.1 1 .1 1-.2 1-.1 1 .4 1 .1 1 0 1-.2 1 .1 1-.1 1-.2 1 .4 1 0 1-.1 1 .1 1-.1 1-.2 1 .1 1-.4 1 .4 1 .1 1 .1 1-.1 1 0 1-.2 1 .1 1 .1 1-.2 1 .2 1 0 1-.1 1 .1 1 0 1-.1 1-.1 1 .2 1-.1 1 0 1-.4 1 .5 1-.1 1 .1 1-.2 1 0 1 0 1-.1 1-.1 1 .3 1 .1 1 0 1 0 1-.1 1 .3 1-.7 1 0 1 .2 1 .1 1-.1 1 .3 1-.2 1-.1 1 .1 1 .1 1-.3 1 .4 1-.1 1 0 1 0 1-.1 1 .1 1 0 1 .1 1-.1 1 .1 1-.1 1-.1 1 .1 1 0 1-.2 1 .1 1 .1 1-.3 1 .3 1 .1 1-.1 1-.1 1-.1 1 0 1-.1 1 .3 1-.2 1 .3 1-.1 1-.1 1-.1 1 .3 1-.1 1-.1 1 .1 1 0 1-.1 1 .2 1-.2 1 .1 1 .1 1-.1 1 0 1 .2 1-.3 1 .2 1 0 1 .1 1-.2 1-.1 1 .2 1-.1 1-.1 1 0 1 .2 1-.1 1 0 1 .2 1 0 1-.2 1 .2 1-.2 1 .1 1-.1 1 0 1 0 1 .1 1-.4 1 .2 1 .2 1-.4 1 .3 1 .1 1-.1 1 .1 1 0 1-.1 1 0 1 .2 1-.1 1-.1 1 0 1-.1 1 .1 1 .1 1 0 1-.1 1 .1 1 0 1-.1 1-.1 1 .1 1-.1 1 .2 1-.1 1-.1 1 .2 1-.1 1 .1 1-.1 1 0 1 .1 1-.1 1-.1 1 .2 1-.1 1 0 1 0 1-.1 1 .1 1 .1 1-.1 1 .2 1-.4 1 .4 1-.1 1-.1 1-.2 1 .2 1 .1 1 .1 1-.2 1-.5 1 .4 1-.3 1 .5 1-.2 1 .3 1-.1 1-.1 1-.1 1 0 1-.5 1 .8 1-.9 1 .6 1 .1 1-.1 1 0 1 .1 1 0 1 0 1 0 1-.2 1 .4 1 0 1-.2 1 0 1 0 1 .1 1 0 1-.1 1-.3 1 0 1 .2 1 .1 1 0 1-.2 1 .2 1 0 1 0 1-.1 1 .1 1 0 1-.3 1 .1 1 .1 1 0 1-.1 1 0 1 .2 1-.2 1 .1 1 .3 1-.3 1 .2 1 0 1-.1 1-.2 1 .1 1-.1 1 .3 1 0 1-.2 1-.1 1 .2 1-.3 1 .2 1-.1 1-.2 1 .3 1 .3 1-.1 1 0 1-.1 1 0 1 .2 1-.2 1-.1 1 .1 1 .2 1-.2 1 0 1-.3 1 .4 1-.2 1 .2 1 0 1-.3 1 .3 1 0 1-.1 1 0 1 .1 1-.2 1 .1 1 .1 1 0 1 0 1-.1 1 0 1 0 1 .2 1-.2 1-.1 1 .1 1 0 1 .2 1-.3 1-.1 1 .2 1 .1 1-.1 1 .2 1-.3 1 .3 1 0 1-.1 1 0 1 .2 1-.3 1 .1 1 0 1 .1 1-.1 1-.2 1-.2 1 .2 1-.4 1 .6 1-.1 1 .1 1-.3 1 .2 1 .2 1 0 1-.3 1 .1 1 0 1 0 1-.1 1 .2 1-.2 1 .3 1-.4 1 .1 1-.1 1 .3 1-.3 1 .1 1 .1 1 0 1 0 1 .2 1-.1 1-.3 1-.2 1 .5 1-.1 1 0 1-.2 1 .3 1 .1 1 0 1-.1 1 0 1 0 1-.3 1 0 1 .3 1 0 1-.4 1 .2 1 .4 1-.4 1 .2 1-.1 1-.2 1 .3 1-.1 1-.1 1 .1 1 0 1 0 1 .3 1-.1 1-.1 1-.1 1 0 1 0 1 0 1 .2 1-.1 0 3.2-1-.1-1-.1-1 .2-1-.2-1 .5-1-.5-1 0-1 .1-1 0-1-.1-1 .1-1 0-1-.1-1 0-1 .3-1 0-1-.3-1 .2-1-.1-1 0-1 .1-1-.1-1 .2-1-.2-1-.1-1 .1-1-.1-1 .2-1-.1-1 .1-1 0-1 0-1-.1-1 .1-1 0-1 0-1-.1-1 0-1 0-1 0-1 .2-1-.2-1-.1-1 0-1 .3-1-.1-1 0-1 0-1 .1-1-.2-1 .1-1-.2-1 0-1 0-1 .1-1-.1-1 0-1 .3-1-.2-1 0-1-.1-1 .1-1-.1-1 .1-1 .4-1 .1-1-.6-1 0-1 0-1-.1-1 .4-1-.4-1 .4-1-.2-1 0-1 .1-1-.2-1 .1-1 .1-1-.2-1 .3-1 0-1-.4-1 .4-1-.2-1-.1-1 .1-1 .1-1 0-1-.1-1 .2-1-.2-1 .1-1 0-1 .2-1-.4-1 .2-1-.1-1 .2-1-.1-1-.1-1-.1-1 .1-1 0-1 0-1 .1-1 0-1-.1-1 .1-1 0-1 .2-1-.4-1 .3-1-.3-1 .5-1-.2-1-.2-1 .1-1-.2-1 .4-1-.3-1 .1-1-.2-1 0-1 .1-1 0-1-.1-1 0-1 .1-1 0-1-.1-1 0-1 .2-1-.2-1 .1-1 .1-1-.1-1 0-1 0-1 0-1-.1-1 .1-1-.1-1-.1-1 .1-1 .2-1-.1-1 .3-1-.3-1 .1-1-.2-1 .1-1-.1-1 .1-1 0-1-.2-1 .1-1 .2-1-.1-1 .1-1-.2-1 0-1 .2-1-.1-1-.1-1 .1-1 .1-1-.3-1 .3-1-.2-1 .1-1-.1-1 0-1 .2-1 0-1-.2-1 0-1 .2-1-.1-1 0-1 0-1-.1-1 .1-1 .1-1-.1-1-.2-1 .2-1 0-1 .2-1-.2-1-.1-1 .2-1 0-1 0-1-.2-1 .2-1 .1-1-.2-1-.2-1 .2-1 .1-1-.2-1 .1-1 .1-1-.1-1 .1-1-.1-1-.1-1-.1-1 .2-1 0-1-.2-1 .1-1 0-1 .2-1-.1-1-.1-1 0-1 .2-1 0-1-.1-1 0-1 0-1-.2-1 .3-1 .1-1-.1-1 0-1-.1-1 .1-1 .2-1-.2-1 0-1-.2-1 .1-1 .6-1-.5-1-.1-1 .2-1-.1-1-.2-1 .1-1-.2-1 .1-1 0-1 .3-1-.4-1 .1-1 .1-1 0-1 .2-1-.2-1 .1-1 0-1 0-1 0-1-.1-1 0-1-.1-1 .2-1-.1-1 0-1-.1-1 .4-1-.5-1 .1-1 0-1 .1-1 0-1-.1-1 .3-1-.1-1-.3-1 .4-1-.1-1-.2-1 0-1 .1-1 .1-1 0-1-.2-1 .1-1 0-1 .1-1 .1-1 .2-1-.5-1 0-1 .2-1-.3-1 .1-1 0-1 .4-1-.4-1-.1-1 .3-1-.1-1-.2-1 .3-1 .1-1 0-1-.4-1 .2-1-.1-1 .4-1-.1-1-.4-1 .1-1 0-1 .1-1-.1-1-.1-1 .5-1-.3-1-.1-1 0-1 0-1 .1-1 .1-1 0-1-.3-1 .2-1 .1-1 .1-1-.1-1 0-1 .4-1-.2-1-.2-1-.1-1-.2-1 .1-1 0-1 .4-1-.2-1 0-1-.1-1-.2-1 .3-1-.1-1 .2-1-.1-1 .2-1-.1-1 .2-1-.3-1-.2-1 .3-1-.1-1-.3-1 .3-1-.2-1 .2-1-.2-1 .1-1 0-1 .3-1-.3-1 0-1 0-1 0-1 .1-1-.1-1-.2-1 .3-1-.1-1 .1-1 0-1-.1-1 .1-1-.1-1 .2-1-.2-1 0-1 .4-1-.5-1 .1-1 .1-1 0-1 0-1-.2-1 0-1 .1-1 .1-1-.2-1 .2-1 .3-1-.5-1 .2-1-.2-1 .2-1 .1-1-.2-1-.1-1 .3-1 .1-1-.5-1 .5-1-.2-1-.2-1 0-1 0-1 .2-1 .3-1-.3-1 .1-1-.1-1-.2-1 0-1 0-1 .3-1 0-1-.2-1 .2-1-.4-1 0-1 .6-1-.4-1 .3-1-.2-1 .2-1-.1-1-.3-1 .3-1-.2-1 .1-1 .3-1-.3-1-.1-1-.1-1 0-1 .3-1 0-1-.1-1-.1-1 .2-1-.1-1 0-1-.2-1 .3-1-.2-1 .2-1-.3-1 .1-1 .1-1 .1-1 .1-1-.1-1-.2-1 0-1 0-1 .4-1-.4-1 0-1 .1-1-.2-1 .2-1-.5-1 .3-1 .2-1 0-1-.2-1 .2-1-.2-1 .1-1 .3-1-.4-1 .2-1-.1-1 0-1 .1-1 .1-1-.3-1 .2-1 .4-1-.5-1 .4-1-.2-1-.1-1-.1-1 0-1-.1-1 .1-1 0-1 .1-1-.2-1 .2-1-.2-1 .3-1-.4-1 .4-1-.1-1 .1-1-.1-1 .1-1-.2-1-.2-1 .1-1 .2-1-.1-1-.1-1-.1-1 .3-1-.1-1 .4-1-.3-1-.3-1 .1-1 .3-1-.1-1-.2-1 .4-1-.3-1-.2-1 .2-1-.1-1 .1-1 0-1 .3-1-.4-1 0-1 .5-1-.3-1-.2-1 0-1 0-1 0-1 0-1 0-1 .1-1-.2-1 .2-1 .1-1-.2-1 .2-1-.1-1 0-1 .1-1 0-1-.1-1-.1-1 0-1-.1-1 .3-1-.2-1 .1-1 .1-1-.3-1 .4-1 0-1 .1-1-.3-1 .2-1 .1-1-.3-1 .2-1-.4-1 .4-1 .2-1-.2-1-.1-1 0-1-.1-1 .2-1-.3-1 .2-1-.2-1 .1-1 0-1 .1-1 0-1-.2-1 .1-1 .1-1-.2-1 .1-1-.2-1 .6-1-.4-1 0-1 0-1-.1-1 0-1 0-1 0-1 .1-1 0-1-.3-1 .3-1 .3-1-.4-1 .1-1-.2-1 .2-1 .1-1 .2-1-.3-1 .1-1 0-1-.2-1-.1-1 .2-1-.1-1 .1-1-.1-1 .3-1-.3-1 .3-1-.3-1 .2-1 0-1-.2-1 .3-1-.2-1-.1-1 0-1-.1-1 0-1 .2-1 .1-1-.2-1 0-1 .6-1-.5-1-.1-1 .2-1 0-1-.1-1 0-1 0-1 .1-1 .2-1-.3-1 .2-1-.3-1 .3-1-.1-1 .1-1-.3-1 .1-1 .4-1-.5-1 .2-1-.1-1 .1-1 .2-1-.4-1 .2-1-.2-1 .3-1-.1-1-.2-1 .1-1 .1-1-.1-1 .2-1-.3-1 .1-1 .1-1-.1-1 .1-1-.1-1 .1-1 .1-1-.3-1-.1-1 .3-1-.1-1 0-1 0-1-.1-1 .1-1 0-1 .1-1-.1-1-.1-1 0-1 0-1 0-1 .3-1 0-1 0-1-.1-1 .2-1-.3-1-.1-1 .2-1-.2-1 .1-1 .2-1-.1-1-.2-1 .2-1 0-1-.1-1 0-1 .1-1-.2-1-.1-1 .2-1 0-1 0-1 0-1 0-1-.2-1 .3-1-.3-1 .2-1-.1-1 .4-1-.2-1-.2-1 .1-1 .1-1-.2-1 .3-1-.4-1 .2-1 0-1 .1-1 .5-1-.7-1 0-1 0-1 .1-1 0-1 .4-1-.4-1 .1-1-.1-1 0-1 .1-1 0-1-.1-1-.1-1 .1-1 .1-1-.1-1 0-1 .2-1-.1-1-.2-1 .2-1-.1-1 0-1 0-1 .1-1-.2-1 .1-1 .4-1-.3-1 0-1 .1-1-.2-1-.1-1 .1-1 .2-1 .1-1-.2-1-.1-1-.1-1 .4-1-.1-1-.3-1 .1-1 .2-1-.1-1 0-1-.2-1 .1-1 .2-1 .1-1 0-1 .1-1-.3-1-.2-1 .2-1-.1-1 .2-1-.2-1 .4-1-.5-1 .2-1 .1-1 0-1-.2-1-.1-1 .3-1 0-1-.2-1 0-1 0-1 0-1 .1-1-.3-1 .2-1-.2-1 .2-1-.1-1 0-1 0-1 .1-1-.1-1 .3-1 .1-1-.4-1-.1-1 .2-1-.2-1 .2-1 .1-1-.1-1-.1-1-.1-1 0-1 .2-1-.1-1 .2-1 0-1-.2-1 .1-1 .1-1-.2-1 .2-1 .2-1-.2-1-.1-1 .2-1-.2-1 .1-1 0-1-.3-1 .4-1 0-1-.3-1 0-1 .4-1-.2-1-.2-1 .1-1 0-1 .1-1 0-1 0-1 .1-1-.4-1 .1-1 .2-1-.1-1 .2-1-.3-1 .6-1-.6-1 .2-1-.2-1 .1-1 .2-1-.3-1 .2-1-.2-1 .3-1-.2-1-.1-1 .3-1-.2-1 0-1 .1-1-.1-1 0-1 0-1 .2-1-.2-1-.2-1 .4z"/>
<path fill="#ff0000" d="M138.5 607.4l1 .1 1 .1 1-.2 1 0 1 .1 1 0 1-.3 1-.3 1 .1 1-.3 1 .1 1 .6 1 0 1-.2 1 .1 1 0 1-.9 1 .3 1 .8 1-.3 1 .1 1 .1 1 0 1 0 1 .1 1-.3 1 0 1 0 1 0 1-.1 1-.2 1 .4 1-.4 1-.1 1 .4 1 .2 1 .1 1 .1 1-.2 1 .1 1-.1 1-.2 1 .2 1 0 1 .1 1-.2 1 .1 1 .1 1 .1 1-.2 1-.4 1 .2 1 .1 1 .1 1-.5 1-.2 1 .1 1 .4 1 .3 1-.1 1 0 1 0 1 .2 1-.3 1 .2 1-.3 1 .3 1-.2 1 .1 1 .1 1-.2 1 0 1 0 1-.2 1-.7 1 .4 1 .5 1-.3 1 0 1-.1 1 .3 1 .2 1 0 1 0 1 .1 1-.1 1-.2 1-.1 1-.1 1 .3 1-.6 1 .5 1 .1 1 0 1 .3 1-.3 1-.2 1 .2 1 0 1-.1 1 0 1-.1 1-.3 1 .3 1 .1 1 .1 1 .2 1-.2 1 .2 1 0 1-.3 1 .1 1 .3 1-.2 1 .1 1-.1 1-.1 1 .3 1 0 1-.1 1 0 1 0 1-.2 1 .2 1-.1 1-.1 1 .2 1-.1 1 0 1 .1 1-.2 1 0 1 0 1 .1 1 .1 1-.1 1 .2 1-.3 1-.1 1-.2 1-.2 1 .4 1 .2 1 .1 1-.1 1-.3 1 .1 1 .1 1 0 1 .2 1 0 1-.3 1 .2 1 .1 1-.2 1-.3 1 .4 1 .2 1-.1 1-.1 1 .1 1 0 1-.3 1-.1 1 0 1 .1 1 0 1 .2 1 0 1-.2 1 .4 1-.3 1 .2 1-.3 1 .1 1 .2 1 .1 1 0 1-.1 1-.1 1-.3 1 0 1 0 1-.1 1 .1 1 .4 1 .1 1 0 1 0 1-.1 1-.1 1 0 1-.1 1 0 1-.1 1 .2 1 .1 1 0 1-.1 1-.1 1 .2 1-.2 1-.2 1 .4 1 0 1 0 1-.1 1-.4 1 .5 1 0 1-.1 1-.1 1 .1 1 .1 1 0 1 0 1-.1 1-.1 1 .1 1 .1 1-.1 1 0 1 .1 1 .1 1-.2 1 .2 1-.1 1 .1 1-.1 1-.1 1-.2 1 .1 1-.7 1 .5 1 .2 1 .2 1-.3 1-.4 1 .3 1 .4 1-.2 1-.4 1-.3 1 .1 1 .6 1 0 1 .2 1 0 1 .1 1-.1 1 0 1 0 1 0 1-.1 1 0 1-.1 1 .2 1 0 1 0 1 .1 1-.4 1-.2 1 .3 1 .2 1-.2 1-.3 1-.1 1-.1 1 .6 1-.1 1 .2 1 0 1-.1 1-.1 1-.2 1-.4 1 .1 1 .5 1 .1 1-.4 1 .1 1 .1 1 .2 1 .2 1 0 1-.4 1 0 1 .1 1 0 1-.2 1-.2 1 .2 1-.5 1 .6 1 .1 1-.3 1-.1 1-.6 1 1 1 0 1-.4 1 0 1 .3 1 .3 1 0 1-.1 1-.2 1 0 1 .3 1 0 1-.1 1-.3 1 .1 1-.4 1 .4 1 .1 1 0 1-.2 1 .1 1-.1 1 .2 1-.1 1 .3 1-.2 1-.3 1-.1 1 .3 1 .1 1 0 1-.1 1 .2 1 0 1 .1 1-.1 1 0 1-.2 1-.1 1 .2 1 .1 1 .3 1-.4 1 .2 1 0 1-.3 1 .2 1 0 1 0 1-.1 1-.1 1 .1 1 0 1 .3 1-.2 1 .1 1-.2 1-.3 1-.1 1 .6 1-.1 1 .1 1-.1 1 0 1 0 1 .1 1 0 1 0 1-.1 1 .1 1-.1 1-.1 1-.4 1 .1 1 0 1 .4 1-.7 1 .1 1-.1 1 .6 1-.2 1 .3 1-.1 1 .1 1 .1 1 0 1-.2 1 .1 1 .2 1 0 1-.2 1 .1 1 0 1-.2 1 0 1 .1 1 0 1-.5 1 0 1 .2 1 .3 1 .1 1-.1 1 0 1 .1 1-.1 1-.1 1 0 1-.1 1-.4 1 .4 1-.1 1 .3 1 .2 1-.3 1-.1 1 .3 1-.1 1-.1 1 .4 1-.2 1-.1 1-.1 1 0 1 .3 1-.1 1-.1 1 0 1 0 1 .1 1-.1 1-.1 1 .2 1-.2 1-.5 1 .3 1 .2 1-.4 1-.1 1-.4 1 .5 1 .4 1 0 1 .2 1 0 1-.2 1 .2 1-.2 1 .1 1 .1 1-.1 1-.2 1-.6 1 .2 1 .4 1 0 1 .4 1-.2 1 0 1 0 1 0 1-.1 1 .2 1 0 1-.2 1 .2 1-.1 1 0 1-.5 1-.2 1 .6 1 .3 1-.1 1 .1 1-.3 1 .1 1 0 1 0 1-.4 1-.4 1 .7 1 0 1 .1 1 0 1-.2 1 .1 1 .2 1-.1 1 .1 1 .1 1-.3 1 0 1-.4 1 .3 1 .2 1 0 1 .1 1-.2 1 .2 1-.7 1 .4 1-.3 1 .2 1 .3 1-.1 1 .2 1 .1 1-.4 1 .3 1-.1 1 0 1 0 1 0 1 .1 1-.2 1-.1 1 .2 1 .1 1-.1 1 .1 1-.2 1-.7 1 .3 1-.1 1-.2 1 .6 1 0 1 .2 1-.2 1 .2 1 0 1-.1 1 .1 1 0 1-.3 1 .2 1 .2 1-.2 1 0 1 .2 1-.2 1 0 1 .2 1 .1 1-.2 1-.1 1 .1 1 .1 1-.1 1 0 1 .1 1 0 1-.2 1 .1 1-.1 1-.1 1 .2 1-.1 1 0 1-.3 1 .2 1 .2 1 0 1 .1 1 0 1-.2 1-.2 1 .2 1-.2 1 .1 1 .1 1 .1 1 .2 1-.2 1-.3 1-.2 1 .4 1 .2 1-.2 1 .2 1-.1 1 .1 1 0 1 0 1-.2 1-.1 1-.4 1 .4 1-.3 1-.1 1 .2 1 .2 1 0 1-.1 1 0 1-.1 1 .3 1 .2 1-.2 1 .2 1-.1 1-.5 1 .1 1 .3 1 0 1 .1 1-.1 1 0 1-.1 1 .2 1-.1 1-.3 1-.2 1 .3 1-.2 1 .1 1 .4 1 .1 1 0 1-.1 1 0 1 .1 1 0 1-.4 1 .3 1 .1 1 0 1 0 1-.2 1 0 1 .2 1-.2 1 .3 1-.2 1 .2 1-.2 1 .1 1-.3 1-.1 1 0 1 .3 1 .2 1-.1 1 0 1-.2 1-.1 1 .1 1-.1 1 0 1 .2 1 0 1 0 1 0 1-.3 1-.3 1-.1 1 .6 1 .1 1 0 1-.2 1 .4 1-.3 1 .2 1-.2 1 .1 1 0 1 0 1 .2 1-.4 1-.1 1-.2 1 .3 1 .2 1 0 1 .1 1-.1 1-.1 1 .2 1 .1 1-.2 1 .1 1 0 1-.1 1 0 1 .1 1-.1 1-.2 1 .3 1-.1 1-.1 1 0 1-.2 1 .3 1 0 1 .1 1 0 1-.1 1 0 1-.1 1 .1 1 .1 1-.1 1-.2 1 .4 1 0 1-.2 1 0 1-.1 1 0 1 0 1 0 1-.3 1 .3 1 0 1 0 1 0 1 .1 1 .1 1-.1 1 .1 1 0 1 0 1 .1 1-.5 1 .3 1 0 1-.1 1 .2 1 0 1-.1 1-.7 1 .2 1 .2 1 .3 1-.1 1 .1 1 .1 1 0 1-.1 1 .1 1-.1 1 .2 1-.1 1-.1 1 0 1 .1 1-.2 1 .1 1-.1 1-.4 1 0 1 .4 1 .2 1-.1 1 0 1 0 1 .1 1-.1 1-.2 1 .2 1 0 1 .1 1-.2 1 .2 1-.2 1-.4 1 .1 1-.2 1 .5 1 .2 1-.1 1-.2 1-.1 1 .1 1 .2 1 0 1 0 1-.1 1 .2 1-.2 1 0 1-.4 1 .2 1 .3 1 .1 1 0 1-.1 1 .1 1-.1 1 .1 1-.2 1 .2 1-.1 1 0 1 .1 1 0 1-.1 1 0 1 0 1-.3 1 .1 1-.1 1 .4 1-.7 1-.1 1 .3 1 .3 1-.6 1 .4 1 .4 1-.3 1-.1 1 .1 1 .1 1 .3 1-.2 1 0 1 .1 1-.2 1 0 1 .3 1-.5 .5-.6 .5 0 .5 .5 .5 0 .5 .1 .5 .3 .5 0 .5 .1 .5-.1 .5-.1 .5-.1 .5 0 .5 .1 .5 0 .5 .2 .5-.1 .5-.1 .5 0 .5 0 .5 0 .5 .2 .5-.3 .5 .2 .5-.1 .5-.2 .5-.3 .5 .2 .5 .3 .5 0 .5 .1 .5-.1 .5-.1 .5 0 .5-.1 .5-.1 .5 0 .5-.2 .5 0 .5 .1 .5 .2 .5 .1 .5 .1 .5 0 .5-.1 .5-.2 .5 0 .5 .1 .5 .2 .5 .1 .5 0 .5 .1 .5-.2 .5 0 .5 .1 .5-.1 .5 0 .5-.1 .5-.1 .5 0 .5-.1 .5 0 .5-.2 .5 0 .5 0 .5 0 .5 0 .5 0 .5 0 .5 0 .5 0 .5 0 .5-.1 .5-.1 .5 0 .5-.1 .5-.3 .5-.4 .5-.3 .5 0 .5 0 .5 0 .5 .1 .5 .1 .5 .1 .5 .1 .5-.5 .5-.2 .5 0 .5 0 .5 .2 .5 .2 .5 .2 .5 .2 .5 .1 .5 .2 .5 .1 .5 .2 .5-.1 .5-.1 .5-.1 .5 0 .5 0 .5 0 .5 0 .5 .1 .5 .1 .5 .1 .5 .9 0 2.7-.5 1-.5 .1-.5 0-.5 .1-.5 .1-.5 .1-.5 0-.5 0-.5-.1-.5 0-.5 .1-.5 .2-.5 .3-.5 .2-.5 0-.5 0-.5 0-.5-.2-.5-.2-.5-.2-.5-.1-.5-.1-.5 0-.5 .1-.5 .1-.5 .1-.5 0-.5 0-.5 0-.5-.2-.5-.3-.5-.2-.5-.3-.5 .6-.5 0-.5-.7-.5 0-.5 0-.5-.1-.5 .1-.5 .1-.5 .2-.5 .2-.5 0-.5 0-.5 0-.5 0-.5-.1-.5-.1-.5-.1-.5-.1-.5-.1-.5-.1-.5-.1-.5-.1-.5-.1-.5 0-.5 .3-.5 0-.5 0-.5 .4-.5 0-.5-.3-.5 0-.5-.3-.5-.1-.5 .1-.5 .3-.5 0-.5 .2-.5 0-.5 0-.5-.1-.5 0-.5 0-.5 0-.5-.2-.5 0-.5-.1-.5-.2-.5 .2-.5 .5-.5 0-.5-.5-.5 0-.5 0-.5 0-.5 0-.5-.1-.5-.1-.5 0-.5 0-.5-.2-.5 0-.5 .1-.5 .2-.5 .1-.5 .1-.5 .2-.5 0-.5 0-.5-.1-.5 0-.5 0-.5 0-.5-.2-.5-.1-.5 0-1-.1-1 0-1 .1-1-.1-1 0-1 .2-1-.1-1-.1-1 .3-1 0-1-.2-1-.1-1 .5-1 .1-1-.4-1 .2-1 .1-1-.2-1 .2-1-.3-1 .1-1-.4-1 .2-1 .1-1 0-1-.1-1 0-1-.2-1-.1-1 .3-1 0-1-.1-1 0-1 0-1 0-1-.1-1 0-1 .5-1 .1-1-.1-1-.3-1 0-1-.1-1-.2-1 .3-1-.1-1 0-1 .1-1 .5-1-.5-1-.1-1 0-1 .1-1-.1-1 .5-1-.2-1-.3-1 .2-1-.3-1 0-1-.1-1 .6-1-.5-1 0-1 .1-1 .1-1-.2-1 .2-1-.1-1 .2-1 .3-1 0-1-.2-1-.3-1 0-1 0-1 .2-1-.3-1 .1-1 0-1-.1-1 0-1 .2-1-.2-1 .2-1 0-1-.2-1 .1-1 .2-1 .1-1 .3-1-.7-1 0-1 0-1 0-1 0-1 .1-1 .3-1-.1-1-.2-1 0-1-.1-1 0-1 0-1-.1-1 .2-1-.1-1 .2-1 .4-1 .2-1-.6-1-.1-1-.1-1 .1-1-.1-1 .1-1-.1-1 0-1 .2-1 0-1 .1-1 0-1-.2-1 0-1 .1-1-.1-1 .1-1-.2-1 .3-1 .2-1-.3-1 0-1-.1-1-.1-1 .3-1-.1-1 .1-1-.2-1 .1-1 .2-1-.3-1 0-1 .2-1-.3-1 .1-1 0-1-.1-1 .2-1 0-1 .6-1-.5-1 0-1-.2-1 0-1 0-1-.1-1 .2-1 .2-1-.3-1-.2-1 0-1 .3-1 0-1 0-1 .1-1 .2-1 .2-1-.5-1 0-1 0-1-.1-1 0-1 0-1 0-1-.1-1-.1-1 .3-1-.1-1 0-1 .1-1-.2-1 .4-1 .3-1-.1-1-.3-1-.1-1 .1-1-.3-1 .1-1 .1-1-.2-1 0-1 .2-1-.1-1 0-1 0-1-.1-1 .1-1 0-1-.1-1 .2-1-.1-1-.1-1 .2-1 0-1 .4-1-.2-1-.2-1 .2-1 0-1-.3-1 .1-1 0-1-.2-1 .1-1 0-1 .1-1 .3-1 .2-1-.1-1-.3-1-.2-1 .1-1-.2-1 .3-1 0-1 .3-1-.1-1 0-1-.2-1-.1-1 .5-1-.2-1-.2-1 0-1 .1-1-.3-1 .1-1-.1-1 0-1-.1-1 0-1 .2-1 0-1-.1-1 .3-1 .3-1-.7-1 0-1 .1-1 .3-1-.4-1 .4-1-.1-1-.3-1 .2-1-.1-1-.1-1 .2-1 .1-1 .2-1-.2-1 .1-1-.3-1 0-1-.1-1 .5-1-.2-1-.2-1 .4-1-.4-1-.1-1-.1-1 .2-1 .3-1-.4-1 0-1 .1-1 .1-1 0-1-.1-1 .1-1-.1-1 0-1 0-1 .1-1 .1-1-.2-1 0-1 0-1-.1-1 .1-1 .2-1-.1-1-.1-1 .1-1 .2-1 .2-1 .1-1 0-1-.4-1-.3-1 0-1 .1-1 .1-1 0-1 0-1-.2-1 0-1 .1-1-.1-1 0-1 0-1 .1-1-.1-1 .1-1 .4-1-.4-1 .1-1 .2-1 .3-1-.1-1-.6-1 .1-1 0-1 0-1 0-1 .2-1 .1-1 0-1-.1-1-.4-1 .1-1 .2-1-.2-1 .2-1-.1-1 .2-1 0-1 .1-1-.1-1 .1-1 .4-1-.7-1-.1-1 0-1 0-1 .2-1-.1-1 .1-1-.2-1 .6-1-.2-1-.2-1 .1-1-.3-1 0-1 .2-1 .1-1-.2-1 .2-1-.3-1 .1-1 0-1 0-1 .1-1 0-1 .4-1-.1-1 .1-1-.2-1-.4-1 0-1 .1-1 0-1 0-1 .1-1 0-1-.1-1 .2-1 .2-1 .1-1 .1-1-.2-1-.1-1-.3-1 0-1 .2-1-.2-1 .2-1-.2-1 0-1 .1-1 .2-1-.1-1-.1-1-.2-1-.1-1 0-1 .2-1-.2-1 .3-1 0-1 .1-1-.2-1-.1-1 0-1 .2-1-.2-1 .2-1 .6-1-.1-1-.4-1 .1-1-.3-1 0-1-.1-1 0-1 .2-1-.1-1 .2-1-.1-1 .3-1 .6-1-1-1 0-1 0-1-.1-1 .1-1 0-1 0-1 .3-1-.4-1 0-1 .3-1-.4-1 .3-1-.1-1 0-1 0-1 .2-1 .2-1 .5-1-.4-1-.2-1 0-1 0-1 .1-1-.1-1-.2-1-.2-1 .3-1-.3-1 .1-1-.1-1 .1-1 .2-1-.2-1 0-1-.1-1 .2-1 0-1 .2-1-.1-1-.3-1 .2-1-.3-1 .2-1 .1-1-.1-1 0-1 .2-1-.4-1 .2-1 .3-1-.3-1 .1-1-.2-1 .1-1-.2-1 .2-1 .1-1 .3-1-.2-1-.1-1-.2-1 .1-1-.1-1 0-1 0-1 0-1 .2-1-.1-1 .1-1 .1-1-.1-1-.1-1 0-1 0-1 .2-1-.1-1 0-1-.1-1 0-1 .3-1 0-1-.2-1 0-1-.3-1 .2-1 .2-1 .2-1 .2-1-.4-1-.2-1 0-1 .3-1 .3-1 .1-1-.6-1-.1-1 .7-1 .1-1-.3-1-.5-1 .3-1 .6-1-.5-1-.2-1 .3-1-.1-1-.5-1 .2-1-.1-1 0-1 .4-1-.5-1 .2-1 .4-1-.5-1-.1-1 .1-1 .5-1 .3-1-.4-1 .1-1-.5-1 .1-1-.1-1 .2-1 0-1-.1-1 .1-1 .1-1-.2-1-.1-1 .4-1 .3-1-.5-1-.2-1 .1-1-.1-1-.1-1 .2-1-.1-1 .3-1-.3-1-.1-1 0-1 .1-1 .1-1 0-1 0-1 0-1 .1-1 .6-1-.4-1-.2-1 0-1-.2-1 .2-1 0-1-.1-1 .1-1-.1-1 .3-1 .1-1-.1-1-.3-1-.1-1 .1-1 .1-1-.1-1-.2-1 0-1-.1-1 .3-1-.2-1 .1-1 .3-1 0-1-.4-1 0-1 .1-1 0-1 0-1-.1-1 0-1 .1-1 .2-1 0-1-.1-1-.1-1-.1-1 .1-1 0-1 .1-1 .2-1-.2-1-.2-1 0-1 .1-1 .1-1 0-1 .1-1-.3-1-.1-1 .3-1 0-1-.2-1 .1-1 .1-1 0-1-.1-1 .4-1 .4-1-.3-1-.5-1 0-1-.1-1 0-1 .1-1 .1-1-.2-1 .1-1 0-1 .2-1-.2-1 .1-1-.1-1 .1-1-.2-1 .1-1 .3-1 .1-1 .2-1-.4-1 .1-1-.1-1-.1-1-.2-1 .3-1 0-1 .2-1-.3-1-.2-1 .1-1 0-1 0-1-.1-1 .1-1 .1-1 .1-1 .3-1-.3-1-.2-1 .1-1 .1-1 .1-1 0-1-.2-1 0-1-.1-1 .1-1-.2-1 .1-1-.1-1 .2-1-.2-1 .1-1-.1-1 .1-1-.1-1 .2-1-.2-1 .2-1-.2-1 .3-1 0-1-.2-1-.1-1 .1-1 .2-1 .2-1-.4-1 .3-1-.1-1-.2-1 .1-1-.2-1 .1-1 0-1-.1-1-.1-1 .5-1 0-1 .4-1-.1-1-.4-1-.3-1 .1-1 0-1-.1-1 0-1 .2-1 0-1 0-1 .1-1 .1-1-.2-1 .2-1 .2-1-.6-1 .2-1 0-1-.2-1 .1-1 .2-1 .1-1 .2-1 .2-1-.7-1 0-1 .3-1 .1-1 .2-1-.4-1-.3-1 0-1 .1-1 0-1 0-1-.1-1 .1-1 0-1 .1-1 0-1-.1-1 0-1 .2-1-.3-1 .2-1 .6-1-.2-1-.1-1-.4-1 .2-1 .2-1 .1-1-.5-1-.1-1 .1-1 .1-1-.2-1 .1-1-.1-1 .3-1-.2-1-.1-1 0-1 .2-1-.2-1 0-1 0-1 .3-1 .1-1 0-1-.3-1 .4-1-.3-1 0-1 .5-1-.4-1-.1-1-.2-1 .1-1 0-1 0-1 .1-1 0-1 .2-1 .2-1 0-1 0-1-.4-1-.2-1 .2-1 0-1 0-1 .3-1 0-1-.3-1-.2-1 .2-1-.1-1 0-1 0-1 0-1 .2-1-.2z"/>
<path fill="#0000ff" d="M138.5 639.1l.5-.6 .5 0 .5-.1 .5 0 .5 0 .5 .2 .5 .2 .5 0 .5 0 .5-.4 .5 0 .5-.4 .5-.7 .5 0 .5-.6 .5-1.4 .5-.7 .5 0 .5-1 .5-1.5 .5 0 .5-2.4 .5-.9 .5 0 .5-.5 .5-.2 .5-.8 .5-1.1 .5-.5 .5 0 .5-.9 .5 0 .5 0 .5 .4 .5 .1 .5 .9 .5 .7 .5 4.7 .5 .9 .5 0 .5 0 .5-1.7 .5-9.5 .5-1.6 .5-.1 .5 0 .5 0 .5 .4 .5 .8 .5 1.8 .5 2.7 .5-.9 .5-2.8 .5 0 .5 0 .5 .6 .5 0 .5 6.2 .5 .6 .5 1.5 .5 1.5 .5 0 .5 2.2 .5 .2 .5 .5 .5 0 .5 0 .5 .1 .5 .6 .5 .2 .5-.2 .5 0 .5 0 .5 .1 .5-.4 .5 0 .5-2.6 .5 0 .5 0 .5 1.9 .5-.2 .5-.6 .5-1 .5 0 .5 0 .5 1.3 .5 0 .5 0 .5 .7 .5 0 .5 .9 .5-1.1 .5 0 .5-.4 .5 0 .5 0 .5 1.3 .5 0 .5-.2 .5-.8 .5 0 .5 0 .5 1.5 .5 1.3 .5 0 .5-.5 .5-.5 .5-.4 .5-.8 .5 0 .5 0 .5 .2 .5 0 .5 0 .5 1.4 .5 .4 .5 0 .5 0 .5 0 .5 0 .5 .3 .5 0 .5 .3 .5 0 .5 0 .5 .2 .5 0 .5-.8 .5 0 .5 0 .5 .8 .5 0 .5-.6 .5-.3 .5 0 .5 0 .5 .6 .5 .3 .5 0 .5-.4 .5 0 .5 0 .5 .6 .5 .1 .5 0 .5-1.5 .5 0 .5 0 .5 1 .5 .1 .5 0 .5-.4 .5 0 .5 0 .5 0 .5-.1 .5-.1 .5 0 .5-.1 .5 0 .5 0 .5 .1 .5 .5 .5 0 .5 0 .5 0 .5 .2 .5 .2 .5-.3 .5 0 .5-.1 .5-.5 .5 0 .5-.3 .5 0 .5-.5 .5 0 .5 0 .5 .4 .5 0 .5 0 .5 1.2 .5 .1 .5 .4 .5 0 .5-.9 .5 0 .5 0 .5 .5 .5-.2 .5 0 .5-.2 .5-.3 .5 0 .5-.1 .5-.8 .5 0 .5 0 .5 .4 .5 .4 .5 0 .5 0 .5-.2 .5 0 .5 0 .5 .1 .5 .7 .5-.1 .5 0 .5 0 .5 .1 .5 0 .5-.1 .5 0 .5 0 .5 0 .5 .1 .5 .3 .5 0 .5 0 .5-.1 .5 0 .5 0 .5 .4 .5 .1 .5-.4 .5 0 .5 0 .5 .4 .5-.2 .5 0 .5 0 .5 .2 .5 0 .5 0 .5 0 .5 0 .5 0 .5-.3 .5 0 .5 0 .5 .1 .5 0 .5 0 .5-.5 .5 0 .5 0 .5 .5 .5 0 .5 .3 .5-.2 .5 0 .5 0 .5 .1 .5 .1 .5 0 .5-.1 .5 0 .5 0 .5 .3 .5-.2 .5-.3 .5 0 .5 0 .5 .1 .5 .3 .5 .1 .5-.4 .5 0 .5 0 .5 0 .5 0 .5 0 .5 .1 .5 0 .5 0 .5 .4 .5-.2 .5-.1 .5-.1 .5-.1 .5 0 .5 0 .5 .2 .5 0 .5-.7 .5 0 .5 0 .5 .6 .5 0 .5-.8 .5 0 .5 0 .5 .8 .5 0 .5 .3 .5-.6 .5 0 .5 .4 .5 0 .5 .1 .5 0 .5 0 .5 0 .5 0 .5 .1 .5-.2 .5 0 .5 0 .5 0 .5 0 .5 0 .5 0 .5 0 .5 0 .5 .1 .5 0 .5 0 .5 .2 .5-.1 .5 0 .5 0 .5 0 .5 0 .5-.3 .5 0 .5 0 .5 0 .5 0 .5 0 .5 .2 .5 0 .5 0 .5 0 .5 0 .5 .1 .5-.5 .5 0 .5 0 .5 .3 .5 0 .5 0 .5 0 .5 .2 .5 0 .5 .2 .5-.2 .5 0 .5-.6 .5 0 .5 0 .5 0 .5 0 .5 .4 .5 0 .5 .1 .5 .1 .5 .1 .5 0 .5 0 .5 0 .5-.2 .5 0 .5 .1 .5 .1 .5 0 .5 0 .5 0 .5 .1 .5-.1 .5 0 .5 .1 .5-.1 .5 0 .5 .1 .5 0 .5-.1 .5-.1 .5 .1 .5 0 .5 0 .5 0 .5 0 .5-.3 .5 0 .5 .2 .5 .1 1-.2 1-.1 1 .2 1 .2 1 0 1 0 1-.3 1 .2 1-.1 1-.1 1 .2 1 .1 1-.1 1-.1 1 0 1 0 1 .2 1-.1 1-.1 1 0 1 0 1-.1 1-.2 1 .3 1 0 1 .1 1 0 1-.1 1 .1 1-.1 1 .1 1 0 1-.1 1 .3 1-.3 1 0 1 .1 1 .1 1 .1 1-.3 1 .1 1-.3 1 .2 1 .1 1 0 1-.1 1-.2 1 .1 1 .1 1 .2 1-.2 1 .1 1-.1 1 .1 1-.1 1-.2 1 .1 1 0 1 0 1-.5 1 .2 1-.1 1 .5 1 0 1 .1 1-.1 1 0 1 .1 1-.5 1-.2 1 .2 1 .4 1 0 1 0 1-.2 1 .1 1 .1 1-.1 1 .3 1-.1 1 .1 1-.1 1-.2 1 0 1 .2 1-.1 1 .1 1 0 1 0 1 0 1-.1 1 0 1 .1 1 0 1 .2 1-.2 1 0 1-.3 1 .5 1-.4 1-.1 1 .3 1-.1 1 0 1-.1 1 0 1-.1 1 .2 1 0 1 0 1 .2 1-.3 1 0 1 .3 1 0 1-.2 1-.1 1 .3 1-.5 1 0 1 .1 1 0 1 .3 1 0 1-.1 1 0 1 .1 1 .1 1-.1 1-.1 1-.1 1 .2 1 .1 1-.1 1-.1 1 0 1-.2 1 .4 1-.1 1 .1 1-.2 1-.2 1 .3 1 0 1 0 1-.1 1 0 1 0 1 .2 1-.1 1 0 1-.3 1 .2 1 .2 1-.2 1 0 1 0 1 .1 1 0 1-.1 1 .1 1 .1 1 0 1-.2 1-.1 1 .2 1 0 1-.2 1 .2 1 0 1-.3 1 .4 1-.2 1 0 1 .2 1-.1 1 .1 1-.1 1-.2 1 .2 1 0 1 .2 1-.4 1 .3 1-.2 1-.4 1 .3 1 .1 1 .1 1-.2 1 .1 1-.3 1 .5 1 0 1-.5 1 .5 1-.1 1 0 1 0 1-.1 1-.2 1 .2 1-.1 1 .1 1 0 1-.2 1 0 1 .3 1-.1 1 0 1-.3 1-.3 1 .6 1 0 1 .1 1 0 1-.2 1 .2 1-.1 1 0 1 0 1 0 1 0 1 0 1 0 1-.1 1 .1 1-.2 1 .1 1 .2 1 .1 1-.3 1 .2 1-.1 1 .1 1 .1 1-.2 1 0 1 .1 1 0 1-.1 1-.1 1 .2 1 0 1 .1 1-.1 1-.1 1 .1 1 0 1-.3 1 .3 1 0 1 .1 1-.1 1 0 1 .1 1-.2 1 .3 1-.2 1-.1 1 0 1-.1 1 .1 1-.1 1 .1 1 .1 1-.4 1 .1 1 .3 1-.1 1 .2 1-.2 1 .1 1-.1 1 .1 1 0 1 .1 1-.5 1 .3 1 .2 1-.3 1 .2 1 0 1 0 1-.1 1-.1 1 .2 1 .1 1-.1 1 0 1 .1 1-.1 1 0 1-.1 1 .1 1-.1 1-.1 1 .1 1 .1 1 .1 1-.3 1 .1 1 .2 1-.2 1 .1 1 0 1 0 1-.1 1 .2 1-.2 1 0 1 .2 1-.1 1 0 1-.2 1 .2 1 0 1-.8 1 .1 1 .5 1 .2 1 0 1 0 1-.2 1 .2 1 0 1 .1 1-.2 1-.1 1 .3 1-.2 1 .1 1-.1 1 .3 1-.3 1-.1 1 .1 1-.2 1 .3 1 0 1-.2 1 .3 1-.1 1-.1 1 .2 1-.1 1-.1 1-.1 1 .3 1-.1 1 0 1-.1 1 0 1 .1 1 .2 1-.3 1-.1 1 .2 1-.1 1 .1 1 0 1-.1 1 .2 1-.4 1 .3 1 .1 1-.1 1 .2 1-.4 1 0 1 .2 1 0 1-.1 1 0 1 0 1 .1 1-.1 1-.1 1 .1 1 0 1-.3 1 .4 1 0 1-.1 1 0 1 0 1 .2 1-.1 1 .1 1-.3 1 .1 1-.1 1 .3 1-.4 1 .3 1 0 1-.1 1 0 1-.2 1 .2 1 .2 1-.1 1 0 1-.2 1 .1 1-.1 1 0 1 0 1 .2 1 0 1 0 1-.1 1 0 1 0 1 .2 1-.2 1 .1 1-.2 1-.3 1 .3 1-.5 1 .4 1-.4 1 .5 1 .3 1-.1 1-.2 1-.1 1 .3 1-.2 1 .1 1 .2 1-.2 1 .1 1 0 1-.2 1 .1 1 .1 1 0 1-.1 1 0 1 .2 1-.1 1 0 1 .1 1-.2 1-.2 1 .2 1 .1 1-.1 1 .2 1-.2 1 0 1 .2 1 0 1-.2 1-.2 1 .1 1 .3 1-.2 1-.5 1-.1 1 .2 1 .4 1 .1 1 0 1 .1 1-.2 1 0 1 0 1 .1 1-.2 1 .1 1-.1 1 .2 1 0 1 0 1 0 1-.1 1-.1 1 .1 1 .1 1 0 1-.1 1 .2 1-.1 1 0 1 0 1-.3 1 .3 1 .1 1-.1 1 0 1 0 1-.1 1-.1 1-.1 1 .3 1-.1 1 0 1-.1 1 .2 1-.1 1 .1 1 0 1-.1 1 .1 1-.1 1 0 1 .1 1-.2 1 .2 1 0 1 0 1-.5 1-.2 1 .5 1 .1 1-.2 1 .4 1 0 1-.1 1 0 1-.1 1 .1 1-.1 1 .1 1 .1 1-.4 1 .3 1-.1 1-.1 1 .1 1 .1 1 0 1 0 1-.1 1 .2 1-.1 1 0 1 0 1 .1 1-.2 1 .1 1-.1 1 .1 1-.2 1 .1 1 0 1 .1 1 0 1-.2 1 .2 1-.1 1 0 1 .1 1 0 1-.2 1 0 1 .1 1-.2 1 .2 1 .1 1-.1 1 .2 1 0 1-.5 1 .5 1-.4 1 .3 1 .1 1-.2 1 .1 1-.4 1-.5 1 .3 1 .6 1 0 1 .2 1-.2 1-.1 1 0 1 .2 1-.1 1-.2 1 .2 1 0 1 0 1-.1 1-.1 1 0 1 .1 1 .1 1-.2 1 .3 1-.1 1-.1 1 0 1-.1 1 .2 1 0 1-.1 1 .1 1 0 1 0 1 .2 1-.4 1 .2 1 0 1-.3 1 .4 1-.3 1 .2 1 .1 1-.2 1 .1 1 0 1 0 1-.1 1-.1 1-.1 1 .3 1 0 1-.1 1 .1 1 0 1 0 1 0 1 0 1-.1 1 0 1 .2 1-.1 1-.1 1 .1 1 0 1 0 1-.1 1 .1 1-.2 1-.4 1 .2 1 .2 1 .1 1 .1 1 .1 1-.2 1 0 1 .1 1 .2 1-.4 1 .3 1 0 1-.1 1 0 1 0 1 .1 1-.1 1 0 1-.2 1-.1 1 .1 1 .2 1 0 1 0 1 .1 1-.1 1 .1 1-.1 1-.1 1 .1 1-.2 1 .2 1-.1 1-.1 1 .4 1-.4 1 .1 1-.1 1 .2 .5 0 0 2.8-.5 0-1 0-1-.1-1 .3-1-.1-1-.1-1 .1-1-.1-1 .1-1-.1-1-.2-1 .3-1-.1-1 0-1 0-1 .3-1-.1-1-.1-1 0-1-.1-1 .3-1-.4-1 .4-1-.2-1 .2-1-.2-1-.1-1 0-1 0-1-.1-1 .4-1-.2-1 0-1 .2-1-.3-1 0-1-.1-1 .4-1 .3-1 .3-1-.6-1-.4-1 .2-1-.1-1 .1-1-.1-1 0-1 .3-1-.4-1 0-1 .4-1-.3-1 .1-1 0-1 0-1 0-1-.1-1-.1-1 .3-1-.3-1 .1-1 .1-1 .3-1-.5-1 .2-1 .1-1-.4-1 .2-1-.1-1 .1-1 .2-1 .1-1-.2-1-.1-1 .3-1-.3-1-.1-1 .2-1 .1-1-.1-1 0-1 .3-1-.2-1-.2-1 .4-1-.4-1 .1-1 0-1-.1-1 0-1 .1-1-.2-1 .2-1-.2-1 .2-1-.1-1 .2-1-.1-1-.1-1 0-1 .1-1 .1-1-.1-1 0-1 .3-1 0-1-.1-1-.3-1 .1-1-.1-1 0-1 0-1 .1-1-.1-1 .3-1-.3-1-.1-1 .4-1-.3-1-.1-1 .2-1 0-1-.2-1 0-1 .1-1 .1-1-.1-1 .1-1-.1-1 0-1 0-1-.1-1 .2-1-.2-1 .1-1 0-1-.1-1 .2-1-.1-1 .1-1-.1-1 .4-1-.3-1-.2-1 .2-1 .1-1-.2-1 .2-1 0-1-.2-1 .1-1 0-1-.2-1 0-1 .2-1 0-1 .2-1-.3-1 0-1 .1-1 0-1-.2-1 .1-1 0-1 .7-1-.1-1-.3-1 0-1-.2-1-.1-1 0-1-.1-1 .1-1 0-1 .1-1 0-1 0-1 .2-1-.2-1-.1-1 .1-1-.1-1 0-1 .2-1-.1-1-.1-1 .2-1-.2-1 0-1 .2-1-.1-1 0-1-.1-1 .2-1-.1-1-.2-1 .1-1 0-1-.2-1 .2-1-.1-1 .1-1 .1-1-.1-1 0-1 .2-1-.2-1 0-1-.1-1 .1-1 .1-1 .1-1-.2-1-.1-1 0-1 0-1 .5-1 0-1 .1-1-.3-1 .2-1 .2-1-.5-1 .2-1-.1-1-.2-1 .1-1-.1-1 0-1 0-1 .1-1 0-1-.1-1-.1-1 .2-1 0-1-.2-1 .2-1-.2-1 0-1 .2-1-.1-1-.1-1 .3-1-.3-1 .2-1 0-1 0-1-.1-1 0-1 0-1 .1-1-.1-1 0-1 .1-1-.1-1 0-1 .4-1-.3-1 .3-1 .1-1-.2-1-.3-1 .1-1-.1-1 0-1 0-1 0-1 0-1 .1-1-.1-1 .3-1-.2-1 .2-1 .1-1-.2-1-.1-1 .1-1-.1-1-.2-1 .4-1-.4-1 .1-1 .1-1-.2-1 .3-1-.1-1 0-1-.1-1 0-1 .1-1 0-1 0-1 0-1 0-1-.1-1 .1-1 0-1-.2-1 .5-1 .1-1-.4-1 0-1-.2-1 .4-1-.2-1 0-1-.2-1 .1-1 0-1 .1-1-.2-1 .4-1-.2-1-.1-1 0-1 0-1 0-1 0-1 0-1-.1-1 .1-1 0-1 0-1 .1-1-.1-1-.1-1 .3-1-.3-1 .1-1 .3-1-.2-1 .1-1 0-1 .1-1-.3-1 0-1 0-1 .2-1-.1-1 0-1 0-1-.2-1 0-1 .2-1 0-1-.1-1-.1-1 .3-1-.2-1 .3-1-.3-1-.1-1 0-1 0-1 .3-1-.2-1-.1-1 .2-1 0-1 0-1 .4-1-.1-1-.2-1-.1-1-.1-1 .2-1-.1-1-.1-1 .1-1 .3-1-.4-1-.1-1 .1-1 0-1 0-1 .1-1 .2-1-.3-1-.1-1 .1-1 0-1 .2-1-.1-1-.1-1 0-1-.1-1 .1-1-.1-1 .2-1 0-1-.1-1 .1-1 0-1 .6-1-.6-1 0-1-.1-1 .1-1 0-1-.2-1 .2-1 .2-1-.1-1-.1-1-.1-1 .1-1-.1-1 .1-1-.2-1 .1-1 0-1 .4-1 0-1-.4-1 0-1 0-1 0-1 .1-1-.3-1 .2-1-.1-1 .4-1-.4-1 0-1 .2-1-.1-1-.1-1 .2-1-.1-1-.1-1 .2-1-.1-1 0-1 .1-1 0-1-.2-1 0-1 .3-1-.3-1 .3-1-.1-1-.1-1 .2-1-.3-1 .2-1-.1-1-.1-1 0-1 .1-1 0-1-.1-1 .2-1 0-1-.2-1 .3-1-.2-1 0-1-.1-1 .3-1-.2-1 0-1-.1-1 .1-1-.1-1 .1-1-.1-1 .4-1 .5-1-.4-1-.2-1 0-1 .1-1 .4-1-.4-1-.3-1 .1-1 0-1-.2-1 .1-1 0-1 .1-1 0-1 .1-1-.2-1 .3-1-.3-1 0-1 0-1 0-1 .1-1-.1-1 .2-1 .1-1 .2-1-.5-1 0-1 0-1 .1-1-.2-1 .1-1 0-1 .2-1-.1-1 .1-1 0-1-.2-1 .2-1-.3-1 .1-1-.1-1 .1-1 0-1-.1-1 0-1 0-1 .1-1 .3-1-.3-1 .1-1 0-1 0-1 0-1-.1-1 0-1 .1-1-.1-1 .2-1-.2-1 0-1 .1-1 .2-1-.3-1 0-1 .2-1-.1-1-.1-1-.2-1 .5-1-.4-1 .1-1-.1-1 .2-1-.2-1 .4-1-.3-1 .2-1-.3-1 .2-1-.1-1 .1-1-.1-1-.1-1 .1-1 .1-1-.1-1 0-1 .1-1 .2-1 0-1 .2-1-.2-1-.3-1 .1-1-.1-1 .1-1 0-1-.1-1 0-1 .1-1 .1-1-.3-1 .1-1 0-1 0-1 0-1 0-1-.1-1 0-1 0-1 .2-1 0-1-.3-1 .1-1 .1-1 .1-1 0-1-.1-1-.1-1 .1-1-.2-1 .1-1 0-1 .2-1 .1-1-.3-1 .1-1 .2-1-.3-1 .2-1-.2-1 .1-1 0-1 0-1-.1-1 0-1 .2-1-.1-1 .1-1 .2-1 .2-1-.1-1-.4-1 .1-1 .2-1-.1-1 0-1-.1-1 0-1 0-1 .3-1-.3-1-.1-1 0-1-.1-1 .2-1 0-1 .2-1-.2-1-.2-1 .1-1 0-1 .3-1-.1-1-.3-1 .1-1 .2-1 .3-1-.1-1-.5-1 .2-1 0-1 0-1-.1-1-.2-1 .3-1-.1-1 0-1 0-1-.1-1 .2-1-.2-1 .2-1 0-1 .1-1-.2-1 0-1 .2-1-.2-1-.1-1 .2-1-.1-1 0-1 .2-1-.2-1 .1-1 .1-1-.1-1 0-1-.2-1 .2-1 0-1 .1-1-.2-1 .3-1 0-1-.2-1-.1-1 .2-1 0-1-.1-.5 0-.5 0-.5 .2-.5 0-.5-.2-.5-.1-.5 .2-.5 0-.5-.3-.5 .1-.5 0-.5 0-.5 .1-.5 0-.5 0-.5 0-.5-.1-.5 0-.5 .1-.5 .1-.5 .2-.5-.3-.5 .1-.5 0-.5-.2-.5 .1-.5 0-.5 0-.5 0-.5 0-.5 .3-.5 0-.5 0-.5-.3-.5 0-.5 0-.5 0-.5 .1-.5 0-.5-.1-.5-.1-.5 0-.5 0-.5-.1-.5 .3-.5 0-.5-.3-.5 .1-.5 0-.5 .2-.5-.1-.5-.1-.5 0-.5 0-.5 0-.5 .1-.5 0-.5-.2-.5 0-.5 .3-.5 0-.5-.1-.5 0-.5 .1-.5 0-.5 0-.5 .1-.5 0-.5 0-.5-.1-.5 0-.5 0-.5 0-.5 0-.5 0-.5-.1-.5-.1-.5 0-.5 .8-.5 0-.5 0-.5-.5-.5 0-.5 0-.5 0-.5-.1-.5 0-.5 0-.5 .3-.5 .1-.5 0-.5 0-.5-.4-.5 .1-.5 .5-.5 0-.5 0-.5-.5-.5-.1-.5-.1-.5 .2-.5 0-.5 1-.5 0-.5 0-.5-.9-.5 0-.5 0-.5 0-.5 0-.5 0-.5-.1-.5 .5-.5 0-.5 0-.5-.4-.5 .7-.5 0-.5 0-.5-.2-.5-.4-.5 0-.5 0-.5 0-.5 0-.5 0-.5-.2-.5-.1-.5 .3-.5 .1-.5 .5-.5 0-.5 0-.5-.4-.5 0-.5-.2-.5 0-.5-.1-.5 .4-.5 .5-.5 0-.5 0-.5-.7-.5 1.1-.5 0-.5 0-.5-1.1-.5 0-.5 0-.5 0-.5 0-.5 .1-.5 0-.5 0-.5 0-.5 0-.5 0-.5 0-.5 .9-.5 0-.5 0-.5-.6-.5 .5-.5 0-.5 0-.5-.4-.5 0-.5 0-.5 0-.5 0-.5 0-.5 0-.5-.1-.5 0-.5 0-.5-.2-.5 0-.5 .4-.5 0-.5 .1-.5 0-.5 0-.5-.1-.5-.3-.5 0-.5 .1-.5 0-.5 .3-.5 0-.5 .2-.5 0-.5 0-.5-.2-.5-.5-.5 .6-.5 0-.5 0-.5-.1-.5 .2-.5 0-.5 .4-.5 0-.5 0-.5-.5-.5 1.1-.5 0-.5 0-.5-1-.5 0-.5 0-.5 0-.5-.1-.5 0-.5 .3-.5 0-.5 0-.5 .7-.5 0-.5 0-.5-.8-.5 0-.5 .3-.5 .5-.5 0-.5 0-.5 .5-.5 .7-.5 0-.5 0-.5 .2-.5 0-.5 0-.5-1-.5 .3-.5 1.1-.5 0-.5 0-.5-.3-.5 0-.5-1-.5-.5-.5 0-.5 .8-.5 0-.5 0-.5-1.7-.5 0-.5-.1-.5 .2-.5 0-.5 0-.5-.5-.5 0-.5 .5-.5 0-.5 0-.5-.4-.5 0-.5-.1-.5 0-.5 .1-.5 0-.5 .1-.5 .5-.5 .4-.5 0-.5 0-.5-.4-.5 .3-.5 0-.5 .1-.5 .1-.5 .5-.5 .8-.5 0-.5 1.3-.5 0-.5 1.7-.5 0-.5 0-.5-1.7-.5-1.9-.5 0-.5 0-.5-.5-.5-.1-.5 .1-.5 .5-.5 0-.5 .3-.5 0-.5 0-.5-.1-.5-.1-.5 0-.5 .9-.5 .1-.5 0-.5 0-.5-.5-.5 0-.5-.2-.5 0-.5 0-.5 0-.5-.5-.5 0-.5-.4-.5 1.4-.5 0-.5 0-.5 0-.5 0-.5-.8-.5 0-.5 0-.5-.6-.5 .3-.5 1.9-.5 1.1-.5 0-.5 1.1-.5 0-.5 .8-.5 1.1-.5 0-.5 0-.5-.8-.5-.7-.5 2.7-.5 4.8-.5 2.2-.5 1.2-.5 .9-.5 0-.5 0-.5-.5-.5-.7-.5-2-.5-5.3-.5-.8-.5 0-.5 .8-.5 .1-.5 0-.5 0-.5-.1-.5-.6-.5-1.5-.5-1.5-.5 .7-.5 1.7-.5 .1-.5 .8-.5 .7-.5 0-.5 0-.5-.3-.5-.1-.5-.4-.5 .4-.5 0-.5 0-.5-.8-.5-.5-.5-.1-.5-2.3-.5 0-.5-2-.5-1.2-.5-2.2-.5-.2-.5 0-.5-.8-.5-.1-.5 0-.5 0-.5 .1-.5 0-.5 0-.5 .1-.5 0-.5 0-.5 .1-.5 0-.5 0-.5-.8z"/>
<path fill="#008000" d="M138.5 670l1 .4 1-.1 1-.3 1 .4 1 0 1-.1 1 .3 1-.1 1 .2 1-.3 1-.1 1 0 1-.1 1 .1 1-.3 1 .4 1 0 1-.2 1 .2 1 .1 1 0 1 0 1-.1 1 .2 1-.1 1-.2 1-.3 1 .2 1 0 1 .2 1-.2 1-.1 1 0 1-.1 1 .2 1 .1 1-.2 1 .3 1 .2 1 0 1-.1 1 .1 1-.1 1 .1 1-.1 1-.3 1-.1 1 .1 1 .4 1-.1 1-.1 1 0 1 .1 1-.2 1 .1 1 0 1 0 1 0 1-.3 1 .2 1 0 1 .1 1 0 1 .1 1 0 1 .1 1 0 1-.2 1 .1 1-1 1 .5 1 .4 1 0 1 0 1 .1 1 0 1 0 1-.4 1-.1 1 .4 1-.2 1 .4 1-.1 1-.1 1-.1 1 .2 1-.3 1 0 1 .2 1-.1 1-.1 1-.6 1 .3 1 .1 1 .3 1 .1 1 .2 1-.1 1 0 1 0 1 0 1 .1 1-.3 1-.4 1 .4 1 .2 1 .1 1 0 1 0 1-.1 1 0 1 .1 1-.1 1 0 1-.6 1 0 1 .4 1 .2 1-.2 1 .2 1 0 1-.1 1-.5 1 .2 1 .3 1 .2 1-.2 1 .1 1 .1 1-.3 1 .1 1-.1 1 .3 1 0 1 0 1-.3 1 .2 1-.3 1-.2 1 .1 1 .4 1-.2 1 .1 1-.1 1 .1 1 .2 1 .1 1-.3 1 .1 1 0 1 0 1 0 1 .2 1-.3 1 0 1 .1 1-.2 1 .2 1-.1 1 0 1 0 1-.1 1-.1 1 .1 1-.2 1 .4 1 .1 1 0 1-.2 1 .2 1-.1 1-.1 1 0 1 .1 1-.2 1-.1 1-.3 1 .4 1-.2 1 .1 1 0 1 .2 1 .2 1-.3 1-.7 1 .9 1 0 1 .1 1-.1 1 0 1 0 1-.1 1 .1 1-.2 1 0 1 .1 1 0 1 .1 1 .1 1 0 1 .1 1-.2 1-.1 1-.1 1-.3 1 .2 1 .2 1-.2 1-.2 1 .2 1 .2 1-.1 1 .2 1 0 1 0 1 .1 1-.1 1 0 1 .1 1-.3 1-.4 1 .1 1 .3 1 .1 1-.4 1 .3 1-.6 1 .4 1 .1 1-.2 1 .6 1-.1 1 .1 1-.1 1 .1 1 0 1-.1 1-.2 1 .2 1-.7 1 .1 1 0 1 .2 1 .2 1-.1 1-.2 1 .3 1 .3 1-.1 1-.1 1 0 1 .1 1 .1 1-.3 1-.1 1-.6 1 .5 1 .3 1-.6 1 .3 1 .1 1-.2 1 0 1-.4 1 .4 1 .4 1-.1 1-.2 1-.3 1 .5 1 0 1-.5 1 .3 1 .3 1-.2 1-.4 1 .3 1 .5 1 .1 1-.4 1 .4 1-.1 1-.1 1 .1 1-.1 1 .1 1 0 1-.1 1 0 1 0 1 0 1 0 1-.5 1 .1 1-.1 1 .6 1-.2 1 0 1-.5 1 .3 1 .2 1 0 1 .1 1-.1 1-.3 1 .4 1-.2 1 .2 1-.1 1 .1 1-.3 1-.5 1 .2 1 .5 1 .2 1 0 1 0 1 0 1-.3 1 .1 1 .1 1 0 1-.3 1-.4 1 .2 1 .4 1-.3 1 .4 1-.1 1-.5 1 0 1 .7 1-.3 1 .3 1-.3 1-.1 1 .3 1-.1 1 .1 1-.5 1 .3 1 .1 1 .1 1 0 1-.1 1-.2 1 .1 1-.7 1 .8 1 .3 1-.1 1 0 1-.5 1-.1 1 .4 1-.1 1-.3 1 0 1 .5 1-.3 1 .2 1 0 1 .1 1 0 1 0 1 .1 1 0 1-.1 1-.4 1 0 1-.2 1 .4 1 .2 1-.2 1-.1 1 .3 1 0 1 .1 1-.1 1 .1 1-.2 1-.5 1 .3 1 .1 1 .1 1 .2 1-.1 1 .1 1-.2 1 .2 1-.1 1-.1 1 .2 1 0 1-.4 1 .4 1-.1 1 .1 1-.3 1 .1 1 0 1 .2 1 0 1-.1 1-.6 1 0 1 .3 1 .4 1-.1 1-.3 1 .2 1-.1 1 0 1-.7 1 .6 1 .1 1 .2 1-.5 1 .2 1 .3 1-.1 1 0 1-.2 1-.1 1 .2 1 .1 1-.7 1 .3 1 .4 1 .3 1-.1 1-.1 1-.1 1 .2 1 .1 1-.3 1 .2 1-.1 1-.6 1-.3 1 1 1-.1 1-.1 1 .2 1-.1 1 .2 1-.1 1 0 1 0 1-.1 1 0 1 .1 1 .1 1-.2 1 0 1-.2 1 .1 1 0 1 .1 1-.1 1-.3 1 .2 1 0 1-.4 1-.1 1 0 1 .4 1 .3 1 0 1-.3 1 .1 1 0 1 .2 1 0 1-.3 1-.3 1 0 1 .6 1-.1 1 .1 1-.2 1 0 1-.2 1 .2 1 .3 1-.1 1-.3 1 .1 1 .2 1 .2 1-.4 1-.1 1-.1 1 .1 1-.4 1 .5 1 .1 1 .2 1-.1 1 .1 1-.2 1-.1 1-.2 1-.4 1 .3 1 0 1 .4 1-.2 1 .2 1-.5 1 .2 1-.2 1 .2 1 .4 1 0 1-.1 1 .1 1-.4 1 .1 1 .2 1 .1 1 .1 1-.2 1 0 1 0 1-.1 1-.1 1 .4 1 0 1 0 1-.2 1 .2 1-.2 1-.3 1-.1 1 .6 1-.2 1-.4 1 .4 1 0 1 0 1 .2 1-.1 1 .1 1 0 1 0 1-.3 1-.2 1-.2 1-.1 1 .8 1-.2 1 .1 1-.2 1 .3 1-.3 1 .1 1 .1 1 .1 1 .1 1-.4 1 .2 1 .1 1-.2 1 .1 1 .1 1-.2 1 .2 1 .1 1-.3 1 0 1-.1 1-.4 1 .5 1-.1 1 .1 1-.1 1 .1 1-.4 1 .1 1-.2 1 .6 1-.2 1 .2 1-.2 1 .1 1 .2 1-.6 1-.3 1 .8 1-.6 1 .5 1 .1 1-.1 1 .2 1-.1 1-.1 1 .3 1 0 1-.1 1-.1 1 0 1 0 1-.3 1 0 1 .1 1 0 1 .3 1 0 1-.1 1 .1 1-.3 1 .2 1 .2 1-.2 1 0 1-.8 1 .6 1 .1 1 .1 1-.1 1-.1 1 .1 1 .1 1-.1 1 .1 1 .1 1-.3 1-.2 1 .1 1-.2 1 .1 1 .2 1 .1 1 .1 1-.1 1-.2 1 .1 1 .2 1 0 1 0 1-.1 1-.1 1-.1 1 .3 1-.1 1 .1 1 0 1 0 1 0 1-.2 1 .2 1 .2 1-.2 1 .1 1-.3 1 .2 1-.1 1 0 1-.2 1-.1 1 .1 1 .2 1-.4 1-.2 1 .5 1 .1 1 .1 1-.1 1-.2 1-.1 1 .4 1 0 1-.9 1 .7 1-.2 1-.2 1-.3 1 .7 1 .1 1 .1 1 .1 1-.7 1-.3 1 .9 1-.1 1 .1 1 0 1 0 1 .1 1 0 1-.3 1 .1 1 .2 1-.3 1 .2 1-.2 1 .3 1-.1 1-.3 1 .1 1 .2 1-.4 1-.1 1 .4 1 0 1-.2 1 .2 1-.4 1 .5 1 .3 1-.1 1-.1 1-.4 1-.2 1 .2 1 0 1 .4 1-.1 1 0 1 .1 1-.2 1 .1 1-.2 1-.2 1 0 1-.2 1 .4 1-.1 1-.1 1 0 1 0 1 .1 1 .3 1 0 1 .2 1-.2 1 0 1 0 1-.1 1 0 1 .1 1-.1 1 .1 1 0 1 .1 1 0 1-.1 1 0 1-.1 1 0 1-.1 1 0 1-.1 1 .2 1 .3 1-.1 1 0 1-.3 1 .3 1-.3 1 .1 1-.2 1 0 1 .3 1-.1 1 .1 1 .3 1-.2 1-.1 1 0 1 .1 1-.2 1-.3 1-.1 1 .3 1 .2 1-.1 1 .2 1-.1 1 0 1-.1 1 .1 1 0 1 0 1 .1 1-.2 1 .2 1-.2 1 0 1-.2 1-.6 1 .7 1-.8 1 .7 1 .2 1 .1 1 .2 1-.3 1-.5 1 .4 1 .2 1-.1 1 .3 1-.5 1 .2 1 .1 1 .1 1-.3 1 .1 1 0 1 .2 1-.1 1 0 1-.5 1 .1 1-.2 1 .3 1 .3 1 .1 1-.1 1 .1 1-.2 1 .2 1-.2 1 0 1-.4 1 0 1 .4 1 0 1 0 1 0 1-.1 1-.3 1-.2 1 .5 1 .2 1-.2 1 .1 1-.4 1 .3 1 0 1 0 1 .1 1-.3 1-.1 1 .3 1 .3 1-.1 1-.4 1-.2 1 .2 1 .3 1 0 1 .1 1-.1 1 .2 1 0 1-.3 1 .1 1-.5 1 .6 1-.1 1 0 1 .1 1 .1 1 0 1 0 1-.2 1 .3 1-.2 1-.2 1 .3 1-.3 0 3.2-1-.1-1 .1-1-.1-1-.1-1 .3-1-.1-1-.1-1 .1-1 .2-1 0-1-.3-1 .3-1-.1-1-.1-1-.2-1 .3-1-.3-1 .1-1-.1-1 .3-1 0-1-.1-1 .4-1-.4-1 .1-1-.1-1 0-1 .4-1-.3-1-.1-1-.1-1 .1-1 .3-1 .1-1 .2-1-.7-1 .2-1 0-1 .4-1-.2-1-.3-1 .1-1-.2-1-.1-1 0-1 .4-1 0-1 .1-1-.2-1-.3-1 .1-1-.1-1 .4-1-.4-1 .1-1 .3-1 0-1-.2-1 .1-1 .1-1-.4-1 .1-1-.1-1 0-1 .1-1 0-1-.1-1 0-1 .1-1 0-1 .2-1 0-1-.1-1 .3-1 0-1-.4-1 .2-1-.2-1 .2-1 1.1-1-.9-1 0-1 .1-1-.5-1 .4-1-.4-1-.1-1 0-1 .1-1-.1-1 .3-1-.3-1 .3-1-.1-1-.2-1 .1-1 0-1 .3-1 .2-1 .2-1-.7-1 0-1 0-1 0-1 .1-1-.1-1-.1-1 .2-1-.1-1 0-1 .2-1 .3-1-.4-1 0-1-.2-1 0-1 0-1 .1-1 .3-1 .1-1-.1-1-.2-1-.2-1-.1-1 .1-1 0-1 0-1 0-1 0-1 .2-1-.1-1 0-1 0-1 0-1 .1-1 .1-1-.3-1 .1-1 0-1 0-1 0-1 .2-1 .4-1-.2-1-.1-1-.3-1 .4-1-.3-1 .1-1-.3-1 .1-1 0-1 0-1 .1-1-.2-1 .3-1 0-1 .5-1-.2-1-.2-1-.5-1 .2-1 0-1 .3-1 0-1-.1-1-.2-1 .2-1-.1-1 .1-1 0-1 .1-1-.5-1 0-1 .1-1 0-1 0-1 .1-1 0-1 0-1 .1-1-.2-1 .1-1-.1-1 .3-1-.2-1 0-1 .2-1-.1-1 .2-1 .2-1-.5-1 .1-1-.1-1 0-1 .8-1-.5-1-.1-1 0-1 .5-1-.7-1 0-1 .1-1 .5-1-.6-1-.1-1 .1-1 0-1 .6-1 0-1-.6-1 .4-1-.1-1 .3-1-.3-1-.1-1-.3-1 .2-1-.1-1 0-1 .1-1-.2-1 .1-1 0-1-.1-1 .1-1 0-1 0-1 .2-1 .2-1 0-1-.2-1-.1-1-.2-1 .1-1-.1-1 .4-1-.1-1-.1-1-.1-1 .3-1 .2-1 0-1 0-1-.6-1 .1-1 0-1 .4-1-.2-1 .1-1-.4-1-.1-1 .5-1-.5-1 .2-1 .4-1 .2-1-.3-1-.4-1 .2-1-.1-1-.2-1 .4-1-.3-1 .1-1 0-1-.1-1 .1-1 .2-1 0-1-.4-1 .2-1 0-1 .2-1-.2-1 .1-1-.1-1 .2-1 0-1 0-1-.1-1 .3-1-.2-1-.1-1 .6-1-.2-1-.4-1 .2-1 0-1-.2-1-.1-1 0-1 .6-1-.3-1 0-1-.3-1 0-1 .3-1-.2-1 .4-1 .2-1-.3-1-.2-1-.3-1 0-1-.1-1 .2-1 0-1-.1-1 0-1 .1-1-.1-1 .4-1 0-1-.2-1 .1-1-.2-1-.1-1 0-1 .3-1-.1-1 0-1 .4-1 0-1 .1-1-.1-1-.5-1-.2-1 .1-1 0-1 .1-1 .2-1 0-1-.2-1 .2-1 .1-1 .3-1-.7-1 .1-1 .6-1-.3-1-.3-1 0-1-.2-1 0-1 .4-1-.1-1-.1-1 0-1-.1-1 0-1 .1-1 0-1 0-1 .3-1 .2-1-.6-1 .1-1 .1-1-.1-1 .1-1 .3-1 0-1-.2-1 0-1-.1-1 0-1 .3-1 .2-1-.1-1-.2-1 0-1-.3-1-.2-1 .1-1 0-1 .1-1 .1-1 .6-1-.2-1-.4-1 .3-1-.4-1 .1-1 0-1-.2-1 0-1 0-1 .3-1 0-1 .3-1 .6-1-.7-1-.2-1-.1-1-.2-1 .3-1 .1-1 0-1 .1-1-.4-1-.1-1 .1-1 0-1 .1-1 0-1 .2-1 0-1 0-1 .3-1-.4-1 .4-1-.2-1-.3-1-.1-1 0-1 .2-1-.3-1 .1-1 0-1 0-1-.1-1 .1-1 .2-1-.2-1 0-1 .1-1 0-1 0-1 0-1-.2-1 0-1 .2-1 .3-1-.2-1-.3-1 .1-1 .1-1-.2-1 .1-1 0-1 0-1 0-1 .1-1 .2-1 .2-1-.3-1-.1-1-.1-1 .1-1 .5-1-.5-1-.1-1 .4-1 .5-1-.6-1-.1-1-.2-1 .6-1-.2-1-.1-1-.5-1 .1-1 .1-1 0-1 0-1 .4-1 .1-1-.4-1-.1-1 .1-1-.1-1 .2-1 0-1 0-1-.1-1-.1-1 0-1 0-1 0-1-.1-1 .2-1-.1-1 0-1 0-1-.1-1 0-1 .1-1 .3-1 0-1-.1-1 .3-1-.4-1-.2-1 .1-1 .3-1-.3-1 0-1 .1-1-.2-1 .2-1-.1-1 .6-1 0-1 .1-1-.7-1 .1-1-.2-1 0-1 .1-1 .1-1-.2-1 0-1 0-1 .2-1 .2-1 .4-1-.2-1-.6-1 .4-1 .3-1-.6-1-.1-1 .1-1 .2-1 .3-1-.1-1-.3-1-.2-1-.1-1 .4-1 0-1 .1-1-.2-1 .2-1-.2-1 0-1 .4-1 .3-1-.9-1 0-1 .2-1 .4-1 .4-1-.4-1-.4-1 0-1 0-1 .4-1-.1-1-.1-1-.2-1 0-1-.1-1-.1-1 .2-1-.1-1-.1-1 0-1 .4-1 .2-1-.3-1 .3-1-.2-1-.4-1 .2-1-.1-1 .2-1 0-1 0-1-.2-1 0-1 .2-1-.1-1 .3-1 0-1-.4-1 0-1 .6-1 .1-1-.1-1-.6-1-.1-1 .1-1 0-1 .1-1-.2-1 .1-1-.2-1 .2-1-.1-1 0-1 0-1 0-1 .1-1 0-1 .4-1-.1-1 0-1-.2-1 .2-1 .1-1-.2-1 .2-1 0-1 .3-1-.3-1-.3-1 0-1 .6-1 .1-1-.1-1-.6-1 .1-1 .4-1-.5-1 .2-1 .3-1 0-1-.5-1 0-1 0-1-.1-1-.1-1 0-1 .1-1 .2-1 .2-1-.1-1-.1-1 .2-1 0-1 .1-1-.2-1-.3-1-.2-1 .2-1 0-1-.1-1 .1-1 .2-1-.2-1-.1-1 .4-1 .6-1-.3-1-.1-1-.1-1-.2-1-.3-1 .8-1-.1-1 0-1-.7-1 0-1 .1-1-.1-1 .1-1-.1-1 0-1 .2-1-.1-1 .3-1 .1-1-.1-1-.2-1 .1-1-.3-1 .7-1-.2-1-.4-1 0-1 0-1 0-1-.2-1 0-1 .3-1 0-1 .2-1 .1-1-.4-1-.1-1 .1-1-.2-1 .2-1-.1-1 0-1 .3-1 .3-1-.2-1-.2-1 .1-1 .2-1 .4-1-.5-1 0-1-.2-1 .2-1-.3-1 0-1-.1-1 .2-1 0-1-.1-1-.1-1 0-1 .2-1 .2-1-.1-1 0-1-.3-1 .1-1 0-1 .2-1-.4-1 .2-1 .2-1-.2-1 0-1-.1-1 .1-1-.1-1 0-1 0-1 .2-1-.1-1 .1-1-.1-1-.1-1 0-1 .1-1 0-1 .2-1 .4-1-.2-1 0-1-.5-1 0-1 .1-1 .1-1 .1-1-.1-1-.2-1 0-1 .4-1-.3-1-.2-1 .2-1-.1-1 .4-1 .7-1-.7-1-.3-1 .3-1-.5-1 .4-1-.1-1 .8-1-.8-1-.1-1 0-1 0-1 .1-1-.1-1 .1-1 0-1-.1-1 0-1 .2-1 .1-1-.1-1-.1-1 0-1-.1-1 .1-1-.2-1 .1-1-.1-1 .2-1 .1-1 .2-1 .4-1-.5-1-.4-1 0-1 .6-1-.2-1-.4-1 .1-1 0-1 0-1 .1-1 .4-1-.3-1 .3-1-.2-1-.2-1 .2-1-.5-1 .2-1 0-1 .4-1 .4-1-.4-1-.1-1-.4-1 .2-1-.1-1 .2-1-.1-1-.1-1-.1-1-.1-1 .3-1-.1-1 .1-1 0-1-.1-1 .3-1-.4-1 0-1 0-1 .1-1-.1-1 .1-1 .3-1 .3-1-.2-1-.3-1-.1-1 .1-1 0-1-.1-1-.1-1 .2-1 .3-1 0-1-.1-1 .2-1 .6-1-.6-1 .1-1-.3-1-.1-1 .3-1-.3-1 .3-1 .1-1-.4-1-.3-1-.1-1 .3-1-.1-1 .2-1-.3-1-.1-1 .3-1 0-1 .4-1 0-1-.4-1 0-1 0-1-.2-1 .1-1-.2-1 .2-1-.1-1 0-1 .3-1 .5-1-.6-1 .1-1-.1z"/>
<path fill="#000000" d="M138.5 701.9l1 .1 1-.1 1 .2 1-.1 1-.2 1 .1 1 .3 1-.3 1 0 1 0 1-.1 1 .3 1 0 1 0 1-.3 1 .2 1-.1 1 .1 1 0 1-.1 1 .1 1 0 1 .1 1-.2 1 .1 1 0 1-.1 1 .1 1-.4 1 .2 1-.1 1 .1 1 0 1 .4 1-.2 1-.1 1 .2 1 0 1-.3 1 .1 1 .2 1-.3 1 .2 1-.2 1 .1 1 .1 1-.3 1 .3 1-.1 1 0 1 .1 1 .2 1-.2 1 .1 1-.2 1 0 1-.1 1 .2 1 0 1-.1 1 .2 1-.4 1 .2 1-.2 1 .3 1 0 1 0 1 .2 1-.4 1 .2 1-.1 1 .1 1-.2 1 .1 1 0 1 0 1-.2 1 .3 1 .1 1 0 1-.1 1 .1 1-.3 1 .3 1-.1 1-.1 1 .1 1-.2 1 .3 1-.4 1 0 1 .2 1-.1 1 .2 1 .1 1-.1 1 0 1-.1 1 0 1 .1 1 0 1-.1 1-.2 1 .1 1-.6 1-.1 1 .6 1 .3 1 0 1 0 1-.1 1-.2 1 .1 1 0 1 .1 1 .2 1-.1 1-.2 1 .2 1 0 1-.1 1-.1 1 .2 1-.2 1 0 1 .1 1 0 1 .2 1 0 1 0 1-.4 1 .4 1 0 1 0 1-.2 1 .1 1-.1 1 0 1 .2 1-.2 1 .2 1-.2 1 0 1 .1 1 .1 1-.2 1 0 1 0 1 0 1 .1 1-.6 1 .3 1 0 1 0 1 .2 1 .1 1 0 1-.2 1-.2 1 .3 1-.1 1 .2 1 0 1-.1 1 0 1 .2 1-.1 1 0 1-.1 1-.2 1 .2 1-.1 1 .2 1-.1 1 .1 1-.1 1-.2 1 .3 1 .1 1-.1 1-.3 1 .3 1 .1 1-.1 1-.1 1 0 1 0 1 .1 1 0 1 0 1 .1 1 0 1 0 1-.1 1 0 1 0 1 .1 1-.4 1 .1 1-.1 1 .3 1-.1 1 0 1 0 1 0 1 .2 1-.3 1 .3 1-.3 1-.3 1 0 1-.1 1 .5 1 .1 1-.1 1 0 1-.1 1 .2 1-.3 1 .4 1-.2 1 .2 1 0 1 0 1-.2 1 0 1 0 1 .2 1-.4 1 .1 1 .4 1-.3 1 .2 1-.1 1 0 1 0 1-.2 1 .3 1-.3 1 .1 1 0 1 0 1 0 1-.1 1 .1 1 .1 1-.1 1 .1 1 0 1-.3 1 .1 1-.4 1 .5 1 .1 1 0 1 0 1-.1 1-.2 1 .4 1-.1 1 .1 1-.1 1-.9 1 .9 1 .1 1-.3 1-.4 1 0 1 .6 1 .1 1 0 1-.2 1 .2 1 0 1-.1 1-.2 1 0 1-.1 1 .2 1 0 1 .2 1-.1 1-.1 1 0 1-.1 1 .2 1 0 1-.3 1 .3 1-.2 1 .2 1-.2 1 .2 1 0 1 0 1-.1 1 0 1-.1 1 .3 1-.1 1-.3 1 .3 1 0 1 .1 1-.3 1 .3 1 0 1 0 1-.2 1 .1 1-.1 1 0 1-.1 1 .1 1 .1 1-.3 1 .2 1 .1 1 .1 1-.2 1 .2 1 0 1-.2 1 .2 1-.1 1-.1 1-.2 1 .2 1 .1 1-.1 1 .1 1-.3 1 .3 1 0 1 0 1 .1 1 0 1-.2 1 0 1 .1 1 0 1 .1 1-.3 1 .3 1 0 1-.3 1 .2 1-.1 1 0 1 .1 1 .2 1-.1 1-.1 1-.1 1 0 1-.2 1 .2 1 0 1-.2 1 .2 1 .1 1 0 1-.1 1-.1 1 .1 1 .2 1 0 1-.1 1-.1 1 0 1 .1 1 0 1 0 1-.1 1-.1 1 0 1 .2 1-.1 1 0 1 .2 1-.2 1 .1 1 0 1-.1 1-.1 1 0 1-.5 1 .1 1 .5 1 .2 1-.1 1 0 1-.2 1 .2 1-.3 1 .3 1 0 1 0 1-.1 1 0 1-.1 1 .2 1 .1 1-.4 1 .1 1-.4 1 .2 1 .4 1 .1 1-.1 1 0 1-.1 1 .2 1 0 1-.2 1 .1 1 0 1 0 1 .2 1-.4 1 .1 1 0 1 .1 1 0 1 .1 1 0 1 0 1-.2 1 .1 1 0 1-.1 1 0 1-.3 1 .4 1-.1 1 .1 1 0 1-.1 1 0 1 .2 1 0 1-.2 1 0 1-.1 1 .2 1 .1 1 .1 1-.4 1 0 1 .1 1 0 1 .1 1-.1 1 0 1 .1 1-.3 1 .3 1-.1 1 .1 1-.1 1 0 1 .2 1-.4 1 .2 1-.1 1 .3 1-.1 1-.1 1 .2 1 0 1-.1 1-.1 1 .2 1-.1 1-.1 1 0 1 .1 1-.1 1 .1 1-.1 1-.1 1 .1 1 .2 1-.2 1 .1 1 0 1-.1 1 .3 1-.4 1 .3 1-.1 1-.2 1 .3 1-.2 1 .1 1 0 1 0 1 .1 1 .1 1-.1 1-.2 1 .3 1-.2 1-.2 1 .1 1 .1 1 .1 1-.2 1 0 1 .2 1-.1 1-.1 1-.3 1 .3 1-.2 1 .3 1-.3 1 .3 1-.1 1 .1 1 .1 1-.3 1 .2 1-.2 1-.1 1 .3 1 0 1 0 1-.2 1-.2 1 .1 1 .2 1-.1 1 .2 1 0 1 0 1 0 1-.1 1 .2 1-.3 1 .2 1 0 1-.2 1 .2 1 0 1 .1 1-.1 1 0 1-.2 1 .2 1 .1 1-.1 1 0 1-.2 1 .1 1 .1 1 0 1 0 1-.1 1 .1 1 .1 1 0 1-.3 1 0 1 .4 1-.3 1-.1 1 .2 1 .1 1-.2 1 .3 1-.3 1 0 1 .2 1-.1 1 .1 1-.3 1 .3 1 0 1-.1 1-.1 1 .2 1-.2 1 0 1 .1 1-.1 1 .1 1 .1 1-.1 1 .2 1-.1 1-.1 1 0 1-.3 1 .4 1-.4 1 .3 1 .2 1-.2 1-.2 1 .2 1-.3 1 .3 1-.2 1 .2 1-.1 1 0 1 0 1 0 1 0 1 0 1 .2 1-.2 1 .1 1 .1 1-.1 1 .1 1 0 1-.1 1-.1 1 .1 1-.3 1 .4 1 .1 1-.3 1 .2 1-.4 1 .3 1 0 1-.1 1 .1 1 .1 1-.1 1 .1 1-.2 1 .1 1 0 1 0 1-.1 1 0 1 .1 1 .1 1-.1 1-.1 1 .1 1 0 1 0 1-.1 1 .1 1 .1 1-.2 1 .1 1 0 1 0 1 0 1 .1 1-.1 1-.1 1 0 1 .2 1-.1 1 0 1-.1 1 .2 1-.3 1 0 1 .2 1 .1 1-.1 1 0 1 .1 1 0 1-.1 1-.1 1 .1 1-.1 1-.1 1 0 1 .2 1 .2 1 0 1-.4 1 .1 1 0 1 .1 1-.1 1 0 1 0 1 0 1 .1 1 0 1-.1 1 0 1 0 1 .2 1 0 1-.2 1 .1 1-.1 1 0 1 .2 1-.1 1 .1 1-.2 1 .2 1-.2 1 0 1 0 1 .1 1 0 1 .1 1-.2 1 0 1 .1 1-.1 1 .1 1-.1 1 0 1 .1 1 .2 1-.4 1 .1 1 0 1 .1 1-.2 1-.1 1 .1 1 .1 1 .3 1-.3 1 .2 1-.2 1 0 1 .1 1 .1 1-.2 1 0 1 0 1 .1 1-.5 1-.2 1 .7 1-.2 1 .2 1 .1 1-.4 1 .2 1-.1 1 .3 1-.2 1-.2 1 .2 1 .2 1-.5 1 .3 1-.4 1 .2 1-.2 1 .4 1 .1 1-.2 1-.1 1 .3 1 .2 1-.1 1 0 1 0 1-.1 1 .1 1 .1 1-.3 1-.1 1-.2 1 .4 1-.2 1 .1 1 .1 1-.1 1 .2 1-.1 1-.2 1 .2 1 .1 1-.1 1-.1 1 .1 1 0 1-.2 1 .3 1-.2 1-.1 1 .4 1-.1 1 0 1-.1 1 0 1-.2 1 .1 1 .1 1 .1 1-.1 1 0 1 .1 1-.2 1-.1 1-.3 1 0 1 .5 1-.1 1 .2 1-.1 1 0 1 0 1-.1 1 0 1-.1 1 .2 1 .1 1-.1 1 0 1-.1 1 .1 1 0 1 .1 1-.2 1-.1 1 .3 1 0 1 0 1-.1 1 .1 1-.1 1 .1 1 0 1-.3 1 .1 1 .2 1-.2 1 .1 1-.2 1 .2 1-.1 1 .2 1-.1 1-.2 1 0 1 .2 1-.4 1 .4 1-.4 1 .4 1 .1 1 .1 1-.2 1 0 1 0 1-.2 1 .2 1 .1 1-.2 1 .3 1-.2 1-.4 1 0 1 .3 1-.2 1 .4 1 .1 1-.4 1 .2 1-.2 1 .2 1-.1 1 .3 0 2.7-1 .2-1-.2-1 0-1 0-1 .3-1-.3-1-.1-1 .4-1-.3-1 .2-1-.1-1-.1-1-.1-1 .1-1 .2-1-.2-1 .2-1 .1-1-.2-1-.2-1 .4-1-.4-1 .3-1 0-1 .4-1-.4-1 0-1-.1-1-.2-1 .3-1-.1-1 .3-1-.3-1-.1-1 .2-1-.1-1 0-1-.1-1 .2-1-.3-1 .3-1-.1-1-.1-1 0-1 .2-1 0-1 .1-1-.2-1-.1-1 .1-1 0-1 .2-1 0-1-.4-1 .1-1 0-1 .2-1 .1-1-.3-1 .3-1-.4-1 .1-1 .1-1-.1-1 .3-1-.1-1 .3-1-.4-1 0-1-.1-1 .2-1 0-1 .2-1-.3-1 .1-1-.1-1 0-1 0-1 .1-1 0-1-.3-1 .1-1 .1-1 .1-1-.1-1 0-1 0-1 0-1 0-1 .1-1-.2-1 .1-1-.1-1 .1-1-.1-1-.1-1 .2-1 .3-1-.4-1 0-1 .1-1 .1-1 .2-1 .1-1-.2-1-.2-1 .3-1-.1-1-.2-1 .3-1-.4-1 .3-1 0-1-.2-1 .2-1 0-1 .4-1-.6-1 .3-1-.3-1 .1-1-.2-1 .1-1 0-1 0-1-.1-1 .1-1 0-1 .1-1 .1-1 0-1 .2-1-.1-1 0-1-.4-1 .1-1 0-1-.1-1 .1-1-.1-1 .3-1-.1-1-.1-1 0-1 .1-1-.3-1 .1-1 0-1 .1-1 0-1 .3-1-.3-1-.1-1 .2-1-.1-1 0-1 .2-1-.2-1 0-1-.1-1 .2-1-.1-1 .1-1 0-1-.2-1 .1-1 0-1-.1-1 0-1 0-1 .2-1-.2-1 0-1 .2-1 .1-1 0-1-.3-1 0-1 .1-1 .1-1 .2-1-.3-1 0-1 .1-1-.2-1 .3-1-.1-1-.1-1 .1-1 0-1 0-1 .1-1 .1-1-.2-1-.2-1 .2-1-.2-1-.1-1 .2-1 .1-1-.1-1-.2-1 .2-1 0-1-.1-1 .2-1 .1-1-.3-1 0-1 .1-1-.2-1 .1-1 .2-1-.1-1 .1-1 0-1-.2-1 .1-1 0-1-.1-1 .3-1-.4-1 .1-1 .2-1-.2-1 0-1 .1-1 0-1 0-1-.2-1 .3-1 0-1-.2-1 .1-1-.1-1 0-1 .2-1-.1-1 0-1-.2-1 .3-1-.1-1 .2-1-.2-1 .1-1-.2-1 .1-1 0-1 .1-1 0-1-.1-1-.1-1-.1-1 .2-1 0-1-.1-1 0-1 .1-1 .2-1-.1-1-.1-1-.2-1 .4-1-.3-1 .4-1-.5-1 .1-1 .1-1-.1-1 0-1 .1-1 .3-1-.1-1-.3-1 .1-1-.2-1 .2-1-.1-1 .2-1 .1-1-.2-1-.1-1 .3-1-.2-1-.1-1 .2-1-.2-1 .2-1-.2-1-.1-1 .1-1 .2-1 0-1 0-1 .1-1-.2-1-.1-1 .1-1-.1-1 0-1 .3-1-.2-1-.2-1 .2-1 0-1-.1-1 .1-1-.1-1 .3-1-.2-1 .1-1-.2-1 0-1 .3-1-.3-1 .2-1-.1-1 0-1 0-1-.2-1 0-1 .2-1 .3-1-.5-1 .3-1 .1-1-.2-1 .2-1-.3-1 .1-1 .1-1-.1-1 .1-1-.2-1 0-1-.1-1 .2-1 .2-1-.3-1 .1-1 .3-1-.1-1 0-1 0-1-.4-1 .1-1 .1-1 .1-1 .5-1-.4-1 .1-1-.1-1 0-1 0-1-.3-1 .1-1 0-1 .1-1-.1-1 .2-1-.4-1 .2-1-.1-1 .1-1 .1-1-.1-1 .1-1-.1-1-.2-1 .2-1 0-1 .1-1-.3-1 .2-1 0-1 .2-1-.3-1 0-1 0-1 .2-1-.3-1 .3-1-.1-1 0-1 .2-1 0-1-.3-1 .2-1-.2-1 0-1 0-1 0-1 .1-1-.1-1 .1-1 0-1 .1-1-.2-1 0-1 0-1 .1-1 0-1-.1-1 .4-1-.1-1-.3-1 .2-1 0-1-.3-1 .2-1 .2-1-.2-1 0-1 .1-1-.1-1-.1-1 .2-1-.2-1 .1-1-.1-1 .2-1 .1-1-.2-1-.2-1 .2-1-.1-1 .1-1 0-1 .1-1-.2-1-.1-1 .2-1-.2-1 .1-1 0-1 .4-1-.2-1-.2-1 .2-1 0-1 0-1-.1-1-.1-1 0-1 0-1 .1-1 0-1 .1-1-.4-1 .2-1 .2-1-.2-1 0-1 .1-1-.1-1 .1-1 .5-1-.5-1-.2-1 .2-1-.1-1 .2-1-.1-1 .1-1-.1-1-.1-1 .2-1 .4-1-.2-1-.3-1 .1-1-.2-1 .1-1 .4-1-.3-1 0-1-.3-1 .4-1-.2-1 0-1 .1-1-.1-1 0-1-.1-1 .3-1-.1-1 .4-1-.3-1-.1-1-.1-1 0-1 .1-1-.1-1 .3-1-.3-1 0-1 0-1 .2-1-.3-1 .3-1-.3-1 0-1 .4-1-.2-1 .1-1-.3-1 .2-1-.2-1 .2-1-.2-1 0-1 .4-1-.3-1-.1-1 .2-1-.3-1 .1-1 0-1 .2-1-.1-1-.1-1 0-1 .1-1 .1-1-.1-1-.2-1 .1-1 .4-1-.5-1 .3-1-.1-1 0-1-.1-1 .2-1-.2-1 .1-1 .1-1-.2-1 .1-1 0-1-.1-1 .1-1 .1-1 0-1-.1-1-.1-1-.1-1 .2-1-.1-1 0-1 .3-1-.4-1 .2-1 .1-1 0-1-.1-1 .1-1-.2-1 0-1 .2-1-.2-1 .3-1-.3-1 .2-1 0-1-.2-1 .2-1-.1-1-.1-1 .1-1 .1-1-.1-1 .1-1-.1-1-.1-1 .1-1 .1-1-.1-1 .1-1-.2-1-.1-1 .1-1 0-1 .1-1 0-1 0-1 0-1-.1-1 .1-1 0-1-.1-1 .2-1 0-1 .1-1-.3-1 .1-1-.1-1 0-1 0-1 0-1-.1-1 .2-1 0-1 .2-1-.2-1 .3-1 .2-1-.6-1 0-1 .2-1-.1-1-.1-1 0-1 .1-1-.1-1-.1-1 .1-1 .2-1-.2-1 .5-1-.6-1 .7-1 0-1-.6-1 0-1 0-1 0-1 .3-1-.1-1-.2-1 .2-1 .2-1-.2-1 0-1 0-1-.1-1 0-1 0-1 .1-1 0-1-.1-1-.1-1 .1-1-.1-1 .1-1 .1-1-.3-1 .5-1-.4-1 0-1 0-1 .1-1 0-1 0-1 0-1-.1-1 0-1-.1-1 .1-1 0-1 .1-1 .1-1 .3-1 0-1-.1-1-.3-1-.1-1 .1-1 0-1 0-1 0-1 .1-1-.1-1-.1-1 .2-1-.1-1 .1-1-.1-1-.1-1 0-1 .3-1-.1-1-.3-1 .4-1-.1-1-.2-1-.1-1 .3-1 .2-1-.3-1 .1-1 0-1-.2-1 0-1 .1-1-.1-1 0-1-.1-1 .3-1-.2-1 .1-1 .1-1-.2-1 0-1 .1-1 .2-1 0-1-.1-1-.1-1-.1-1 .1-1-.2-1 0-1 .1-1 0-1 .2-1-.1-1 0-1-.2-1 .2-1 .2-1 .1-1 0-1-.4-1 .3-1-.2-1-.1-1 .1-1 0-1 0-1-.1-1 .1-1-.1-1-.1-1 .2-1-.2-1 .2-1-.2-1 .2-1 0-1 0-1 .2-1-.3-1 .3-1-.1-1 .1-1 0-1-.2-1 .2-1-.2-1-.1-1 .2-1-.2-1 .1-1 0-1-.1-1 .1-1 0-1 0-1-.1-1 .6-1-.5-1 0-1 .2-1-.3-1 .3-1-.1-1 .5-1-.3-1 .2-1-.4-1-.1-1 .1-1-.4-1 .2-1 .1-1 .1-1-.2-1 .2-1-.1-1 .2-1-.2-1-.2-1 .2-1 0-1 .1-1 0-1 0-1-.2-1 .1-1-.2-1 .1-1 .1-1 0-1 0-1 .1-1 0-1-.1-1-.1-1 0-1-.1-1 .1-1 0-1 .3-1-.1-1 0-1-.2-1 .2-1-.2-1 0-1 .2-1-.1-1 .1-1-.1-1 0-1-.2-1 .2-1 0-1-.1-1 .1-1 0-1-.1-1 0-1 .2-1-.2-1 .1-1 0-1-.1-1 .2-1-.2-1 .1-1 .1-1 0-1-.2-1 .1-1 .1-1-.2-1 0-1 0-1 .1-1 .1-1 .1-1 .3-1 .2-1-.4-1 0-1-.3-1-.1-1 .2-1-.1-1 0-1-.1-1-.1-1 .1-1 .1-1 .5-1-.7-1 .3-1-.2-1-.2-1 .5-1 0-1-.3-1 0-1 .1-1 0-1 0-1-.1-1 .2-1 .3-1-.3-1-.1-1-.1-1 0z"/>
<path fill="#ff0000" d="M138.5 733.4l1-.2 1 .1 1-.2 1-.3 1 .3 1 .3 1 .1 1 .1 1-.3 1-.4 1 .7 1-.1 1 .1 1 0 1-.1 1 0 1-.8 1 .2 1 .4 1-.1 1 .2 1 .3 1-.2 1 .2 1-.2 1 .2 1-.2 1 .1 1-.1 1 .3 1-.3 1 .2 1-.2 1 0 1 .1 1 0 1-.1 1 .1 1 0 1 0 1 0 1 0 1 0 1 .1 1-.1 1 .1 1-.1 1 0 1-.1 1 .2 1-.3 1 0 1-.2 1-.3 1 .3 1 .4 1 0 1 0 1 0 1 0 1-.4 1 .4 1-.2 1 .2 1 .2 1 0 1-.4 1-.1 1-.1 1 .4 1-.2 1 .3 1 0 1-.3 1 .1 1-.1 1 .2 1 0 1 .1 1-.2 1 .1 1 0 1 .1 1-.3 1 .2 1 0 1 0 1-.6 1 .1 1 .3 1 .2 1-.1 1 .3 1-.2 1-.1 1 .1 1-.1 1 0 1 0 1-.3 1 .2 1 .2 1 0 1 0 1-.1 1 0 1-.1 1 .1 1-.1 1 .2 1 0 1 .1 1-.1 1 .1 1-.2 1 .1 1-.1 1 0 1 .2 1-.1 1 0 1 0 1-.1 1-.1 1 .3 1-.2 1 .1 1 0 1 0 1 .1 1-.2 1-.3 1 .3 1 0 1 .1 1 0 1-.1 1-.2 1 .3 1 .1 1-.2 1 .2 1-.2 1 .1 1 0 1-.2 1 0 1-.3 1 .4 1-.2 1-.1 1-.1 1 .3 1 .1 1 0 1-.1 1 .1 1 .1 1 0 1-.1 1 .2 1-.1 1-.2 1-.1 1 0 1-.5 1 .8 1-.1 1-.2 1 .3 1-.2 1 .3 1-.3 1 .3 1-.2 1 .1 1-.1 1-.4 1 .6 1-.2 1 .1 1 0 1 0 1-.1 1 0 1 0 1 .2 1-.2 1 .1 1-.6 1 .5 1 0 1 .1 1 0 1-.1 1-.2 1-.1 1 .1 1 .4 1-.4 1 0 1 0 1 .2 1 .1 1-.1 1-.2 1-.2 1 .2 1 0 1 0 1 .1 1-.4 1 .5 1 .3 1-.4 1 .1 1-.1 1-.3 1 .1 1 .6 1-.2 1 .1 1-.2 1-.2 1 .2 1 .1 1-.1 1 .1 1-.2 1-.1 1-.1 1 .4 1 .1 1-.1 1 .1 1 .1 1-.4 1 .1 1 .1 1-.3 1-.4 1 .4 1-.2 1 .2 1-.4 1 .3 1 .4 1-.2 1 0 1 0 1 .2 1 .1 1-.1 1 .1 1-.1 1-.8 1-.1 1 .8 1 0 1 0 1 .2 1-.2 1 .2 1-.2 1 .2 1-.1 1-.1 1 .2 1-.1 1-.1 1 0 1 .1 1-.1 1-.1 1 .2 1 0 1-.1 1-.2 1-.2 1-.3 1 .3 1 .7 1-.2 1 .1 1 0 1-.2 1 .1 1 0 1 0 1-.1 1 .1 1 .1 1-.4 1-.3 1 .1 1 .4 1-.2 1-.3 1-.2 1-.2 1 .8 1 .1 1-.3 1 0 1-.8 1 .8 1 .3 1 .2 1 0 1-.1 1-.2 1-.3 1 .3 1-.2 1 .4 1-.1 1 .1 1 .1 1-.3 1 .2 1-.1 1-.1 1 .4 1 0 1-.3 1 0 1-.1 1-.5 1 .3 1-.2 1-.2 1 .7 1-.1 1 .1 1 0 1-.1 1 .2 1 0 1-.2 1 .1 1-.1 1 .1 1 .1 1 0 1 .1 1-.1 1 .1 1-.1 1 .1 1-.1 1-.1 1 .1 1 .1 1 0 1 0 1-.2 1 .2 1 0 1-.1 1 .1 1-.3 1 .2 1-.4 1 .1 1-.3 1 .1 1 .1 1 .1 1 .2 1-.1 1 .1 1 .1 1-.3 1 .3 1 0 1 0 1 0 1-.1 1 0 1-.1 1 .2 1-.1 1-.9 1 .4 1 .4 1 .4 1-.5 1-.3 1 .2 1 .1 1-.1 1 .2 1 .1 1 .1 1-.1 1 .2 1-.2 1 .1 1 0 1-.1 1 0 1 .1 1 0 1-.1 1-.2 1 .4 1-.5 1-.3 1 0 1 .6 1-.2 1 .4 1-.2 1 .1 1-.1 1 0 1 .1 1-.1 1-.3 1 .1 1-.2 1 0 1-.2 1 .3 1 .3 1-.1 1-.7 1 .3 1-.1 1 .6 1 .1 1-.1 1 .1 1 .2 1-.3 1 .1 1-.1 1 .3 1-.1 1-.4 1-.3 1 .5 1 .2 1-.1 1 .2 1 0 1-.1 1-.1 1-.6 1 0 1 0 1 .4 1 .3 1 0 1-.1 1-.1 1 .1 1-.1 1 .2 1-.2 1 .1 1-.2 1 .4 1-.4 1-.2 1 .2 1 .3 1-.2 1 .1 1 .1 1-.1 1 .1 1-.1 1 0 1-.1 1 .2 1-.1 1-.1 1 0 1 .1 1-.3 1 .1 1 .1 1 .1 1 0 1 .1 1-.1 1 0 1 0 1 .1 1 .1 1-.2 1-.2 1 .2 1-.1 1 0 1 .1 1-.1 1 .2 1-.1 1-.1 1 .1 1 0 1-.6 1 .4 1 .3 1 0 1-.2 1-.2 1 0 1-.1 1 .3 1 0 1-.3 1-.3 1 .2 1 .1 1 .1 1-.5 1 .7 1 .1 1 .1 1-.1 1 .2 1-.2 1-.3 1 .1 1-.1 1 .2 1 .1 1-.2 1 0 1 .2 1 .1 1-.3 1 .1 1-.1 1 .4 1-.3 1-.1 1 .1 1 .2 1-.3 1-.1 1-.2 1 .2 1-.1 1 .1 1 .3 1 .1 1-.2 1 0 1-.4 1 0 1 .1 1 .2 1 .3 1-.1 1-.4 1-.2 1 .2 1 .2 1 .3 1-.2 1 .2 1 0 1-.2 1 0 1-.3 1-.4 1 .6 1 0 1 .2 1 0 1-.1 1 .1 1 0 1 0 1 0 1-.1 1-.1 1 .3 1-.4 1 0 1 .3 1-.1 1 .1 1-.1 1 .1 1-.1 1 0 1 0 1-.1 1 .1 1 0 1 .1 1 .2 1-.6 1 .6 1-.4 1-.3 1 .1 1-.1 1 .1 1 .1 1 .3 1 .1 1 0 1-.4 1-.3 1 .2 1-.3 1 0 1 .4 1 .3 1 .1 1 0 1 0 1-.2 1 0 1 .1 1-.2 1 .2 1-.2 1-.4 1 .2 1 .2 1 .1 1 0 1-.1 1 .1 1 .2 1-.2 1 0 1 .1 1 0 1-.1 1 .1 1-.1 1-.1 1-.1 1 .1 1 0 1-.2 1 .1 1 .2 1 0 1 .1 1 0 1-.2 1 .2 1 0 1-.1 1-.1 1 .2 1-.1 1 .1 1-.4 1-.1 1 .4 1 .1 1-.1 1 .2 1-.2 1 .1 1-.1 1 .1 1 0 .5 0 .5 .1 .5-.3 .5 0 .5 .1 .5 .1 .5 .1 .5 .1 .5-.3 .5-.3 .5 0 .5 .4 .5 0 .5-.4 .5-.4 .5-.2 .5-.1 .5-.1 .5 0 .5 0 .5 .3 .5 .3 .5 .3 .5 .1 .5-.3 .5-.7 .5-1.6 .5-4.1 .5-1.7 .5-.7 .5-.5 .5 0 .5 0 .5 .9 .5 .5 .5 1.6 .5 1.3 .5-.6 .5-3.3 .5-1.8 .5-2.2 .5-.3 .5 0 .5-.1 .5 0 .5 0 .5 1.3 .5 2.3 .5 .5 .5 0 .5 3.7 .5 .8 .5 .6 .5 1 .5 .3 .5 0 .5 0 .5-.5 .5 0 .5 0 .5 .2 .5 .3 .5-.8 .5 0 .5 0 .5 .8 .5 .3 .5 .2 .5 0 .5 .9 .5 .6 .5 0 .5 .1 .5 0 .5 .1 .5 .3 .5 .4 .5 0 .5-.1 .5 0 .5 0 .5 0 .5-.3 .5 0 .5 0 .5 .1 .5-.5 .5 0 .5 0 .5 0 .5 .6 .5 0 .5 0 .5-.4 .5 0 .5 0 .5 .2 .5 .4 .5 .1 .5 .1 .5 0 .5 0 .5 .1 .5 0 .5 .1 .5 0 1-.3 1 .3 1-.5 1 .1 1-.2 1-.3 1 .5 1-.1 1 .3 1 0 1-.1 1 .3 1-.2 1-.1 1 .2 1-.1 1 .1 1 .2 1-.3 1-.2 1 0 1-.1 1 .4 1 .1 1 0 1-.1 1 0 1 0 1 .1 1 0 1 .1 1-.1 1 0 1 0 1 .2 1-.3 1 0 1-.1 1-.1 1 .2 1 .2 1-.1 1-.2 1 .2 1 .2 1-.7 1 .1 1 0 1 .4 1-.5 1 .4 1-.3 1 .3 1 .1 1-.1 1 0 1 .2 1 0 1 0 1 0 1-.1 1 0 1-.3 1 .2 1-.3 1 .2 1 .1 1 .1 1 0 1 0 1-.1 1 .2 1-.1 1-.2 1 0 1 .2 1 0 1 0 1-.2 1-.1 1 0 1 .2 1 0 1-.4 1 0 1 .4 1 .2 1-.3 1 .2 1 .1 1 0 1-.2 1-.1 1 0 1 .3 1-.1 1 .2 1-.3 1 .3 1-.2 1 0 1 .1 1 0 1-.2 1 .1 1 .1 1-.1 1 .2 1-.2 1 0 1-.3 1-.1 1 .5 1 0 1 0 1-.1 1 0 1-.1 1-.1 1 .1 1-.4 1 .3 1 0 1 0 1 .2 1-.1 1 0 1-.3 1-.1 1 .4 1 .2 1-.2 1 .2 1-.1 1-.4 1 0 1 .2 1-.1 1 .3 1-.1 1 .1 1-.1 1-.2 1 .3 1-.5 1 .1 1 .4 1 0 1 .1 1 0 1-.4 1-.4 1 .6 0 3.3-1 .1-1-.2-1-.3-1 .1-1 .3-1-.3-1 .4-1-.4-1 .2-1 0-1-.2-1 .1-1 0-1 .2-1 .2-1-.3-1 .4-1-.3-1-.4-1 .1-1 .1-1-.1-1 .3-1 .3-1-.1-1 0-1-.5-1-.2-1 .1-1 .3-1 .1-1 .1-1-.5-1 .1-1 0-1 0-1-.2-1 .4-1-.3-1 .1-1 .2-1 .5-1-.7-1-.1-1 0-1 .1-1 .3-1-.3-1 .3-1-.2-1-.2-1 0-1 0-1 .1-1 0-1 0-1 0-1-.1-1 .2-1-.1-1-.2-1 .1-1 0-1 .2-1 0-1 .1-1-.1-1 .9-1-.6-1 .3-1-.7-1 .1-1 .4-1-.2-1-.1-1-.1-1-.2-1 0-1 0-1 .3-1-.2-1 .2-1-.2-1 .2-1-.3-1 .1-1 .3-1-.2-1 0-1-.1-1-.2-1 .2-1 .1-1-.3-1 .1-1 0-1 0-1 0-1 .2-1-.1-1-.1-1 0-1 .4-1-.1-1 0-1 .5-1-.2-1-.6-1 .1-1 0-1 .1-1-.2-1 .1-1-.1-1 0-1 0-1 .2-1-.2-1 .1-1 0-1-.1-1 0-1 .1-1-.1-1 .1-1-.2-1 .2-1-.1-1 .2-1-.1-1 0-1 .6-1-.1-1-.5-1-.1-1 .2-1-.1-1 .1-1 .2-1-.2-1-.1-1 .1-1 .1-1 .6-1-.6-1 0-1-.2-1 .6-1 .5-1-.9-1-.1-1-.3-1 .1-.5 0-.5 0-.5 .1-.5-.1-.5 0-.5 0-.5 .1-.5 .1-.5 .2-.5 .2-.5 .3-.5 0-.5-.4-.5-.2-.5 0-.5 0-.5 .3-.5 .1-.5 .4-.5 .5-.5 .3-.5 0-.5 0-.5-.4-.5 .3-.5 .1-.5 0-.5 0-.5 0-.5 1.1-.5 0-.5 0-.5-1.4-.5 .7-.5 0-.5 0-.5-1.1-.5 .7-.5 .5-.5 .3-.5 1.9-.5 0-.5 0-.5-1.2-.5 .6-.5 0-.5 0-.5-.6-.5 0-.5 0-.5 .4-.5 .3-.5 1.1-.5 .9-.5 .9-.5 1.1-.5 1.1-.5 1.4-.5 1.1-.5 1-.5 8.1-.5 .1-.5 0-.5 0-.5-.1-.5-2.8-.5-4.5-.5-7.3-.5-1-.5 .9-.5 1.2-.5 .7-.5 6.1-.5 2.1-.5 .2-.5 0-.5 0-.5-2.1-.5-8.5-.5-4.7-.5-.4-.5 0-.5 .2-.5 .3-.5 .6-.5 .3-.5 .2-.5 0-.5 0-.5-.3-.5 0-.5-.8-.5-.9-.5 0-.5 0-.5 .1-.5 0-.5-.4-.5 0-.5 .1-.5 0-.5-.1-.5 .2-.5 0-.5 0-.5-.2-1 0-1 .2-1-.1-1-.1-1 .2-1-.1-1 0-1 .1-1 .2-1 .6-1-.8-1 0-1 0-1 .5-1-.4-1-.2-1-.1-1-.1-1 .2-1 0-1-.1-1 .7-1-.1-1-.1-1-.2-1-.1-1-.1-1-.1-1 .1-1 0-1 .1-1-.1-1-.1-1-.1-1 .3-1-.3-1 .2-1-.1-1 .2-1 0-1-.1-1 .7-1-.2-1-.4-1-.2-1 .1-1 0-1 .1-1 .1-1-.3-1 0-1 .1-1 .3-1 .3-1-.1-1-.2-1 .2-1 .3-1-.3-1-.3-1-.1-1 .1-1-.1-1 .2-1-.2-1 .3-1 .3-1-.5-1-.4-1 .3-1-.2-1 .3-1-.5-1 .7-1-.2-1-.1-1-.1-1 0-1 0-1 .2-1-.3-1-.1-1 .5-1-.2-1 .1-1-.2-1-.1-1 .1-1-.1-1 0-1 .1-1-.2-1 .3-1-.1-1 0-1 0-1 .6-1-.2-1 0-1-.4-1 0-1 0-1 0-1-.1-1 .1-1 0-1 .3-1-.1-1 .1-1-.4-1-.1-1 .4-1 0-1 .8-1-.7-1 0-1-.4-1 .1-1-.1-1 .4-1 .5-1-.6-1 .1-1 0-1-.3-1-.1-1 0-1 0-1 0-1 0-1 .1-1-.1-1 .1-1-.1-1 .1-1 .3-1-.2-1 .1-1-.3-1 0-1 .3-1 .2-1-.3-1-.2-1 0-1 .2-1-.3-1 .3-1 .3-1-.5-1 .1-1 .6-1 0-1 0-1-.4-1-.3-1 0-1 .3-1 .2-1-.2-1-.1-1 0-1 .2-1 .3-1-.4-1-.4-1 .2-1 0-1-.2-1 .1-1 0-1 0-1 .1-1-.1-1 .2-1-.3-1 .2-1 0-1 0-1 .1-1 0-1-.2-1 0-1 0-1 0-1 .4-1 .2-1-.5-1-.1-1 0-1 .1-1-.1-1 .1-1 0-1 .1-1-.2-1 .1-1 .1-1-.2-1-.1-1 .3-1 .2-1 .3-1-.6-1 0-1 .2-1-.2-1 0-1 .1-1 0-1-.1-1-.1-1 .2-1-.2-1 .2-1 .1-1 .5-1-.4-1-.1-1-.3-1 .1-1 0-1 0-1-.1-1 .3-1 .1-1 .6-1-.5-1-.4-1-.1-1 .1-1-.2-1 .3-1-.1-1 .1-1-.1-1 0-1 .2-1 .1-1 .1-1 .2-1-.3-1-.4-1 .7-1 .2-1-.5-1-.1-1 .3-1-.2-1-.1-1-.2-1-.1-1 0-1 .2-1 0-1-.3-1 .3-1 .1-1 .5-1-.1-1-.4-1-.2-1 .5-1-.4-1-.1-1 0-1-.2-1 .1-1 .1-1-.1-1 0-1 0-1-.2-1 .4-1-.1-1 .3-1 .2-1 .1-1-.3-1 .1-1-.3-1 0-1 .3-1-.2-1 .2-1-.3-1 .1-1-.2-1-.2-1 .1-1-.1-1 .4-1-.1-1-.1-1-.2-1 .3-1 0-1-.1-1 .6-1-.4-1 .5-1 0-1-.6-1 0-1 .4-1-.5-1 .1-1 0-1-.2-1 .1-1 .1-1 .1-1-.3-1 .2-1-.2-1 .1-1 0-1 0-1 .1-1-.1-1-.1-1-.1-1 .2-1 .1-1-.1-1-.1-1 0-1 0-1 .2-1-.1-1 0-1 .5-1-.1-1-.4-1-.2-1 .4-1 .8-1-.5-1 .1-1 0-1 .1-1-.5-1-.1-1-.2-1 .1-1 .3-1-.2-1-.1-1 0-1 0-1-.1-1 .1-1 .3-1 .4-1 0-1-.5-1-.3-1 .1-1-.1-1 .1-1 0-1 .5-1 0-1 0-1-.2-1-.1-1-.2-1 .1-1 .5-1 .1-1-.4-1 .4-1 .4-1-1-1 .4-1-.6-1 0-1 .2-1-.1-1 0-1-.1-1 .1-1-.1-1 .1-1 0-1-.1-1 .8-1-.4-1 .2-1-.3-1-.3-1 .2-1-.2-1 .1-1-.1-1 .3-1-.3-1 .2-1-.2-1 0-1 0-1 .1-1-.1-1 .3-1-.3-1 .1-1 0-1 0-1-.1-1 .1-1 .4-1-.3-1-.2-1-.1-1 .2-1 .1-1-.1-1-.1-1 .2-1-.1-1-.1-1 .4-1 .3-1 0-1-.2-1 .3-1-.2-1-.3-1-.3-1 .1-1 0-1 .3-1-.4-1 .1-1-.2-1 0-1 .4-1 .2-1-.1-1-.4-1 .1-1-.1-1 .2-1 .3-1 0-1-.5-1 .1-1 0-1 .1-1 .3-1-.3-1 0-1 0-1-.2-1 .1-1 .2-1 .6-1-.3-1 0-1-.2-1 .3-1-.1-1-.5-1 0-1 .1-1 .1-1-.1-1-.1-1 .4-1-.4-1 .3-1 0-1-.4-1 0-1 .1-1 0-1-.1-1-.1-1 .1-1 0-1 .2-1-.2-1-.1-1 .1-1 .1-1 .1-1 0-1 .1-1-.2-1 .2-1 .1-1-.5-1 .2-1-.1-1 .2-1-.1-1 0-1 .1-1-.1-1-.2-1 .3-1 .7-1-.3-1-.5-1-.2-1 .3-1-.2-1 .2-1-.3-1 .1-1 .2-1-.1-1-.1-1 .1-1 .1-1 .2-1 0-1-.2-1 .2-1 .3-1-.4-1-.2-1 .1-1-.1-1 .2-1-.3-1-.2-1 .3-1 .1-1 .2-1-.2-1-.1-1-.1-1 .2-1-.4-1 .3-1-.1-1 .2-1-.3-1 .1-1 .1-1 .1-1-.2-1 0-1-.1-1 .5-1-.4-1 .1-1 0-1-.2-1 0-1 .1-1-.1-1 .1-1 .2-1 0-1-.2-1 0-1 .1-1 .2-1-.1-1-.1-1-.1-1 .2-1-.3-1 .1-1 .3-1 .1-1-.2-1-.2-1-.1-1 .5-1-.5-1 .2-1 .1-1-.1-1-.1-1 .1-1 .3-1 .2-1-.6-1 0-1 .1-1 0-1-.1-1 .3-1-.2-1-.2-1 .2-1-.3-1 .4-1-.1-1-.2-1 .3-1-.1-1-.2-1 .1-1 .3-1 .2-1 0-1-.5-1 0-1 .2-1-.3-1 .2-1 .2-1-.3-1 .2-1-.2-1-.1-1 .1-1 .2-1 .1-1 .3-1-.2-1-.3-1 .2-1-.1-1-.1-1-.2-1 .1-1 .1-1 0-1 0-1-.1-1 .2-1-.3-1 .1-1 0-1 0-1 .2-1-.1-1 .1-1-.2-1 0-1 .1-1-.1-1 .1-1-.1-1 .4-1-.5-1 .2-1-.1-1 .1-1-.1-1 .1-1 .1-1 .3-1 .1-1 .1-1 0-1-.4-1 0-1-.3-1 .1-1-.1-1 .3-1 .3-1-.1-1 0-1-.3-1 0-1 .3-1 .9-1-1.2-1 .1-1 .1-1-.5z"/>
<path fill="#0000ff" d="M138.5 765l1 .1 1-.1 1 0 1 .1 1-.1 1-.1 1 .1 1-.1 1 .2 1-.2 1-.1 1 .3 1 0 1-.1 1 .1 1-.3 1 .1 1 .2 1-.1 1 .2 1-.3 1 .1 1-.1 1 0 1 .1 1-.4 1 .5 1 .1 1-.3 1 0 1 .1 1 .1 1-.3 1 .4 1-.1 1 0 1-.3 1 .3 1-.1 1 .1 1-.2 1 .1 1 .1 1 0 1 0 1 0 1 .2 1-.2 1-.1 1 .1 1-.1 1 0 1-.1 1 .3 1-.3 1 .3 1-.2 1 .1 1-.1 1 0 1 0 1 .1 1 .1 1-.1 1-.2 1 .1 1-.1 1 .1 1-.1 1 .1 1 .1 1-.4 1 .6 1-.3 1 0 1 .1 1-.1 1-.1 1 .2 1 .1 1-.5 1 .2 1 .1 1 .1 1 .1 1-.1 1 .1 1-.4 1 .2 1-.1 1-.1 1 .3 1-.2 1 .3 1 0 1-.2 1-.1 1 .2 1 0 1-.1 1 .1 1 0 1-.2 1 0 1 .1 1-.2 1 .1 1 .2 1 .1 1-.1 1-.1 1 .1 1 0 1 0 1-.4 1 .2 1-.1 1 .2 1 0 1 0 1 .1 1 .1 1-.1 1-.1 1 .1 1-.1 1 .1 1 0 1 0 1 0 1-.3 1 .1 1 .2 1 0 1 .1 1-.2 1-.1 1 .2 1 .1 1-.1 1-.2 1 .3 1 .1 1-.3 1 0 1-.1 1 .2 1-.3 1 .3 1 0 1 0 1 .2 1-.6 1 .2 1 .3 1-.3 1 .2 1-.3 1 .2 1 0 1-.2 1 .2 1 .2 1-.2 1 0 1 0 1 .1 1 0 1 0 1 .1 1-.1 1-.3 1 .4 1 0 1-.1 1-.2 1 .2 1 0 1 .1 1-.3 1 .1 1 0 1 .1 1-.2 1 0 1 .2 1-.2 1 0 1 .1 1 .1 1-.2 1 .2 1-.1 1 .1 1-.2 1-.1 1 .2 1-.1 1 .2 1-.2 1 .1 1-.1 1 .1 1 .1 1-.1 1 .1 1-.5 1 .6 1-.3 1 .1 1 .2 1-.1 1-.2 1 .2 1-.2 1 .2 1-.1 1-.2 1 .3 1 .1 1-.4 1 .2 1 .2 1-.5 1 .2 1 .1 1 .2 1-.1 1-.1 1 .2 1-.1 1-.1 1 0 1 .2 1-.2 1 .2 1-.2 1 0 1-.1 1 .3 1-.5 1 .5 1-.3 1 .1 1 .1 1 0 1 0 1-.1 1 .2 1 0 1-.2 1 0 1 0 1 0 1 .2 1-.1 1 .1 1-.3 1 .3 1-.1 1-.2 1 0 1 .2 1-.1 1 0 1-.2 1-.7 1 .1 1 .7 1 .1 1 0 1 .2 1-.2 1-.1 1 .3 1-.2 1 .1 1-.3 1 .2 1 .1 1 0 1 0 1-.2 1 .3 1-.3 1 .1 1 .2 1-.4 1 .4 1-.1 1-.1 1 0 1 .1 1-.1 1 .1 1-.2 1 .1 1 .1 1-.1 1 .2 1-.3 1 .1 1 .1 1-.2 1 0 1 .1 1 .1 1-.2 1 .2 1 0 1 .1 1 0 1-.1 1-.4 1 .1 1 .5 1-.2 1-.1 1-.1 1 .2 1 0 1 .1 1-.2 1 .1 1-.2 1 0 1 .2 1 0 1-.2 1 .1 1-.1 1 .3 1-.1 1-.1 1 .1 1-.1 1-.2 1 .2 1-.1 1 .3 1-.2 1 0 1 .2 1-.3 1 .2 1-.3 1 .2 1 .1 1-.1 1 .2 1-.2 1-.1 1 .1 1 0 1 0 1 0 1-.1 1-.2 1 0 1 .5 1-.2 1-.1 1 .2 1-.2 1 .3 1-.1 1-.2 1 .2 1-.1 1 .1 1 0 1-.2 1 .1 1 .1 1 .1 1 0 1-.2 1-.1 1 .1 1 .2 1-.2 1 0 1 0 1 .4 1-.3 1-.1 1 .2 1-.1 1 0 1-.1 1 0 1-.3 1 .2 1 .1 1 .2 1-.2 1 .1 1 0 1-.2 1 .1 1 .2 1-.5 1 .2 1 .1 1-.1 1 .1 1 .1 1-.3 1 .1 1 0 1-.4 1 .3 1 0 1 .1 1 .2 1-.1 1 .2 1-.2 1 .1 1-.3 1 .3 1-.2 1-.1 1 .4 1-.3 1 .1 1 0 1-.1 1-.6 1 .1 1 .3 1 .4 1 .2 1-.6 1 .2 1 .2 1 0 1 0 1-.6 1 .5 1 .1 1 0 1 0 1 .1 1-.2 1 .2 1-.1 1-.1 1 .1 1 0 1-.1 1 .1 1 .1 1-.5 1 .4 1-.1 1 .2 1-.3 1 .2 1 .1 1-.2 1-.4 1 .2 1-.3 1 .4 1-.2 1 0 1 .2 1 .1 1 .2 1-.1 1-.4 1 .1 1 .1 1 .1 1 .1 1 .1 1 0 1-.2 1 .1 1-.1 1 .1 1 0 1-.1 1 .2 1-.3 1 0 1-.2 1 .4 1-.1 1-.1 1 .2 1-.3 1 .2 1 .2 1-.2 1 .1 1-.2 1 .2 1-.3 1 .3 1-.2 1 .2 1 0 1-.5 1 .4 1 0 1 .1 1-.2 1 .1 1 0 1 .1 1 0 1 0 1 0 1-.1 1 .2 1-.4 1 .1 1 .3 1 0 1-.1 1 0 1 .1 1-.3 1 .3 1 .1 1-.1 1 0 1-.2 1 .2 1-.4 1 .2 1-.2 1 .4 1-.2 1 0 1 0 1-.4 1 .2 1 .3 1-.1 1 0 1-.4 1 .4 1 .1 1 .1 1-.1 1-.2 1 .1 1 .2 1 0 1-.2 1-.2 1 .2 1-.2 1 .2 1-.1 1 .1 1 0 1 .1 1 0 1-.1 1 .1 1 .1 1-.3 1 .2 1-.1 1 0 1 .3 1-.4 1 .2 1-.1 1 0 1 .2 1 .1 1-.4 1 .1 1 .1 1-.3 1 .2 1 .2 1-.3 1 .1 1 0 1-.1 1 .3 1-.4 1 .5 1-.3 1 .1 1-.2 1-.2 1 .3 1-.1 1 .1 1 .1 1 .1 1-.2 1 0 1-.2 1 .3 1-.3 1 .3 1-.2 1 0 1 .1 1 .1 1-.2 1 0 1-.1 1 0 1 .3 1-.3 1 .2 1-.1 1 .1 1 .2 1 0 1-.2 1 0 1-.1 1-.1 1 .1 1 .1 1-.1 1 .1 1-.1 1 .2 1 .1 1-.2 1-.2 1 .2 1 0 1 .1 1-.4 1 .1 1 .2 1-.3 1 .4 1-.2 1 .2 1 0 1 0 1 0 1-.1 1 .2 1-.2 1-.2 1 .3 1-.1 1 0 1 0 1 .1 1-.5 1 .6 1-.1 1 0 1 0 1 0 1 0 1 0 1-.3 1 .2 1-.1 1 .2 1-.1 1 0 1 .2 1-.2 1 0 1 .1 1-.1 1-.2 1 .3 1 .1 1 0 1-.1 1-.1 1 .1 1-.3 1 .3 1-.1 1 0 1 0 1 0 1 .1 1-.2 1 0 1 0 1 .3 1-.1 1-.3 1 .3 1-.1 1 .2 1 0 1-.2 1 0 1 .1 1 0 1 .1 1-.2 1-.2 1 .3 1 0 1 0 1-.1 1-.2 1 .1 1 .1 1 .2 1-.2 1 .1 1-.2 1 0 1 .2 1 0 1-.3 1 .2 1-.1 1 .2 1 0 1-.1 1 .1 1-.1 1 0 1 .2 1-.1 1 0 1-.1 1 .1 1-.2 1 .1 1 .1 1 .1 1-.1 1-.1 1 .1 1 .1 1 0 1-.1 1 0 1 0 1 .1 1-.3 1 .1 1-.1 1 .1 1 0 1 .1 1 0 1-.1 1 .2 1-.2 1-.2 1 .4 1-.2 1 0 1 .2 1-.4 1 .1 1 .2 1 0 1-.2 1 .1 1-.1 1 .2 1-.3 1 0 1 .3 1-.3 1 .2 1 0 1 .2 1-.1 1 0 1-.4 1 .2 1 .1 1-.1 1-.2 1 .1 1 .1 1 .2 1 .1 1-.1 1 .1 1-.2 1 0 1 0 1 .3 1-.2 1 0 1 0 1-.1 1 0 1-.1 1 .2 1-.1 1 0 1-.1 1 .3 1-.1 1 .1 1-.1 1 .2 1-.3 1 .1 1-.3 1 .4 1-.2 1-.2 1 .3 1-.2 1 .2 1-.2 1 .2 1 0 1-.1 1 0 1 0 1 0 1 0 1-.2 1 .4 1-.2 1 .2 1-.4 1 .3 1-.2 1 0 1 0 1 .1 1 .1 1-.2 1 .1 1 .2 1-.2 1 0 1 .1 1 .1 1 0 1-.1 1-.1 1 .1 1-.1 1 .2 1-.2 1 0 1 .1 1 0 1-.2 1 .2 1 .1 1-.1 1 0 1-.2 1 .1 1 0 1 .1 1-.2 1 .1 1-.2 1 .1 1 .2 1 .1 1-.2 1-.1 1 .2 1-.2 1 .3 1-.2 1 .1 0 2.9-1 .2-1-.3-1 .4-1-.3-1 .1-1-.1-1 0-1 .3-1-.3-1 0-1 .1-1-.1-1 .2-1-.2-1 .1-1 .2-1-.2-1 .2-1-.3-1 0-1 .2-1-.2-1 0-1 .2-1-.1-1 0-1 .3-1-.2-1 0-1-.2-1 .2-1-.2-1 .2-1-.2-1 .1-1 0-1 0-1 .1-1 .1-1-.2-1 .1-1 0-1-.1-1-.1-1 .2-1 .1-1-.2-1 0-1-.1-1 .1-1 0-1-.2-1 0-1 .3-1 .2-1-.2-1-.1-1 0-1 0-1 0-1 .2-1-.3-1 .1-1 0-1 0-1-.1-1 .1-1 .1-1 .1-1-.2-1-.2-1 .3-1 .2-1-.3-1-.2-1 .3-1 .1-1-.1-1 0-1-.2-1-.1-1 .2-1-.2-1 .1-1 .3-1-.3-1 0-1 .3-1-.1-1 .1-1 .1-1 0-1-.3-1-.1-1 .3-1-.3-1 0-1 .1-1 0-1 0-1 .1-1-.3-1 .4-1-.2-1 0-1 .1-1-.1-1 0-1 0-1-.1-1 0-1 .2-1 .1-1-.2-1 0-1-.1-1 .2-1-.1-1-.1-1 0-1 .1-1 .2-1 0-1-.2-1-.1-1 0-1 .1-1 .3-1-.1-1-.2-1 0-1 .3-1-.4-1 .1-1-.1-1 .1-1 0-1-.1-1 .1-1 0-1 .1-1-.1-1-.1-1 .1-1-.1-1 .4-1-.3-1 .2-1-.3-1 .1-1-.1-1 .2-1-.1-1 0-1-.1-1 .2-1-.1-1 0-1 .1-1-.1-1 .2-1 0-1-.2-1 .4-1-.3-1 0-1-.2-1 .2-1 0-1-.1-1-.2-1 .2-1 0-1 .3-1-.3-1 .1-1 0-1-.1-1-.1-1 0-1 .1-1 0-1 0-1 0-1 .4-1 0-1-.4-1-.1-1 .3-1-.2-1 .4-1-.2-1-.3-1 .1-1 .1-1-.2-1 0-1 .4-1-.2-1-.1-1 .1-1-.1-1 .3-1-.4-1 .1-1 .2-1-.4-1 0-1 .4-1-.3-1 .1-1-.2-1 .2-1-.1-1 .1-1 0-1 0-1-.1-1-.1-1 .5-1-.3-1-.1-1 .1-1 0-1 0-1-.1-1 .1-1 0-1 .3-1-.3-1 .1-1-.1-1-.1-1 .3-1-.2-1 .1-1-.2-1 0-1 0-1 .3-1-.1-1-.2-1 .1-1 .2-1-.3-1 .1-1-.2-1 .1-1 0-1-.1-1 .1-1 .1-1-.1-1-.1-1 .3-1-.1-1 .3-1-.2-1-.2-1 .3-1-.1-1-.2-1 .2-1-.2-1 .3-1-.2-1 .1-1-.2-1 .2-1-.1-1-.1-1 .1-1-.2-1 .2-1-.1-1 .4-1-.4-1 .5-1-.1-1-.3-1-.1-1 .1-1 0-1-.1-1 .3-1-.1-1-.1-1-.2-1 .3-1-.1-1 0-1-.1-1 .2-1 .1-1-.2-1 .1-1-.1-1-.2-1 .4-1-.3-1 .1-1 0-1-.1-1 .1-1 .2-1-.1-1-.2-1 .1-1-.1-1 .2-1-.1-1-.1-1-.1-1 .3-1-.2-1 .2-1-.3-1 .2-1-.1-1 .2-1-.2-1 0-1 .2-1 0-1-.2-1 .2-1 0-1-.3-1 .2-1 .1-1-.1-1 0-1 .5-1-.4-1 .3-1-.1-1-.1-1-.2-1 .2-1-.4-1 .1-1 0-1 .1-1-.1-1-.1-1 .3-1-.1-1 .3-1-.4-1 .1-1 0-1-.1-1 .1-1 0-1 .1-1-.1-1 0-1-.2-1 .1-1 .2-1 0-1-.3-1 .1-1 0-1 0-1 .1-1 0-1 .1-1 .1-1-.3-1 0-1 .3-1-.2-1 .1-1-.1-1 0-1 0-1 .3-1-.4-1 .2-1-.1-1 .3-1-.3-1 .1-1 .1-1-.4-1 .2-1 .2-1-.3-1 .2-1-.2-1 .1-1 .2-1 .2-1-.5-1 .2-1-.1-1 0-1-.1-1 .3-1-.4-1 .1-1-.1-1 .1-1 .3-1-.2-1-.2-1 .1-1 .3-1 .2-1-.3-1 .3-1-.5-1 .1-1 .1-1 0-1 0-1 .1-1-.2-1 .2-1-.1-1-.1-1 0-1 0-1 .2-1-.1-1 .2-1-.3-1 0-1 0-1 .2-1-.2-1 .2-1-.1-1 0-1 0-1 0-1 0-1-.2-1 .1-1-.2-1 .2-1 .3-1 .3-1-.4-1-.1-1-.1-1 .1-1-.2-1 .2-1 0-1-.1-1 .1-1 0-1-.3-1 .3-1-.1-1-.2-1 .3-1 0-1-.1-1 .5-1-.1-1-.3-1-.1-1 0-1 .2-1-.1-1 .1-1-.2-1-.2-1 0-1 .4-1-.3-1 .1-1-.1-1 .2-1-.1-1 0-1 0-1-.1-1 .2-1-.1-1 0-1 0-1 .3-1-.2-1-.2-1 .1-1 0-1 .3-1-.3-1-.1-1 .2-1-.3-1 .5-1-.3-1-.1-1 0-1 .3-1-.1-1 .1-1-.3-1 .2-1-.1-1-.1-1 .2-1-.1-1 0-1 0-1 .2-1-.3-1 0-1 0-1 .4-1 .1-1-.6-1 .1-1 .1-1-.3-1 .2-1 0-1 .1-1 .1-1-.2-1 0-1 .3-1 .4-1-.6-1-.1-1 .1-1-.1-1 .1-1-.1-1 0-1 0-1 .2-1-.1-1 0-1 0-1 .1-1 0-1-.2-1 0-1 .1-1 0-1 .2-1 .1-1-.4-1 .1-1 .3-1-.3-1 .3-1-.3-1 0-1 0-1 0-1 .5-1 0-1-.1-1-.3-1 0-1 0-1 0-1-.2-1 .4-1-.2-1 0-1-.3-1 .2-1 .1-1 0-1-.3-1 .2-1-.1-1 .3-1-.1-1 0-1-.1-1 .1-1 .1-1-.1-1-.2-1 .2-1 0-1 0-1 0-1 .1-1-.1-1 0-1-.1-1 0-1 0-1 0-1-.1-1 .1-1-.1-1 .2-1-.2-1 .1-1-.1-1 .5-1-.3-1-.2-1 .5-1 .1-1-.2-1 .3-1-.6-1 0-1 0-1 .3-1 .1-1-.5-1 .1-1 .1-1-.2-1 0-1-.1-1 .2-1-.1-1 .1-1-.1-1 0-1 .1-1 .1-1-.2-1-.1-1 .1-1 .1-1 0-1 0-1-.1-1 .2-1 0-1-.3-1 .2-1 0-1-.2-1 .3-1 0-1-.2-1 0-1 0-1 .1-1 .1-1-.1-1-.1-1 0-1 0-1 .1-1 0-1 0-1 0-1-.2-1 .3-1-.2-1 0-1 .1-1-.1-1 .1-1-.1-1 .1-1 0-1 .1-1-.2-1 .1-1 0-1 0-1-.1-1 0-1 .1-1 .1-1-.2-1 .1-1 .1-1-.1-1 0-1 .1-1-.2-1 .4-1-.2-1-.2-1 0-1 .2-1 0-1-.1-1 0-1-.1-1 .1-1 .1-1 0-1-.1-1-.2-1 .1-1 0-1 .2-1-.2-1 .3-1-.3-1 0-1-.1-1 .2-1 0-1 0-1 .1-1-.1-1 0-1 0-1 .1-1 0-1-.2-1 0-1 .1-1-.2-1 .2-1 0-1 0-1 .1-1 0-1-.2-1 .1-1 .3-1-.3-1 0-1 .1-1 .2-1-.1-1-.2-1 0-1-.1-1 .2-1-.2-1 .1-1 0-1-.1-1 .1-1 0-1 0-1 0-1 0-1 .3-1-.5-1 .2-1 .1-1 0-1-.3-1 .1-1 .1-1-.1-1 .2-1 .1-1-.1-1-.2-1 .3-1-.2-1 .1-1-.1-1 .1-1-.1-1 .1-1-.3-1 .2-1-.1-1 .2-1-.3-1 .3-1-.1-1 0-1-.1-1-.1-1 .2-1-.1-1 .2-1-.3-1 .3-1-.3-1 .4-1-.3-1 .1-1-.1-1-.1-1 .2-1-.2-1 .1-1 0-1 .1-1 0-1 0-1 0-1 0-1 0-1 .1-1-.1-1-.1-1 0-1-.1-1 .2-1-.1-1 0-1 0-1 .2-1 0-1-.4-1 .4-1 0-1-.1-1 0-1 .1-1-.1-1 0-1 .1-1-.2-1 .1-1-.2-1 .1-1 .1-1 .2-1-.2-1 0-1-.1-1 .1-1-.1-1 .1-1 0-1 .2-1-.2-1-.1-1 .1-1 .2-1-.1-1 .2-1-.5-1 .2-1-.2-1 .4-1-.3-1 .1-1 0-1-.2-1 .2-1 .3-1-.2-1-.2-1 0-1 .1-1-.1-1 .2-1-.1-1 0-1 .1-1-.1-1 .1-1-.1-1 0-1 0-1-.1-1 .3-1-.3-1 .1-1 0-1 .3-1-.2-1-.1-1 .1-1-.2-1 0-1 .4-1-.3-1-.1-1 0-1 .3-1-.2-1 .2z"/>
<path fill="#008000" d="M138.5 796.3l1 .2 1 .2 1 0 1 0 1 0 1-.1 1 0 1-.1 1 .2 1 0 1 0 1-.2 1 .2 1 0 1 0 1 0 1-.3 1 .2 1 .1 1-.1 1 .1 1-.3 1 .3 1-.2 1-.5 1 .3 1 .5 1-.2 1 0 1-.3 1 0 1 .3 1-.2 1 .1 1 .2 1-.2 1 .2 1 0 1-.1 1 0 1-.3 1-.3 1 .4 1 .2 1-.2 1 .2 1-.1 1 .3 1-.2 1 0 1-.1 1 0 1 .1 1 .1 1-.1 1 0 1-.4 1-.3 1 .5 1 .2 1 .1 1 .1 1-.5 1 .4 1-.1 1 .2 1 0 1 0 1-.3 1 .2 1-.2 1 .3 1 0 1-.1 1 .1 1-.1 1 .1 1-.2 1 .2 1-.1 1 0 1 0 1-.1 1 .2 1 .1 1-.4 1 .2 1 0 1 .1 1-.3 1 0 1-.2 1 .2 1 .2 1 0 1 .1 1-.2 1-.3 1 .4 1 0 1 0 1 .2 1-.1 1-.5 1 .1 1 0 1 .2 1-.6 1 .4 1 .1 1-.3 1-.2 1 .4 1-.1 1-.2 1 .2 1 .1 1 0 1 .3 1-.3 1 .4 1-.3 1 .1 1-.3 1 0 1-.1 1 .5 1 0 1 0 1-.1 1 .2 1-.1 1 0 1 0 1-.1 1 .2 1-.4 1 .3 1-.2 1 .1 1 .1 1 .1 1-.1 1 0 1 0 1 0 1-.1 1 .1 1 .1 1-.2 1 .1 1-.3 1-.4 1 .1 1 .5 1-.1 1 .2 1 0 1 .1 1-.1 1 0 1 0 1-.2 1 .1 1-.3 1-.1 1 .2 1-.1 1 .3 1-.1 1 .2 1-.3 1 .2 1 .3 1-.2 1-.1 1 .1 1 .1 1-.2 1 .1 1 0 1 .1 1-.4 1 .2 1 .1 1-.1 1 .1 1 .1 1 0 1-.1 1 .1 1-.1 1-.1 1-.1 1 .2 1 0 1-.2 1 .2 1-.2 1 .1 1-.2 1-.5 1 .5 1 .1 1 .1 1 0 1 .1 1-.2 1 .2 1-.1 1-.2 1 .1 1 .1 1 .1 1 0 1-.1 1-.1 1 .2 1-.1 1 .2 1-.3 1-.3 1 .4 1 .1 1-.1 1-.3 1 .1 1 .4 1-.3 1 .1 1 0 1 .1 1-1 1 .4 1 .5 1 .1 1-.1 1 0 1 .1 1 0 1 0 1 .2 1-.1 1-.1 1 .1 1-.3 1 .1 1 0 1-.2 1-.1 1 .3 1 .1 1-.2 1 .1 1 .2 1-.2 1 .1 1-.3 1 .2 1-.3 1 .3 1-.1 1-.6 1 .7 1 .1 1-.1 1 0 1-.1 1-.1 1-.2 1 .1 1-.2 1 .4 1 .2 1-.2 1-.6 1 .7 1 .1 1-.2 1-.1 1 .1 1 0 1-.1 1 0 1 .3 1 0 1 0 1 0 1-.1 1-.1 1-.2 1 .1 1-.1 1 .4 1 0 1-.1 1-.1 1 .2 1-.1 1 .1 1 .1 1-.2 1-.1 1 .2 1-.5 1 .2 1-.1 1 .1 1 0 1 0 1 .3 1-.1 1 .2 1-.2 1-.3 1 .1 1 .1 1 0 1 .2 1 0 1 .1 1-.2 1 .1 1 0 1 .1 1-.1 1 .1 1-.1 1-.1 1-.1 1 .3 1-.2 1 .2 1 .1 1-.5 1 .3 1 0 1 0 1-.5 1 .3 1-.4 1-.6 1 .7 1 0 1 .1 1 0 1 .4 1 0 1 .1 1-.1 1 0 1 0 1-.2 1-.3 1 .3 1 .2 1 0 1 0 1 0 1 0 1 0 1-.1 1 0 1-.1 1-.1 1 .2 1-.2 1 .3 1-.1 1 .2 1 0 1-.1 1 0 1-.3 1 0 1 .1 1-.3 1-.4 1 .1 1 .8 1-.2 1 .2 1 0 1 0 1-.1 1 0 1-.3 1 .1 1 .2 1 0 1 .1 1 .2 1-.1 1 0 1-.2 1 .1 1-.5 1 .1 1 .2 1 .3 1-.4 1-.5 1 .2 1 .3 1-.2 1-.1 1 .4 1 .1 1 0 1 .1 1 0 1-.5 1-.1 1-.1 1-.3 1 .4 1 .2 1 .1 1 .1 1 .1 1-.5 1 .3 1 .2 1 0 1-.2 1 .1 1-.2 1-.2 1 .2 1 .4 1 0 1-.1 1-.5 1 .6 1-.1 1 .1 1 .1 1-.1 1-.2 1 .1 1 .1 1-.1 1 .2 1 .1 1-.2 1 0 1 0 1-.1 1 0 1 .1 1-.1 1 0 1 .2 1-.3 1-.5 1 .4 1-.1 1 .3 1 .1 1 0 1 0 1 0 1-.1 1 .1 1 .1 1-.4 1-.6 1 .6 1-.1 1 .2 1-.1 1 0 1-.7 1 .6 1 .1 1 .2 1 0 1 .1 1-.1 1-.2 1 0 1 .1 1-.2 1 .2 1 0 1 0 1 .1 1 .1 1 .1 1-.3 1 0 1 0 1-.4 1-.2 1 .3 1 .1 1 0 1 .5 1-.2 1 .1 1 0 1-.2 1 .3 1 .1 1-.4 1-.1 1-.2 1 .3 1 .2 1-.1 1 .2 1-.3 1 .1 1-.1 1-.1 1 .1 1-.4 1 .5 1 .1 1 .2 1-.1 1-.2 1 0 1 .1 1-.1 1 .1 1-.2 1-.3 1 .1 1-.2 1 .5 1 .1 1 .1 1-.1 1 0 1-.1 1 0 1 0 1 0 1 .1 1-.1 1 .2 1 0 1-.2 1 0 1 0 1-.1 1 .1 1 0 1 .2 1-.4 1-.1 1-.1 1 .3 1 .2 1-.1 1 .1 1 0 1-.2 1 .2 1-.2 1-.4 1 .4 1 .2 1 0 1 .1 1-.3 1 .1 1 .1 1-.2 1 0 1-.1 1-.1 1 .1 1-.2 1 .2 1 .4 1-.1 1 0 1 0 1-.1 1 0 1-.5 1 .1 1 .2 1 .4 1-.2 1-.1 1-.4 1-.1 1 .3 1 .2 1 .3 1-.3 1 0 1-.3 1 .3 1 .2 1 0 1 0 1 0 1-.1 1 .2 1-.3 1 0 1 .1 1-.6 1 .2 1 .4 1-.1 1 .2 1 0 1 .1 1-.1 1-.6 1-.4 1 1.1 1-.2 1 0 1-.1 1 .3 1-.1 1 .1 1-.5 1-.5 1 .4 1-.2 1 .5 1 .1 1 .1 1-.2 1 0 1 .2 1 0 1-.4 1 .3 1-.1 1 .2 1-.6 1 .2 1 0 1 .5 1-.2 1 0 1 .2 1-.1 1-.4 1 .1 1-.3 1 .6 1-.1 1-.1 1 0 1 0 1-.4 1 .4 1 .3 1 0 1-.1 1 0 1 0 1-.1 1 0 1-.1 1-.1 1 .1 1 0 1 .2 1-.1 1 .2 1-.2 1 0 1-.3 1 .1 1 0 1 .1 1-.1 1 .1 1 .3 1 0 1-.1 1-.1 1 .2 1-.3 1 .2 1-.1 1-.7 1 .4 1 0 1 .2 1 .1 1 .1 1-.1 1 .1 1 .1 1-.4 1 0 1 .1 1 .3 1-.1 1-.4 1 0 1 .1 1 .2 1-.2 1 .1 1 0 1-.4 1 .5 1 .2 1-.2 1 .1 1 0 1 .1 1-.2 1 .2 1-.2 1 .1 1 .1 1-.2 1-.4 1-.2 1 .5 1-.1 1-.2 1 .3 1 .1 1-.1 1 .2 1 0 1-.1 1 .1 1-.4 1 0 1 .3 1-.9 1 .8 1 0 1-.3 1 0 1 .4 1 .2 1-.1 1-.1 1 0 1 .3 1-.3 1-.1 1 .2 1-1.3 1 1.1 1 .2 1-.1 1 .2 1-.1 1 .1 1-.2 1 .1 1 0 1-.1 1 .1 1-.1 1 0 1 .1 1 0 1 0 1 0 1-.3 1 .2 1 .2 1-.1 1 0 1-.6 1-.1 1 .3 1 .2 1 .2 1-.1 1 0 1 0 1-.2 1 .1 1 .3 1-.1 1 0 1-.3 1 .1 1-.4 1-.3 1 .5 1 .3 1 .1 1 0 1-.5 1 .2 1 0 1 .2 1 0 1-.1 1 .3 1 0 1-.1 1 0 1 0 1-.1 1 .2 1-.1 1-.1 1 .2 1-.4 1-.1 1-.1 1 .2 1 .2 1 .1 1 0 1 .1 1-.2 1-.1 1 .2 1-.1 1-.5 1 .6 1 .1 1-.3 1 0 1 .2 1-.2 1-.3 1 .1 1 .3 1 0 1 .2 1 0 1-.1 1 0 1-.4 1 .2 1 0 1-.1 1-.5 1 .5 1 .1 1 .1 1 .1 1-.4 1 .3 1-.2 1 .2 1 0 1 0 1-.1 1 .1 1 .2 1-.1 1-.1 1 .1 1-.4 1 .2 1 .2 1 .1 1 0 1 0 1-.3 1 .2 1 .1 1-.1 1 0 1 0 1-.1 1 .1 1 0 1-.1 1 .2 0 2.7-1 .1-1 0-1 .1-1-.3-1 0-1 .1-1 0-1 .1-1 0-1 0-1-.1-1 .1-1 0-1 .1-1-.2-1 1.3-1-.7-1-.6-1-.2-1 .3-1 .1-1-.2-1-.1-1 .3-1-.1-1 .5-1 0-1-.4-1 0-1 0-1 0-1 0-1 .2-1 0-1-.2-1 0-1 .3-1 0-1-.5-1 .1-1 0-1 0-1-.1-1 .3-1 0-1-.2-1-.1-1 0-1 .2-1-.2-1 .1-1 .8-1-.7-1-.3-1 .2-1-.1-1 .1-1 0-1 0-1 0-1 .4-1 .4-1-.4-1-.5-1 .1-1 0-1 0-1 0-1-.1-1 .2-1-.2-1 0-1 0-1-.1-1 .3-1-.2-1 .4-1-.1-1 .2-1 0-1-.4-1 .1-1-.1-1 .5-1 .6-1-.6-1-.3-1-.3-1 .2-1-.1-1-.2-1 .6-1 .2-1-.6-1-.1-1 0-1 0-1 0-1 .2-1 .1-1 .2-1-.2-1-.3-1 0-1-.1-1 .2-1 0-1 0-1-.2-1 .2-1-.1-1 0-1 .1-1 0-1 0-1 0-1 0-1-.1-1 .2-1-.2-1 .2-1-.2-1 .2-1 .1-1-.1-1-.1-1-.1-1 .1-1 0-1-.1-1 0-1 .1-1 0-1 .3-1 .1-1-.2-1-.2-1 .6-1-.5-1 .2-1-.1-1-.2-1 0-1-.1-1 .2-1 0-1 0-1-.1-1 .2-1 .4-1-.2-1 0-1 .2-1-.7-1-.1-1 .1-1-.1-1 .2-1 .1-1-.2-1 .1-1 .1-1-.2-1 .2-1 .1-1 0-1-.1-1 0-1 0-1 0-1 0-1 .2-1-.3-1 0-1-.1-1 .3-1 0-1 .5-1-.7-1-.1-1-.1-1 .1-1 .2-1 .1-1-.1-1 .3-1 0-1 .5-1-.9-1 .1-1-.2-1 .3-1-.3-1 .1-1 .1-1 .1-1-.1-1 .2-1-.3-1 .2-1-.1-1-.2-1 .3-1-.3-1 0-1 .1-1 0-1 .2-1 .2-1-.2-1-.2-1-.3-1 .1-1 .2-1 0-1 0-1 .1-1 0-1 .3-1-.3-1-.1-1 0-1 0-1 0-1 .1-1 .4-1-.2-1-.4-1-.1-1 .1-1 0-1-.1-1 .6-1-.2-1 .2-1-.3-1-.2-1 .2-1-.1-1-.1-1 .1-1 0-1 .1-1-.1-1-.2-1 .3-1 .4-1-.1-1 0-1-.3-1 0-1-.3-1 .1-1 0-1 .2-1 0-1 0-1 .2-1-.1-1-.2-1-.2-1 .1-1 0-1-.1-1 .2-1 .1-1 .4-1-.3-1-.2-1-.1-1 .2-1-.1-1 0-1-.1-1 0-1 .1-1 .3-1 .4-1-.2-1-.5-1 0-1 .5-1-.3-1 .5-1-.2-1-.4-1-.2-1 .1-1 .1-1 .4-1-.1-1-.2-1-.2-1 0-1-.1-1 .1-1 0-1 .4-1 0-1-.3-1 .5-1 0-1-.6-1 0-1-.1-1 0-1 0-1 0-1 0-1-.1-1 .4-1 0-1 .2-1-.4-1-.1-1 .1-1-.1-1 0-1 0-1 .1-1 .3-1-.1-1 0-1-.4-1 .3-1 0-1-.1-1 0-1-.1-1 .1-1-.1-1 0-1 .1-1 .1-1-.1-1 0-1-.1-1 .1-1 .1-1 .2-1-.2-1-.1-1 .1-1 .1-1 .3-1-.1-1-.3-1-.2-1 .2-1-.1-1 0-1 0-1 .2-1-.3-1 .2-1 0-1 .2-1 .3-1 .1-1-.3-1-.3-1-.2-1 .3-1-.2-1-.1-1 .4-1 .2-1-.6-1 .3-1-.2-1-.2-1 .1-1 0-1 0-1-.1-1 .3-1 .2-1 .1-1 .3-1-.4-1 .2-1-.1-1-.6-1 .1-1-.1-1 .2-1 0-1-.2-1 .3-1 .2-1 .5-1-.2-1-.3-1-.1-1-.1-1-.1-1-.1-1 0-1 .1-1 .3-1 .6-1-.5-1-.3-1 0-1 .7-1-.6-1 .7-1-.7-1 .1-1-.4-1 .3-1-.4-1 .2-1-.2-1 0-1 .4-1-.1-1 .8-1-.6-1-.4-1 .1-1-.1-1 .1-1 0-1 .1-1-.1-1 .1-1 .2-1-.3-1 0-1-.1-1 0-1 0-1 .1-1-.2-1 .2-1-.1-1 .1-1-.2-1 .3-1 .3-1-.3-1-.3-1 .2-1 .3-1 .7-1-.7-1-.3-1-.2-1 .2-1-.1-1 .2-1 .3-1-.4-1-.1-1 .2-1 .3-1 0-1 .1-1-.3-1 .4-1-.1-1-.5-1 .2-1-.2-1 0-1 .1-1 .3-1 .6-1-.3-1-.1-1-.3-1 .1-1-.3-1 .1-1 .1-1 .4-1-.6-1-.1-1 0-1-.1-1 0-1 0-1 .1-1-.2-1 .3-1 .1-1-.3-1 0-1-.1-1 0-1 .2-1-.2-1 .1-1 .8-1-.5-1-.2-1 .3-1-.2-1 .4-1-.4-1-.3-1 .2-1-.2-1 .1-1 0-1 0-1 .1-1 0-1 .1-1-.2-1 0-1 .1-1 0-1 .1-1-.2-1 0-1 .1-1 .2-1 .1-1-.4-1 0-1 0-1 .1-1 0-1-.1-1 0-1 .4-1-.1-1 .4-1-.1-1 .3-1-.6-1 0-1-.3-1 0-1 .2-1-.1-1-.1-1 0-1 0-1 0-1 0-1 0-1 .1-1-.2-1 .2-1-.1-1 0-1 .2-1 0-1-.2-1-.1-1 .2-1-.2-1 .1-1 .5-1 .2-1-.5-1-.1-1-.3-1 .4-1-.2-1 0-1 .1-1 .5-1 .3-1-.6-1-.3-1 .1-1-.1-1 .3-1-.1-1 .1-1-.2-1 0-1 0-1 0-1 0-1-.2-1 .4-1 .2-1 0-1-.3-1 .2-1-.2-1-.1-1-.1-1 .3-1 .1-1 0-1-.1-1-.3-1 .2-1-.3-1 .1-1 0-1 .1-1 .3-1 .1-1 .1-1-.1-1-.2-1 .1-1 0-1-.4-1 .2-1-.1-1-.2-1 .6-1-.1-1-.4-1 .3-1-.1-1 .1-1-.3-1 .2-1-.2-1 .2-1-.2-1 .1-1-.1-1 .3-1 .1-1-.2-1-.2-1 0-1-.1-1 .1-1 .1-1 .1-1-.1-1-.1-1-.1-1 .2-1-.2-1 .4-1-.3-1 .2-1 .2-1 .3-1-.6-1-.1-1 0-1-.1-1 .2-1 0-1 .3-1-.3-1-.1-1 .1-1 .4-1-.3-1-.2-1 .2-1 0-1 .1-1-.2-1 .1-1-.2-1 0-1 0-1 .1-1 0-1 .1-1-.1-1 .1-1-.1-1 0-1-.1-1 .7-1 0-1-.4-1-.1-1-.2-1-.2-1 .2-1 .3-1-.4-1 .1-1 .1-1 .1-1-.2-1-.1-1 .4-1-.1-1-.1-1-.2-1 .2-1 0-1-.2-1 .2-1-.1-1-.1-1 .2-1-.1-1-.1-1 .1-1-.1-1 .2-1 .1-1-.2-1 .1-1 .5-1-.5-1 .8-1-.3-1 .3-1-.4-1 .3-1-.8-1 .2-1 0-1-.2-1 .3-1 0-1-.3-1 0-1 0-1 .7-1-.1-1-.5-1 .1-1-.2-1 .2-1-.3-1 .1-1 0-1 .3-1-.2-1 .1-1-.1-1-.2-1 .5-1-.2-1 .1-1-.3-1 .1-1 .1-1-.2-1 0-1-.1-1 0-1 .2-1 .1-1-.2-1 .2-1-.2-1 .4-1 .3-1-.2-1-.5-1-.1-1 .1-1 .1-1 .3-1 0-1-.1-1-.3-1 .1-1 .4-1-.2-1 .3-1-.1-1-.2-1 .2-1-.5-1 .3-1 .5-1-.7-1 0-1 .2-1-.3-1 0-1 .3-1 .1-1-.2-1 0-1-.4-1 .1-1 .2-1 .6-1-.5-1 0-1-.2-1-.1-1 .1-1 0-1 0-1-.2-1 .4-1-.2-1 0-1 0-1 .2-1-.1-1-.2-1 .4-1-.1-1-.1-1-.1-1 .1-1-.2-1 .2-1 0-1 0-1 .2-1-.2-1 0-1-.1-1 0-1 0-1 .1-1 .1-1 .1-1 .2-1 .3-1-.7-1 .2-1-.3-1 .1-1-.1-1 .1-1-.1-1 .3-1-.2-1-.1-1 .1-1 .1-1 0-1 .2-1 .1-1 .2-1-.4-1-.1-1-.1-1 .4-1-.5-1 0-1-.1-1 .2-1 0-1 .4-1-.5-1 .2-1-.2-1 0-1 .2-1 .2-1 .2-1-.2-1-.4-1 .1-1 .1-1-.2-1 .1-1 .1-1-.1-1 .1-1-.1-1 0-1-.1-1 .1-1 .2-1-.4-1 .4-1-.3-1 .2-1-.2-1 .1-1 .1-1-.2-1 .7-1-.2z"/>
<path fill="#000000" d="M138.5 827.9l1-.2 1 .2 1 0 1-.1 1 .5 1-.1 1-.2 1-.4 1 .1 1 .4 1 0 1-.1 1 0 1 .2 1-.1 1 0 1-.3 1-.2 1 .6 1-.3 1 .2 1 .1 1-.1 1 .2 1 0 1-.1 1 .1 1-.1 1 .1 1-.1 1 0 1-.3 1-.1 1 .2 1 .1 1 .1 1-.2 1 .4 1-.1 1-.2 1 0 1 .3 1-.4 1 .3 1-.1 1 0 1 0 1 0 1 .1 1 0 1-.2 1-.3 1 .1 .4 0 0 3.8-.4 0-1-.5-1-.1-1 .1-1-.2-1 0-1 .3-1-.3-1 .2-1-.2-1 0-1 0-1 0-1 .2-1-.2-1 0-1 0-1 .1-1-.1-1 .2-1 .8-1-.8-1 0-1-.1-1-.1-1 0-1 0-1 .1-1-.1-1-.1-1 .2-1-.1-1 0-1 .1-1 .3-1-.1-1 .6-1-.4-1-.4-1-.1-1 0-1 .1-1-.1-1 .1-1 .2-1 .1-1-.5-1 .5-1-.1-1-.1-1 .1-1 .3-1-.3-1 .2z"/>
</g>
<path d="M138.5 48.4H1012.5M138.5 855.5H1012.5M138.5 48.4V855.5M1012.5 48.4V855.5" fill="none" stroke="#000" stroke-width="1.33" stroke-linecap="square"/>
<path d="M138.5 73.50h-6.1M1012.5 73.50h6.1M138.5 104.50h-6.1M1012.5 104.50h6.1M138.5 136.50h-6.1M1012.5 136.50h6.1M138.5 167.50h-6.1M1012.5 167.50h6.1M138.5 199.50h-6.1M1012.5 199.50h6.1M138.5 230.50h-6.1M1012.5 230.50h6.1M138.5 262.50h-6.1M1012.5 262.50h6.1M138.5 294.50h-6.1M1012.5 294.50h6.1M138.5 325.50h-6.1M1012.5 325.50h6.1M138.5 357.50h-6.1M1012.5 357.50h6.1M138.5 388.50h-6.1M1012.5 388.50h6.1M138.5 420.50h-6.1M1012.5 420.50h6.1M138.5 451.50h-6.1M1012.5 451.50h6.1M138.5 483.50h-6.1M1012.5 483.50h6.1M138.5 514.50h-6.1M1012.5 514.50h6.1M138.5 546.50h-6.1M1012.5 546.50h6.1M138.5 577.50h-6.1M1012.5 577.50h6.1M138.5 609.50h-6.1M1012.5 609.50h6.1M138.5 641.50h-6.1M1012.5 641.50h6.1M138.5 672.50h-6.1M1012.5 672.50h6.1M138.5 704.50h-6.1M1012.5 704.50h6.1M138.5 735.50h-6.1M1012.5 735.50h6.1M138.5 767.50h-6.1M1012.5 767.50h6.1M138.5 798.50h-6.1M1012.5 798.50h6.1M138.5 830.50h-6.1M1012.5 830.50h6.1M138.5 855.5v6.1M357.5 855.5v6.1M575.5 855.5v6.1M794.5 855.5v6.1M1012.5 855.5v6.1" stroke="#000" stroke-width="1.33" fill="none"/>
<text x="126" y="77.60" font-size="12" text-anchor="end" textLength="59" lengthAdjust="spacingAndGlyphs">08:00:00</text>
<text x="1025" y="77.60" font-size="12" textLength="59" lengthAdjust="spacingAndGlyphs">09:00:00</text>
<text x="126" y="108.60" font-size="12" text-anchor="end" textLength="59" lengthAdjust="spacingAndGlyphs">09:00:00</text>
<text x="1025" y="108.60" font-size="12" textLength="59" lengthAdjust="spacingAndGlyphs">10:00:00</text>
<text x="126" y="140.60" font-size="12" text-anchor="end" textLength="59" lengthAdjust="spacingAndGlyphs">10:00:00</text>
<text x="1025" y="140.60" font-size="12" textLength="59" lengthAdjust="spacingAndGlyphs">11:00:00</text>
<text x="126" y="171.60" font-size="12" text-anchor="end" textLength="59" lengthAdjust="spacingAndGlyphs">11:00:00</text>
<text x="1025" y="171.60" font-size="12" textLength="59" lengthAdjust="spacingAndGlyphs">12:00:00</text>
<text x="126" y="203.60" font-size="12" text-anchor="end" textLength="59" lengthAdjust="spacingAndGlyphs">12:00:00</text>
<text x="1025" y="203.60" font-size="12" textLength="59" lengthAdjust="spacingAndGlyphs">13:00:00</text>
<text x="126" y="234.60" font-size="12" text-anchor="end" textLength="59" lengthAdjust="spacingAndGlyphs">13:00:00</text>
<text x="1025" y="234.60" font-size="12" textLength="59" lengthAdjust="spacingAndGlyphs">14:00:00</text>
<text x="126" y="266.60" font-size="12" text-anchor="end" textLength="59" lengthAdjust="spacingAndGlyphs">14:00:00</text>
<text x="1025" y="266.60" font-size="12" textLength="59" lengthAdjust="spacingAndGlyphs">15:00:00</text>
<text x="126" y="298.60" font-size="12" text-anchor="end" textLength="59" lengthAdjust="spacingAndGlyphs">15:00:00</text>
<text x="1025" y="298.60" font-size="12" textLength="59" lengthAdjust="spacingAndGlyphs">16:00:00</text>
<text x="126" y="329.60" font-size="12" text-anchor="end" textLength="59" lengthAdjust="spacingAndGlyphs">16:00:00</text>
<text x="1025" y="329.60" font-size="12" textLength="59" lengthAdjust="spacingAndGlyphs">17:00:00</text>
<text x="126" y="361.60" font-size="12" text-anchor="end" textLength="59" lengthAdjust="spacingAndGlyphs">17:00:00</text>
<text x="1025" y="361.60" font-size="12" textLength="59" lengthAdjust="spacingAndGlyphs">18:00:00</text>
<text x="126" y="392.60" font-size="12" text-anchor="end" textLength="59" lengthAdjust="spacingAndGlyphs">18:00:00</text>
<text x="1025" y="392.60" font-size="12" textLength="59" lengthAdjust="spacingAndGlyphs">19:00:00</text>
<text x="126" y="424.60" font-size="12" text-anchor="end" textLength="59" lengthAdjust="spacingAndGlyphs">19:00:00</text>
<text x="1025" y="424.60" font-size="12" textLength="59" lengthAdjust="spacingAndGlyphs">20:00:00</text>
<text x="126" y="455.60" font-size="12" text-anchor="end" textLength="59" lengthAdjust="spacingAndGlyphs">20:00:00</text>
<text x="1025" y="455.60" font-size="12" textLength="59" lengthAdjust="spacingAndGlyphs">21:00:00</text>
<text x="126" y="487.60" font-size="12" text-anchor="end" textLength="59" lengthAdjust="spacingAndGlyphs">21:00:00</text>
<text x="1025" y="487.60" font-size="12" textLength="59" lengthAdjust="spacingAndGlyphs">22:00:00</text>
<text x="126" y="518.60" font-size="12" text-anchor="end" textLength="59" lengthAdjust="spacingAndGlyphs">22:00:00</text>
<text x="1025" y="518.60" font-size="12" textLength="59" lengthAdjust="spacingAndGlyphs">23:00:00</text>
<text x="126" y="550.60" font-size="12" text-anchor="end" textLength="59" lengthAdjust="spacingAndGlyphs">23:00:00</text>
<text x="1025" y="550.60" font-size="12" textLength="59" lengthAdjust="spacingAndGlyphs">00:00:00</text>
<text x="126" y="581.60" font-size="12" text-anchor="end" textLength="59" lengthAdjust="spacingAndGlyphs">00:00:00</text>
<text x="1025" y="581.60" font-size="12" textLength="59" lengthAdjust="spacingAndGlyphs">01:00:00</text>
<text x="126" y="613.60" font-size="12" text-anchor="end" textLength="59" lengthAdjust="spacingAndGlyphs">01:00:00</text>
<text x="1025" y="613.60" font-size="12" textLength="59" lengthAdjust="spacingAndGlyphs">02:00:00</text>
<text x="126" y="645.60" font-size="12" text-anchor="end" textLength="59" lengthAdjust="spacingAndGlyphs">02:00:00</text>
<text x="1025" y="645.60" font-size="12" textLength="59" lengthAdjust="spacingAndGlyphs">03:00:00</text>
<text x="126" y="676.60" font-size="12" text-anchor="end" textLength="59" lengthAdjust="spacingAndGlyphs">03:00:00</text>
<text x="1025" y="676.60" font-size="12" textLength="59" lengthAdjust="spacingAndGlyphs">04:00:00</text>
<text x="126" y="708.60" font-size="12" text-anchor="end" textLength="59" lengthAdjust="spacingAndGlyphs">04:00:00</text>
<text x="1025" y="708.60" font-size="12" textLength="59" lengthAdjust="spacingAndGlyphs">05:00:00</text>
<text x="126" y="739.60" font-size="12" text-anchor="end" textLength="59" lengthAdjust="spacingAndGlyphs">05:00:00</text>
<text x="1025" y="739.60" font-size="12" textLength="59" lengthAdjust="spacingAndGlyphs">06:00:00</text>
<text x="126" y="771.60" font-size="12" text-anchor="end" textLength="59" lengthAdjust="spacingAndGlyphs">06:00:00</text>
<text x="1025" y="771.60" font-size="12" textLength="59" lengthAdjust="spacingAndGlyphs">07:00:00</text>
<text x="126" y="802.60" font-size="12" text-anchor="end" textLength="59" lengthAdjust="spacingAndGlyphs">07:00:00</text>
<text x="1025" y="802.60" font-size="12" textLength="59" lengthAdjust="spacingAndGlyphs">08:00:00</text>
<text x="126" y="834.60" font-size="12" text-anchor="end" textLength="59" lengthAdjust="spacingAndGlyphs">08:00:00</text>
<text x="1025" y="834.60" font-size="12" textLength="59" lengthAdjust="spacingAndGlyphs">09:00:00</text>
<text x="139.35" y="876.6" font-size="12.4" text-anchor="middle">0</text>
<text x="355.9" y="876.6" font-size="12.4" text-anchor="middle">15</text>
<text x="575.55" y="876.6" font-size="12.4" text-anchor="middle">30</text>
<text x="793.8" y="876.6" font-size="12.4" text-anchor="middle">45</text>
<text x="1011.93" y="876.6" font-size="12.4" text-anchor="middle">60</text>
<text x="574.7" y="895.7" font-size="12.6" text-anchor="middle" textLength="105.4" lengthAdjust="spacingAndGlyphs">time in minutes</text>
<text x="574.8" y="34" font-size="20" text-anchor="middle">2026-01-19 BK.LAKN.00.BHZ</text>
<text transform="translate(53.6 451.9) rotate(-90)" font-size="17.3" text-anchor="middle" textLength="253.6" lengthAdjust="spacingAndGlyphs">UTC (local time = UTC - 08:00)</text>
</svg></body></html>
